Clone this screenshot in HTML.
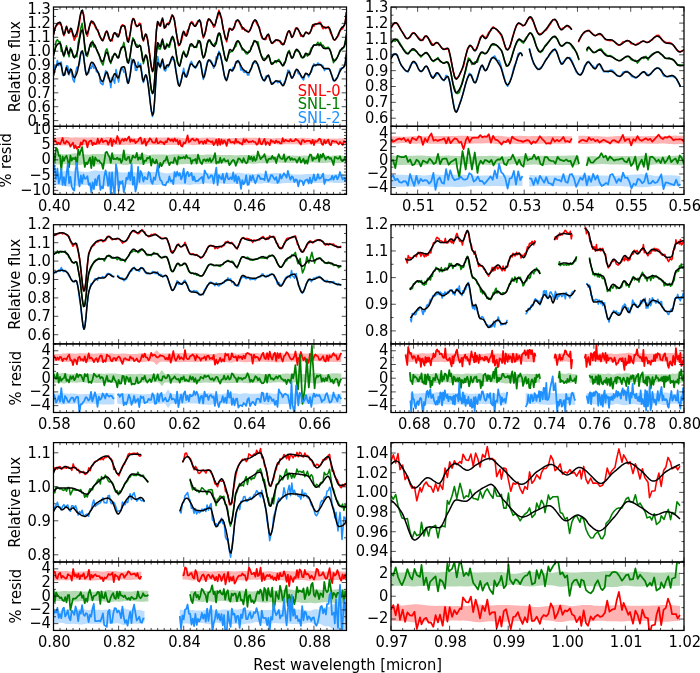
<!DOCTYPE html><html><head><meta charset="utf-8"><style>html,body{margin:0;padding:0;background:#fff;}svg{display:block;}</style></head><body><svg width="700" height="673" viewBox="0 0 700 673" font-family="DejaVu Sans, Liberation Sans, sans-serif" font-size="14.7"><rect width="700" height="673" fill="#fff"/><clipPath id="cm0"><rect x="53.5" y="7.0" width="293.0" height="119.3"/></clipPath><clipPath id="cr0"><rect x="53.5" y="126.3" width="293.0" height="68.10000000000001"/></clipPath><g clip-path="url(#cm0)"><path d="M53.5 34.7L54.8 28.6L56.1 25.8L57.4 24.8L58.7 23.3L60.0 24.0L61.3 25.2L62.6 29.7L63.9 35.8L65.2 32.0L66.5 26.3L67.8 31.5L69.1 33.2L70.4 31.2L71.7 31.1L73.0 35.3L74.3 40.2L75.6 37.2L76.9 36.1L78.2 29.3L79.5 22.5L80.8 13.4L82.1 11.9L83.5 14.0L84.8 24.3L86.1 33.0L87.4 36.3L88.7 29.8L90.0 24.4L91.3 21.0L92.6 23.6L93.9 23.7L95.2 26.9L96.5 29.5L97.8 29.7L99.1 34.9L100.4 37.3L101.7 38.8L103.0 40.7L104.3 36.8L105.6 32.6L106.9 31.0L108.2 36.0L109.5 39.5L110.8 39.7L112.1 40.9L113.4 34.1L114.7 32.7L116.0 34.7L117.3 33.9L118.6 35.4L119.9 32.8L121.2 26.3L122.5 24.8L123.8 25.5L125.1 26.6L126.4 35.4L127.7 40.8L129.0 38.1L130.3 33.0L131.6 23.0L132.9 18.6L134.2 19.1L135.5 24.8L136.8 26.6L138.1 25.7L139.4 23.1L140.7 24.0L142.1 36.6L143.4 41.1L144.7 35.4L146.0 35.9L147.3 38.2L148.6 46.5L149.9 55.4L151.2 65.4L152.5 71.7L153.8 68.0L155.1 51.3L156.4 30.0L157.7 22.3L159.0 24.8L160.3 26.3L161.6 21.0L162.9 19.6L164.2 28.2L165.5 27.4L166.8 24.4L168.1 23.0L169.4 22.4L170.7 19.3L172.0 14.8L173.3 16.6L174.6 20.3L175.9 30.0L177.2 37.7L178.5 45.7L179.8 44.5L181.1 42.2L182.4 36.7L183.7 31.7L185.0 35.2L186.3 35.8L187.6 30.2L188.9 28.7L190.2 23.9L191.5 21.6L192.8 22.7L194.1 25.4L195.4 25.9L196.7 23.1L198.0 20.8L199.3 21.1L200.7 22.6L202.0 30.7L203.3 37.9L204.6 34.8L205.9 30.5L207.2 21.9L208.5 19.0L209.8 19.4L211.1 22.0L212.4 23.5L213.7 27.3L215.0 25.9L216.3 19.6L217.6 17.1L218.9 10.3L220.2 15.7L221.5 18.0L222.8 27.1L224.1 32.4L225.4 38.4L226.7 41.8L228.0 34.2L229.3 28.2L230.6 29.2L231.9 30.3L233.2 29.2L234.5 27.0L235.8 20.9L237.1 20.7L238.4 20.5L239.7 23.4L241.0 25.9L242.3 29.1L243.6 27.7L244.9 30.4L246.2 30.0L247.5 31.5L248.8 32.2L250.1 30.0L251.4 27.1L252.7 23.1L254.0 21.0L255.3 20.3L256.6 23.2L257.9 25.7L259.3 27.0L260.6 33.8L261.9 37.9L263.2 39.0L264.5 38.5L265.8 39.6L267.1 35.7L268.4 34.9L269.7 39.3L271.0 41.7L272.3 43.4L273.6 42.1L274.9 41.5L276.2 39.7L277.5 40.7L278.8 40.5L280.1 42.0L281.4 44.1L282.7 43.3L284.0 44.1L285.3 39.7L286.6 35.4L287.9 32.0L289.2 30.7L290.5 33.0L291.8 37.4L293.1 35.9L294.4 32.3L295.7 27.9L297.0 27.8L298.3 29.5L299.6 32.8L300.9 36.1L302.2 35.6L303.5 35.9L304.8 33.9L306.1 32.1L307.4 32.9L308.7 33.8L310.0 32.4L311.3 30.4L312.6 24.9L313.9 26.5L315.2 24.0L316.5 24.1L317.9 23.5L319.2 22.2L320.5 22.6L321.8 26.5L323.1 28.8L324.4 26.7L325.7 28.5L327.0 27.5L328.3 26.5L329.6 29.8L330.9 33.7L332.2 35.7L333.5 39.3L334.8 40.2L336.1 38.6L337.4 37.1L338.7 34.9L340.0 30.8L341.3 29.4L342.6 28.8L343.9 25.9L345.2 22.7L346.5 12.2" stroke="#ff0000" stroke-width="1.55" fill="none" stroke-linejoin="round"/><path d="M53.5 53.9L54.8 51.0L56.1 41.2L57.4 39.7L58.7 41.9L60.0 41.5L61.3 51.4L62.6 51.1L63.9 56.6L65.2 51.0L66.5 45.8L67.8 52.7L69.1 56.7L70.4 47.7L71.7 51.0L73.0 54.9L74.3 57.6L75.6 55.2L76.9 56.8L78.2 42.6L79.5 37.3L80.8 28.4L82.1 23.2L83.5 33.7L84.8 49.0L86.1 55.4L87.4 56.4L88.7 51.0L90.0 44.8L91.3 46.7L92.6 41.1L93.9 47.2L95.2 45.4L96.5 49.4L97.8 52.8L99.1 55.2L100.4 59.9L101.7 62.9L103.0 65.2L104.3 58.7L105.6 50.9L106.9 48.8L108.2 53.3L109.5 59.4L110.8 63.5L112.1 56.9L113.4 55.7L114.7 53.3L116.0 54.8L117.3 56.8L118.6 57.8L119.9 52.2L121.2 49.4L122.5 47.4L123.8 42.4L125.1 49.1L126.4 57.2L127.7 62.3L129.0 60.4L130.3 55.5L131.6 45.1L132.9 37.9L134.2 40.1L135.5 44.0L136.8 44.4L138.1 47.1L139.4 44.9L140.7 46.9L142.1 53.7L143.4 63.6L144.7 58.1L146.0 55.4L147.3 58.3L148.6 67.5L149.9 77.5L151.2 90.3L152.5 93.4L153.8 90.6L155.1 74.0L156.4 52.9L157.7 44.6L159.0 48.9L160.3 48.9L161.6 44.8L162.9 42.2L164.2 48.2L165.5 48.9L166.8 43.5L168.1 46.7L169.4 47.3L170.7 41.9L172.0 38.5L173.3 39.2L174.6 42.1L175.9 51.8L177.2 61.7L178.5 64.0L179.8 65.6L181.1 60.3L182.4 54.6L183.7 51.0L185.0 54.8L186.3 55.4L187.6 53.6L188.9 48.7L190.2 44.4L191.5 45.9L192.8 45.5L194.1 47.5L195.4 47.1L196.7 47.4L198.0 40.4L199.3 40.7L200.7 45.1L202.0 53.8L203.3 57.9L204.6 56.0L205.9 51.3L207.2 43.9L208.5 41.2L209.8 39.9L211.1 43.6L212.4 45.0L213.7 45.4L215.0 43.1L216.3 43.6L217.6 37.2L218.9 34.6L220.2 33.8L221.5 41.6L222.8 47.4L224.1 53.6L225.4 59.8L226.7 61.3L228.0 56.3L229.3 52.9L230.6 51.7L231.9 51.6L233.2 50.2L234.5 47.7L235.8 46.4L237.1 42.3L238.4 40.9L239.7 43.1L241.0 46.5L242.3 49.9L243.6 49.3L244.9 51.9L246.2 53.7L247.5 53.9L248.8 51.1L250.1 50.9L251.4 46.5L252.7 45.2L254.0 40.5L255.3 41.6L256.6 42.3L257.9 41.7L259.3 47.9L260.6 53.5L261.9 56.7L263.2 58.7L264.5 58.4L265.8 58.7L267.1 57.8L268.4 54.9L269.7 58.1L271.0 63.1L272.3 62.8L273.6 62.9L274.9 60.9L276.2 62.6L277.5 60.5L278.8 59.3L280.1 61.3L281.4 63.9L282.7 65.7L284.0 62.8L285.3 62.3L286.6 56.8L287.9 52.3L289.2 50.5L290.5 55.4L291.8 57.9L293.1 57.2L294.4 53.3L295.7 50.4L297.0 51.0L298.3 50.9L299.6 52.2L300.9 57.0L302.2 58.0L303.5 57.4L304.8 56.3L306.1 53.7L307.4 56.1L308.7 54.3L310.0 51.5L311.3 48.2L312.6 47.3L313.9 44.7L315.2 44.9L316.5 44.5L317.9 42.2L319.2 45.6L320.5 42.5L321.8 45.2L323.1 45.2L324.4 47.3L325.7 48.6L327.0 47.6L328.3 47.2L329.6 49.1L330.9 52.1L332.2 57.6L333.5 62.7L334.8 59.9L336.1 58.7L337.4 56.9L338.7 54.1L340.0 50.1L341.3 49.6L342.6 48.8L343.9 47.4L345.2 41.8L346.5 35.3" stroke="#008000" stroke-width="1.55" fill="none" stroke-linejoin="round"/><path d="M53.5 70.5L54.8 66.4L56.1 66.8L57.4 60.4L58.7 65.6L60.0 63.6L61.3 62.0L62.6 74.9L63.9 75.4L65.2 74.5L66.5 65.8L67.8 66.3L69.1 74.9L70.4 68.7L71.7 73.6L73.0 79.6L74.3 82.2L75.6 72.8L76.9 67.2L78.2 67.0L79.5 63.4L80.8 52.2L82.1 52.8L83.5 53.7L84.8 65.8L86.1 74.1L87.4 73.4L88.7 72.9L90.0 67.5L91.3 68.3L92.6 64.1L93.9 68.4L95.2 66.6L96.5 71.8L97.8 71.6L99.1 73.6L100.4 82.6L101.7 84.0L103.0 84.7L104.3 77.2L105.6 70.8L106.9 71.6L108.2 78.1L109.5 78.2L110.8 87.6L112.1 77.3L113.4 79.5L114.7 83.2L116.0 69.5L117.3 75.1L118.6 82.0L119.9 73.6L121.2 69.9L122.5 68.0L123.8 72.1L125.1 72.0L126.4 76.5L127.7 83.4L129.0 79.2L130.3 74.4L131.6 58.9L132.9 62.5L134.2 60.4L135.5 70.2L136.8 70.4L138.1 62.1L139.4 67.2L140.7 63.9L142.1 75.0L143.4 82.6L144.7 76.9L146.0 74.7L147.3 79.3L148.6 86.2L149.9 98.0L151.2 110.3L152.5 116.5L153.8 110.8L155.1 93.8L156.4 71.2L157.7 56.5L159.0 63.5L160.3 67.9L161.6 62.4L162.9 62.7L164.2 70.2L165.5 71.0L166.8 66.3L168.1 67.1L169.4 63.6L170.7 61.7L172.0 57.7L173.3 59.8L174.6 60.2L175.9 70.4L177.2 76.9L178.5 84.2L179.8 83.9L181.1 81.4L182.4 74.0L183.7 68.3L185.0 76.7L186.3 75.4L187.6 71.7L188.9 68.4L190.2 63.4L191.5 61.4L192.8 65.8L194.1 66.1L195.4 68.4L196.7 66.4L198.0 63.7L199.3 61.2L200.7 63.3L202.0 71.0L203.3 79.4L204.6 73.0L205.9 68.2L207.2 62.3L208.5 60.1L209.8 60.0L211.1 60.9L212.4 63.5L213.7 68.3L215.0 64.6L216.3 56.9L217.6 58.8L218.9 51.2L220.2 54.1L221.5 60.2L222.8 65.0L224.1 75.5L225.4 78.8L226.7 78.6L228.0 76.1L229.3 70.6L230.6 69.2L231.9 71.1L233.2 67.4L234.5 67.9L235.8 61.9L237.1 62.9L238.4 60.5L239.7 63.8L241.0 70.1L242.3 69.0L243.6 72.0L244.9 72.4L246.2 70.7L247.5 75.0L248.8 75.0L250.1 69.8L251.4 68.5L252.7 63.0L254.0 62.0L255.3 62.9L256.6 63.0L257.9 64.2L259.3 68.5L260.6 73.8L261.9 77.4L263.2 80.0L264.5 81.1L265.8 76.2L267.1 75.9L268.4 76.2L269.7 78.6L271.0 82.1L272.3 83.2L273.6 82.8L274.9 82.0L276.2 80.5L277.5 82.6L278.8 82.4L280.1 80.5L281.4 84.1L282.7 84.9L284.0 83.1L285.3 80.2L286.6 76.6L287.9 70.1L289.2 70.7L290.5 75.5L291.8 77.6L293.1 76.6L294.4 74.8L295.7 70.5L297.0 70.1L298.3 73.8L299.6 73.7L300.9 76.3L302.2 78.3L303.5 80.0L304.8 75.3L306.1 73.7L307.4 74.5L308.7 76.9L310.0 73.3L311.3 72.1L312.6 67.2L313.9 63.8L315.2 66.0L316.5 65.3L317.9 62.9L319.2 64.7L320.5 64.5L321.8 65.2L323.1 65.9L324.4 70.6L325.7 68.8L327.0 69.0L328.3 69.1L329.6 69.6L330.9 73.0L332.2 76.0L333.5 80.7L334.8 80.2L336.1 78.6L337.4 77.6L338.7 73.7L340.0 68.9L341.3 68.2L342.6 68.2L343.9 66.7L345.2 63.9L346.5 52.4" stroke="#1e90ff" stroke-width="1.55" fill="none" stroke-linejoin="round"/><path d="M53.5 34.9L54.5 30.3L55.5 27.0L56.5 24.7L57.5 23.4L58.5 22.6L59.5 22.3L60.5 22.5L61.5 25.9L62.5 30.9L63.5 34.5L64.5 33.8L65.5 29.5L66.5 26.4L67.5 29.4L68.5 33.0L69.5 31.1L70.5 28.3L71.5 28.7L72.5 32.3L73.5 36.0L74.5 36.7L75.5 35.3L76.5 33.2L77.5 30.1L78.5 25.1L79.5 19.4L80.5 14.2L81.5 10.6L82.5 10.1L83.5 14.9L84.5 22.7L85.5 30.2L86.5 34.0L87.5 32.9L88.5 30.0L89.5 26.2L90.5 22.9L91.5 21.2L92.5 21.4L93.5 22.4L94.5 24.0L95.5 26.0L96.5 28.2L97.5 30.4L98.5 32.4L99.5 34.9L100.5 37.7L101.5 39.8L102.5 40.6L103.5 39.1L104.5 36.2L105.5 33.1L106.5 31.2L107.5 32.0L108.5 35.5L109.5 39.3L110.5 41.1L111.5 40.0L112.5 37.4L113.5 34.6L114.5 32.7L115.5 32.9L116.5 34.9L117.5 36.8L118.5 36.8L119.5 33.4L120.5 28.9L121.5 26.4L122.5 25.9L123.5 25.7L124.5 25.9L125.5 30.0L126.5 36.3L127.5 41.4L128.5 42.1L129.5 38.1L130.5 31.6L131.5 24.7L132.5 19.7L133.5 18.6L134.5 20.6L135.5 23.7L136.5 26.0L137.5 26.3L138.5 25.5L139.5 24.7L140.5 25.0L141.5 30.9L142.5 38.4L143.5 40.3L144.5 37.1L145.5 33.9L146.5 34.6L147.5 39.1L148.5 45.9L149.5 53.9L150.5 61.6L151.5 67.8L152.5 71.4L153.5 69.6L154.5 59.0L155.5 44.1L156.5 29.9L157.5 21.6L158.5 22.3L159.5 25.5L160.5 25.7L161.5 20.8L162.5 18.0L163.5 22.5L164.5 27.9L165.5 27.3L166.5 24.4L167.5 23.9L168.5 24.8L169.5 23.2L170.5 20.1L171.5 17.0L172.5 15.4L173.5 16.9L174.5 21.2L175.5 27.4L176.5 34.0L177.5 40.0L178.5 44.1L179.5 45.2L180.5 42.7L181.5 38.2L182.5 33.7L183.5 31.2L184.5 32.4L185.5 35.4L186.5 36.0L187.5 33.7L188.5 30.0L189.5 26.1L190.5 23.3L191.5 22.7L192.5 23.6L193.5 25.1L194.5 26.2L195.5 26.2L196.5 24.8L197.5 22.8L198.5 20.9L199.5 19.8L200.5 21.7L201.5 27.6L202.5 33.9L203.5 36.8L204.5 35.1L205.5 31.1L206.5 26.1L207.5 21.6L208.5 19.1L209.5 19.2L210.5 20.4L211.5 22.0L212.5 23.7L213.5 25.0L214.5 25.5L215.5 23.5L216.5 19.5L217.5 15.1L218.5 12.2L219.5 12.1L220.5 14.6L221.5 18.9L222.5 24.3L223.5 29.8L224.5 34.7L225.5 38.2L226.5 39.6L227.5 37.2L228.5 32.5L229.5 28.7L230.5 28.6L231.5 29.5L232.5 29.7L233.5 28.3L234.5 25.8L235.5 23.0L236.5 20.7L237.5 19.8L238.5 20.4L239.5 21.9L240.5 23.8L241.5 25.9L242.5 27.6L243.5 28.7L244.5 29.5L245.5 30.4L246.5 31.1L247.5 31.5L248.5 31.7L249.5 31.0L250.5 29.1L251.5 26.6L252.5 23.9L253.5 21.6L254.5 20.1L255.5 19.9L256.5 21.1L257.5 23.2L258.5 26.0L259.5 29.2L260.5 32.4L261.5 35.4L262.5 37.8L263.5 39.3L264.5 39.5L265.5 38.3L266.5 36.3L267.5 34.6L268.5 34.1L269.5 36.7L270.5 40.7L271.5 43.3L272.5 43.1L273.5 42.1L274.5 41.0L275.5 40.1L276.5 40.0L277.5 40.1L278.5 40.3L279.5 40.6L280.5 41.5L281.5 43.2L282.5 44.7L283.5 44.6L284.5 42.7L285.5 39.7L286.5 36.2L287.5 33.0L288.5 31.0L289.5 31.0L290.5 34.0L291.5 37.0L292.5 37.0L293.5 35.0L294.5 32.1L295.5 29.6L296.5 28.3L297.5 28.7L298.5 30.0L299.5 31.8L300.5 33.7L301.5 35.4L302.5 36.5L303.5 36.6L304.5 34.3L305.5 32.2L306.5 32.4L307.5 33.2L308.5 33.9L309.5 33.6L310.5 31.5L311.5 28.7L312.5 26.0L313.5 24.5L314.5 24.3L315.5 24.1L316.5 23.9L317.5 23.8L318.5 23.7L319.5 23.6L320.5 23.7L321.5 24.6L322.5 26.1L323.5 27.2L324.5 27.4L325.5 27.4L326.5 27.4L327.5 27.4L328.5 27.4L329.5 28.1L330.5 30.5L331.5 33.7L332.5 36.9L333.5 39.3L334.5 40.0L335.5 39.3L336.5 37.9L337.5 36.0L338.5 33.8L339.5 31.5L340.5 29.5L341.5 27.9L342.5 26.9L343.5 26.3L344.5 25.1L345.5 20.1L346.5 12.0" stroke="#000" stroke-width="1.5" fill="none" stroke-linejoin="round"/><path d="M53.5 55.9L54.5 51.3L55.5 48.0L56.5 45.7L57.5 44.4L58.5 43.6L59.5 43.3L60.5 43.5L61.5 46.9L62.5 51.9L63.5 55.5L64.5 54.8L65.5 50.5L66.5 47.4L67.5 50.4L68.5 54.0L69.5 52.1L70.5 49.3L71.5 49.7L72.5 53.3L73.5 57.0L74.5 57.7L75.5 56.3L76.5 54.2L77.5 51.0L78.5 45.7L79.5 39.7L80.5 34.2L81.5 30.5L82.5 29.9L83.5 34.9L84.5 43.2L85.5 51.0L86.5 55.0L87.5 53.9L88.5 51.0L89.5 47.2L90.5 43.9L91.5 42.2L92.5 42.4L93.5 43.4L94.5 45.0L95.5 47.0L96.5 49.2L97.5 51.4L98.5 53.4L99.5 55.9L100.5 58.7L101.5 60.8L102.5 61.6L103.5 60.1L104.5 57.2L105.5 54.1L106.5 52.2L107.5 53.0L108.5 56.5L109.5 60.3L110.5 62.1L111.5 61.0L112.5 58.4L113.5 55.6L114.5 53.7L115.5 53.9L116.5 55.9L117.5 57.8L118.5 57.8L119.5 54.4L120.5 49.9L121.5 47.4L122.5 46.9L123.5 46.7L124.5 46.9L125.5 51.0L126.5 57.3L127.5 62.4L128.5 63.1L129.5 59.1L130.5 52.6L131.5 45.7L132.5 40.7L133.5 39.6L134.5 41.6L135.5 44.7L136.5 47.0L137.5 47.3L138.5 46.5L139.5 45.7L140.5 46.0L141.5 51.9L142.5 59.4L143.5 61.3L144.5 58.1L145.5 54.9L146.5 55.7L147.5 60.3L148.5 67.4L149.5 75.5L150.5 83.5L151.5 90.0L152.5 93.6L153.5 91.9L154.5 81.0L155.5 65.7L156.5 51.1L157.5 42.7L158.5 43.3L159.5 46.5L160.5 46.7L161.5 41.8L162.5 39.0L163.5 43.5L164.5 48.9L165.5 48.3L166.5 45.4L167.5 44.9L168.5 45.8L169.5 44.2L170.5 41.1L171.5 38.0L172.5 36.4L173.5 37.9L174.5 42.2L175.5 48.4L176.5 55.0L177.5 61.0L178.5 65.1L179.5 66.2L180.5 63.7L181.5 59.2L182.5 54.7L183.5 52.2L184.5 53.4L185.5 56.4L186.5 57.0L187.5 54.7L188.5 51.0L189.5 47.1L190.5 44.3L191.5 43.7L192.5 44.6L193.5 46.1L194.5 47.2L195.5 47.2L196.5 45.8L197.5 43.8L198.5 41.9L199.5 40.8L200.5 42.7L201.5 48.6L202.5 54.9L203.5 57.8L204.5 56.1L205.5 52.1L206.5 47.1L207.5 42.6L208.5 40.1L209.5 40.2L210.5 41.4L211.5 43.0L212.5 44.7L213.5 46.0L214.5 46.5L215.5 44.5L216.5 40.5L217.5 36.1L218.5 33.2L219.5 33.1L220.5 35.6L221.5 39.9L222.5 45.3L223.5 50.8L224.5 55.7L225.5 59.2L226.5 60.6L227.5 58.2L228.5 53.5L229.5 49.7L230.5 49.6L231.5 50.5L232.5 50.7L233.5 49.3L234.5 46.8L235.5 44.0L236.5 41.7L237.5 40.8L238.5 41.4L239.5 42.9L240.5 44.8L241.5 46.9L242.5 48.6L243.5 49.7L244.5 50.5L245.5 51.4L246.5 52.1L247.5 52.5L248.5 52.7L249.5 52.0L250.5 50.1L251.5 47.6L252.5 44.9L253.5 42.6L254.5 41.1L255.5 40.9L256.5 42.1L257.5 44.2L258.5 47.0L259.5 50.2L260.5 53.4L261.5 56.4L262.5 58.8L263.5 60.3L264.5 60.5L265.5 59.3L266.5 57.3L267.5 55.6L268.5 55.1L269.5 57.7L270.5 61.7L271.5 64.3L272.5 64.1L273.5 63.1L274.5 62.0L275.5 61.1L276.5 61.0L277.5 61.1L278.5 61.3L279.5 61.6L280.5 62.5L281.5 64.2L282.5 65.7L283.5 65.6L284.5 63.7L285.5 60.7L286.5 57.2L287.5 54.0L288.5 52.0L289.5 52.0L290.5 55.0L291.5 58.0L292.5 58.0L293.5 56.0L294.5 53.1L295.5 50.6L296.5 49.3L297.5 49.7L298.5 51.0L299.5 52.8L300.5 54.7L301.5 56.4L302.5 57.5L303.5 57.6L304.5 55.3L305.5 53.2L306.5 53.4L307.5 54.2L308.5 54.9L309.5 54.6L310.5 52.5L311.5 49.7L312.5 47.0L313.5 45.5L314.5 45.3L315.5 45.1L316.5 44.9L317.5 44.8L318.5 44.7L319.5 44.6L320.5 44.7L321.5 45.6L322.5 47.1L323.5 48.2L324.5 48.4L325.5 48.4L326.5 48.4L327.5 48.4L328.5 48.4L329.5 49.1L330.5 51.5L331.5 54.7L332.5 57.9L333.5 60.3L334.5 61.0L335.5 60.3L336.5 58.9L337.5 57.0L338.5 54.8L339.5 52.5L340.5 50.5L341.5 48.9L342.5 47.9L343.5 47.3L344.5 46.1L345.5 41.1L346.5 33.0" stroke="#000" stroke-width="1.5" fill="none" stroke-linejoin="round"/><path d="M53.5 75.9L54.5 71.3L55.5 68.0L56.5 65.7L57.5 64.4L58.5 63.6L59.5 63.3L60.5 63.5L61.5 66.9L62.5 71.9L63.5 75.5L64.5 74.8L65.5 70.5L66.5 67.4L67.5 70.4L68.5 74.0L69.5 72.1L70.5 69.3L71.5 69.7L72.5 73.4L73.5 77.0L74.5 77.7L75.5 76.3L76.5 74.2L77.5 71.0L78.5 66.0L79.5 60.3L80.5 55.0L81.5 51.4L82.5 50.9L83.5 55.7L84.5 63.6L85.5 71.2L86.5 75.0L87.5 73.9L88.5 71.0L89.5 67.2L90.5 63.9L91.5 62.2L92.5 62.4L93.5 63.4L94.5 65.0L95.5 67.0L96.5 69.2L97.5 71.4L98.5 73.4L99.5 75.9L100.5 78.7L101.5 80.8L102.5 81.6L103.5 80.1L104.5 77.2L105.5 74.1L106.5 72.2L107.5 73.0L108.5 76.5L109.5 80.3L110.5 82.1L111.5 81.0L112.5 78.4L113.5 75.6L114.5 73.7L115.5 73.9L116.5 75.9L117.5 77.8L118.5 77.8L119.5 74.4L120.5 69.9L121.5 67.4L122.5 66.9L123.5 66.7L124.5 66.9L125.5 71.0L126.5 77.3L127.5 82.4L128.5 83.1L129.5 79.1L130.5 72.6L131.5 65.7L132.5 60.7L133.5 59.6L134.5 61.6L135.5 64.7L136.5 67.0L137.5 67.3L138.5 66.5L139.5 65.7L140.5 66.0L141.5 71.9L142.5 79.4L143.5 81.3L144.5 78.1L145.5 74.9L146.5 75.7L147.5 80.5L148.5 87.9L149.5 96.4L150.5 104.7L151.5 111.4L152.5 115.2L153.5 113.4L154.5 102.2L155.5 86.4L156.5 71.4L157.5 62.7L158.5 63.3L159.5 66.5L160.5 66.7L161.5 61.8L162.5 59.0L163.5 63.5L164.5 68.9L165.5 68.3L166.5 65.4L167.5 64.9L168.5 65.8L169.5 64.2L170.5 61.1L171.5 58.0L172.5 56.4L173.5 57.9L174.5 62.2L175.5 68.4L176.5 75.0L177.5 81.0L178.5 85.1L179.5 86.2L180.5 83.7L181.5 79.2L182.5 74.7L183.5 72.2L184.5 73.4L185.5 76.4L186.5 77.0L187.5 74.7L188.5 71.0L189.5 67.1L190.5 64.3L191.5 63.7L192.5 64.6L193.5 66.1L194.5 67.2L195.5 67.2L196.5 65.8L197.5 63.8L198.5 61.9L199.5 60.8L200.5 62.7L201.5 68.6L202.5 74.9L203.5 77.8L204.5 76.1L205.5 72.1L206.5 67.1L207.5 62.6L208.5 60.1L209.5 60.2L210.5 61.4L211.5 63.0L212.5 64.7L213.5 66.0L214.5 66.5L215.5 64.5L216.5 60.5L217.5 56.1L218.5 53.2L219.5 53.1L220.5 55.6L221.5 59.9L222.5 65.3L223.5 70.8L224.5 75.7L225.5 79.2L226.5 80.6L227.5 78.2L228.5 73.5L229.5 69.7L230.5 69.6L231.5 70.5L232.5 70.7L233.5 69.3L234.5 66.8L235.5 64.0L236.5 61.7L237.5 60.8L238.5 61.4L239.5 62.9L240.5 64.8L241.5 66.9L242.5 68.6L243.5 69.7L244.5 70.5L245.5 71.4L246.5 72.1L247.5 72.5L248.5 72.7L249.5 72.0L250.5 70.1L251.5 67.6L252.5 64.9L253.5 62.6L254.5 61.1L255.5 60.9L256.5 62.1L257.5 64.2L258.5 67.0L259.5 70.2L260.5 73.4L261.5 76.4L262.5 78.8L263.5 80.3L264.5 80.5L265.5 79.3L266.5 77.3L267.5 75.6L268.5 75.1L269.5 77.7L270.5 81.7L271.5 84.3L272.5 84.1L273.5 83.1L274.5 82.0L275.5 81.1L276.5 81.0L277.5 81.1L278.5 81.3L279.5 81.6L280.5 82.5L281.5 84.2L282.5 85.7L283.5 85.6L284.5 83.7L285.5 80.7L286.5 77.2L287.5 74.0L288.5 72.0L289.5 72.0L290.5 75.0L291.5 78.0L292.5 78.0L293.5 76.0L294.5 73.1L295.5 70.6L296.5 69.3L297.5 69.7L298.5 71.0L299.5 72.8L300.5 74.7L301.5 76.4L302.5 77.5L303.5 77.6L304.5 75.3L305.5 73.2L306.5 73.4L307.5 74.2L308.5 74.9L309.5 74.6L310.5 72.5L311.5 69.7L312.5 67.0L313.5 65.5L314.5 65.3L315.5 65.1L316.5 64.9L317.5 64.8L318.5 64.7L319.5 64.6L320.5 64.7L321.5 65.6L322.5 67.1L323.5 68.2L324.5 68.4L325.5 68.4L326.5 68.4L327.5 68.4L328.5 68.4L329.5 69.1L330.5 71.5L331.5 74.7L332.5 77.9L333.5 80.3L334.5 81.0L335.5 80.3L336.5 78.9L337.5 77.0L338.5 74.8L339.5 72.5L340.5 70.5L341.5 68.9L342.5 67.9L343.5 67.3L344.5 66.1L345.5 61.1L346.5 53.0" stroke="#000" stroke-width="1.5" fill="none" stroke-linejoin="round"/></g><g clip-path="url(#cr0)"><path d="M53.5 137.2L54.8 137.3L56.1 137.4L57.4 137.4L58.7 137.3L60.0 137.2L61.3 137.0L62.6 136.9L63.9 136.9L65.2 136.9L66.5 136.9L67.8 137.1L69.1 137.3L70.4 137.5L71.7 137.5L73.0 137.5L74.3 137.4L75.6 137.3L76.9 137.3L78.2 137.4L79.5 137.5L80.8 137.5L82.1 137.5L83.5 137.4L84.8 137.4L86.1 137.5L87.4 137.5L88.7 137.5L90.0 137.5L91.3 137.4L92.6 137.3L93.9 137.3L95.2 137.4L96.5 137.5L97.8 137.6L99.1 137.6L100.4 137.6L101.7 137.5L103.0 137.4L104.3 137.4L105.6 137.2L106.9 137.1L108.2 137.0L109.5 137.0L110.8 137.1L112.1 137.3L113.4 137.5L114.7 137.6L116.0 137.6L117.3 137.6L118.6 137.5L119.9 137.4L121.2 137.4L122.5 137.4L123.8 137.5L125.1 137.6L126.4 137.7L127.7 137.7L129.0 137.6L130.3 137.6L131.6 137.7L132.9 137.7L134.2 137.8L135.5 137.9L136.8 137.9L138.1 137.9L139.4 137.9L140.7 137.8L142.1 137.7L143.4 137.7L144.7 137.7L146.0 137.7L147.3 137.8L148.6 137.8L149.9 137.8L151.2 137.7L152.5 137.7L153.8 137.6L155.1 137.6L156.4 137.6L157.7 137.6L159.0 137.7L160.3 137.6L161.6 137.6L162.9 137.6L164.2 137.5L165.5 137.5L166.8 137.5L168.1 137.5L169.4 137.6L170.7 137.6L172.0 137.5L173.3 137.5L174.6 137.5L175.9 137.4L177.2 137.4L178.5 137.5L179.8 137.7L181.1 137.9L182.4 138.0L183.7 138.1L185.0 138.2L186.3 138.2L187.6 138.1L188.9 137.9L190.2 137.7L191.5 137.5L192.8 137.3L194.1 137.3L195.4 137.4L196.7 137.6L198.0 137.7L199.3 137.9L200.7 137.9L202.0 137.8L203.3 137.7L204.6 137.7L205.9 137.6L207.2 137.6L208.5 137.6L209.8 137.6L211.1 137.5L212.4 137.5L213.7 137.6L215.0 137.8L216.3 137.9L217.6 138.0L218.9 138.1L220.2 138.1L221.5 138.1L222.8 138.1L224.1 138.2L225.4 138.3L226.7 138.4L228.0 138.4L229.3 138.3L230.6 138.2L231.9 138.1L233.2 138.0L234.5 138.0L235.8 138.1L237.1 138.1L238.4 138.1L239.7 138.0L241.0 137.8L242.3 137.7L243.6 137.5L244.9 137.5L246.2 137.6L247.5 137.7L248.8 137.8L250.1 137.8L251.4 137.8L252.7 137.7L254.0 137.7L255.3 137.7L256.6 137.7L257.9 137.8L259.3 137.8L260.6 137.8L261.9 137.9L263.2 138.0L264.5 138.0L265.8 138.0L267.1 138.1L268.4 138.1L269.7 138.2L271.0 138.3L272.3 138.4L273.6 138.3L274.9 138.2L276.2 138.1L277.5 138.1L278.8 138.0L280.1 138.0L281.4 138.0L282.7 138.1L284.0 138.2L285.3 138.2L286.6 138.3L287.9 138.3L289.2 138.3L290.5 138.3L291.8 138.3L293.1 138.3L294.4 138.3L295.7 138.3L297.0 138.2L298.3 138.1L299.6 138.0L300.9 137.8L302.2 137.7L303.5 137.7L304.8 137.8L306.1 137.9L307.4 138.1L308.7 138.2L310.0 138.3L311.3 138.4L312.6 138.6L313.9 138.6L315.2 138.7L316.5 138.7L317.9 138.6L319.2 138.5L320.5 138.4L321.8 138.4L323.1 138.4L324.4 138.4L325.7 138.5L327.0 138.5L328.3 138.5L329.6 138.5L330.9 138.5L332.2 138.5L333.5 138.5L334.8 138.6L336.1 138.6L337.4 138.7L338.7 138.6L340.0 138.5L341.3 138.4L342.6 138.3L343.9 138.1L345.2 138.1L346.5 138.1L346.5 144.4L345.2 144.4L343.9 144.3L342.6 144.2L341.3 144.1L340.0 144.0L338.7 143.9L337.4 143.8L336.1 143.9L334.8 143.9L333.5 144.0L332.2 144.0L330.9 144.0L329.6 144.0L328.3 144.0L327.0 144.0L325.7 144.0L324.4 144.1L323.1 144.1L321.8 144.1L320.5 144.1L319.2 144.0L317.9 143.9L316.5 143.8L315.2 143.8L313.9 143.8L312.6 143.9L311.3 144.1L310.0 144.2L308.7 144.3L307.4 144.4L306.1 144.6L304.8 144.7L303.5 144.8L302.2 144.7L300.9 144.7L299.6 144.5L298.3 144.4L297.0 144.3L295.7 144.2L294.4 144.2L293.1 144.2L291.8 144.2L290.5 144.2L289.2 144.2L287.9 144.2L286.6 144.2L285.3 144.2L284.0 144.3L282.7 144.4L281.4 144.5L280.1 144.5L278.8 144.5L277.5 144.4L276.2 144.3L274.9 144.3L273.6 144.2L272.3 144.1L271.0 144.2L269.7 144.3L268.4 144.3L267.1 144.4L265.8 144.4L264.5 144.5L263.2 144.5L261.9 144.6L260.6 144.7L259.3 144.7L257.9 144.7L256.6 144.8L255.3 144.8L254.0 144.8L252.7 144.8L251.4 144.7L250.1 144.7L248.8 144.7L247.5 144.8L246.2 144.9L244.9 145.0L243.6 145.0L242.3 144.8L241.0 144.7L239.7 144.5L238.4 144.4L237.1 144.3L235.8 144.4L234.5 144.5L233.2 144.5L231.9 144.4L230.6 144.3L229.3 144.2L228.0 144.1L226.7 144.1L225.4 144.2L224.1 144.3L222.8 144.4L221.5 144.4L220.2 144.4L218.9 144.4L217.6 144.4L216.3 144.5L215.0 144.7L213.7 144.9L212.4 145.0L211.1 145.0L209.8 144.9L208.5 144.9L207.2 144.8L205.9 144.8L204.6 144.8L203.3 144.8L202.0 144.7L200.7 144.6L199.3 144.6L198.0 144.8L196.7 144.9L195.4 145.1L194.1 145.2L192.8 145.2L191.5 145.0L190.2 144.8L188.9 144.6L187.6 144.4L186.3 144.3L185.0 144.3L183.7 144.4L182.4 144.5L181.1 144.6L179.8 144.8L178.5 145.0L177.2 145.1L175.9 145.1L174.6 145.0L173.3 145.0L172.0 144.9L170.7 144.9L169.4 144.9L168.1 145.0L166.8 145.0L165.5 145.0L164.2 145.0L162.9 144.9L161.6 144.9L160.3 144.9L159.0 144.8L157.7 144.8L156.4 144.9L155.1 144.9L153.8 144.8L152.5 144.8L151.2 144.8L149.9 144.7L148.6 144.7L147.3 144.7L146.0 144.8L144.7 144.8L143.4 144.8L142.1 144.8L140.7 144.7L139.4 144.6L138.1 144.6L136.8 144.6L135.5 144.6L134.2 144.7L132.9 144.8L131.6 144.8L130.3 144.9L129.0 144.9L127.7 144.8L126.4 144.8L125.1 144.9L123.8 145.0L122.5 145.0L121.2 145.1L119.9 145.1L118.6 145.0L117.3 144.9L116.0 144.9L114.7 144.9L113.4 145.0L112.1 145.2L110.8 145.4L109.5 145.5L108.2 145.5L106.9 145.4L105.6 145.3L104.3 145.1L103.0 145.0L101.7 145.0L100.4 144.9L99.1 144.8L97.8 144.9L96.5 145.0L95.2 145.1L93.9 145.2L92.6 145.2L91.3 145.1L90.0 145.0L88.7 145.0L87.4 145.0L86.1 145.0L84.8 145.1L83.5 145.1L82.1 145.0L80.8 145.0L79.5 145.0L78.2 145.1L76.9 145.2L75.6 145.2L74.3 145.1L73.0 145.0L71.7 145.0L70.4 145.0L69.1 145.2L67.8 145.4L66.5 145.5L65.2 145.6L63.9 145.6L62.6 145.6L61.3 145.5L60.0 145.3L58.7 145.2L57.4 145.1L56.1 145.1L54.8 145.2L53.5 145.2Z" fill="#ff0000" fill-opacity="0.3"/><path d="M53.5 154.2L54.8 154.1L56.1 154.1L57.4 154.1L58.7 154.1L60.0 154.1L61.3 154.2L62.6 154.3L63.9 154.3L65.2 154.3L66.5 154.2L67.8 154.1L69.1 153.9L70.4 153.7L71.7 153.5L73.0 153.4L74.3 153.3L75.6 153.2L76.9 153.3L78.2 153.4L79.5 153.6L80.8 153.8L82.1 154.0L83.5 154.2L84.8 154.3L86.1 154.5L87.4 154.5L88.7 154.5L90.0 154.4L91.3 154.2L92.6 154.0L93.9 153.9L95.2 153.9L96.5 154.0L97.8 154.1L99.1 154.0L100.4 153.9L101.7 153.9L103.0 154.0L104.3 154.2L105.6 154.5L106.9 154.7L108.2 154.7L109.5 154.6L110.8 154.4L112.1 154.3L113.4 154.2L114.7 154.1L116.0 154.2L117.3 154.2L118.6 154.2L119.9 154.2L121.2 154.0L122.5 153.8L123.8 153.6L125.1 153.5L126.4 153.6L127.7 153.8L129.0 154.0L130.3 154.2L131.6 154.4L132.9 154.4L134.2 154.4L135.5 154.3L136.8 154.3L138.1 154.2L139.4 154.1L140.7 154.0L142.1 154.0L143.4 154.1L144.7 154.3L146.0 154.6L147.3 154.8L148.6 154.9L149.9 154.9L151.2 154.8L152.5 154.6L153.8 154.5L155.1 154.4L156.4 154.5L157.7 154.5L159.0 154.6L160.3 154.6L161.6 154.6L162.9 154.6L164.2 154.6L165.5 154.6L166.8 154.7L168.1 154.7L169.4 154.7L170.7 154.6L172.0 154.5L173.3 154.3L174.6 154.2L175.9 154.2L177.2 154.2L178.5 154.3L179.8 154.3L181.1 154.3L182.4 154.3L183.7 154.3L185.0 154.4L186.3 154.5L187.6 154.6L188.9 154.6L190.2 154.5L191.5 154.4L192.8 154.2L194.1 154.2L195.4 154.3L196.7 154.5L198.0 154.8L199.3 155.0L200.7 155.1L202.0 155.1L203.3 154.9L204.6 154.7L205.9 154.5L207.2 154.4L208.5 154.4L209.8 154.5L211.1 154.6L212.4 154.8L213.7 154.9L215.0 154.9L216.3 154.9L217.6 155.0L218.9 155.0L220.2 155.1L221.5 155.1L222.8 155.1L224.1 155.0L225.4 155.0L226.7 154.9L228.0 155.0L229.3 155.0L230.6 155.1L231.9 155.1L233.2 155.3L234.5 155.3L235.8 155.4L237.1 155.3L238.4 155.2L239.7 155.0L241.0 154.9L242.3 154.9L243.6 154.9L244.9 154.9L246.2 154.9L247.5 155.0L248.8 155.0L250.1 154.9L251.4 154.8L252.7 154.7L254.0 154.6L255.3 154.7L256.6 154.9L257.9 155.1L259.3 155.2L260.6 155.3L261.9 155.2L263.2 155.2L264.5 155.2L265.8 155.2L267.1 155.3L268.4 155.5L269.7 155.6L271.0 155.8L272.3 155.9L273.6 155.9L274.9 156.0L276.2 156.1L277.5 156.1L278.8 156.0L280.1 155.8L281.4 155.6L282.7 155.5L284.0 155.4L285.3 155.4L286.6 155.4L287.9 155.4L289.2 155.4L290.5 155.4L291.8 155.5L293.1 155.6L294.4 155.7L295.7 155.8L297.0 155.8L298.3 155.8L299.6 155.8L300.9 155.7L302.2 155.7L303.5 155.6L304.8 155.6L306.1 155.6L307.4 155.7L308.7 155.8L310.0 155.9L311.3 155.9L312.6 156.0L313.9 155.9L315.2 155.8L316.5 155.7L317.9 155.6L319.2 155.5L320.5 155.5L321.8 155.4L323.1 155.4L324.4 155.4L325.7 155.5L327.0 155.6L328.3 155.8L329.6 155.9L330.9 155.9L332.2 155.7L333.5 155.6L334.8 155.5L336.1 155.3L337.4 155.3L338.7 155.3L340.0 155.4L341.3 155.6L342.6 155.8L343.9 156.1L345.2 156.3L346.5 156.4L346.5 162.1L345.2 162.2L343.9 162.4L342.6 162.7L341.3 162.9L340.0 163.1L338.7 163.2L337.4 163.2L336.1 163.1L334.8 163.0L333.5 162.9L332.2 162.7L330.9 162.6L329.6 162.6L328.3 162.7L327.0 162.8L325.7 163.0L324.4 163.1L323.1 163.1L321.8 163.1L320.5 163.0L319.2 163.0L317.9 162.9L316.5 162.8L315.2 162.7L313.9 162.6L312.6 162.5L311.3 162.5L310.0 162.6L308.7 162.7L307.4 162.8L306.1 162.9L304.8 162.9L303.5 162.9L302.2 162.8L300.9 162.8L299.6 162.7L298.3 162.7L297.0 162.7L295.7 162.7L294.4 162.8L293.1 162.9L291.8 163.0L290.5 163.1L289.2 163.1L287.9 163.0L286.6 163.0L285.3 163.1L284.0 163.1L282.7 163.0L281.4 162.8L280.1 162.7L278.8 162.5L277.5 162.4L276.2 162.4L274.9 162.5L273.6 162.5L272.3 162.6L271.0 162.7L269.7 162.8L268.4 163.0L267.1 163.1L265.8 163.3L264.5 163.3L263.2 163.3L261.9 163.2L260.6 163.2L259.3 163.3L257.9 163.4L256.6 163.6L255.3 163.8L254.0 163.8L252.7 163.8L251.4 163.7L250.1 163.5L248.8 163.5L247.5 163.5L246.2 163.5L244.9 163.6L243.6 163.6L242.3 163.6L241.0 163.5L239.7 163.4L238.4 163.3L237.1 163.2L235.8 163.1L234.5 163.1L233.2 163.2L231.9 163.3L230.6 163.4L229.3 163.5L228.0 163.5L226.7 163.5L225.4 163.5L224.1 163.5L222.8 163.4L221.5 163.4L220.2 163.4L218.9 163.5L217.6 163.5L216.3 163.5L215.0 163.6L213.7 163.6L212.4 163.7L211.1 163.9L209.8 164.0L208.5 164.1L207.2 164.1L205.9 164.0L204.6 163.8L203.3 163.6L202.0 163.4L200.7 163.3L199.3 163.5L198.0 163.7L196.7 164.0L195.4 164.2L194.1 164.3L192.8 164.2L191.5 164.1L190.2 164.0L188.9 163.9L187.6 163.9L186.3 164.0L185.0 164.1L183.7 164.2L182.4 164.2L181.1 164.2L179.8 164.2L178.5 164.2L177.2 164.3L175.9 164.3L174.6 164.2L173.3 164.1L172.0 164.0L170.7 163.9L169.4 163.8L168.1 163.8L166.8 163.8L165.5 163.8L164.2 163.8L162.9 163.9L161.6 163.9L160.3 163.9L159.0 163.9L157.7 164.0L156.4 164.0L155.1 164.0L153.8 164.0L152.5 163.9L151.2 163.7L149.9 163.6L148.6 163.6L147.3 163.7L146.0 163.9L144.7 164.2L143.4 164.4L142.1 164.5L140.7 164.5L139.4 164.4L138.1 164.3L136.8 164.2L135.5 164.2L134.2 164.1L132.9 164.1L131.6 164.1L130.3 164.2L129.0 164.5L127.7 164.7L126.4 164.9L125.1 165.0L123.8 164.9L122.5 164.7L121.2 164.5L119.9 164.3L118.6 164.3L117.3 164.3L116.0 164.3L114.7 164.3L113.4 164.3L112.1 164.2L110.8 164.0L109.5 163.9L108.2 163.8L106.9 163.8L105.6 164.0L104.3 164.3L103.0 164.5L101.7 164.6L100.4 164.6L99.1 164.5L97.8 164.4L96.5 164.4L95.2 164.5L93.9 164.6L92.6 164.5L91.3 164.3L90.0 164.1L88.7 164.0L87.4 163.9L86.1 164.0L84.8 164.2L83.5 164.3L82.1 164.5L80.8 164.7L79.5 164.9L78.2 165.1L76.9 165.2L75.6 165.2L74.3 165.2L73.0 165.1L71.7 164.9L70.4 164.8L69.1 164.6L67.8 164.4L66.5 164.2L65.2 164.1L63.9 164.1L62.6 164.2L61.3 164.3L60.0 164.4L58.7 164.4L57.4 164.4L56.1 164.4L54.8 164.3L53.5 164.3Z" fill="#008000" fill-opacity="0.3"/><path d="M53.5 171.2L54.8 171.5L56.1 171.7L57.4 171.8L58.7 171.8L60.0 171.7L61.3 171.6L62.6 171.4L63.9 171.1L65.2 170.9L66.5 170.7L67.8 170.5L69.1 170.6L70.4 170.7L71.7 171.0L73.0 171.2L74.3 171.2L75.6 171.2L76.9 171.2L78.2 171.2L79.5 171.2L80.8 171.4L82.1 171.6L83.5 171.8L84.8 171.9L86.1 172.0L87.4 171.9L88.7 171.8L90.0 171.5L91.3 171.1L92.6 170.9L93.9 170.6L95.2 170.5L96.5 170.6L97.8 170.8L99.1 170.9L100.4 171.0L101.7 171.0L103.0 171.0L104.3 171.0L105.6 171.0L106.9 171.1L108.2 171.2L109.5 171.4L110.8 171.5L112.1 171.5L113.4 171.4L114.7 171.4L116.0 171.5L117.3 171.8L118.6 172.0L119.9 172.3L121.2 172.4L122.5 172.5L123.8 172.5L125.1 172.4L126.4 172.4L127.7 172.3L129.0 172.2L130.3 172.2L131.6 172.2L132.9 172.2L134.2 172.3L135.5 172.4L136.8 172.5L138.1 172.5L139.4 172.4L140.7 172.4L142.1 172.3L143.4 172.2L144.7 172.3L146.0 172.3L147.3 172.4L148.6 172.4L149.9 172.3L151.2 172.1L152.5 172.0L153.8 172.0L155.1 172.0L156.4 172.0L157.7 172.0L159.0 172.1L160.3 172.3L161.6 172.5L162.9 172.8L164.2 173.1L165.5 173.3L166.8 173.4L168.1 173.3L169.4 173.2L170.7 173.0L172.0 172.8L173.3 172.6L174.6 172.4L175.9 172.4L177.2 172.4L178.5 172.4L179.8 172.4L181.1 172.4L182.4 172.4L183.7 172.4L185.0 172.4L186.3 172.3L187.6 172.1L188.9 172.0L190.2 172.0L191.5 172.2L192.8 172.5L194.1 172.7L195.4 172.7L196.7 172.6L198.0 172.5L199.3 172.6L200.7 172.8L202.0 173.1L203.3 173.4L204.6 173.6L205.9 173.6L207.2 173.4L208.5 173.3L209.8 173.2L211.1 173.2L212.4 173.2L213.7 173.3L215.0 173.4L216.3 173.5L217.6 173.6L218.9 173.6L220.2 173.6L221.5 173.4L222.8 173.3L224.1 173.2L225.4 173.2L226.7 173.0L228.0 173.0L229.3 173.0L230.6 173.1L231.9 173.2L233.2 173.2L234.5 173.2L235.8 173.0L237.1 172.8L238.4 172.7L239.7 172.8L241.0 173.0L242.3 173.3L243.6 173.4L244.9 173.4L246.2 173.4L247.5 173.4L248.8 173.5L250.1 173.6L251.4 173.8L252.7 174.0L254.0 174.0L255.3 173.9L256.6 173.7L257.9 173.5L259.3 173.3L260.6 173.3L261.9 173.4L263.2 173.6L264.5 173.8L265.8 173.9L267.1 173.9L268.4 173.8L269.7 173.6L271.0 173.4L272.3 173.2L273.6 173.1L274.9 173.0L276.2 173.0L277.5 173.0L278.8 173.1L280.1 173.3L281.4 173.5L282.7 173.8L284.0 173.9L285.3 174.0L286.6 173.9L287.9 173.8L289.2 173.8L290.5 173.8L291.8 174.0L293.1 174.2L294.4 174.4L295.7 174.5L297.0 174.5L298.3 174.4L299.6 174.4L300.9 174.4L302.2 174.4L303.5 174.3L304.8 174.2L306.1 174.1L307.4 173.9L308.7 173.9L310.0 173.9L311.3 173.9L312.6 173.9L313.9 173.9L315.2 173.9L316.5 173.9L317.9 173.8L319.2 173.8L320.5 173.8L321.8 173.8L323.1 173.9L324.4 174.0L325.7 174.2L327.0 174.4L328.3 174.5L329.6 174.5L330.9 174.5L332.2 174.4L333.5 174.2L334.8 174.1L336.1 174.0L337.4 174.0L338.7 174.0L340.0 174.0L341.3 174.1L342.6 174.2L343.9 174.3L345.2 174.4L346.5 174.5L346.5 182.4L345.2 182.5L343.9 182.6L342.6 182.7L341.3 182.9L340.0 182.9L338.7 183.0L337.4 182.9L336.1 182.9L334.8 182.9L333.5 182.7L332.2 182.5L330.9 182.4L329.6 182.4L328.3 182.4L327.0 182.5L325.7 182.7L324.4 182.9L323.1 183.0L321.8 183.1L320.5 183.1L319.2 183.1L317.9 183.1L316.5 183.0L315.2 183.0L313.9 183.0L312.6 183.0L311.3 183.0L310.0 183.0L308.7 183.0L307.4 183.0L306.1 182.8L304.8 182.7L303.5 182.6L302.2 182.5L300.9 182.5L299.6 182.5L298.3 182.5L297.0 182.4L295.7 182.5L294.4 182.5L293.1 182.7L291.8 182.9L290.5 183.1L289.2 183.1L287.9 183.1L286.6 183.0L285.3 182.9L284.0 183.0L282.7 183.2L281.4 183.4L280.1 183.7L278.8 183.8L277.5 183.9L276.2 183.9L274.9 183.9L273.6 183.8L272.3 183.7L271.0 183.5L269.7 183.3L268.4 183.1L267.1 183.0L265.8 183.0L264.5 183.1L263.2 183.3L261.9 183.5L260.6 183.7L259.3 183.6L257.9 183.4L256.6 183.2L255.3 183.0L254.0 182.9L252.7 182.9L251.4 183.1L250.1 183.3L248.8 183.4L247.5 183.5L246.2 183.5L244.9 183.5L243.6 183.5L242.3 183.6L241.0 183.9L239.7 184.1L238.4 184.2L237.1 184.1L235.8 183.9L234.5 183.7L233.2 183.7L231.9 183.7L230.6 183.8L229.3 183.9L228.0 184.0L226.7 183.9L225.4 183.8L224.1 183.7L222.8 183.6L221.5 183.5L220.2 183.4L218.9 183.3L217.6 183.3L216.3 183.4L215.0 183.5L213.7 183.6L212.4 183.8L211.1 183.8L209.8 183.7L208.5 183.6L207.2 183.5L205.9 183.3L204.6 183.3L203.3 183.5L202.0 183.8L200.7 184.1L199.3 184.3L198.0 184.4L196.7 184.3L195.4 184.2L194.1 184.2L192.8 184.5L191.5 184.8L190.2 184.9L188.9 184.9L187.6 184.8L186.3 184.6L185.0 184.5L183.7 184.5L182.4 184.5L181.1 184.5L179.8 184.5L178.5 184.5L177.2 184.5L175.9 184.5L174.6 184.5L173.3 184.3L172.0 184.1L170.7 183.9L169.4 183.7L168.1 183.6L166.8 183.6L165.5 183.6L164.2 183.8L162.9 184.1L161.6 184.4L160.3 184.6L159.0 184.8L157.7 184.9L156.4 184.9L155.1 184.9L153.8 184.9L152.5 184.9L151.2 184.8L149.9 184.6L148.6 184.5L147.3 184.5L146.0 184.6L144.7 184.7L143.4 184.7L142.1 184.6L140.7 184.5L139.4 184.5L138.1 184.4L136.8 184.4L135.5 184.5L134.2 184.6L132.9 184.7L131.6 184.7L130.3 184.7L129.0 184.7L127.7 184.6L126.4 184.5L125.1 184.5L123.8 184.5L122.5 184.4L121.2 184.5L119.9 184.7L118.6 184.9L117.3 185.1L116.0 185.4L114.7 185.5L113.4 185.5L112.1 185.4L110.8 185.4L109.5 185.5L108.2 185.7L106.9 185.8L105.6 185.9L104.3 185.9L103.0 185.9L101.7 185.9L100.4 185.9L99.1 186.0L97.8 186.1L96.5 186.3L95.2 186.4L93.9 186.3L92.6 186.1L91.3 185.8L90.0 185.4L88.7 185.1L87.4 185.0L86.1 184.9L84.8 185.0L83.5 185.1L82.1 185.3L80.8 185.5L79.5 185.7L78.2 185.7L76.9 185.7L75.6 185.7L74.3 185.7L73.0 185.7L71.7 185.9L70.4 186.2L69.1 186.4L67.8 186.4L66.5 186.3L65.2 186.1L63.9 185.8L62.6 185.5L61.3 185.3L60.0 185.2L58.7 185.1L57.4 185.1L56.1 185.2L54.8 185.4L53.5 185.7Z" fill="#1e90ff" fill-opacity="0.3"/><path d="M53.5 140.9L54.8 140.1L56.1 141.8L57.4 143.7L58.7 142.7L60.0 144.3L61.3 141.5L62.6 138.0L63.9 143.0L65.2 143.6L66.5 141.0L67.8 142.0L69.1 143.2L70.4 146.6L71.7 144.5L73.0 142.8L74.3 148.2L75.6 145.5L76.9 148.8L78.2 146.6L79.5 147.4L80.8 142.5L82.1 144.7L83.5 140.3L84.8 140.4L86.1 141.2L87.4 147.3L88.7 142.1L90.0 140.9L91.3 140.7L92.6 145.2L93.9 142.6L95.2 144.1L96.5 143.7L97.8 138.7L99.1 143.4L100.4 141.2L101.7 138.6L103.0 142.3L104.3 141.1L105.6 140.7L106.9 141.0L108.2 144.6L109.5 141.6L110.8 138.6L112.1 146.1L113.4 139.9L114.7 141.5L116.0 143.1L117.3 136.0L118.6 139.0L119.9 143.8L121.2 140.5L122.5 139.1L123.8 141.0L125.1 138.7L126.4 140.5L127.7 138.6L129.0 136.6L130.3 141.8L131.6 139.5L132.9 141.2L134.2 139.7L135.5 143.1L136.8 141.7L138.1 140.9L139.4 138.2L140.7 137.6L142.1 143.7L143.4 142.5L144.7 139.0L146.0 145.7L147.3 142.1L148.6 141.4L149.9 138.2L151.2 139.7L152.5 142.4L153.8 142.7L155.1 142.6L156.4 138.4L157.7 143.3L159.0 143.0L160.3 141.3L161.6 142.3L162.9 142.3L164.2 144.3L165.5 141.4L166.8 142.2L168.1 138.3L169.4 139.4L170.7 140.9L172.0 139.3L173.3 141.7L174.6 138.5L175.9 141.1L177.2 139.8L178.5 144.4L179.8 140.7L181.1 145.7L182.4 146.5L183.7 142.4L185.0 143.5L186.3 140.7L187.6 135.3L188.9 142.1L190.2 141.3L191.5 139.3L192.8 138.7L194.1 140.4L195.4 140.7L196.7 138.9L198.0 139.6L199.3 143.5L200.7 141.5L202.0 141.3L203.3 143.9L204.6 140.9L205.9 143.4L207.2 139.3L208.5 141.1L209.8 141.2L211.1 142.5L212.4 141.2L213.7 145.1L215.0 143.0L216.3 139.6L217.6 145.3L218.9 138.9L220.2 144.9L221.5 139.7L222.8 143.6L224.1 140.4L225.4 142.1L226.7 145.9L228.0 139.8L229.3 139.3L230.6 142.3L231.9 142.4L233.2 141.9L234.5 143.5L235.8 138.9L237.1 142.5L238.4 141.6L239.7 143.3L241.0 143.1L242.3 144.6L243.6 139.2L244.9 142.1L246.2 139.5L247.5 141.2L248.8 142.4L250.1 141.5L251.4 141.9L252.7 140.9L254.0 142.0L255.3 142.1L256.6 144.7L257.9 143.7L259.3 138.7L260.6 143.6L261.9 144.4L263.2 141.4L264.5 139.0L265.8 144.9L267.1 142.1L268.4 142.9L269.7 145.2L271.0 140.0L272.3 141.6L273.6 141.4L274.9 143.1L276.2 140.5L277.5 142.5L278.8 141.6L280.1 143.4L281.4 143.5L282.7 138.2L284.0 141.7L285.3 139.9L286.6 140.4L287.9 141.2L289.2 141.4L290.5 139.2L291.8 141.2L293.1 141.2L294.4 141.0L295.7 138.9L297.0 140.0L298.3 140.8L299.6 142.8L300.9 144.5L302.2 140.0L303.5 140.0L304.8 142.2L306.1 141.1L307.4 140.8L308.7 140.9L310.0 140.8L311.3 143.6L312.6 139.8L313.9 145.1L315.2 141.0L316.5 141.7L317.9 140.8L319.2 138.7L320.5 139.3L321.8 144.1L323.1 144.9L324.4 140.0L325.7 143.4L327.0 141.3L328.3 139.6L329.6 144.3L330.9 145.2L332.2 140.8L333.5 141.2L334.8 141.8L336.1 141.3L337.4 143.0L338.7 144.3L340.0 141.9L341.3 143.5L342.6 144.9L343.9 141.2L345.2 142.4L346.5 141.7" stroke="#ff0000" stroke-width="1.75" fill="none" stroke-linejoin="round"/><path d="M53.5 154.7L54.8 161.1L56.1 147.9L57.4 149.3L58.7 155.8L60.0 155.5L61.3 170.5L62.6 156.4L63.9 160.9L65.2 157.4L66.5 155.8L67.8 160.6L69.1 167.1L70.4 155.5L71.7 160.7L73.0 158.0L74.3 159.0L75.6 157.3L76.9 167.5L78.2 149.5L79.5 154.9L80.8 151.0L82.1 147.1L83.5 157.5L84.8 167.0L86.1 162.5L87.4 164.1L88.7 160.5L90.0 157.6L91.3 168.1L92.6 156.5L93.9 165.9L95.2 157.3L96.5 159.7L97.8 161.1L99.1 160.3L100.4 162.8L101.7 163.5L103.0 168.8L104.3 161.1L105.6 152.5L106.9 151.9L108.2 154.8L109.5 157.2L110.8 162.9L112.1 153.2L113.4 159.1L114.7 158.7L116.0 159.3L117.3 157.6L118.6 159.8L119.9 158.6L121.2 162.8L122.5 160.2L123.8 150.3L125.1 159.4L126.4 160.1L127.7 157.4L129.0 156.8L130.3 163.1L131.6 159.7L132.9 155.6L134.2 157.4L135.5 157.6L136.8 152.8L138.1 159.8L139.4 157.3L140.7 159.2L142.1 153.3L143.4 164.1L144.7 160.7L146.0 160.8L147.3 157.7L148.6 158.4L149.9 156.4L151.2 165.7L152.5 158.8L153.8 162.1L155.1 163.3L156.4 159.7L157.7 164.2L159.0 167.8L160.3 162.8L161.6 166.2L162.9 163.7L164.2 160.6L165.5 160.6L166.8 156.5L168.1 161.5L169.4 165.1L170.7 162.3L172.0 162.4L173.3 162.9L174.6 157.7L175.9 160.7L177.2 164.5L178.5 156.5L179.8 158.8L181.1 157.4L182.4 158.2L183.7 156.8L185.0 158.6L186.3 155.2L187.6 157.8L188.9 158.0L190.2 158.1L191.5 163.8L192.8 160.1L194.1 160.4L195.4 159.0L196.7 163.5L198.0 154.6L199.3 158.9L200.7 162.7L202.0 164.1L203.3 159.9L204.6 159.4L205.9 161.3L207.2 159.1L208.5 161.4L209.8 158.1L211.1 162.0L212.4 160.3L213.7 157.6L215.0 153.2L216.3 163.6L217.6 162.0L218.9 162.8L220.2 157.7L221.5 162.8L222.8 160.4L224.1 158.7L225.4 161.3L226.7 161.2L228.0 160.1L229.3 165.1L230.6 163.6L231.9 161.2L233.2 159.9L234.5 161.2L235.8 165.8L237.1 162.1L238.4 158.4L239.7 158.9L241.0 160.5L242.3 162.6L243.6 158.2L244.9 161.5L246.2 163.2L247.5 162.2L248.8 155.9L250.1 159.4L251.4 156.7L252.7 161.1L254.0 156.9L255.3 160.8L256.6 159.2L257.9 151.5L259.3 155.9L260.6 159.1L261.9 157.7L263.2 156.5L264.5 154.1L265.8 159.0L267.1 162.8L268.4 159.1L269.7 158.6L271.0 158.8L272.3 155.8L273.6 158.8L274.9 157.7L276.2 163.1L277.5 157.7L278.8 154.2L280.1 157.7L281.4 158.9L282.7 158.9L284.0 154.3L285.3 161.5L286.6 159.1L287.9 157.5L289.2 156.7L290.5 160.0L291.8 158.1L293.1 159.9L294.4 159.0L295.7 159.8L297.0 162.6L298.3 159.7L299.6 157.4L300.9 162.6L302.2 160.9L303.5 158.7L304.8 163.6L306.1 160.3L307.4 163.7L308.7 157.8L310.0 154.5L311.3 155.0L312.6 160.7L313.9 157.7L315.2 158.8L316.5 158.3L317.9 154.0L319.2 161.3L320.5 154.7L321.8 157.5L323.1 153.6L324.4 157.0L325.7 159.6L327.0 157.5L328.3 156.7L329.6 158.9L330.9 158.0L332.2 160.8L333.5 165.0L334.8 157.0L336.1 157.3L337.4 158.6L338.7 158.7L340.0 156.2L341.3 160.3L342.6 161.2L343.9 160.1L345.2 156.8L346.5 163.7" stroke="#008000" stroke-width="1.75" fill="none" stroke-linejoin="round"/><path d="M53.5 164.0L54.8 168.8L56.1 179.0L57.4 168.5L58.7 183.4L60.0 179.1L61.3 168.6L62.6 185.0L63.9 177.2L65.2 185.3L66.5 174.5L67.8 163.6L69.1 183.2L70.4 176.8L71.7 186.5L73.0 189.3L74.3 190.5L75.6 169.9L76.9 163.0L78.2 177.4L79.5 186.5L80.8 175.5L82.1 183.4L83.5 174.7L84.8 178.6L86.1 178.7L87.4 176.2L88.7 184.9L90.0 183.3L91.3 192.7L92.6 182.4L93.9 189.1L95.2 179.1L96.5 185.1L97.8 177.4L99.1 175.3L100.4 190.0L101.7 186.5L103.0 188.4L104.3 176.7L105.6 170.3L106.9 177.0L108.2 186.0L109.5 172.7L110.8 194.4L112.1 172.4L113.4 188.2L114.7 195.9L116.0 164.3L117.3 172.0L118.6 190.6L119.9 181.4L121.2 183.7L122.5 181.0L123.8 192.1L125.1 186.1L126.4 177.7L127.7 179.4L129.0 172.3L130.3 180.2L131.6 163.8L132.9 184.9L134.2 177.2L135.5 191.6L136.8 185.9L138.1 166.8L139.4 182.0L140.7 171.0L142.1 174.8L143.4 181.5L144.7 177.0L146.0 178.6L147.3 179.1L148.6 172.0L149.9 173.3L151.2 181.5L152.5 183.9L153.8 177.3L155.1 179.8L156.4 173.6L157.7 164.9L159.0 175.2L160.3 180.1L161.6 181.0L162.9 184.7L164.2 184.9L165.5 185.3L166.8 182.1L168.1 182.0L169.4 176.4L170.7 181.4L172.0 180.2L173.3 184.2L174.6 172.0L175.9 176.6L177.2 171.7L178.5 175.6L179.8 173.1L181.1 179.4L182.4 175.9L183.7 168.6L185.0 182.8L186.3 173.9L187.6 171.8L188.9 176.2L190.2 174.8L191.5 172.9L192.8 180.1L194.1 176.4L195.4 181.4L196.7 180.9L198.0 180.9L199.3 179.2L200.7 178.1L202.0 176.8L203.3 183.3L204.6 170.5L205.9 173.2L207.2 174.5L208.5 178.4L209.8 177.4L211.1 175.2L212.4 175.9L213.7 183.7L215.0 175.2L216.3 167.6L217.6 185.1L218.9 175.1L220.2 177.4L221.5 179.2L222.8 173.8L224.1 182.9L225.4 178.0L226.7 173.1L228.0 178.8L229.3 179.4L230.6 177.3L231.9 179.3L233.2 172.3L234.5 181.3L235.8 175.2L237.1 183.1L238.4 176.6L239.7 179.7L241.0 188.8L242.3 180.1L243.6 184.2L244.9 182.2L246.2 175.3L247.5 184.8L248.8 184.6L250.1 175.8L251.4 180.4L252.7 175.3L254.0 179.4L255.3 183.3L256.6 180.2L257.9 175.4L259.3 176.1L260.6 179.1L261.9 178.6L263.2 178.8L264.5 180.1L265.8 171.3L267.1 177.7L268.4 181.6L269.7 179.3L271.0 175.1L272.3 175.4L273.6 177.9L274.9 179.6L276.2 177.1L277.5 182.8L278.8 181.4L280.1 174.3L281.4 178.6L282.7 175.8L284.0 173.2L285.3 175.3L286.6 177.7L287.9 170.9L289.2 176.0L290.5 179.7L291.8 176.3L293.1 177.7L294.4 182.1L295.7 179.3L297.0 180.3L298.3 186.3L299.6 180.4L300.9 180.7L302.2 181.2L303.5 185.1L304.8 180.9L306.1 179.9L307.4 179.5L308.7 183.5L310.0 177.6L311.3 183.4L312.6 179.8L313.9 174.5L315.2 180.6L316.5 179.6L317.9 174.1L319.2 178.6L320.5 178.2L321.8 176.4L323.1 173.6L324.4 184.0L325.7 179.5L327.0 180.0L328.3 180.2L329.6 179.4L330.9 179.4L332.2 175.8L333.5 179.7L334.8 176.6L336.1 175.8L337.4 179.4L338.7 176.7L340.0 172.0L341.3 176.2L342.6 179.3L343.9 177.7L345.2 180.6L346.5 177.1" stroke="#1e90ff" stroke-width="1.75" fill="none" stroke-linejoin="round"/></g><path d="M53.50 126.30L53.50 121.50M53.50 7.00L53.50 11.80M118.61 126.30L118.61 121.50M118.61 7.00L118.61 11.80M183.72 126.30L183.72 121.50M183.72 7.00L183.72 11.80M248.83 126.30L248.83 121.50M248.83 7.00L248.83 11.80M313.94 126.30L313.94 121.50M313.94 7.00L313.94 11.80M53.50 120.60L58.30 120.60M346.50 120.60L341.70 120.60M53.50 106.71L58.30 106.71M346.50 106.71L341.70 106.71M53.50 92.82L58.30 92.82M346.50 92.82L341.70 92.82M53.50 78.94L58.30 78.94M346.50 78.94L341.70 78.94M53.50 65.05L58.30 65.05M346.50 65.05L341.70 65.05M53.50 51.16L58.30 51.16M346.50 51.16L341.70 51.16M53.50 37.27L58.30 37.27M346.50 37.27L341.70 37.27M53.50 23.39L58.30 23.39M346.50 23.39L341.70 23.39M53.50 9.50L58.30 9.50M346.50 9.50L341.70 9.50M60.01 126.30L60.01 123.80M60.01 7.00L60.01 9.50M66.52 126.30L66.52 123.80M66.52 7.00L66.52 9.50M73.03 126.30L73.03 123.80M73.03 7.00L73.03 9.50M79.54 126.30L79.54 123.80M79.54 7.00L79.54 9.50M86.06 126.30L86.06 123.80M86.06 7.00L86.06 9.50M92.57 126.30L92.57 123.80M92.57 7.00L92.57 9.50M99.08 126.30L99.08 123.80M99.08 7.00L99.08 9.50M105.59 126.30L105.59 123.80M105.59 7.00L105.59 9.50M112.10 126.30L112.10 123.80M112.10 7.00L112.10 9.50M125.12 126.30L125.12 123.80M125.12 7.00L125.12 9.50M131.63 126.30L131.63 123.80M131.63 7.00L131.63 9.50M138.14 126.30L138.14 123.80M138.14 7.00L138.14 9.50M144.66 126.30L144.66 123.80M144.66 7.00L144.66 9.50M151.17 126.30L151.17 123.80M151.17 7.00L151.17 9.50M157.68 126.30L157.68 123.80M157.68 7.00L157.68 9.50M164.19 126.30L164.19 123.80M164.19 7.00L164.19 9.50M170.70 126.30L170.70 123.80M170.70 7.00L170.70 9.50M177.21 126.30L177.21 123.80M177.21 7.00L177.21 9.50M190.23 126.30L190.23 123.80M190.23 7.00L190.23 9.50M196.74 126.30L196.74 123.80M196.74 7.00L196.74 9.50M203.26 126.30L203.26 123.80M203.26 7.00L203.26 9.50M209.77 126.30L209.77 123.80M209.77 7.00L209.77 9.50M216.28 126.30L216.28 123.80M216.28 7.00L216.28 9.50M222.79 126.30L222.79 123.80M222.79 7.00L222.79 9.50M229.30 126.30L229.30 123.80M229.30 7.00L229.30 9.50M235.81 126.30L235.81 123.80M235.81 7.00L235.81 9.50M242.32 126.30L242.32 123.80M242.32 7.00L242.32 9.50M255.34 126.30L255.34 123.80M255.34 7.00L255.34 9.50M261.86 126.30L261.86 123.80M261.86 7.00L261.86 9.50M268.37 126.30L268.37 123.80M268.37 7.00L268.37 9.50M274.88 126.30L274.88 123.80M274.88 7.00L274.88 9.50M281.39 126.30L281.39 123.80M281.39 7.00L281.39 9.50M287.90 126.30L287.90 123.80M287.90 7.00L287.90 9.50M294.41 126.30L294.41 123.80M294.41 7.00L294.41 9.50M300.92 126.30L300.92 123.80M300.92 7.00L300.92 9.50M307.43 126.30L307.43 123.80M307.43 7.00L307.43 9.50M320.46 126.30L320.46 123.80M320.46 7.00L320.46 9.50M326.97 126.30L326.97 123.80M326.97 7.00L326.97 9.50M333.48 126.30L333.48 123.80M333.48 7.00L333.48 9.50M339.99 126.30L339.99 123.80M339.99 7.00L339.99 9.50M346.50 126.30L346.50 123.80M346.50 7.00L346.50 9.50M53.50 113.66L56.00 113.66M346.50 113.66L344.00 113.66M53.50 99.77L56.00 99.77M346.50 99.77L344.00 99.77M53.50 85.88L56.00 85.88M346.50 85.88L344.00 85.88M53.50 71.99L56.00 71.99M346.50 71.99L344.00 71.99M53.50 58.11L56.00 58.11M346.50 58.11L344.00 58.11M53.50 44.22L56.00 44.22M346.50 44.22L344.00 44.22M53.50 30.33L56.00 30.33M346.50 30.33L344.00 30.33M53.50 16.44L56.00 16.44M346.50 16.44L344.00 16.44" stroke="#000" stroke-width="0.7" fill="none"/><rect x="53.5" y="7.0" width="293.00" height="119.30" fill="none" stroke="#000" stroke-width="1.25"/><text transform="translate(50.90,125.50) scale(1,1.06)" text-anchor="end">0.5</text><text transform="translate(50.90,111.61) scale(1,1.06)" text-anchor="end">0.6</text><text transform="translate(50.90,97.72) scale(1,1.06)" text-anchor="end">0.7</text><text transform="translate(50.90,83.84) scale(1,1.06)" text-anchor="end">0.8</text><text transform="translate(50.90,69.95) scale(1,1.06)" text-anchor="end">0.9</text><text transform="translate(50.90,56.06) scale(1,1.06)" text-anchor="end">1.0</text><text transform="translate(50.90,42.17) scale(1,1.06)" text-anchor="end">1.1</text><text transform="translate(50.90,28.29) scale(1,1.06)" text-anchor="end">1.2</text><text transform="translate(50.90,14.40) scale(1,1.06)" text-anchor="end">1.3</text><path d="M53.50 194.40L53.50 189.60M53.50 126.30L53.50 131.10M118.61 194.40L118.61 189.60M118.61 126.30L118.61 131.10M183.72 194.40L183.72 189.60M183.72 126.30L183.72 131.10M248.83 194.40L248.83 189.60M248.83 126.30L248.83 131.10M313.94 194.40L313.94 189.60M313.94 126.30L313.94 131.10M53.50 190.35L58.30 190.35M346.50 190.35L341.70 190.35M53.50 175.10L58.30 175.10M346.50 175.10L341.70 175.10M53.50 159.85L58.30 159.85M346.50 159.85L341.70 159.85M53.50 144.60L58.30 144.60M346.50 144.60L341.70 144.60M53.50 129.35L58.30 129.35M346.50 129.35L341.70 129.35M60.01 194.40L60.01 191.90M60.01 126.30L60.01 128.80M66.52 194.40L66.52 191.90M66.52 126.30L66.52 128.80M73.03 194.40L73.03 191.90M73.03 126.30L73.03 128.80M79.54 194.40L79.54 191.90M79.54 126.30L79.54 128.80M86.06 194.40L86.06 191.90M86.06 126.30L86.06 128.80M92.57 194.40L92.57 191.90M92.57 126.30L92.57 128.80M99.08 194.40L99.08 191.90M99.08 126.30L99.08 128.80M105.59 194.40L105.59 191.90M105.59 126.30L105.59 128.80M112.10 194.40L112.10 191.90M112.10 126.30L112.10 128.80M125.12 194.40L125.12 191.90M125.12 126.30L125.12 128.80M131.63 194.40L131.63 191.90M131.63 126.30L131.63 128.80M138.14 194.40L138.14 191.90M138.14 126.30L138.14 128.80M144.66 194.40L144.66 191.90M144.66 126.30L144.66 128.80M151.17 194.40L151.17 191.90M151.17 126.30L151.17 128.80M157.68 194.40L157.68 191.90M157.68 126.30L157.68 128.80M164.19 194.40L164.19 191.90M164.19 126.30L164.19 128.80M170.70 194.40L170.70 191.90M170.70 126.30L170.70 128.80M177.21 194.40L177.21 191.90M177.21 126.30L177.21 128.80M190.23 194.40L190.23 191.90M190.23 126.30L190.23 128.80M196.74 194.40L196.74 191.90M196.74 126.30L196.74 128.80M203.26 194.40L203.26 191.90M203.26 126.30L203.26 128.80M209.77 194.40L209.77 191.90M209.77 126.30L209.77 128.80M216.28 194.40L216.28 191.90M216.28 126.30L216.28 128.80M222.79 194.40L222.79 191.90M222.79 126.30L222.79 128.80M229.30 194.40L229.30 191.90M229.30 126.30L229.30 128.80M235.81 194.40L235.81 191.90M235.81 126.30L235.81 128.80M242.32 194.40L242.32 191.90M242.32 126.30L242.32 128.80M255.34 194.40L255.34 191.90M255.34 126.30L255.34 128.80M261.86 194.40L261.86 191.90M261.86 126.30L261.86 128.80M268.37 194.40L268.37 191.90M268.37 126.30L268.37 128.80M274.88 194.40L274.88 191.90M274.88 126.30L274.88 128.80M281.39 194.40L281.39 191.90M281.39 126.30L281.39 128.80M287.90 194.40L287.90 191.90M287.90 126.30L287.90 128.80M294.41 194.40L294.41 191.90M294.41 126.30L294.41 128.80M300.92 194.40L300.92 191.90M300.92 126.30L300.92 128.80M307.43 194.40L307.43 191.90M307.43 126.30L307.43 128.80M320.46 194.40L320.46 191.90M320.46 126.30L320.46 128.80M326.97 194.40L326.97 191.90M326.97 126.30L326.97 128.80M333.48 194.40L333.48 191.90M333.48 126.30L333.48 128.80M339.99 194.40L339.99 191.90M339.99 126.30L339.99 128.80M346.50 194.40L346.50 191.90M346.50 126.30L346.50 128.80M53.50 193.40L56.00 193.40M346.50 193.40L344.00 193.40M53.50 187.30L56.00 187.30M346.50 187.30L344.00 187.30M53.50 184.25L56.00 184.25M346.50 184.25L344.00 184.25M53.50 181.20L56.00 181.20M346.50 181.20L344.00 181.20M53.50 178.15L56.00 178.15M346.50 178.15L344.00 178.15M53.50 172.05L56.00 172.05M346.50 172.05L344.00 172.05M53.50 169.00L56.00 169.00M346.50 169.00L344.00 169.00M53.50 165.95L56.00 165.95M346.50 165.95L344.00 165.95M53.50 162.90L56.00 162.90M346.50 162.90L344.00 162.90M53.50 156.80L56.00 156.80M346.50 156.80L344.00 156.80M53.50 153.75L56.00 153.75M346.50 153.75L344.00 153.75M53.50 150.70L56.00 150.70M346.50 150.70L344.00 150.70M53.50 147.65L56.00 147.65M346.50 147.65L344.00 147.65M53.50 141.55L56.00 141.55M346.50 141.55L344.00 141.55M53.50 138.50L56.00 138.50M346.50 138.50L344.00 138.50M53.50 135.45L56.00 135.45M346.50 135.45L344.00 135.45M53.50 132.40L56.00 132.40M346.50 132.40L344.00 132.40M53.50 126.30L56.00 126.30M346.50 126.30L344.00 126.30" stroke="#000" stroke-width="0.7" fill="none"/><rect x="53.5" y="126.3" width="293.00" height="68.10" fill="none" stroke="#000" stroke-width="1.25"/><text transform="translate(50.90,133.75) scale(1,1.06)" text-anchor="end">10</text><text transform="translate(50.90,149.00) scale(1,1.06)" text-anchor="end">5</text><text transform="translate(50.90,164.25) scale(1,1.06)" text-anchor="end">0</text><text transform="translate(50.90,179.50) scale(1,1.06)" text-anchor="end">−5</text><text transform="translate(50.90,194.75) scale(1,1.06)" text-anchor="end">−10</text><text transform="translate(54.30,211.10) scale(1,1.06)" text-anchor="middle">0.40</text><text transform="translate(119.41,211.10) scale(1,1.06)" text-anchor="middle">0.42</text><text transform="translate(184.52,211.10) scale(1,1.06)" text-anchor="middle">0.44</text><text transform="translate(249.63,211.10) scale(1,1.06)" text-anchor="middle">0.46</text><text transform="translate(314.74,211.10) scale(1,1.06)" text-anchor="middle">0.48</text><clipPath id="cm1"><rect x="391.0" y="7.0" width="293.0" height="119.3"/></clipPath><clipPath id="cr1"><rect x="391.0" y="126.3" width="293.0" height="68.10000000000001"/></clipPath><g clip-path="url(#cm1)"><path d="M391.0 28.0L393.1 24.7L395.3 22.8L397.4 23.7L399.5 27.2L401.6 30.9L403.8 34.2L405.9 38.2L408.0 38.4L410.1 37.2L412.3 33.1L414.4 33.0L416.5 35.6L418.7 37.8L420.8 39.8L422.9 40.5L425.0 36.1L427.2 36.9L429.3 39.5L431.4 43.0L433.5 45.1L435.7 42.9L437.8 43.1L439.9 45.4L442.0 48.2L444.2 49.0L446.3 49.3L448.4 48.6L450.6 58.0L452.7 68.8L454.8 77.2L456.9 78.6L459.1 76.0L461.0 71.8L463.6 66.1L466.0 54.9L467.6 48.8L469.7 46.0L471.8 46.4L474.0 49.8L476.1 49.4L478.2 44.2L480.3 37.5L482.5 35.1L484.6 37.3L486.7 36.9L488.8 32.3L491.0 30.4L493.1 26.8L495.2 28.5L497.4 30.2L499.5 32.9L501.6 36.2L503.7 41.9L505.9 48.7L508.0 49.6L510.1 46.7L512.2 38.2L514.4 31.2L516.5 25.4L518.6 23.2L520.8 24.2L522.9 25.9L525.0 24.9L527.1 20.8L529.3 17.5L531.4 18.4L533.5 22.0L535.6 28.4L537.8 33.0L539.9 33.9L542.0 33.3L544.1 31.4L546.3 29.8L548.4 26.8L550.5 23.8L552.7 19.8L554.8 19.7L556.9 21.7L559.0 27.1L561.2 29.7L563.3 27.9L565.4 26.9L567.5 25.9L569.7 27.5L571.8 29.4" stroke="#ff0000" stroke-width="1.55" fill="none" stroke-linejoin="round"/><path d="M578.4 42.2L580.5 37.6L582.6 34.1L584.7 32.1L586.8 31.2L589.0 30.2L591.1 32.6L593.2 34.4L595.3 35.8L597.4 34.6L599.5 34.3L601.6 35.0L603.7 37.3L605.9 39.7L608.0 40.2L610.1 40.7L612.2 40.3L614.3 41.6L616.4 43.8L618.5 45.3L620.6 44.6L622.8 42.0L624.9 41.8L627.0 40.5L629.1 40.9L631.2 43.8L633.3 43.7L635.4 45.1L637.5 43.6L639.6 43.0L641.8 41.7L643.9 41.1L646.0 41.9L648.1 42.3L650.2 40.8L652.3 39.7L654.4 37.3L656.5 35.6L658.7 35.2L660.8 37.9L662.9 40.6L665.0 42.0L667.1 42.7L669.2 42.6L671.3 43.2L673.4 45.3L675.6 48.0L677.7 50.7L679.8 51.7L681.9 51.1L684.0 50.0" stroke="#ff0000" stroke-width="1.55" fill="none" stroke-linejoin="round"/><path d="M391.0 43.1L393.1 40.2L395.3 41.2L397.4 39.2L399.5 42.8L401.7 46.1L403.8 49.6L406.0 52.0L408.1 54.0L410.2 51.0L412.4 50.1L414.5 50.3L416.6 51.5L418.8 54.6L420.9 57.1L423.0 54.7L425.2 53.1L427.3 53.7L429.5 56.0L431.6 60.0L433.7 61.5L435.9 59.8L438.0 57.6L440.1 61.5L442.3 62.4L444.4 62.7L446.5 61.8L448.7 64.5L450.8 72.7L453.0 83.8L456.0 92.5L457.2 93.6L459.3 92.5L462.5 80.8L463.6 77.5L465.7 71.1L468.4 58.0L470.0 59.4L471.9 64.5L474.8 62.1L477.5 62.1L478.6 58.0L480.7 53.0L482.9 53.0L485.0 53.7L487.1 52.4L489.3 48.9L491.4 44.7L493.5 45.1L495.7 44.9L497.8 46.2L500.0 48.6L502.1 51.4L504.2 60.0L506.4 66.2L508.5 65.1L510.6 60.5L512.8 52.6L514.9 46.6L517.0 42.3L519.2 39.0L521.3 41.5L523.5 43.1L525.6 38.2L527.7 35.9L529.9 32.7L532.0 34.2L534.1 38.4L536.3 46.0L538.4 50.1L540.5 52.5L542.7 50.8L544.8 46.0L547.0 43.5L549.1 41.3L551.2 38.7L553.4 36.8L555.5 37.4L557.6 39.2L559.8 44.5L561.9 46.1L564.0 44.7L566.2 42.5L568.3 42.9L570.5 44.0L572.6 47.7L574.7 49.7L576.9 52.9L579.0 60.2" stroke="#008000" stroke-width="1.55" fill="none" stroke-linejoin="round"/><path d="M586.6 51.4L588.7 46.9L590.8 50.1L593.0 52.5L595.1 52.3L597.2 50.7L599.3 49.3L601.4 49.1L603.5 52.4L605.7 54.2L607.8 56.0L609.9 55.5L612.0 56.5L614.1 58.2L616.2 59.4L618.4 60.4L620.5 60.3L622.6 58.8L624.7 57.6L626.8 56.7L628.9 56.2L631.1 59.5L633.2 60.5L635.3 60.3L637.4 63.1L639.5 60.4L641.7 57.8L643.8 58.5L645.9 56.2L648.0 60.0L650.1 56.0L652.2 54.1L654.4 52.8L656.5 52.4L658.6 52.0L660.7 54.3L662.8 55.1L664.9 58.3L667.1 58.5L669.2 57.7L671.3 59.3L673.4 59.9L675.5 62.0L677.6 65.3L679.8 64.7L681.9 65.1L684.0 65.8" stroke="#008000" stroke-width="1.55" fill="none" stroke-linejoin="round"/><path d="M391.0 58.2L393.1 53.9L395.2 53.7L397.4 55.2L399.5 61.5L401.6 65.9L403.7 68.5L405.8 70.8L408.0 72.1L410.1 65.9L412.2 62.6L414.3 62.7L416.4 63.5L418.6 69.5L420.7 71.2L422.8 70.3L424.9 66.8L427.0 66.5L429.1 71.5L431.3 76.4L433.4 76.6L435.5 76.0L437.6 72.7L439.7 74.8L441.9 79.2L444.0 80.7L446.1 75.3L448.2 76.9L450.3 83.8L452.5 98.2L454.6 109.5L456.7 111.6L458.8 106.5L460.9 100.1L463.1 93.3L465.2 85.4L467.3 78.4L469.4 73.3L471.5 74.9L473.7 81.7L475.8 82.1L477.9 75.4L480.0 68.8L482.1 65.1L484.3 70.0L486.4 70.3L488.5 65.3L490.6 59.4L492.7 57.3L494.8 56.0L497.0 60.3L499.1 60.5L501.2 66.6L503.3 74.2L505.4 81.9L507.6 86.3L509.7 81.8L511.8 76.0L513.9 67.2L516.0 62.8L518.2 53.8L520.3 52.8L522.4 55.1" stroke="#1e90ff" stroke-width="1.55" fill="none" stroke-linejoin="round"/><path d="M529.3 48.1L531.4 56.3L533.6 63.6L535.7 66.2L537.8 69.6L539.9 68.2L542.1 66.3L544.2 63.1L546.3 58.7L548.5 56.7L550.6 53.5L552.7 51.5L554.9 48.8L557.0 52.4L559.1 58.8L561.2 63.9L563.4 61.7L565.5 59.8L567.6 58.0L569.8 57.5L571.9 60.7L574.0 65.9L576.2 72.0L578.3 74.2L580.4 74.4L582.5 72.1L584.7 65.5L586.8 63.6L588.9 61.4L591.1 65.0L593.2 66.2L595.3 68.6L597.4 64.6L599.6 64.3L601.7 68.4L603.8 71.8L606.0 71.7L608.1 72.1L610.2 70.1L612.4 70.2L614.5 72.5L616.6 75.4L618.7 75.9L620.9 76.0L623.0 72.3L625.1 71.4L627.3 71.2L629.4 73.2L631.5 76.4L633.6 77.0L635.8 78.2L637.9 76.3L640.0 74.3L642.2 72.9L644.3 72.0L646.4 73.2L648.6 75.8L650.7 74.2L652.8 71.3L654.9 69.5L657.1 68.2L659.2 68.3L661.3 69.8L663.5 75.7L665.6 76.4L667.7 76.7L669.9 76.4L672.0 76.2L674.1 77.1L676.2 78.3L678.4 83.0L680.5 87.0" stroke="#1e90ff" stroke-width="1.55" fill="none" stroke-linejoin="round"/><path d="M391.0 28.0L392.0 25.9L393.0 24.3L394.0 23.3L395.0 22.7L396.0 22.7L397.0 23.4L398.0 24.8L399.0 26.6L400.0 28.5L401.0 30.1L402.0 31.6L403.1 33.4L404.1 35.2L405.1 36.8L406.1 38.0L407.1 38.7L408.1 38.5L409.1 37.7L410.1 36.4L411.1 35.0L412.1 33.8L413.1 33.1L414.1 33.1L415.1 33.8L416.1 35.0L417.1 36.4L418.1 38.0L419.1 39.3L420.1 40.3L421.1 40.6L422.1 40.1L423.1 38.9L424.1 37.5L425.2 36.3L426.2 35.8L427.2 36.4L428.2 38.0L429.2 40.1L430.2 42.4L431.2 44.2L432.2 45.2L433.2 45.1L434.2 44.3L435.2 43.4L436.2 42.6L437.2 42.6L438.2 43.2L439.2 44.4L440.2 45.8L441.2 47.3L442.2 48.5L443.2 49.3L444.2 49.4L445.2 49.0L446.2 48.4L447.2 48.1L448.3 48.8L449.3 51.5L450.3 55.8L451.3 61.0L452.3 66.5L453.3 71.7L454.3 75.9L455.3 78.6L456.3 79.2L457.3 78.4L458.3 77.0L459.3 75.0L460.3 72.9L461.3 70.8L462.3 68.3L463.3 65.1L464.3 61.3L465.3 57.4L466.3 53.7L467.3 50.3L468.3 47.6L469.3 45.8L470.4 45.3L471.4 46.1L472.4 47.8L473.4 49.5L474.4 50.7L475.4 50.7L476.4 49.4L477.4 47.1L478.4 44.3L479.4 41.3L480.4 38.6L481.4 36.7L482.4 35.8L483.4 36.5L484.4 38.0L485.4 38.7L486.4 38.1L487.4 36.6L488.4 34.7L489.4 32.6L490.4 30.6L491.4 28.9L492.4 28.0L493.5 27.9L494.5 28.2L495.5 28.7L496.5 29.4L497.5 30.2L498.5 31.2L499.5 32.2L500.5 33.4L501.5 34.8L502.5 37.3L503.5 40.6L504.5 44.2L505.5 47.3L506.5 49.4L507.5 50.0L508.5 49.1L509.5 47.3L510.5 44.6L511.5 41.5L512.5 38.0L513.5 34.4L514.5 30.9L515.6 27.8L516.6 25.3L517.6 23.6L518.6 23.0L519.6 23.2L520.6 23.8L521.6 24.6L522.6 25.2L523.6 25.5L524.6 25.1L525.6 23.7L526.6 21.9L527.6 19.8L528.6 18.1L529.6 16.9L530.6 16.7L531.6 17.6L532.6 19.4L533.6 21.9L534.6 24.7L535.6 27.6L536.6 30.4L537.6 32.7L538.7 34.3L539.7 34.9L540.7 34.6L541.7 33.9L542.7 32.9L543.7 31.7L544.7 30.6L545.7 29.5L546.7 28.3L547.7 26.9L548.7 25.4L549.7 23.9L550.7 22.5L551.7 21.2L552.7 20.2L553.7 19.5L554.7 19.2L555.7 19.8L556.7 21.4L557.7 23.6L558.7 26.0L559.7 28.1L560.8 29.5L561.8 29.8L562.8 29.2L563.8 28.2L564.8 27.1L565.8 26.1L566.8 25.5L567.8 25.6L568.8 26.1L569.8 27.0L570.8 28.3L571.8 29.8" stroke="#000" stroke-width="1.5" fill="none" stroke-linejoin="round"/><path d="M578.4 41.5L579.4 39.4L580.4 37.5L581.4 35.8L582.4 34.4L583.4 33.1L584.4 32.1L585.4 31.4L586.4 30.9L587.5 30.6L588.5 30.7L589.5 31.2L590.5 32.0L591.5 33.0L592.5 34.0L593.5 34.9L594.5 35.4L595.5 35.5L596.5 35.1L597.5 34.5L598.5 33.9L599.5 33.6L600.5 33.8L601.5 34.6L602.5 35.8L603.5 37.1L604.5 38.4L605.6 39.3L606.6 39.6L607.6 39.7L608.6 39.7L609.6 39.7L610.6 39.8L611.6 39.9L612.6 40.3L613.6 41.0L614.6 41.8L615.6 42.7L616.6 43.5L617.6 44.2L618.6 44.7L619.6 44.9L620.6 44.7L621.6 44.1L622.7 43.4L623.7 42.5L624.7 41.7L625.7 41.1L626.7 40.7L627.7 40.6L628.7 40.9L629.7 41.4L630.7 42.0L631.7 42.8L632.7 43.5L633.7 44.1L634.7 44.6L635.7 44.9L636.7 44.8L637.7 44.4L638.7 43.8L639.7 43.0L640.8 42.2L641.8 41.5L642.8 41.1L643.8 41.2L644.8 41.6L645.8 42.2L646.8 42.5L647.8 42.4L648.8 42.0L649.8 41.4L650.8 40.6L651.8 39.7L652.8 38.8L653.8 37.9L654.8 37.2L655.8 36.6L656.8 36.3L657.9 36.3L658.9 36.7L659.9 37.5L660.9 38.5L661.9 39.7L662.9 40.8L663.9 41.8L664.9 42.6L665.9 43.0L666.9 43.2L667.9 43.3L668.9 43.4L669.9 43.5L670.9 43.7L671.9 44.0L672.9 44.7L673.9 45.8L674.9 47.2L676.0 48.7L677.0 50.0L678.0 51.1L679.0 51.8L680.0 51.9L681.0 51.7L682.0 51.2L683.0 50.5L684.0 49.5" stroke="#000" stroke-width="1.5" fill="none" stroke-linejoin="round"/><path d="M391.0 43.0L392.0 41.4L393.0 40.3L394.0 39.6L395.0 39.3L396.0 39.2L397.0 39.9L398.0 41.2L399.0 42.9L400.0 44.5L401.0 46.0L402.0 47.4L403.0 49.0L404.0 50.6L405.0 52.0L406.0 53.1L407.0 53.7L408.0 53.6L409.0 52.8L410.0 51.5L411.0 50.2L412.0 49.1L413.0 48.7L414.0 49.0L415.0 49.8L416.0 50.9L417.0 52.1L418.0 53.4L419.0 54.5L420.0 55.3L421.0 55.7L422.0 55.4L423.0 54.7L424.0 53.8L425.0 52.9L426.0 52.5L427.0 52.8L428.0 53.9L429.0 55.6L430.0 57.4L431.0 59.1L432.0 60.3L433.0 60.8L434.0 60.5L435.0 59.9L436.0 59.3L437.0 58.9L438.0 59.1L439.0 59.7L440.0 60.6L441.0 61.5L442.0 62.4L443.0 63.0L444.0 63.2L445.0 62.9L446.0 62.4L447.0 62.0L448.0 62.2L449.0 64.4L450.0 68.3L451.0 73.3L452.0 78.7L453.0 84.0L454.0 88.5L455.0 91.6L456.0 92.8L457.0 92.4L458.0 91.4L459.0 90.0L460.0 88.2L461.0 86.4L462.0 84.2L463.0 80.8L464.0 76.7L465.0 72.2L466.0 67.9L467.0 64.1L468.0 61.3L469.0 60.0L470.0 60.3L471.0 61.3L472.0 62.6L473.0 63.7L474.0 64.2L475.0 63.7L476.0 62.3L477.0 60.4L478.0 58.2L479.0 55.9L480.0 54.0L481.0 52.5L482.0 51.9L483.0 52.3L484.0 53.1L485.0 53.8L486.0 53.6L487.0 52.5L488.0 50.9L489.0 49.0L490.0 47.1L491.0 45.4L492.0 44.2L493.0 43.8L494.0 44.0L495.0 44.3L496.0 44.9L497.0 45.7L498.0 46.6L499.0 47.7L500.0 48.8L501.0 50.0L502.0 51.9L503.0 54.9L504.0 58.4L505.0 61.8L506.0 64.5L507.0 65.9L508.0 65.7L509.0 64.5L510.0 62.4L511.0 59.7L512.0 56.5L513.0 53.1L514.0 49.7L515.0 46.5L516.0 43.6L517.0 41.3L518.0 39.8L519.0 39.2L520.0 39.5L521.0 40.1L522.0 40.8L523.0 41.4L524.0 41.4L525.0 40.6L526.0 39.1L527.0 37.2L528.0 35.4L529.0 33.9L530.0 33.1L531.0 33.3L532.0 34.6L533.0 36.8L534.0 39.5L535.0 42.4L536.0 45.4L537.0 48.1L538.0 50.3L539.0 51.6L540.0 51.9L541.0 51.4L542.0 50.4L543.0 49.2L544.0 47.9L545.0 46.6L546.0 45.5L547.0 44.3L548.0 42.9L549.0 41.5L550.0 40.1L551.0 38.8L552.0 37.7L553.0 36.9L554.0 36.3L555.0 36.2L556.0 37.1L557.0 38.8L558.0 41.0L559.0 43.2L560.0 45.0L561.0 46.1L562.0 46.1L563.0 45.5L564.0 44.6L565.0 43.6L566.0 42.9L567.0 42.5L568.0 42.6L569.0 42.9L570.0 43.5L571.0 44.3L572.0 45.4L573.0 46.7L574.0 48.2L575.0 50.0L576.0 52.0L577.0 54.2L578.0 56.7L579.0 59.4" stroke="#000" stroke-width="1.5" fill="none" stroke-linejoin="round"/><path d="M586.6 50.0L587.6 47.4L588.6 47.4L589.6 48.2L590.6 49.3L591.6 50.6L592.6 51.7L593.6 52.4L594.6 52.5L595.6 52.1L596.6 51.5L597.6 50.8L598.6 50.3L599.7 50.0L600.7 50.2L601.7 51.0L602.7 52.1L603.7 53.3L604.7 54.4L605.7 55.3L606.7 55.8L607.7 56.0L608.7 56.2L609.7 56.3L610.7 56.5L611.7 56.8L612.7 57.3L613.7 57.9L614.7 58.6L615.7 59.3L616.7 59.9L617.7 60.4L618.7 60.7L619.7 60.8L620.7 60.5L621.7 59.9L622.7 59.1L623.8 58.2L624.8 57.3L625.8 56.6L626.8 56.2L627.8 56.3L628.8 56.6L629.8 57.2L630.8 58.0L631.8 58.8L632.8 59.7L633.8 60.4L634.8 61.0L635.8 61.3L636.8 61.2L637.8 60.8L638.8 60.2L639.8 59.4L640.8 58.6L641.8 57.8L642.8 57.3L643.8 57.0L644.8 57.2L645.8 57.7L646.8 58.1L647.9 58.0L648.9 57.6L649.9 57.0L650.9 56.2L651.9 55.3L652.9 54.4L653.9 53.6L654.9 52.8L655.9 52.3L656.9 51.9L657.9 51.9L658.9 52.3L659.9 53.0L660.9 53.9L661.9 54.8L662.9 55.9L663.9 56.8L664.9 57.6L665.9 58.2L666.9 58.5L667.9 58.6L668.9 58.7L669.9 58.7L670.9 58.8L672.0 59.0L673.0 59.6L674.0 60.6L675.0 61.7L676.0 63.0L677.0 64.1L678.0 65.0L679.0 65.6L680.0 65.7L681.0 65.7L682.0 65.6L683.0 65.4L684.0 65.0" stroke="#000" stroke-width="1.5" fill="none" stroke-linejoin="round"/><path d="M391.0 59.0L392.0 56.8L393.0 55.3L394.0 54.3L395.0 53.9L396.0 53.9L397.0 55.1L398.0 57.3L399.0 59.9L400.0 62.6L401.0 64.7L402.0 66.1L403.0 67.5L404.0 68.9L405.0 70.0L406.0 70.8L407.0 71.3L408.1 71.0L409.1 69.5L410.1 67.4L411.1 65.0L412.1 62.8L413.1 61.5L414.1 61.4L415.1 62.3L416.1 64.0L417.1 65.9L418.1 68.0L419.1 69.9L420.1 71.2L421.1 71.7L422.1 71.1L423.1 69.8L424.1 68.1L425.1 66.7L426.1 66.0L427.1 66.6L428.1 68.4L429.1 70.8L430.1 73.5L431.1 76.0L432.1 77.7L433.1 78.3L434.1 77.1L435.1 74.9L436.1 73.1L437.1 72.7L438.1 73.3L439.1 74.6L440.1 76.2L441.2 77.8L442.2 79.1L443.2 80.0L444.2 80.1L445.2 79.0L446.2 77.5L447.2 76.5L448.2 77.0L449.2 80.0L450.2 84.9L451.2 90.8L452.2 97.1L453.2 103.1L454.2 108.1L455.2 111.4L456.2 112.3L457.2 111.0L458.2 108.6L459.2 105.6L460.2 102.8L461.2 100.0L462.2 96.6L463.2 93.0L464.2 89.2L465.2 85.5L466.2 82.0L467.2 79.0L468.2 76.6L469.2 75.0L470.2 74.5L471.2 75.6L472.2 77.9L473.3 80.6L474.3 82.6L475.3 82.9L476.3 81.3L477.3 78.5L478.3 74.9L479.3 71.2L480.3 68.0L481.3 65.8L482.3 65.2L483.3 66.9L484.3 69.4L485.3 70.8L486.3 70.2L487.3 68.5L488.3 66.2L489.3 63.6L490.3 61.1L491.3 59.0L492.3 57.7L493.3 57.5L494.3 58.0L495.3 58.8L496.3 60.0L497.3 61.4L498.3 63.0L499.3 64.6L500.3 66.3L501.3 68.8L502.3 72.1L503.3 75.7L504.3 79.1L505.3 82.1L506.4 84.2L507.4 84.9L508.4 84.3L509.4 82.9L510.4 80.7L511.4 77.9L512.4 74.7L513.4 71.3L514.4 67.7L515.4 64.2L516.4 60.9L517.4 57.9L518.4 55.5L519.4 53.8L520.4 52.9L521.4 53.5L522.4 56.2" stroke="#000" stroke-width="1.5" fill="none" stroke-linejoin="round"/><path d="M529.3 48.7L530.3 52.7L531.3 56.3L532.3 59.4L533.3 62.1L534.3 64.4L535.3 66.2L536.3 67.6L537.3 68.6L538.3 69.2L539.3 69.4L540.3 68.9L541.3 67.8L542.3 66.2L543.3 64.3L544.3 62.5L545.3 60.9L546.3 59.5L547.3 58.0L548.3 56.4L549.3 54.7L550.3 53.2L551.3 51.9L552.3 50.7L553.3 49.9L554.3 49.5L555.3 49.6L556.3 51.1L557.3 53.6L558.3 56.6L559.3 59.6L560.3 62.2L561.3 63.9L562.3 64.1L563.3 63.2L564.3 61.7L565.3 59.9L566.3 58.4L567.4 57.5L568.4 57.7L569.4 58.4L570.4 59.6L571.4 61.2L572.4 63.1L573.4 65.1L574.4 67.2L575.4 69.2L576.4 71.1L577.4 72.7L578.4 74.0L579.4 74.8L580.4 75.1L581.4 74.4L582.4 72.7L583.4 70.4L584.4 67.8L585.4 65.3L586.4 63.3L587.4 62.1L588.4 62.0L589.4 62.7L590.4 63.8L591.4 65.2L592.4 66.7L593.4 67.9L594.4 68.7L595.4 68.8L596.4 67.7L597.4 65.9L598.4 64.3L599.4 63.8L600.4 64.8L601.4 66.6L602.4 68.7L603.4 70.5L604.4 71.3L605.4 71.3L606.4 71.3L607.4 71.3L608.4 71.3L609.4 71.3L610.4 71.3L611.4 71.3L612.4 71.7L613.4 72.3L614.4 73.1L615.4 74.0L616.4 74.8L617.4 75.6L618.4 76.1L619.4 76.4L620.4 76.2L621.4 75.5L622.4 74.6L623.4 73.5L624.4 72.5L625.4 71.9L626.4 71.7L627.4 71.9L628.4 72.4L629.4 73.1L630.4 73.9L631.4 74.8L632.4 75.6L633.4 76.3L634.4 76.9L635.4 77.3L636.4 77.4L637.4 77.0L638.4 76.2L639.4 75.2L640.4 74.0L641.4 73.0L642.4 72.2L643.5 71.7L644.5 72.0L645.5 73.3L646.5 74.8L647.5 75.5L648.5 75.3L649.5 74.7L650.5 73.9L651.5 72.8L652.5 71.7L653.5 70.5L654.5 69.5L655.5 68.7L656.5 68.1L657.5 67.9L658.5 68.2L659.5 69.0L660.5 70.0L661.5 71.3L662.5 72.7L663.5 74.0L664.5 75.1L665.5 75.9L666.5 76.4L667.5 76.4L668.5 76.2L669.5 75.9L670.5 75.7L671.5 75.5L672.5 75.5L673.5 75.9L674.5 76.6L675.5 77.6L676.5 78.9L677.5 80.5L678.5 82.3L679.5 84.3L680.5 86.4" stroke="#000" stroke-width="1.5" fill="none" stroke-linejoin="round"/></g><g clip-path="url(#cr1)"><path d="M391.0 136.4L393.1 136.3L395.3 136.4L397.4 136.4L399.5 136.6L401.6 136.7L403.8 136.8L405.9 136.8L408.0 136.6L410.1 136.4L412.3 136.2L414.4 136.1L416.5 136.2L418.7 136.3L420.8 136.4L422.9 136.4L425.0 136.3L427.2 136.2L429.3 136.1L431.4 136.1L433.5 136.0L435.7 136.0L437.8 136.0L439.9 136.0L442.0 136.1L444.2 136.1L446.3 136.1L448.4 136.1L450.6 136.1L452.7 136.1L454.8 136.0L456.9 135.9L459.1 135.8L461.0 135.7L463.6 135.7L466.0 135.7L467.6 135.7L469.7 135.9L471.8 136.1L474.0 136.3L476.1 136.4L478.2 136.4L480.3 136.4L482.5 136.5L484.6 136.5L486.7 136.6L488.8 136.6L491.0 136.5L493.1 136.2L495.2 135.9L497.4 135.7L499.5 135.7L501.6 135.9L503.7 136.3L505.9 136.6L508.0 136.7L510.1 136.7L512.2 136.4L514.4 136.1L516.5 135.9L518.6 135.8L520.8 135.8L522.9 135.9L525.0 136.1L527.1 136.2L529.3 136.2L531.4 136.1L533.5 136.0L535.6 136.0L537.8 136.0L539.9 136.1L542.0 136.2L544.1 136.2L546.3 136.2L548.4 136.1L550.5 136.1L552.7 136.1L554.8 136.1L556.9 136.1L559.0 136.1L561.2 136.2L563.3 136.2L565.4 136.2L567.5 136.2L569.7 136.3L571.8 136.3L571.8 143.5L569.7 143.6L567.5 143.6L565.4 143.7L563.3 143.7L561.2 143.7L559.0 143.7L556.9 143.7L554.8 143.8L552.7 143.8L550.5 143.7L548.4 143.7L546.3 143.6L544.1 143.6L542.0 143.7L539.9 143.8L537.8 143.8L535.6 143.9L533.5 143.8L531.4 143.7L529.3 143.7L527.1 143.7L525.0 143.8L522.9 143.9L520.8 144.0L518.6 144.0L516.5 143.9L514.4 143.7L512.2 143.4L510.1 143.2L508.0 143.1L505.9 143.2L503.7 143.6L501.6 143.9L499.5 144.1L497.4 144.1L495.2 143.9L493.1 143.6L491.0 143.3L488.8 143.2L486.7 143.3L484.6 143.3L482.5 143.4L480.3 143.4L478.2 143.4L476.1 143.4L474.0 143.6L471.8 143.8L469.7 144.0L467.6 144.1L466.0 144.2L463.6 144.1L461.0 144.1L459.1 144.0L456.9 144.0L454.8 143.9L452.7 143.8L450.6 143.7L448.4 143.7L446.3 143.8L444.2 143.8L442.0 143.8L439.9 143.8L437.8 143.8L435.7 143.8L433.5 143.8L431.4 143.8L429.3 143.7L427.2 143.6L425.0 143.5L422.9 143.5L420.8 143.5L418.7 143.6L416.5 143.7L414.4 143.7L412.3 143.6L410.1 143.4L408.0 143.2L405.9 143.1L403.8 143.0L401.6 143.1L399.5 143.3L397.4 143.4L395.3 143.5L393.1 143.5L391.0 143.5Z" fill="#ff0000" fill-opacity="0.3"/><path d="M578.4 135.8L580.5 135.7L582.6 135.7L584.7 135.8L586.8 136.0L589.0 136.1L591.1 136.2L593.2 136.2L595.3 136.3L597.4 136.2L599.5 136.3L601.6 136.4L603.7 136.5L605.9 136.7L608.0 136.7L610.1 136.6L612.2 136.4L614.3 136.2L616.4 136.1L618.5 136.0L620.6 136.1L622.8 136.2L624.9 136.2L627.0 136.2L629.1 136.2L631.2 136.2L633.3 136.2L635.4 136.3L637.5 136.3L639.6 136.3L641.8 136.3L643.9 136.3L646.0 136.2L648.1 136.1L650.2 136.0L652.3 136.0L654.4 136.0L656.5 136.0L658.7 136.1L660.8 136.2L662.9 136.3L665.0 136.3L667.1 136.1L669.2 136.0L671.3 135.8L673.4 135.7L675.6 135.6L677.7 135.7L679.8 135.7L681.9 135.7L684.0 135.6L684.0 144.2L681.9 144.2L679.8 144.1L677.7 144.2L675.6 144.2L673.4 144.2L671.3 144.1L669.2 143.9L667.1 143.7L665.0 143.6L662.9 143.5L660.8 143.6L658.7 143.7L656.5 143.8L654.4 143.8L652.3 143.8L650.2 143.8L648.1 143.7L646.0 143.7L643.9 143.6L641.8 143.5L639.6 143.5L637.5 143.5L635.4 143.6L633.3 143.6L631.2 143.7L629.1 143.7L627.0 143.6L624.9 143.6L622.8 143.7L620.6 143.8L618.5 143.8L616.4 143.7L614.3 143.6L612.2 143.4L610.1 143.3L608.0 143.2L605.9 143.2L603.7 143.3L601.6 143.4L599.5 143.5L597.4 143.6L595.3 143.6L593.2 143.6L591.1 143.7L589.0 143.7L586.8 143.9L584.7 144.0L582.6 144.1L580.5 144.1L578.4 144.1Z" fill="#ff0000" fill-opacity="0.3"/><path d="M391.0 155.5L393.1 155.6L395.3 155.7L397.4 155.8L399.5 155.8L401.7 155.8L403.8 155.8L406.0 155.9L408.1 155.9L410.2 155.8L412.4 155.8L414.5 155.7L416.6 155.6L418.8 155.5L420.9 155.5L423.0 155.6L425.2 155.7L427.3 155.9L429.5 156.1L431.6 156.2L433.7 156.3L435.9 156.2L438.0 156.1L440.1 155.9L442.3 155.8L444.4 155.7L446.5 155.6L448.7 155.6L450.8 155.7L453.0 155.8L456.0 155.9L457.2 155.9L459.3 155.9L462.5 156.0L463.6 156.2L465.7 156.5L468.4 156.7L470.0 156.7L471.9 156.6L474.8 156.4L477.5 156.2L478.6 156.1L480.7 156.1L482.9 156.1L485.0 156.0L487.1 155.9L489.3 155.7L491.4 155.7L493.5 155.8L495.7 156.0L497.8 156.3L500.0 156.5L502.1 156.6L504.2 156.5L506.4 156.4L508.5 156.3L510.6 156.3L512.8 156.4L514.9 156.5L517.0 156.4L519.2 156.2L521.3 156.0L523.5 155.8L525.6 155.7L527.7 155.8L529.9 156.0L532.0 156.2L534.1 156.2L536.3 156.1L538.4 155.9L540.5 155.7L542.7 155.7L544.8 155.7L547.0 155.8L549.1 155.9L551.2 155.9L553.4 155.9L555.5 155.9L557.6 155.8L559.8 155.8L561.9 155.8L564.0 155.8L566.2 155.7L568.3 155.6L570.5 155.5L572.6 155.4L574.7 155.4L576.9 155.5L579.0 155.7L579.0 165.0L576.9 165.2L574.7 165.3L572.6 165.3L570.5 165.2L568.3 165.1L566.2 165.0L564.0 164.9L561.9 164.9L559.8 164.9L557.6 164.9L555.5 164.8L553.4 164.8L551.2 164.8L549.1 164.8L547.0 164.9L544.8 165.0L542.7 165.0L540.5 165.0L538.4 164.8L536.3 164.6L534.1 164.5L532.0 164.5L529.9 164.7L527.7 164.9L525.6 165.0L523.5 164.9L521.3 164.7L519.2 164.5L517.0 164.3L514.9 164.2L512.8 164.3L510.6 164.4L508.5 164.4L506.4 164.3L504.2 164.2L502.1 164.1L500.0 164.2L497.8 164.4L495.7 164.7L493.5 164.9L491.4 165.0L489.3 165.0L487.1 164.8L485.0 164.7L482.9 164.6L480.7 164.6L478.6 164.6L477.5 164.5L474.8 164.3L471.9 164.1L470.0 164.0L468.4 164.0L465.7 164.2L463.6 164.5L462.5 164.7L459.3 164.8L457.2 164.8L456.0 164.8L453.0 164.9L450.8 165.0L448.7 165.1L446.5 165.1L444.4 165.0L442.3 164.9L440.1 164.8L438.0 164.6L435.9 164.5L433.7 164.4L431.6 164.5L429.5 164.6L427.3 164.8L425.2 165.0L423.0 165.1L420.9 165.2L418.8 165.2L416.6 165.1L414.5 165.0L412.4 164.9L410.2 164.9L408.1 164.8L406.0 164.8L403.8 164.9L401.7 164.9L399.5 164.9L397.4 164.9L395.3 165.0L393.1 165.1L391.0 165.2Z" fill="#008000" fill-opacity="0.3"/><path d="M586.6 156.5L588.7 156.2L590.8 156.1L593.0 156.1L595.1 156.2L597.2 156.4L599.3 156.5L601.4 156.6L603.5 156.6L605.7 156.5L607.8 156.4L609.9 156.3L612.0 156.2L614.1 156.2L616.2 156.2L618.4 156.1L620.5 156.1L622.6 156.1L624.7 156.0L626.8 156.0L628.9 156.0L631.1 156.1L633.2 156.2L635.3 156.2L637.4 156.2L639.5 156.0L641.7 155.8L643.8 155.6L645.9 155.6L648.0 155.6L650.1 155.8L652.2 156.0L654.4 156.2L656.5 156.4L658.6 156.4L660.7 156.4L662.8 156.3L664.9 156.2L667.1 156.2L669.2 156.1L671.3 156.0L673.4 155.8L675.5 155.7L677.6 155.5L679.8 155.4L681.9 155.4L684.0 155.5L684.0 165.2L681.9 165.3L679.8 165.3L677.6 165.2L675.5 165.0L673.4 164.9L671.3 164.7L669.2 164.6L667.1 164.5L664.9 164.5L662.8 164.4L660.7 164.3L658.6 164.3L656.5 164.3L654.4 164.5L652.2 164.7L650.1 164.9L648.0 165.1L645.9 165.1L643.8 165.1L641.7 164.9L639.5 164.7L637.4 164.5L635.3 164.5L633.2 164.5L631.1 164.6L628.9 164.7L626.8 164.7L624.7 164.7L622.6 164.6L620.5 164.6L618.4 164.6L616.2 164.5L614.1 164.5L612.0 164.5L609.9 164.4L607.8 164.3L605.7 164.2L603.5 164.1L601.4 164.1L599.3 164.2L597.2 164.3L595.1 164.5L593.0 164.6L590.8 164.6L588.7 164.5L586.6 164.2Z" fill="#008000" fill-opacity="0.3"/><path d="M391.0 175.4L393.1 175.2L395.2 174.9L397.4 174.8L399.5 174.7L401.6 174.8L403.7 174.8L405.8 174.9L408.0 175.0L410.1 174.9L412.2 174.9L414.3 174.9L416.4 174.9L418.6 175.1L420.7 175.3L422.8 175.4L424.9 175.4L427.0 175.3L429.1 175.0L431.3 174.7L433.4 174.6L435.5 174.6L437.6 174.6L439.7 174.7L441.9 174.9L444.0 174.9L446.1 174.9L448.2 174.8L450.3 174.8L452.5 174.7L454.6 174.7L456.7 174.7L458.8 174.7L460.9 174.7L463.1 174.7L465.2 174.9L467.3 175.0L469.4 175.3L471.5 175.5L473.7 175.6L475.8 175.7L477.9 175.7L480.0 175.7L482.1 175.6L484.3 175.5L486.4 175.4L488.5 175.4L490.6 175.4L492.7 175.5L494.8 175.6L497.0 175.6L499.1 175.5L501.2 175.4L503.3 175.2L505.4 175.2L507.6 175.3L509.7 175.5L511.8 175.8L513.9 175.9L516.0 175.9L518.2 175.7L520.3 175.6L522.4 175.5L522.4 186.1L520.3 186.0L518.2 185.8L516.0 185.7L513.9 185.7L511.8 185.8L509.7 186.0L507.6 186.2L505.4 186.3L503.3 186.3L501.2 186.2L499.1 186.0L497.0 185.9L494.8 185.9L492.7 186.1L490.6 186.2L488.5 186.2L486.4 186.1L484.3 186.0L482.1 185.9L480.0 185.9L477.9 185.8L475.8 185.8L473.7 185.9L471.5 186.1L469.4 186.3L467.3 186.5L465.2 186.7L463.1 186.8L460.9 186.9L458.8 186.9L456.7 186.9L454.6 186.9L452.5 186.8L450.3 186.8L448.2 186.7L446.1 186.7L444.0 186.7L441.9 186.7L439.7 186.8L437.6 186.9L435.5 187.0L433.4 187.0L431.3 186.8L429.1 186.6L427.0 186.3L424.9 186.1L422.8 186.1L420.7 186.3L418.6 186.5L416.4 186.6L414.3 186.7L412.2 186.7L410.1 186.6L408.0 186.6L405.8 186.6L403.7 186.7L401.6 186.8L399.5 186.8L397.4 186.8L395.2 186.6L393.1 186.4L391.0 186.2Z" fill="#1e90ff" fill-opacity="0.3"/><path d="M529.3 174.9L531.4 175.0L533.6 175.3L535.7 175.5L537.8 175.6L539.9 175.6L542.1 175.6L544.2 175.6L546.3 175.6L548.5 175.5L550.6 175.5L552.7 175.6L554.9 175.6L557.0 175.5L559.1 175.4L561.2 175.4L563.4 175.4L565.5 175.3L567.6 175.3L569.8 175.3L571.9 175.3L574.0 175.3L576.2 175.3L578.3 175.2L580.4 175.2L582.5 175.1L584.7 175.1L586.8 175.0L588.9 175.1L591.1 175.2L593.2 175.2L595.3 175.3L597.4 175.5L599.6 175.6L601.7 175.6L603.8 175.6L606.0 175.6L608.1 175.7L610.2 175.7L612.4 175.6L614.5 175.7L616.6 175.7L618.7 175.6L620.9 175.5L623.0 175.4L625.1 175.2L627.3 175.0L629.4 174.9L631.5 174.8L633.6 174.7L635.8 174.6L637.9 174.4L640.0 174.3L642.2 174.3L644.3 174.4L646.4 174.6L648.6 174.8L650.7 175.1L652.8 175.4L654.9 175.7L657.1 175.8L659.2 175.8L661.3 175.7L663.5 175.4L665.6 175.3L667.7 175.2L669.9 175.2L672.0 175.3L674.1 175.4L676.2 175.6L678.4 176.0L680.5 176.3L680.5 185.3L678.4 185.6L676.2 185.9L674.1 186.1L672.0 186.3L669.9 186.4L667.7 186.4L665.6 186.3L663.5 186.1L661.3 185.9L659.2 185.8L657.1 185.7L654.9 185.9L652.8 186.1L650.7 186.4L648.6 186.7L646.4 186.9L644.3 187.1L642.2 187.2L640.0 187.3L637.9 187.2L635.8 187.0L633.6 186.8L631.5 186.7L629.4 186.7L627.3 186.5L625.1 186.4L623.0 186.2L620.9 186.0L618.7 185.9L616.6 185.9L614.5 185.9L612.4 185.9L610.2 185.9L608.1 185.9L606.0 185.9L603.8 185.9L601.7 185.9L599.6 186.0L597.4 186.1L595.3 186.2L593.2 186.3L591.1 186.4L588.9 186.5L586.8 186.5L584.7 186.5L582.5 186.4L580.4 186.3L578.3 186.3L576.2 186.3L574.0 186.2L571.9 186.2L569.8 186.2L567.6 186.3L565.5 186.3L563.4 186.2L561.2 186.2L559.1 186.2L557.0 186.1L554.9 186.0L552.7 186.0L550.6 186.1L548.5 186.1L546.3 186.0L544.2 186.0L542.1 185.9L539.9 185.9L537.8 185.9L535.7 186.1L533.6 186.3L531.4 186.5L529.3 186.7Z" fill="#1e90ff" fill-opacity="0.3"/><path d="M391.0 140.1L393.1 141.7L395.3 140.6L397.4 139.2L399.5 138.6L401.6 139.6L403.8 137.9L405.9 141.2L408.0 139.3L410.1 143.2L412.3 137.8L414.4 139.0L416.5 140.1L418.7 136.3L420.8 137.1L422.9 144.9L425.0 138.4L427.2 141.9L429.3 136.5L431.4 133.5L433.5 140.6L435.7 139.7L437.8 140.9L439.9 139.9L442.0 139.6L444.2 138.3L446.3 143.4L448.4 137.6L450.6 143.2L452.7 140.4L454.8 138.4L456.9 139.1L459.1 142.6L461.0 141.7L463.6 149.1L466.0 139.8L467.6 136.9L469.7 142.2L471.8 138.1L474.0 137.6L476.1 137.6L478.2 137.6L480.3 135.1L482.5 137.3L484.6 136.4L486.7 136.9L488.8 134.2L491.0 142.7L493.1 135.8L495.2 139.6L497.4 140.2L499.5 142.2L501.6 144.6L503.7 141.5L505.9 142.2L508.0 139.4L510.1 143.5L512.2 136.6L514.4 138.8L516.5 139.7L518.6 140.6L520.8 140.9L522.9 141.9L525.0 140.9L527.1 140.1L529.3 140.9L531.4 144.0L533.5 141.4L535.6 142.7L537.8 140.2L539.9 136.2L542.0 138.8L544.1 140.8L546.3 143.7L548.4 143.1L550.5 143.7L552.7 138.2L554.8 141.6L556.9 139.8L559.0 141.4L561.2 139.8L563.3 136.9L565.4 141.7L567.5 141.0L569.7 142.2L571.8 138.4" stroke="#ff0000" stroke-width="1.75" fill="none" stroke-linejoin="round"/><path d="M578.4 142.7L580.5 140.9L582.6 139.8L584.7 140.6L586.8 141.5L589.0 137.5L591.1 140.0L593.2 139.0L595.3 141.2L597.4 139.9L599.5 142.5L601.6 141.0L603.7 139.8L605.9 141.0L608.0 142.1L610.1 143.5L612.2 140.7L614.3 140.2L616.4 141.5L618.5 142.5L620.6 139.4L622.8 134.9L624.9 141.0L627.0 139.3L629.1 139.0L631.2 145.4L633.3 139.2L635.4 140.9L637.5 136.1L639.6 139.7L641.8 140.8L643.9 139.4L646.0 138.4L648.1 140.0L650.2 138.8L652.3 141.7L654.4 139.3L656.5 137.2L658.7 134.7L660.8 137.8L662.9 139.0L665.0 137.2L667.1 137.7L669.2 136.3L671.3 137.7L673.4 140.3L675.6 139.4L677.7 139.5L679.8 139.2L681.9 139.5L684.0 141.8" stroke="#ff0000" stroke-width="1.75" fill="none" stroke-linejoin="round"/><path d="M391.0 160.8L393.1 160.1L395.3 168.1L397.4 155.8L399.5 156.6L401.7 157.1L403.8 157.2L406.0 155.8L408.1 161.9L410.2 159.6L412.4 165.2L414.5 164.2L416.6 159.7L418.8 161.5L420.9 166.3L423.0 160.6L425.2 161.7L427.3 163.1L429.5 158.7L431.6 160.7L433.7 164.0L435.9 162.5L438.0 153.8L440.1 164.2L442.3 159.2L444.4 158.5L446.5 158.7L448.7 164.7L450.8 162.1L453.0 160.8L456.0 158.8L457.2 167.9L459.3 177.2L462.5 151.1L463.6 156.6L465.7 169.5L468.4 148.6L470.0 156.3L471.9 169.5L474.8 152.5L477.5 172.8L478.6 165.6L480.7 160.7L482.9 163.8L485.0 160.0L487.1 160.7L489.3 162.3L491.4 159.9L493.5 165.4L495.7 161.1L497.8 159.4L500.0 159.6L502.1 157.0L504.2 163.9L506.4 165.0L508.5 159.8L510.6 159.5L512.8 154.7L514.9 159.7L517.0 164.6L519.2 159.7L521.3 164.8L523.5 166.7L525.6 153.9L527.7 160.4L529.9 158.8L532.0 158.8L534.1 154.7L536.3 159.4L538.4 156.7L540.5 163.9L542.7 165.3L544.8 157.0L547.0 157.0L549.1 160.0L551.2 160.9L553.4 161.0L555.5 163.6L557.6 156.8L559.8 159.6L561.9 160.3L564.0 161.1L566.2 159.4L568.3 161.4L570.5 160.9L572.6 166.8L574.7 161.4L576.9 156.0L579.0 164.0" stroke="#008000" stroke-width="1.75" fill="none" stroke-linejoin="round"/><path d="M586.6 166.0L588.7 158.0L590.8 162.5L593.0 162.7L595.1 160.1L597.2 158.4L599.3 157.0L601.4 153.2L603.5 157.4L605.7 155.7L607.8 160.3L609.9 156.5L612.0 158.5L614.1 160.6L616.2 159.6L618.4 159.6L620.5 158.9L622.6 158.4L624.7 161.4L626.8 162.3L628.9 158.1L631.1 165.9L633.2 162.9L635.3 156.6L637.4 169.9L639.5 163.8L641.7 159.6L643.8 166.8L645.9 153.7L648.0 169.6L650.1 157.2L652.2 156.7L654.4 158.6L656.5 161.8L658.6 159.7L660.7 163.1L662.8 157.5L664.9 163.0L667.1 160.0L669.2 155.9L671.3 162.2L673.4 159.9L675.5 158.4L677.6 163.1L679.8 155.5L681.9 158.2L684.0 164.0" stroke="#008000" stroke-width="1.75" fill="none" stroke-linejoin="round"/><path d="M391.0 177.2L393.1 175.4L395.2 180.2L397.4 178.7L399.5 182.2L401.6 182.7L403.7 181.1L405.8 181.3L408.0 185.5L410.1 174.0L412.2 180.7L414.3 185.8L416.4 175.8L418.6 183.7L420.7 178.8L422.8 181.1L424.9 180.1L427.0 180.5L429.1 183.7L431.3 181.3L433.4 172.9L435.5 189.9L437.6 179.8L439.7 177.4L441.9 182.8L444.0 183.7L446.1 169.2L448.2 179.8L450.3 170.3L452.5 177.3L454.6 180.1L456.7 179.2L458.8 178.9L460.9 176.7L463.1 179.3L465.2 179.7L467.3 178.8L469.4 173.1L471.5 174.6L473.7 181.6L475.8 180.0L477.9 176.5L480.0 181.1L482.1 180.9L484.3 184.0L486.4 181.6L488.5 179.0L490.6 176.4L492.7 179.8L494.8 170.5L497.0 178.2L499.1 163.9L501.2 172.2L503.3 174.1L505.4 178.4L507.6 188.6L509.7 178.5L511.8 177.8L513.9 171.0L516.0 184.7L518.2 171.3L520.3 180.2L522.4 176.1" stroke="#1e90ff" stroke-width="1.75" fill="none" stroke-linejoin="round"/><path d="M529.3 178.1L531.4 178.9L533.6 185.0L535.7 178.0L537.8 183.8L539.9 175.8L542.1 179.4L544.2 182.7L546.3 177.1L548.5 183.1L550.6 183.5L552.7 185.4L554.9 178.4L557.0 179.8L559.1 180.1L561.2 181.5L563.4 174.1L565.5 181.7L567.6 182.8L569.8 174.7L571.9 174.0L574.0 178.4L576.2 186.9L578.3 182.4L580.4 177.5L582.5 179.9L584.7 173.5L586.8 185.2L588.9 176.7L591.1 181.9L593.2 173.8L595.3 179.6L597.4 175.3L599.6 182.5L601.7 186.0L603.8 184.9L606.0 182.9L608.1 184.4L610.2 175.0L612.4 174.0L614.5 177.8L616.6 182.8L618.7 178.9L620.9 181.3L623.0 172.7L625.1 177.8L627.3 177.5L629.4 181.6L631.5 188.5L633.6 183.6L635.8 185.1L637.9 178.9L640.0 179.9L642.2 183.3L644.3 181.4L646.4 173.3L648.6 183.5L650.7 183.4L652.8 180.7L654.9 183.0L657.1 182.2L659.2 178.7L661.3 174.3L663.5 189.2L665.6 182.5L667.7 182.7L669.9 183.6L672.0 184.3L674.1 185.1L676.2 179.7L678.4 185.7L680.5 184.2" stroke="#1e90ff" stroke-width="1.75" fill="none" stroke-linejoin="round"/></g><path d="M417.64 126.30L417.64 121.50M417.64 7.00L417.64 11.80M470.91 126.30L470.91 121.50M470.91 7.00L470.91 11.80M524.18 126.30L524.18 121.50M524.18 7.00L524.18 11.80M577.45 126.30L577.45 121.50M577.45 7.00L577.45 11.80M630.73 126.30L630.73 121.50M630.73 7.00L630.73 11.80M684.00 126.30L684.00 121.50M684.00 7.00L684.00 11.80M391.00 118.20L395.80 118.20M684.00 118.20L679.20 118.20M391.00 102.35L395.80 102.35M684.00 102.35L679.20 102.35M391.00 86.50L395.80 86.50M684.00 86.50L679.20 86.50M391.00 70.65L395.80 70.65M684.00 70.65L679.20 70.65M391.00 54.80L395.80 54.80M684.00 54.80L679.20 54.80M391.00 38.95L395.80 38.95M684.00 38.95L679.20 38.95M391.00 23.10L395.80 23.10M684.00 23.10L679.20 23.10M391.00 7.25L395.80 7.25M684.00 7.25L679.20 7.25M396.33 126.30L396.33 123.80M396.33 7.00L396.33 9.50M406.98 126.30L406.98 123.80M406.98 7.00L406.98 9.50M428.29 126.30L428.29 123.80M428.29 7.00L428.29 9.50M438.95 126.30L438.95 123.80M438.95 7.00L438.95 9.50M449.60 126.30L449.60 123.80M449.60 7.00L449.60 9.50M460.25 126.30L460.25 123.80M460.25 7.00L460.25 9.50M481.56 126.30L481.56 123.80M481.56 7.00L481.56 9.50M492.22 126.30L492.22 123.80M492.22 7.00L492.22 9.50M502.87 126.30L502.87 123.80M502.87 7.00L502.87 9.50M513.53 126.30L513.53 123.80M513.53 7.00L513.53 9.50M534.84 126.30L534.84 123.80M534.84 7.00L534.84 9.50M545.49 126.30L545.49 123.80M545.49 7.00L545.49 9.50M556.15 126.30L556.15 123.80M556.15 7.00L556.15 9.50M566.80 126.30L566.80 123.80M566.80 7.00L566.80 9.50M588.11 126.30L588.11 123.80M588.11 7.00L588.11 9.50M598.76 126.30L598.76 123.80M598.76 7.00L598.76 9.50M609.42 126.30L609.42 123.80M609.42 7.00L609.42 9.50M620.07 126.30L620.07 123.80M620.07 7.00L620.07 9.50M641.38 126.30L641.38 123.80M641.38 7.00L641.38 9.50M652.04 126.30L652.04 123.80M652.04 7.00L652.04 9.50M662.69 126.30L662.69 123.80M662.69 7.00L662.69 9.50M673.35 126.30L673.35 123.80M673.35 7.00L673.35 9.50M391.00 126.12L393.50 126.12M684.00 126.12L681.50 126.12M391.00 110.28L393.50 110.28M684.00 110.28L681.50 110.28M391.00 94.43L393.50 94.43M684.00 94.43L681.50 94.43M391.00 78.57L393.50 78.57M684.00 78.57L681.50 78.57M391.00 62.72L393.50 62.72M684.00 62.72L681.50 62.72M391.00 46.88L393.50 46.88M684.00 46.88L681.50 46.88M391.00 31.02L393.50 31.02M684.00 31.02L681.50 31.02M391.00 15.18L393.50 15.18M684.00 15.18L681.50 15.18" stroke="#000" stroke-width="0.7" fill="none"/><rect x="391.0" y="7.0" width="293.00" height="119.30" fill="none" stroke="#000" stroke-width="1.25"/><text transform="translate(388.40,123.10) scale(1,1.06)" text-anchor="end">0.6</text><text transform="translate(388.40,107.25) scale(1,1.06)" text-anchor="end">0.7</text><text transform="translate(388.40,91.40) scale(1,1.06)" text-anchor="end">0.8</text><text transform="translate(388.40,75.55) scale(1,1.06)" text-anchor="end">0.9</text><text transform="translate(388.40,59.70) scale(1,1.06)" text-anchor="end">1.0</text><text transform="translate(388.40,43.85) scale(1,1.06)" text-anchor="end">1.1</text><text transform="translate(388.40,28.00) scale(1,1.06)" text-anchor="end">1.2</text><text transform="translate(388.40,12.15) scale(1,1.06)" text-anchor="end">1.3</text><path d="M417.64 194.40L417.64 189.60M417.64 126.30L417.64 131.10M470.91 194.40L470.91 189.60M470.91 126.30L470.91 131.10M524.18 194.40L524.18 189.60M524.18 126.30L524.18 131.10M577.45 194.40L577.45 189.60M577.45 126.30L577.45 131.10M630.73 194.40L630.73 189.60M630.73 126.30L630.73 131.10M684.00 194.40L684.00 189.60M684.00 126.30L684.00 131.10M391.00 187.59L395.80 187.59M684.00 187.59L679.20 187.59M391.00 173.97L395.80 173.97M684.00 173.97L679.20 173.97M391.00 160.35L395.80 160.35M684.00 160.35L679.20 160.35M391.00 146.73L395.80 146.73M684.00 146.73L679.20 146.73M391.00 133.11L395.80 133.11M684.00 133.11L679.20 133.11M396.33 194.40L396.33 191.90M396.33 126.30L396.33 128.80M406.98 194.40L406.98 191.90M406.98 126.30L406.98 128.80M428.29 194.40L428.29 191.90M428.29 126.30L428.29 128.80M438.95 194.40L438.95 191.90M438.95 126.30L438.95 128.80M449.60 194.40L449.60 191.90M449.60 126.30L449.60 128.80M460.25 194.40L460.25 191.90M460.25 126.30L460.25 128.80M481.56 194.40L481.56 191.90M481.56 126.30L481.56 128.80M492.22 194.40L492.22 191.90M492.22 126.30L492.22 128.80M502.87 194.40L502.87 191.90M502.87 126.30L502.87 128.80M513.53 194.40L513.53 191.90M513.53 126.30L513.53 128.80M534.84 194.40L534.84 191.90M534.84 126.30L534.84 128.80M545.49 194.40L545.49 191.90M545.49 126.30L545.49 128.80M556.15 194.40L556.15 191.90M556.15 126.30L556.15 128.80M566.80 194.40L566.80 191.90M566.80 126.30L566.80 128.80M588.11 194.40L588.11 191.90M588.11 126.30L588.11 128.80M598.76 194.40L598.76 191.90M598.76 126.30L598.76 128.80M609.42 194.40L609.42 191.90M609.42 126.30L609.42 128.80M620.07 194.40L620.07 191.90M620.07 126.30L620.07 128.80M641.38 194.40L641.38 191.90M641.38 126.30L641.38 128.80M652.04 194.40L652.04 191.90M652.04 126.30L652.04 128.80M662.69 194.40L662.69 191.90M662.69 126.30L662.69 128.80M673.35 194.40L673.35 191.90M673.35 126.30L673.35 128.80M391.00 194.40L393.50 194.40M684.00 194.40L681.50 194.40M391.00 180.78L393.50 180.78M684.00 180.78L681.50 180.78M391.00 167.16L393.50 167.16M684.00 167.16L681.50 167.16M391.00 153.54L393.50 153.54M684.00 153.54L681.50 153.54M391.00 139.92L393.50 139.92M684.00 139.92L681.50 139.92M391.00 126.30L393.50 126.30M684.00 126.30L681.50 126.30" stroke="#000" stroke-width="0.7" fill="none"/><rect x="391.0" y="126.3" width="293.00" height="68.10" fill="none" stroke="#000" stroke-width="1.25"/><text transform="translate(388.40,137.51) scale(1,1.06)" text-anchor="end">4</text><text transform="translate(388.40,151.13) scale(1,1.06)" text-anchor="end">2</text><text transform="translate(388.40,164.75) scale(1,1.06)" text-anchor="end">0</text><text transform="translate(388.40,178.37) scale(1,1.06)" text-anchor="end">−2</text><text transform="translate(388.40,191.99) scale(1,1.06)" text-anchor="end">−4</text><text transform="translate(418.44,211.10) scale(1,1.06)" text-anchor="middle">0.51</text><text transform="translate(471.71,211.10) scale(1,1.06)" text-anchor="middle">0.52</text><text transform="translate(524.98,211.10) scale(1,1.06)" text-anchor="middle">0.53</text><text transform="translate(578.25,211.10) scale(1,1.06)" text-anchor="middle">0.54</text><text transform="translate(631.53,211.10) scale(1,1.06)" text-anchor="middle">0.55</text><text transform="translate(684.80,211.10) scale(1,1.06)" text-anchor="middle">0.56</text><clipPath id="cm2"><rect x="53.5" y="224.7" width="293.0" height="119.19999999999999"/></clipPath><clipPath id="cr2"><rect x="53.5" y="343.9" width="293.0" height="68.60000000000002"/></clipPath><g clip-path="url(#cm2)"><path d="M53.5 235.4L54.8 234.9L56.1 234.9L57.4 233.6L58.7 233.8L60.0 232.7L61.3 232.8L62.6 233.9L63.9 233.4L65.2 234.0L66.5 235.0L67.8 235.2L69.1 236.8L70.4 241.2L71.7 243.5L73.0 246.3L74.3 244.4L75.6 243.8L76.9 246.7L78.2 251.1L79.5 258.3L80.8 269.7L82.1 281.9L83.5 291.0L84.8 289.7L86.1 280.3L87.4 265.3L88.7 253.4L90.0 250.7L91.3 247.5L92.6 246.0L93.9 245.3L95.2 243.1L96.5 241.7L97.8 242.0L99.1 240.6L100.4 239.8L101.7 239.8L103.0 241.8L104.3 241.1L105.6 240.6L106.9 236.9L108.2 236.2L109.5 236.3L110.8 238.5L112.1 239.8L113.4 239.3L114.7 239.1L116.0 239.5L117.3 238.6L118.6 238.5L119.9 239.5L121.2 241.4L122.5 243.1L123.8 242.1L125.1 241.6L126.4 240.7L127.7 239.0L129.0 236.9L130.3 233.5L131.6 232.2L132.9 230.8L134.2 231.6L135.5 232.3L136.8 232.8L138.1 233.8L139.4 233.1L140.8 231.2L142.1 229.6L143.4 231.4L144.7 232.0L146.0 234.8L147.3 235.6L148.6 236.7L149.9 236.2L151.2 234.4L152.5 234.9L153.8 234.1L155.1 233.9L156.4 234.8L157.7 235.8L159.0 236.7L160.3 237.3L161.6 238.3L162.9 238.3L164.2 238.2L165.5 238.4L166.8 238.6L168.1 242.1L169.4 244.9L170.7 251.4L172.0 252.7L173.3 250.8L174.6 250.5L175.9 248.1L177.2 245.0L178.5 244.0L179.8 246.5L181.1 246.7L182.4 246.4L183.7 245.6L185.0 242.3L186.3 246.1L187.6 249.4L188.9 252.4L190.2 253.7L191.5 253.9L192.8 253.7L194.1 254.2L195.4 255.5L196.7 254.5L198.1 255.8L199.4 256.7L200.7 258.1L202.0 257.4L203.3 256.2L204.6 253.6L205.9 252.1L207.2 248.4L208.5 246.3L209.8 246.0L211.1 245.6L212.4 246.3L213.7 245.6L215.0 248.7L216.3 247.4L217.6 248.5L218.9 247.5L220.2 246.4L221.5 247.2L222.8 246.0L224.1 245.5L225.4 242.0L226.7 241.8L228.0 241.3L229.3 243.3L230.6 243.5L231.9 242.4L233.2 244.1L234.5 245.9L235.8 247.3L237.1 249.1L238.4 245.7L239.7 243.0L241.0 239.3L242.3 238.4L243.6 237.6L244.9 239.1L246.2 238.4L247.5 238.5L248.8 239.0L250.1 239.5L251.4 239.7L252.7 242.5L254.0 239.9L255.4 240.7L256.7 240.1L258.0 239.8L259.3 239.9L260.6 238.6L261.9 237.2L263.2 236.5L264.5 238.7L265.8 239.6L267.1 237.6L268.4 238.9L269.7 235.8L271.0 236.8L272.3 237.2L273.6 236.3L274.9 237.7L276.2 242.8L277.5 243.4L278.8 247.3L280.1 247.4L281.4 248.6L282.7 247.8L284.0 243.9L285.3 241.3L286.6 238.8L287.9 238.1L289.2 238.1L290.5 238.1L291.8 237.7L293.0 237.2L294.4 236.2L295.5 235.9L297.5 244.6L298.3 245.0L299.6 248.8L300.9 249.6L302.2 251.9L303.5 251.7L304.8 248.7L306.1 247.2L307.4 244.1L308.7 243.4L310.0 240.7L311.3 241.6L312.7 243.0L314.0 241.7L315.3 240.4L316.6 240.1L317.9 239.7L319.2 240.5L320.5 240.6L321.8 241.0L323.1 241.7L324.4 244.3L325.7 245.2L327.0 243.6L328.3 245.1L329.6 243.6L330.9 244.3L332.2 244.2L333.5 244.1L334.8 245.5L336.1 245.8L337.4 247.4L338.7 247.5L340.0 246.6L341.3 246.1" stroke="#ff0000" stroke-width="1.55" fill="none" stroke-linejoin="round"/><path d="M53.5 253.5L54.8 253.4L56.1 253.1L57.4 250.8L58.7 253.2L60.0 251.3L61.3 252.3L62.6 251.7L63.9 251.8L65.2 251.1L66.5 253.8L67.8 254.6L69.1 257.6L70.4 258.6L71.7 261.7L73.0 262.3L74.3 263.1L75.6 261.7L76.9 262.3L78.2 269.6L79.5 276.3L80.8 286.2L82.1 298.0L83.5 306.6L84.8 304.8L86.1 295.5L87.4 281.8L88.7 274.4L90.0 270.1L91.3 267.5L92.6 264.5L93.9 261.5L95.2 260.5L96.5 259.8L97.8 259.0L99.1 258.2L100.4 259.2L101.7 258.8L103.0 259.1L104.3 261.0L105.6 258.7L106.9 255.9L108.2 256.2L109.5 256.2L110.8 257.4L112.1 258.3L113.4 257.4L114.7 258.1L116.0 258.3L117.3 259.7L118.6 258.0L119.9 259.8L121.2 260.5L122.5 259.3L123.8 259.9L125.1 261.8L126.4 258.5L127.7 257.0L129.0 255.8L130.3 252.3L131.6 252.4L132.9 250.9L134.2 250.9L135.5 251.6L136.8 251.1L138.1 252.8L139.4 251.6L140.8 250.4L142.1 249.1L143.4 250.5L144.7 251.3L146.0 254.2L147.3 255.5L148.6 255.2L149.9 255.0L151.2 255.6L152.5 254.3L153.8 252.5L155.1 254.1L156.4 253.8L157.7 253.5L159.0 256.1L160.3 257.3L161.6 258.2L162.9 257.1L164.2 256.5L165.5 256.7L166.8 257.1L168.1 259.3L169.4 264.0L170.7 269.9L172.0 271.5L173.3 271.3L174.6 268.5L175.9 266.0L177.2 263.9L178.5 263.6L179.8 265.9L181.1 265.3L182.4 265.1L183.7 263.2L185.0 263.9L186.3 265.0L187.6 268.4L188.9 271.6L190.2 272.3L191.5 273.5L192.8 273.0L194.1 274.2L195.4 273.5L196.7 275.2L198.1 275.1L199.4 275.9L200.7 275.7L202.0 275.8L203.3 274.8L204.6 271.9L205.9 269.8L207.2 267.1L208.5 264.9L209.8 264.4L211.1 264.6L212.4 264.6L213.7 265.7L215.0 265.5L216.3 265.1L217.6 265.3L218.9 266.0L220.2 266.4L221.5 265.1L222.8 264.5L224.1 262.4L225.4 262.3L226.7 261.3L228.0 260.4L229.3 261.6L230.6 261.9L231.9 261.1L233.2 262.0L234.5 264.3L235.8 266.5L237.1 267.9L238.4 264.8L239.7 261.7L241.0 258.3L242.3 257.1L243.6 256.8L244.9 257.6L246.2 257.8L247.5 257.2L248.8 258.3L250.1 260.1L251.4 259.7L252.7 260.4L254.0 259.9L255.4 258.9L256.7 258.7L258.0 259.0L259.3 257.8L260.6 258.0L261.9 258.1L263.2 258.0L264.5 258.2L265.8 257.0L267.1 258.9L268.4 256.2L269.7 255.4L271.0 255.8L272.3 255.3L273.6 256.4L274.9 257.8L276.2 260.1L277.5 263.5L278.8 265.3L280.1 266.7L281.4 267.2L282.7 265.7L284.0 263.7L285.3 261.1L286.6 260.7L287.9 258.5L289.2 257.8L290.5 257.8L292.0 254.6L293.1 255.5L294.4 253.8L295.4 252.4L297.0 260.2L298.1 263.7L300.1 258.4L300.9 263.8L302.5 272.9L303.5 270.7L304.7 267.5L306.1 260.8L306.9 256.8L308.8 263.0L310.0 259.5L311.9 252.3L312.7 256.3L314.6 263.1L315.3 260.4L317.0 258.4L317.9 258.5L319.2 257.8L320.5 257.9L321.8 260.6L323.1 260.9L324.4 262.9L325.7 262.8L327.0 263.5L328.3 262.0L329.6 262.7L330.9 263.9L332.2 263.9L333.5 265.5L334.8 265.3L336.1 265.3L337.4 265.9L338.7 267.7L340.0 266.7L341.3 266.2" stroke="#008000" stroke-width="1.55" fill="none" stroke-linejoin="round"/><path d="M53.5 272.3L54.8 272.0L56.1 272.7L57.4 271.5L58.7 270.1L60.0 271.2L61.3 267.6L62.6 270.9L63.8 271.6L65.1 270.4L66.4 271.6L67.7 273.5L69.0 275.9L70.3 277.9L71.6 279.8L72.9 281.3L74.2 282.1L75.5 280.6L76.8 281.3L78.1 287.2L79.4 298.2L80.7 306.0L82.0 318.4L83.3 327.7L84.5 328.9L85.8 318.7L87.1 304.6L88.4 293.6L89.7 288.8L91.0 283.9L92.3 284.0L93.6 281.5L94.9 278.8L96.2 278.8L97.5 280.3L98.8 277.4L100.1 278.1L101.4 277.8L102.7 276.6L104.0 277.1L105.2 277.2L106.5 274.5L107.8 273.6L109.1 273.6L110.4 274.1L111.7 275.2L113.0 276.5L114.3 276.6" stroke="#1e90ff" stroke-width="1.55" fill="none" stroke-linejoin="round"/><path d="M117.2 275.0L118.5 276.2L119.8 277.7L121.1 277.7L122.4 277.9L123.7 280.8L125.0 279.9L126.3 279.3L127.6 276.4L128.9 272.8L130.2 271.3L131.5 271.1L132.8 269.0L134.1 267.2L135.4 269.8L136.7 270.4L138.0 270.1L139.3 271.4L140.7 267.6L142.0 267.7L143.3 268.4L144.6 271.7L145.9 273.1L147.2 273.9L148.5 273.3L149.8 273.8L151.1 273.6L152.4 271.6L153.7 271.7L155.0 273.5L156.3 273.6L157.6 271.9L158.9 275.1L160.2 274.4L161.5 274.8L162.8 277.0L164.1 276.1L165.4 275.2L166.7 276.5L168.0 279.4L169.3 283.1L170.6 286.1L171.9 290.2L173.2 290.1L174.5 288.2L175.8 286.0L177.1 280.8L178.4 284.2L179.7 283.7L181.0 283.3L182.3 284.5L183.6 281.4L185.0 280.2L186.3 283.6L187.6 285.5L188.9 290.0L190.2 290.6L191.5 291.4L192.8 291.4L194.1 290.5L195.4 291.5L196.7 291.0L198.0 292.5L199.3 295.1L200.6 294.4L201.9 294.1L203.2 294.6L204.5 289.9L205.8 288.5L207.1 285.7L208.4 284.7L209.7 282.5L211.0 282.1L212.3 283.1L213.6 283.2L214.9 285.8L216.2 282.7L217.5 285.1L218.8 286.0L220.1 284.6L221.4 284.2L222.7 282.4L224.0 282.8L225.3 280.5L226.6 281.0L227.9 277.8L229.2 279.8L230.6 278.9L231.9 282.6L233.2 281.7L234.5 284.9L235.8 285.2L237.1 285.7L238.4 285.9L239.7 282.1L241.0 278.8L242.3 277.3L243.6 276.7L244.9 277.6L246.2 278.8L247.5 277.6L248.8 277.5L250.1 279.7L251.4 279.3L252.7 278.9L254.0 279.3L255.3 279.8L256.6 277.9L257.9 277.2L259.2 276.7L260.5 276.9L261.8 274.1L263.1 274.0L264.4 276.6L265.7 276.8L267.0 275.2L268.3 276.5L269.6 274.5L270.9 274.2L272.2 274.6L273.5 274.7L274.9 278.1L276.2 279.8L277.5 284.1L278.8 282.4L280.1 284.6L281.4 284.7L282.7 284.0L284.0 280.9L285.3 278.3L286.6 276.9L287.9 276.1L289.5 276.9L290.4 277.7L291.5 270.5L292.5 275.8L294.5 278.1L296.1 273.5L297.5 280.3L298.3 285.5L299.6 286.9L300.9 290.4L302.2 293.2L303.5 291.9L304.8 288.5L306.1 283.9L307.4 281.8L308.7 280.5L310.0 278.9L311.3 281.7L312.6 279.5L313.9 278.1L315.2 278.4L316.5 277.2L317.8 276.9L319.2 276.4L320.5 277.2L321.8 279.2L323.1 279.9L324.4 281.1L325.7 280.6L327.0 280.4L328.3 281.5L329.6 282.6L330.9 282.6L332.2 282.4L333.5 281.5L334.8 283.1L336.1 283.9L337.4 284.9L338.7 283.6L340.0 284.5L341.3 285.0" stroke="#1e90ff" stroke-width="1.55" fill="none" stroke-linejoin="round"/><path d="M53.5 236.0L54.5 235.2L55.5 234.5L56.5 234.0L57.5 233.6L58.5 233.3L59.5 233.0L60.5 232.9L61.5 232.8L62.5 232.8L63.5 233.0L64.5 233.3L65.5 233.8L66.5 234.4L67.5 235.2L68.5 236.6L69.5 238.6L70.5 240.7L71.6 242.5L72.6 243.8L73.6 244.2L74.6 243.7L75.6 243.1L76.6 243.7L77.6 247.4L78.6 253.0L79.6 258.7L80.6 266.5L81.6 276.2L82.6 285.1L83.6 290.8L84.6 290.7L85.6 283.8L86.6 273.3L87.6 262.5L88.6 254.8L89.6 251.5L90.6 248.9L91.6 246.9L92.6 245.5L93.6 244.3L94.6 243.2L95.6 242.2L96.6 241.4L97.6 240.8L98.6 240.5L99.6 240.4L100.6 240.4L101.6 240.4L102.6 240.4L103.6 240.4L104.6 240.2L105.6 239.3L106.6 238.1L107.7 237.1L108.7 236.6L109.7 236.9L110.7 237.6L111.7 238.4L112.7 239.0L113.7 239.2L114.7 239.0L115.7 238.7L116.7 238.5L117.7 238.5L118.7 238.9L119.7 239.4L120.7 240.1L121.7 240.7L122.7 241.3L123.7 241.6L124.7 241.6L125.7 241.0L126.7 239.9L127.7 238.4L128.7 236.7L129.7 234.9L130.7 233.2L131.7 231.8L132.7 230.8L133.7 230.4L134.7 230.8L135.7 231.7L136.7 232.5L137.7 232.8L138.7 232.3L139.7 231.5L140.7 230.7L141.7 230.4L142.7 230.9L143.8 232.0L144.8 233.3L145.8 234.6L146.8 235.4L147.8 235.7L148.8 235.9L149.8 236.0L150.8 235.9L151.8 235.7L152.8 235.3L153.8 235.0L154.8 234.7L155.8 234.8L156.8 235.2L157.8 235.9L158.8 236.8L159.8 237.7L160.8 238.4L161.8 238.8L162.8 238.8L163.8 238.5L164.8 238.1L165.8 237.9L166.8 238.5L167.8 240.7L168.8 243.8L169.8 247.2L170.8 250.3L171.8 252.4L172.8 253.0L173.8 251.8L174.8 249.7L175.8 247.4L176.8 245.4L177.8 244.5L178.8 245.0L179.9 246.1L180.9 246.8L181.9 246.5L182.9 245.7L183.9 244.9L184.9 244.5L185.9 245.2L186.9 247.1L187.9 249.6L188.9 252.0L189.9 253.8L190.9 254.4L191.9 254.5L192.9 254.6L193.9 254.7L194.9 254.7L195.9 254.9L196.9 255.2L197.9 255.8L198.9 256.4L199.9 257.0L200.9 257.4L201.9 257.2L202.9 256.4L203.9 255.0L204.9 253.2L205.9 251.3L206.9 249.4L207.9 247.7L208.9 246.3L209.9 245.6L210.9 245.5L211.9 245.7L212.9 246.1L213.9 246.4L214.9 246.7L216.0 246.8L217.0 246.8L218.0 246.7L219.0 246.5L220.0 246.4L221.0 246.2L222.0 245.9L223.0 245.4L224.0 244.5L225.0 243.6L226.0 242.8L227.0 242.4L228.0 242.3L229.0 242.5L230.0 242.8L231.0 243.2L232.0 243.7L233.0 244.2L234.0 245.2L235.0 246.7L236.0 247.9L237.0 248.3L238.0 247.1L239.0 244.8L240.0 242.1L241.0 239.6L242.0 238.1L243.0 238.0L244.0 238.3L245.0 238.9L246.0 239.4L247.0 239.8L248.0 240.0L249.0 240.2L250.0 240.4L251.0 240.5L252.1 240.7L253.1 240.8L254.1 240.8L255.1 240.8L256.1 240.5L257.1 240.2L258.1 239.7L259.1 239.2L260.1 238.7L261.1 238.3L262.1 238.0L263.1 237.9L264.1 238.3L265.1 239.0L266.1 239.2L267.1 239.0L268.1 238.5L269.1 238.0L270.1 237.4L271.1 236.9L272.1 236.6L273.1 236.8L274.1 237.8L275.1 239.6L276.1 241.7L277.1 243.9L278.1 246.0L279.1 247.6L280.1 248.6L281.1 248.5L282.1 247.6L283.1 246.0L284.1 244.1L285.1 242.3L286.1 240.8L287.1 240.0L288.2 239.3L289.2 238.6L290.2 237.9L291.2 237.4L292.2 237.0L293.2 236.7L294.2 236.6L295.2 237.2L296.2 239.0L297.2 241.5L298.2 244.4L299.2 247.3L300.2 249.8L301.2 251.5L302.2 252.1L303.2 251.5L304.2 250.0L305.2 248.0L306.2 245.8L307.2 243.8L308.2 242.3L309.2 241.7L310.2 241.9L311.2 242.2L312.2 242.3L313.2 242.1L314.2 241.8L315.2 241.3L316.2 240.8L317.2 240.4L318.2 240.0L319.2 239.8L320.2 239.9L321.2 240.5L322.2 241.4L323.2 242.3L324.3 243.3L325.3 244.0L326.3 244.2L327.3 244.2L328.3 244.2L329.3 244.2L330.3 244.2L331.3 244.4L332.3 244.8L333.3 245.4L334.3 245.9L335.3 246.3L336.3 246.5L337.3 246.8L338.3 247.0L339.3 247.2L340.3 247.3L341.3 247.4" stroke="#000" stroke-width="1.5" fill="none" stroke-linejoin="round"/><path d="M53.5 254.7L54.5 253.9L55.5 253.2L56.5 252.7L57.5 252.3L58.5 252.0L59.5 251.7L60.5 251.6L61.5 251.5L62.5 251.5L63.5 251.7L64.5 252.0L65.5 252.5L66.5 253.1L67.5 253.9L68.5 255.3L69.5 257.3L70.5 259.4L71.6 261.2L72.6 262.5L73.6 262.9L74.6 262.4L75.6 261.8L76.6 262.4L77.6 266.2L78.6 271.8L79.6 277.3L80.6 284.6L81.6 293.3L82.6 301.3L83.6 306.4L84.6 306.3L85.6 300.1L86.6 290.5L87.6 280.6L88.6 273.5L89.6 270.2L90.6 267.6L91.6 265.6L92.6 264.2L93.6 263.0L94.6 261.9L95.6 260.9L96.6 260.1L97.6 259.5L98.6 259.2L99.6 259.1L100.6 259.1L101.6 259.1L102.6 259.1L103.6 259.1L104.6 258.9L105.6 258.0L106.6 256.8L107.7 255.8L108.7 255.3L109.7 255.6L110.7 256.3L111.7 257.1L112.7 257.7L113.7 257.9L114.7 257.7L115.7 257.4L116.7 257.2L117.7 257.2L118.7 257.6L119.7 258.1L120.7 258.8L121.7 259.4L122.7 260.0L123.7 260.3L124.7 260.3L125.7 259.7L126.7 258.6L127.7 257.1L128.7 255.4L129.7 253.6L130.7 251.9L131.7 250.5L132.7 249.5L133.7 249.1L134.7 249.5L135.7 250.4L136.7 251.2L137.7 251.5L138.7 251.0L139.7 250.2L140.7 249.4L141.7 249.1L142.7 249.6L143.8 250.7L144.8 252.0L145.8 253.3L146.8 254.1L147.8 254.4L148.8 254.6L149.8 254.7L150.8 254.6L151.8 254.4L152.8 254.0L153.8 253.7L154.8 253.4L155.8 253.5L156.8 253.9L157.8 254.6L158.8 255.5L159.8 256.4L160.8 257.1L161.8 257.5L162.8 257.5L163.8 257.2L164.8 256.8L165.8 256.6L166.8 257.2L167.8 259.4L168.8 262.5L169.8 265.9L170.8 269.0L171.8 271.1L172.8 271.7L173.8 270.5L174.8 268.4L175.8 266.1L176.8 264.1L177.8 263.2L178.8 263.7L179.9 264.8L180.9 265.5L181.9 265.2L182.9 264.4L183.9 263.6L184.9 263.2L185.9 263.9L186.9 265.8L187.9 268.3L188.9 270.7L189.9 272.5L190.9 273.1L191.9 273.2L192.9 273.3L193.9 273.4L194.9 273.4L195.9 273.6L196.9 273.9L197.9 274.5L198.9 275.1L199.9 275.7L200.9 276.1L201.9 275.9L202.9 275.1L203.9 273.7L204.9 271.9L205.9 270.0L206.9 268.1L207.9 266.4L208.9 265.0L209.9 264.3L210.9 264.2L211.9 264.4L212.9 264.8L213.9 265.1L214.9 265.4L216.0 265.5L217.0 265.5L218.0 265.4L219.0 265.2L220.0 265.1L221.0 264.9L222.0 264.6L223.0 264.1L224.0 263.2L225.0 262.3L226.0 261.5L227.0 261.1L228.0 261.0L229.0 261.2L230.0 261.5L231.0 261.9L232.0 262.4L233.0 262.9L234.0 263.9L235.0 265.4L236.0 266.6L237.0 267.0L238.0 265.8L239.0 263.5L240.0 260.8L241.0 258.3L242.0 256.8L243.0 256.7L244.0 257.0L245.0 257.6L246.0 258.1L247.0 258.5L248.0 258.7L249.0 258.9L250.0 259.1L251.0 259.2L252.1 259.4L253.1 259.5L254.1 259.5L255.1 259.5L256.1 259.2L257.1 258.9L258.1 258.4L259.1 257.9L260.1 257.4L261.1 257.0L262.1 256.7L263.1 256.6L264.1 257.0L265.1 257.7L266.1 257.9L267.1 257.7L268.1 257.2L269.1 256.7L270.1 256.1L271.1 255.6L272.1 255.3L273.1 255.5L274.1 256.5L275.1 258.3L276.1 260.4L277.1 262.6L278.1 264.7L279.1 266.3L280.1 267.3L281.1 267.2L282.1 266.3L283.1 264.7L284.1 262.8L285.1 261.0L286.1 259.5L287.1 258.7L288.2 258.0L289.2 257.3L290.2 256.6L291.2 256.1L292.2 255.7L293.2 255.4L294.2 255.3L295.2 255.8L296.2 257.0L297.2 258.8L298.2 260.8L299.2 262.8L300.2 264.6L301.2 265.8L302.2 266.2L303.2 265.8L304.2 265.0L305.2 263.9L306.2 262.7L307.2 261.6L308.2 260.8L309.2 260.4L310.2 260.6L311.2 260.9L312.2 261.0L313.2 260.8L314.2 260.5L315.2 260.0L316.2 259.5L317.2 259.1L318.2 258.7L319.2 258.5L320.2 258.6L321.2 259.2L322.2 260.1L323.2 261.0L324.3 262.0L325.3 262.7L326.3 262.9L327.3 262.9L328.3 262.9L329.3 262.9L330.3 262.9L331.3 263.1L332.3 263.5L333.3 264.1L334.3 264.6L335.3 265.0L336.3 265.2L337.3 265.5L338.3 265.7L339.3 265.9L340.3 266.0L341.3 266.1" stroke="#000" stroke-width="1.5" fill="none" stroke-linejoin="round"/><path d="M53.5 273.5L54.5 272.7L55.5 272.0L56.5 271.5L57.6 271.1L58.6 270.8L59.6 270.5L60.6 270.4L61.6 270.3L62.6 270.3L63.6 270.5L64.6 270.9L65.7 271.4L66.7 272.0L67.7 272.8L68.7 274.4L69.7 276.4L70.7 278.5L71.7 280.3L72.8 281.5L73.8 281.6L74.8 281.0L75.8 280.5L76.8 281.8L77.8 286.2L78.8 292.0L79.8 298.0L80.9 306.8L81.9 316.6L82.9 325.0L83.9 329.3L84.9 326.8L85.9 318.2L86.9 306.9L88.0 296.7L89.0 290.9L90.0 287.9L91.0 285.6L92.0 283.8L93.0 282.5L94.0 281.3L95.0 280.3L96.1 279.3L97.1 278.6L98.1 278.1L99.1 277.9L100.1 277.9L101.1 277.9L102.1 277.9L103.2 277.9L104.2 277.9L105.2 277.3L106.2 276.2L107.2 275.0L108.2 274.2L109.2 274.2L110.2 274.8L111.3 275.6L112.3 276.3L113.3 276.7L114.3 276.6" stroke="#000" stroke-width="1.5" fill="none" stroke-linejoin="round"/><path d="M117.2 276.0L118.2 277.0L119.2 277.8L120.2 278.4L121.2 278.8L122.2 279.0L123.2 279.2L124.2 279.2L125.2 278.9L126.2 278.0L127.2 276.7L128.2 275.0L129.2 273.3L130.2 271.5L131.2 270.0L132.2 268.7L133.2 268.0L134.2 268.0L135.2 268.7L136.2 269.6L137.2 270.3L138.2 270.1L139.2 269.4L140.2 268.6L141.2 268.0L142.2 268.0L143.2 268.8L144.2 270.1L145.2 271.4L146.2 272.5L147.2 273.1L148.2 273.3L149.2 273.5L150.2 273.5L151.2 273.3L152.2 273.0L153.2 272.6L154.2 272.3L155.2 272.2L156.2 272.4L157.2 273.0L158.2 273.8L159.2 274.7L160.2 275.5L161.2 276.1L162.2 276.4L163.2 276.2L164.2 275.9L165.2 275.5L166.2 275.5L167.2 276.8L168.2 279.4L169.2 282.7L170.2 286.0L171.2 288.8L172.2 290.4L173.2 290.2L174.2 288.6L175.2 286.3L176.2 284.0L177.2 282.4L178.2 282.1L179.2 282.9L180.2 283.9L181.2 284.3L182.2 283.8L183.2 282.9L184.2 282.2L185.2 282.1L186.2 283.3L187.2 285.5L188.2 288.0L189.2 290.2L190.2 291.6L191.2 291.9L192.2 292.0L193.2 292.1L194.2 292.2L195.2 292.3L196.2 292.5L197.2 292.9L198.2 293.5L199.2 294.1L200.2 294.7L201.2 294.9L202.2 294.5L203.2 293.5L204.2 292.0L205.2 290.1L206.2 288.2L207.2 286.3L208.2 284.7L209.2 283.5L210.2 283.0L211.2 283.1L212.2 283.3L213.2 283.7L214.2 284.0L215.2 284.2L216.2 284.3L217.2 284.3L218.2 284.1L219.2 284.0L220.2 283.8L221.2 283.6L222.2 283.3L223.2 282.6L224.2 281.8L225.2 280.9L226.2 280.1L227.2 279.8L228.2 279.9L229.2 280.1L230.3 280.4L231.3 280.8L232.3 281.3L233.3 281.9L234.3 283.0L235.3 284.5L236.3 285.6L237.3 285.6L238.3 284.1L239.3 281.7L240.3 279.0L241.3 276.7L242.3 275.5L243.3 275.5L244.3 276.0L245.3 276.5L246.3 277.1L247.3 277.4L248.3 277.6L249.3 277.8L250.3 277.9L251.3 278.1L252.3 278.2L253.3 278.3L254.3 278.3L255.3 278.2L256.3 278.0L257.3 277.6L258.3 277.1L259.3 276.6L260.3 276.1L261.3 275.7L262.3 275.5L263.3 275.4L264.3 275.9L265.3 276.5L266.3 276.7L267.3 276.4L268.3 275.9L269.3 275.4L270.3 274.8L271.3 274.3L272.3 274.1L273.3 274.4L274.3 275.6L275.3 277.4L276.3 279.5L277.3 281.7L278.3 283.8L279.3 285.3L280.3 286.1L281.3 286.0L282.3 284.9L283.3 283.2L284.3 281.3L285.3 279.5L286.3 278.2L287.3 277.4L288.3 276.7L289.3 276.0L290.3 275.4L291.3 274.8L292.3 274.4L293.3 274.2L294.3 274.1L295.3 275.0L296.3 277.3L297.3 280.3L298.3 283.8L299.3 287.2L300.3 290.1L301.3 292.0L302.3 292.6L303.3 291.6L304.3 289.7L305.3 287.1L306.3 284.3L307.3 281.8L308.3 279.9L309.3 279.2L310.3 279.4L311.3 279.7L312.3 279.8L313.3 279.6L314.3 279.3L315.3 278.8L316.3 278.3L317.3 277.9L318.3 277.5L319.3 277.3L320.3 277.4L321.3 278.0L322.3 278.9L323.3 279.9L324.3 280.8L325.3 281.5L326.3 281.7L327.3 281.7L328.3 281.7L329.3 281.7L330.3 281.7L331.3 281.9L332.3 282.3L333.3 282.9L334.3 283.4L335.3 283.8L336.3 284.0L337.3 284.3L338.3 284.5L339.3 284.7L340.3 284.8L341.3 284.9" stroke="#000" stroke-width="1.5" fill="none" stroke-linejoin="round"/></g><g clip-path="url(#cr2)"><path d="M53.5 353.8L54.8 353.9L56.1 354.0L57.4 354.0L58.7 354.0L60.0 353.9L61.3 353.8L62.6 353.6L63.9 353.5L65.2 353.4L66.5 353.3L67.8 353.2L69.1 353.2L70.4 353.3L71.7 353.4L73.0 353.5L74.3 353.6L75.6 353.7L76.9 353.6L78.2 353.5L79.5 353.3L80.8 353.2L82.1 353.3L83.5 353.3L84.8 353.3L86.1 353.4L87.4 353.4L88.7 353.4L90.0 353.4L91.3 353.5L92.6 353.6L93.9 353.7L95.2 353.6L96.5 353.5L97.8 353.4L99.1 353.2L100.4 353.1L101.7 353.1L103.0 353.3L104.3 353.4L105.6 353.5L106.9 353.5L108.2 353.4L109.5 353.3L110.8 353.3L112.1 353.4L113.4 353.5L114.7 353.7L116.0 353.8L117.3 353.9L118.6 353.8L119.9 353.7L121.2 353.6L122.5 353.6L123.8 353.6L125.1 353.6L126.4 353.8L127.7 353.8L129.0 353.9L130.3 353.9L131.6 353.9L132.9 353.9L134.2 354.0L135.5 354.0L136.8 353.9L138.1 353.8L139.4 353.5L140.8 353.2L142.1 353.1L143.4 353.1L144.7 353.3L146.0 353.5L147.3 353.7L148.6 353.8L149.9 353.8L151.2 353.6L152.5 353.5L153.8 353.1L155.1 351.8L156.4 350.2L157.7 351.1L159.0 352.8L160.3 353.5L161.6 353.6L162.9 353.6L164.2 353.6L165.5 353.5L166.8 353.4L168.1 353.3L169.4 353.3L170.7 353.4L172.0 353.5L173.3 353.5L174.6 353.4L175.9 353.2L177.2 353.1L178.5 353.0L179.8 352.9L181.1 353.0L182.4 353.2L183.7 353.3L185.0 353.3L186.3 353.3L187.6 353.3L188.9 353.4L190.2 353.3L191.5 353.3L192.8 353.2L194.1 353.1L195.4 353.0L196.7 353.1L198.1 353.2L199.4 353.4L200.7 353.6L202.0 353.6L203.3 353.5L204.6 353.4L205.9 353.4L207.2 353.5L208.5 353.7L209.8 353.8L211.1 354.0L212.4 354.0L213.7 353.9L215.0 353.7L216.3 353.5L217.6 353.3L218.9 353.1L220.2 353.0L221.5 353.1L222.8 353.2L224.1 353.3L225.4 353.4L226.7 353.3L228.0 353.1L229.3 352.9L230.6 352.7L231.9 352.8L233.2 353.0L234.5 353.3L235.8 353.6L237.1 353.8L238.4 353.8L239.7 353.6L241.0 353.4L242.3 353.1L243.6 353.0L244.9 352.9L246.2 353.0L247.5 353.1L248.8 353.2L250.1 353.3L251.4 353.3L252.7 353.3L254.0 353.2L255.4 353.1L256.7 353.1L258.0 353.2L259.3 353.3L260.6 353.5L261.9 353.6L263.2 353.5L264.5 353.4L265.8 353.3L267.1 353.3L268.4 353.3L269.7 353.3L271.0 353.3L272.3 353.2L273.6 353.1L274.9 353.0L276.2 352.9L277.5 352.8L278.8 352.9L280.1 353.0L281.4 353.1L282.7 353.3L284.0 353.4L285.3 353.5L286.6 353.4L287.9 353.4L289.2 353.4L290.5 353.5L291.8 353.5L293.0 353.6L294.4 353.6L295.5 353.5L297.5 353.4L298.3 353.3L299.6 353.3L300.9 353.3L302.2 353.4L303.5 353.5L304.8 353.6L306.1 353.6L307.4 353.6L308.7 353.6L310.0 353.7L311.3 353.9L312.7 354.1L314.0 354.2L315.3 354.2L316.6 354.1L317.9 353.8L319.2 353.6L320.5 353.6L321.8 353.6L323.1 353.7L324.4 353.8L325.7 353.8L327.0 353.8L328.3 353.6L329.6 353.5L330.9 353.4L332.2 353.4L333.5 353.3L334.8 353.3L336.1 353.3L337.4 353.2L338.7 353.2L340.0 353.1L341.3 353.1L341.3 362.1L340.0 362.1L338.7 362.1L337.4 362.0L336.1 362.0L334.8 362.0L333.5 361.9L332.2 361.9L330.9 361.8L329.6 361.7L328.3 361.6L327.0 361.5L325.7 361.4L324.4 361.4L323.1 361.5L321.8 361.6L320.5 361.6L319.2 361.6L317.9 361.4L316.6 361.2L315.3 361.0L314.0 361.0L312.7 361.1L311.3 361.3L310.0 361.5L308.7 361.7L307.4 361.7L306.1 361.7L304.8 361.7L303.5 361.8L302.2 361.8L300.9 361.9L299.6 361.9L298.3 361.9L297.5 361.8L295.5 361.7L294.4 361.7L293.0 361.7L291.8 361.7L290.5 361.8L289.2 361.8L287.9 361.8L286.6 361.8L285.3 361.8L284.0 361.8L282.7 361.9L281.4 362.1L280.1 362.3L278.8 362.4L277.5 362.4L276.2 362.4L274.9 362.3L273.6 362.1L272.3 362.0L271.0 361.9L269.7 361.9L268.4 361.9L267.1 361.9L265.8 361.9L264.5 361.8L263.2 361.7L261.9 361.7L260.6 361.8L259.3 361.9L258.0 362.1L256.7 362.2L255.4 362.2L254.0 362.1L252.7 362.0L251.4 361.9L250.1 361.9L248.8 362.0L247.5 362.2L246.2 362.3L244.9 362.3L243.6 362.3L242.3 362.1L241.0 361.9L239.7 361.6L238.4 361.5L237.1 361.5L235.8 361.6L234.5 361.9L233.2 362.2L231.9 362.5L230.6 362.5L229.3 362.4L228.0 362.2L226.7 362.0L225.4 361.9L224.1 361.9L222.8 362.1L221.5 362.2L220.2 362.2L218.9 362.2L217.6 362.0L216.3 361.7L215.0 361.5L213.7 361.4L212.4 361.3L211.1 361.3L209.8 361.4L208.5 361.6L207.2 361.7L205.9 361.8L204.6 361.8L203.3 361.8L202.0 361.7L200.7 361.7L199.4 361.8L198.1 362.0L196.7 362.2L195.4 362.2L194.1 362.2L192.8 362.1L191.5 362.0L190.2 361.9L188.9 361.9L187.6 361.9L186.3 361.9L185.0 361.9L183.7 362.0L182.4 362.1L181.1 362.2L179.8 362.3L178.5 362.3L177.2 362.2L175.9 362.0L174.6 361.8L173.3 361.7L172.0 361.8L170.7 361.8L169.4 361.9L168.1 361.9L166.8 361.9L165.5 361.8L164.2 361.7L162.9 361.6L161.6 361.7L160.3 361.8L159.0 362.4L157.7 364.1L156.4 365.1L155.1 363.5L153.8 362.1L152.5 361.7L151.2 361.6L149.9 361.5L148.6 361.5L147.3 361.5L146.0 361.7L144.7 362.0L143.4 362.1L142.1 362.2L140.8 362.0L139.4 361.7L138.1 361.5L136.8 361.3L135.5 361.2L134.2 361.3L132.9 361.3L131.6 361.4L130.3 361.4L129.0 361.4L127.7 361.4L126.4 361.5L125.1 361.6L123.8 361.7L122.5 361.7L121.2 361.6L119.9 361.5L118.6 361.4L117.3 361.4L116.0 361.4L114.7 361.6L113.4 361.7L112.1 361.9L110.8 361.9L109.5 361.9L108.2 361.8L106.9 361.8L105.6 361.7L104.3 361.8L103.0 362.0L101.7 362.1L100.4 362.1L99.1 362.0L97.8 361.9L96.5 361.7L95.2 361.6L93.9 361.6L92.6 361.7L91.3 361.8L90.0 361.8L88.7 361.8L87.4 361.9L86.1 361.9L84.8 361.9L83.5 362.0L82.1 362.0L80.8 362.0L79.5 361.9L78.2 361.7L76.9 361.6L75.6 361.5L74.3 361.6L73.0 361.7L71.7 361.9L70.4 362.0L69.1 362.0L67.8 362.0L66.5 361.9L65.2 361.9L63.9 361.8L62.6 361.7L61.3 361.5L60.0 361.3L58.7 361.2L57.4 361.2L56.1 361.3L54.8 361.3L53.5 361.4Z" fill="#ff0000" fill-opacity="0.3"/><path d="M53.5 373.6L54.8 373.6L56.1 373.6L57.4 373.7L58.7 373.7L60.0 373.6L61.3 373.3L62.6 373.1L63.9 373.0L65.2 373.1L66.5 373.3L67.8 373.7L69.1 373.9L70.4 374.1L71.7 374.0L73.0 373.9L74.3 373.8L75.6 373.7L76.9 373.7L78.2 373.9L79.5 374.0L80.8 374.1L82.1 374.1L83.5 373.9L84.8 373.8L86.1 373.7L87.4 373.7L88.7 373.8L90.0 373.8L91.3 373.8L92.6 373.7L93.9 373.6L95.2 373.5L96.5 373.4L97.8 373.4L99.1 373.5L100.4 373.6L101.7 373.6L103.0 373.7L104.3 373.7L105.6 373.7L106.9 373.6L108.2 373.5L109.5 373.4L110.8 373.4L112.1 373.4L113.4 373.4L114.7 373.5L116.0 373.6L117.3 373.8L118.6 373.9L119.9 374.1L121.2 374.3L122.5 374.4L123.8 374.5L125.1 374.4L126.4 374.3L127.7 374.1L129.0 373.9L130.3 373.9L131.6 373.9L132.9 374.1L134.2 374.2L135.5 374.2L136.8 374.1L138.1 373.9L139.4 373.8L140.8 373.8L142.1 373.8L143.4 373.9L144.7 374.0L146.0 374.1L147.3 374.2L148.6 374.2L149.9 374.2L151.2 374.1L152.5 374.1L153.8 374.1L155.1 374.1L156.4 374.1L157.7 374.1L159.0 373.9L160.3 372.3L161.6 370.3L162.9 371.2L164.2 373.3L165.5 374.0L166.8 374.0L168.1 373.9L169.4 373.9L170.7 373.9L172.0 373.8L173.3 373.7L174.6 373.6L175.9 373.5L177.2 373.5L178.5 373.6L179.8 373.7L181.1 373.9L182.4 374.0L183.7 374.1L185.0 374.1L186.3 374.0L187.6 373.9L188.9 373.8L190.2 373.6L191.5 373.6L192.8 373.5L194.1 373.5L195.4 373.5L196.7 373.5L198.1 373.5L199.4 373.5L200.7 373.5L202.0 373.6L203.3 373.7L204.6 373.8L205.9 373.8L207.2 373.8L208.5 373.6L209.8 373.6L211.1 373.6L212.4 373.7L213.7 373.8L215.0 373.8L216.3 373.8L217.6 373.8L218.9 373.8L220.2 373.8L221.5 373.7L222.8 373.6L224.1 373.4L225.4 373.3L226.7 373.2L228.0 373.2L229.3 373.3L230.6 373.4L231.9 373.5L233.2 373.5L234.5 373.5L235.8 373.5L237.1 373.6L238.4 373.7L239.7 373.8L241.0 373.8L242.3 373.7L243.6 373.5L244.9 373.4L246.2 373.3L247.5 373.2L248.8 373.2L250.1 373.2L251.4 373.4L252.7 373.5L254.0 373.6L255.4 373.7L256.7 373.7L258.0 373.6L259.3 373.6L260.6 373.7L261.9 373.9L263.2 374.0L264.5 374.0L265.8 374.0L267.1 373.8L268.4 373.7L269.7 373.7L271.0 373.7L272.3 373.7L273.6 373.8L274.9 373.9L276.2 374.0L277.5 374.1L278.8 374.1L280.1 374.1L281.4 374.0L282.7 373.8L284.0 373.7L285.3 373.6L286.6 373.5L287.9 373.6L289.2 373.7L290.5 373.8L292.0 373.9L293.1 373.9L294.4 373.8L295.4 373.8L297.0 373.8L298.1 373.9L300.1 374.0L300.9 374.1L302.5 374.1L303.5 374.1L304.7 374.1L306.1 374.0L306.9 373.8L308.8 373.6L310.0 373.4L311.9 373.3L312.7 373.2L314.6 373.1L315.3 373.1L317.0 373.0L317.9 373.0L319.2 373.2L320.5 373.5L321.8 373.9L323.1 374.2L324.4 374.4L325.7 374.4L327.0 374.2L328.3 373.9L329.6 373.6L330.9 373.4L332.2 373.3L333.5 373.2L334.8 373.2L336.1 373.2L337.4 373.3L338.7 373.4L340.0 373.6L341.3 373.7L341.3 382.7L340.0 382.8L338.7 383.0L337.4 383.1L336.1 383.2L334.8 383.2L333.5 383.2L332.2 383.1L330.9 383.0L329.6 382.8L328.3 382.5L327.0 382.2L325.7 382.0L324.4 382.0L323.1 382.2L321.8 382.5L320.5 382.9L319.2 383.2L317.9 383.4L317.0 383.4L315.3 383.3L314.6 383.3L312.7 383.2L311.9 383.1L310.0 383.0L308.8 382.8L306.9 382.6L306.1 382.4L304.7 382.3L303.5 382.3L302.5 382.3L300.9 382.3L300.1 382.4L298.1 382.5L297.0 382.6L295.4 382.6L294.4 382.6L293.1 382.5L292.0 382.5L290.5 382.6L289.2 382.7L287.9 382.8L286.6 382.9L285.3 382.8L284.0 382.7L282.7 382.6L281.4 382.4L280.1 382.3L278.8 382.3L277.5 382.3L276.2 382.4L274.9 382.5L273.6 382.6L272.3 382.7L271.0 382.7L269.7 382.7L268.4 382.7L267.1 382.6L265.8 382.4L264.5 382.4L263.2 382.4L261.9 382.5L260.6 382.7L259.3 382.8L258.0 382.8L256.7 382.7L255.4 382.7L254.0 382.8L252.7 382.9L251.4 383.0L250.1 383.2L248.8 383.2L247.5 383.2L246.2 383.1L244.9 383.0L243.6 382.9L242.3 382.7L241.0 382.6L239.7 382.6L238.4 382.7L237.1 382.8L235.8 382.9L234.5 382.9L233.2 382.9L231.9 382.9L230.6 383.0L229.3 383.1L228.0 383.2L226.7 383.2L225.4 383.1L224.1 383.0L222.8 382.8L221.5 382.7L220.2 382.6L218.9 382.6L217.6 382.6L216.3 382.6L215.0 382.6L213.7 382.6L212.4 382.7L211.1 382.8L209.8 382.8L208.5 382.8L207.2 382.6L205.9 382.6L204.6 382.6L203.3 382.7L202.0 382.8L200.7 382.9L199.4 382.9L198.1 382.9L196.7 382.9L195.4 382.9L194.1 382.9L192.8 382.9L191.5 382.8L190.2 382.8L188.9 382.6L187.6 382.5L186.3 382.4L185.0 382.3L183.7 382.3L182.4 382.4L181.1 382.5L179.8 382.7L178.5 382.8L177.2 382.9L175.9 382.9L174.6 382.8L173.3 382.7L172.0 382.6L170.7 382.5L169.4 382.5L168.1 382.5L166.8 382.4L165.5 382.4L164.2 383.1L162.9 385.2L161.6 386.1L160.3 384.1L159.0 382.5L157.7 382.3L156.4 382.3L155.1 382.3L153.8 382.3L152.5 382.3L151.2 382.3L149.9 382.2L148.6 382.2L147.3 382.2L146.0 382.3L144.7 382.4L143.4 382.5L142.1 382.6L140.8 382.6L139.4 382.6L138.1 382.5L136.8 382.3L135.5 382.2L134.2 382.2L132.9 382.3L131.6 382.5L130.3 382.5L129.0 382.5L127.7 382.3L126.4 382.1L125.1 382.0L123.8 381.9L122.5 382.0L121.2 382.1L119.9 382.3L118.6 382.5L117.3 382.6L116.0 382.8L114.7 382.9L113.4 383.0L112.1 383.0L110.8 383.0L109.5 383.0L108.2 382.9L106.9 382.8L105.6 382.7L104.3 382.7L103.0 382.7L101.7 382.8L100.4 382.8L99.1 382.9L97.8 383.0L96.5 383.0L95.2 382.9L93.9 382.8L92.6 382.7L91.3 382.6L90.0 382.6L88.7 382.6L87.4 382.7L86.1 382.7L84.8 382.6L83.5 382.5L82.1 382.3L80.8 382.3L79.5 382.4L78.2 382.5L76.9 382.7L75.6 382.7L74.3 382.6L73.0 382.5L71.7 382.4L70.4 382.3L69.1 382.5L67.8 382.7L66.5 383.1L65.2 383.3L63.9 383.4L62.6 383.3L61.3 383.1L60.0 382.8L58.7 382.7L57.4 382.7L56.1 382.8L54.8 382.8L53.5 382.8Z" fill="#008000" fill-opacity="0.3"/><path d="M53.5 393.4L54.8 393.4L56.1 393.5L57.4 393.5L58.7 393.5L60.0 393.4L61.3 393.3L62.6 393.2L63.8 393.2L65.1 393.4L66.4 393.6L67.7 393.7L69.0 393.7L70.3 393.6L71.6 393.5L72.9 393.5L74.2 393.6L75.5 393.8L76.8 394.0L78.1 394.2L79.4 394.2L80.7 394.2L82.0 394.2L83.3 394.0L84.5 393.9L85.8 393.9L87.1 393.9L88.4 393.9L89.7 393.9L91.0 393.9L92.3 393.8L93.6 393.7L94.9 393.7L96.2 393.6L97.5 393.6L98.8 393.5L100.1 393.3L101.4 393.1L102.7 393.0L104.0 393.0L105.2 393.0L106.5 393.0L107.8 393.0L109.1 393.1L110.4 393.1L111.7 393.2L113.0 393.2L114.3 393.2L114.3 404.4L113.0 404.3L111.7 404.4L110.4 404.4L109.1 404.5L107.8 404.6L106.5 404.6L105.2 404.6L104.0 404.6L102.7 404.5L101.4 404.4L100.1 404.3L98.8 404.1L97.5 404.0L96.2 403.9L94.9 403.9L93.6 403.8L92.3 403.7L91.0 403.7L89.7 403.6L88.4 403.6L87.1 403.7L85.8 403.7L84.5 403.6L83.3 403.5L82.0 403.4L80.7 403.3L79.4 403.3L78.1 403.4L76.8 403.6L75.5 403.8L74.2 404.0L72.9 404.0L71.6 404.0L70.3 404.0L69.0 403.9L67.7 403.9L66.4 404.0L65.1 404.2L63.8 404.3L62.6 404.4L61.3 404.3L60.0 404.2L58.7 404.1L57.4 404.1L56.1 404.1L54.8 404.2L53.5 404.2Z" fill="#1e90ff" fill-opacity="0.3"/><path d="M117.2 394.0L118.5 393.7L119.8 393.5L121.1 393.3L122.4 393.2L123.7 393.3L125.0 393.5L126.3 393.6L127.6 393.6L128.9 393.6L130.2 393.6L131.5 393.5L132.8 393.5L134.1 393.5L135.4 393.7L136.7 393.8L138.0 394.0L139.3 394.2L140.7 394.3L142.0 394.3L143.3 394.3L144.6 394.3L145.9 394.2L147.2 394.1L148.5 394.0L149.8 393.9L151.1 393.9L152.4 394.1L153.7 394.2L155.0 394.2L156.3 394.1L157.6 393.9L158.9 393.7L160.2 393.7L161.5 393.8L162.8 394.0L164.1 394.1L165.4 393.6L166.7 391.4L168.0 389.5L169.3 391.1L170.6 393.3L171.9 393.8L173.2 393.8L174.5 393.9L175.8 393.9L177.1 393.9L178.4 393.8L179.7 393.6L181.0 393.5L182.3 393.5L183.6 393.7L185.0 393.9L186.3 394.1L187.6 394.2L188.9 394.2L190.2 394.2L191.5 394.1L192.8 394.1L194.1 394.1L195.4 394.0L196.7 393.9L198.0 393.7L199.3 393.5L200.6 393.4L201.9 393.3L203.2 393.2L204.5 393.1L205.8 393.0L207.1 392.9L208.4 392.8L209.7 392.8L211.0 392.8L212.3 393.0L213.6 393.4L214.9 393.7L216.2 393.9L217.5 394.1L218.8 394.2L220.1 394.2L221.4 394.0L222.7 393.7L224.0 393.6L225.3 393.5L226.6 393.5L227.9 393.6L229.2 393.7L230.6 393.7L231.9 393.5L233.2 393.3L234.5 393.2L235.8 393.3L237.1 393.5L238.4 393.8L239.7 393.9L241.0 393.7L242.3 393.4L243.6 393.2L244.9 393.2L246.2 393.3L247.5 393.5L248.8 393.7L250.1 393.8L251.4 393.7L252.7 393.7L254.0 393.7L255.3 393.7L256.6 393.7L257.9 393.7L259.2 393.6L260.5 393.5L261.8 393.4L263.1 393.2L264.4 393.1L265.7 392.9L267.0 392.8L268.3 392.9L269.6 393.1L270.9 393.4L272.2 393.6L273.5 393.7L274.9 393.7L276.2 393.6L277.5 393.5L278.8 393.4L280.1 393.4L281.4 393.4L282.7 393.4L284.0 393.5L285.3 393.6L286.6 393.6L287.9 393.6L289.5 393.5L290.4 393.3L291.5 393.2L292.5 393.3L294.5 393.4L296.1 393.7L297.5 393.8L298.3 393.7L299.6 393.7L300.9 393.6L302.2 393.6L303.5 393.7L304.8 393.7L306.1 393.7L307.4 393.7L308.7 393.6L310.0 393.5L311.3 393.3L312.6 393.2L313.9 393.1L315.2 393.1L316.5 393.1L317.8 393.3L319.2 393.5L320.5 393.6L321.8 393.7L323.1 393.8L324.4 393.8L325.7 393.9L327.0 394.0L328.3 394.2L329.6 394.3L330.9 394.3L332.2 394.2L333.5 394.2L334.8 394.1L336.1 394.0L337.4 393.9L338.7 393.8L340.0 393.6L341.3 393.5L341.3 404.1L340.0 403.9L338.7 403.8L337.4 403.6L336.1 403.5L334.8 403.5L333.5 403.4L332.2 403.3L330.9 403.3L329.6 403.3L328.3 403.4L327.0 403.5L325.7 403.6L324.4 403.7L323.1 403.8L321.8 403.8L320.5 403.9L319.2 404.1L317.8 404.2L316.5 404.4L315.2 404.5L313.9 404.4L312.6 404.4L311.3 404.2L310.0 404.1L308.7 403.9L307.4 403.8L306.1 403.8L304.8 403.9L303.5 403.9L302.2 403.9L300.9 404.0L299.6 403.9L298.3 403.8L297.5 403.8L296.1 403.9L294.5 404.1L292.5 404.3L291.5 404.3L290.4 404.2L289.5 404.1L287.9 404.0L286.6 403.9L285.3 404.0L284.0 404.1L282.7 404.2L281.4 404.1L280.1 404.1L278.8 404.1L277.5 404.1L276.2 404.0L274.9 403.9L273.5 403.8L272.2 403.9L270.9 404.2L269.6 404.5L268.3 404.7L267.0 404.7L265.7 404.6L264.4 404.5L263.1 404.3L261.8 404.2L260.5 404.1L259.2 404.0L257.9 403.9L256.6 403.8L255.3 403.9L254.0 403.9L252.7 403.9L251.4 403.8L250.1 403.8L248.8 403.9L247.5 404.1L246.2 404.3L244.9 404.4L243.6 404.4L242.3 404.1L241.0 403.8L239.7 403.7L238.4 403.8L237.1 404.0L235.8 404.2L234.5 404.3L233.2 404.3L231.9 404.1L230.6 403.9L229.2 403.9L227.9 404.0L226.6 404.1L225.3 404.0L224.0 404.0L222.7 403.8L221.4 403.6L220.1 403.4L218.8 403.3L217.5 403.4L216.2 403.6L214.9 403.9L213.6 404.2L212.3 404.5L211.0 404.7L209.7 404.8L208.4 404.7L207.1 404.7L205.8 404.6L204.5 404.4L203.2 404.3L201.9 404.3L200.6 404.2L199.3 404.0L198.0 403.8L196.7 403.6L195.4 403.5L194.1 403.5L192.8 403.5L191.5 403.4L190.2 403.4L188.9 403.3L187.6 403.3L186.3 403.5L185.0 403.7L183.6 403.9L182.3 404.0L181.0 404.1L179.7 403.9L178.4 403.8L177.1 403.7L175.8 403.7L174.5 403.7L173.2 403.7L171.9 403.8L170.6 404.3L169.3 406.5L168.0 408.1L166.7 406.1L165.4 403.9L164.1 403.5L162.8 403.6L161.5 403.8L160.2 403.9L158.9 403.8L157.6 403.7L156.3 403.5L155.0 403.4L153.7 403.4L152.4 403.5L151.1 403.6L149.8 403.7L148.5 403.6L147.2 403.5L145.9 403.4L144.6 403.3L143.3 403.2L142.0 403.2L140.7 403.3L139.3 403.4L138.0 403.6L136.7 403.7L135.4 403.9L134.1 404.0L132.8 404.0L131.5 404.0L130.2 404.0L128.9 403.9L127.6 403.9L126.3 403.9L125.0 404.0L123.7 404.2L122.4 404.3L121.1 404.3L119.8 404.1L118.5 403.8L117.2 403.6Z" fill="#1e90ff" fill-opacity="0.3"/><path d="M53.5 355.5L54.8 357.2L56.1 360.0L57.4 357.5L58.7 359.5L60.0 356.8L61.3 357.6L62.6 361.1L63.9 358.7L65.2 358.6L66.5 359.7L67.8 356.7L69.1 354.6L70.4 360.1L71.7 360.1L73.0 365.0L74.3 359.4L75.6 360.0L76.9 364.3L78.2 357.6L79.5 356.6L80.8 360.0L82.1 359.1L83.5 360.7L84.8 356.3L86.1 362.3L87.4 359.2L88.7 353.4L90.0 358.5L91.3 357.6L92.6 359.3L93.9 362.1L95.2 359.3L96.5 358.2L97.8 362.0L99.1 358.3L100.4 355.7L101.7 355.7L103.0 362.2L104.3 360.2L105.6 361.6L106.9 354.6L108.2 356.0L109.5 356.0L110.8 360.3L112.1 361.3L113.4 358.1L114.7 358.0L116.0 360.5L117.3 357.8L118.6 356.5L119.9 357.6L121.2 360.9L122.5 363.9L123.8 359.2L125.1 358.1L126.4 359.3L127.7 359.7L129.0 360.3L130.3 356.5L131.6 358.5L132.9 358.1L134.2 361.1L135.5 360.3L136.8 358.4L138.1 361.4L139.4 361.9L140.8 359.3L142.1 354.9L143.4 357.2L144.7 353.6L146.0 357.5L147.3 357.7L148.6 360.3L149.9 358.1L151.2 352.9L152.5 355.9L153.8 354.9L155.1 355.1L156.4 357.0L157.7 357.5L159.0 356.6L160.3 355.2L161.6 355.9L162.9 355.9L164.2 356.9L165.5 359.3L166.8 357.9L168.1 359.6L169.4 354.5L170.7 362.7L172.0 357.8L173.3 351.1L174.6 358.4L175.9 360.7L177.2 358.1L178.5 355.1L179.8 359.1L181.1 357.2L182.4 358.6L183.7 359.7L185.0 350.2L186.3 357.9L187.6 359.2L188.9 358.8L190.2 356.1L191.5 355.7L192.8 354.5L194.1 356.1L195.4 360.2L196.7 355.2L198.1 357.5L199.4 357.5L200.7 360.6L202.0 358.1L203.3 358.3L204.6 356.4L205.9 359.9L207.2 355.8L208.5 355.6L209.8 358.9L211.1 357.9L212.4 359.0L213.7 355.0L215.0 364.7L216.3 359.7L217.6 363.7L218.9 360.9L220.2 357.8L221.5 361.6L222.8 359.3L224.1 361.4L225.4 353.5L226.7 355.4L228.0 354.1L229.3 359.9L230.6 359.0L231.9 353.4L233.2 356.9L234.5 357.4L235.8 356.3L237.1 360.8L238.4 355.8L239.7 357.8L241.0 356.5L242.3 359.1L243.6 355.6L244.9 358.4L246.2 353.7L247.5 353.0L248.8 353.6L250.1 354.7L251.4 354.6L252.7 363.6L254.0 354.7L255.4 357.7L256.7 356.8L258.0 357.7L259.3 360.4L260.6 358.0L261.9 354.8L263.2 352.8L264.5 358.2L265.8 359.1L267.1 353.1L268.4 359.3L269.7 351.7L271.0 357.1L272.3 359.5L273.6 354.6L274.9 352.7L276.2 360.9L277.5 353.1L278.8 358.0L280.1 353.4L281.4 358.3L282.7 361.5L284.0 356.1L285.3 355.1L286.6 352.2L287.9 353.3L289.2 356.2L290.5 358.7L291.8 359.5L293.0 359.0L294.4 356.2L295.5 351.5L297.5 365.0L298.3 357.9L299.6 358.6L300.9 352.0L302.2 356.8L303.5 360.2L304.8 357.4L306.1 361.9L307.4 359.9L308.7 362.8L310.0 353.8L311.3 355.6L312.7 360.0L314.0 357.0L315.3 354.4L316.6 355.7L317.9 356.2L319.2 359.8L320.5 359.6L321.8 358.0L323.1 356.1L324.4 360.7L325.7 361.5L327.0 355.5L328.3 360.8L329.6 355.4L330.9 357.4L332.2 355.5L333.5 353.1L334.8 355.6L336.1 355.3L337.4 359.7L338.7 359.0L340.0 355.4L341.3 353.0" stroke="#ff0000" stroke-width="1.75" fill="none" stroke-linejoin="round"/><path d="M53.5 373.9L54.8 377.3L56.1 378.9L57.4 372.8L58.7 382.7L60.0 376.9L61.3 380.9L62.6 378.8L63.9 378.3L65.2 373.9L66.5 380.8L67.8 379.5L69.1 382.4L70.4 376.2L71.7 378.8L73.0 376.1L74.3 380.2L75.6 378.0L76.9 373.8L78.2 377.1L79.5 374.7L80.8 375.0L82.1 377.6L83.5 381.2L84.8 374.0L86.1 376.4L87.4 374.1L88.7 382.7L90.0 381.6L91.3 383.0L92.6 379.3L93.9 373.7L95.2 375.0L96.5 376.8L97.8 376.5L99.1 375.0L100.4 378.5L101.7 377.0L103.0 378.2L104.3 385.3L105.6 380.5L106.9 375.9L108.2 381.2L109.5 380.6L110.8 381.9L112.1 381.3L113.4 376.2L114.7 379.8L116.0 381.6L117.3 387.3L118.6 379.8L119.9 383.7L121.2 383.3L122.5 375.9L123.8 376.4L125.1 384.2L126.4 376.6L127.7 378.0L129.0 381.8L130.3 377.6L131.6 384.6L132.9 383.5L134.2 384.3L135.5 383.3L136.8 377.3L138.1 383.4L139.4 382.5L140.8 381.5L142.1 377.9L143.4 379.3L144.7 375.9L146.0 380.6L147.3 382.6L148.6 380.6L149.9 379.2L151.2 382.2L152.5 378.7L153.8 374.2L155.1 380.8L156.4 378.6L157.7 374.4L159.0 379.8L160.3 380.1L161.6 380.7L162.9 376.4L164.2 376.2L165.5 378.3L166.8 378.0L168.1 374.7L169.4 376.2L170.7 382.9L172.0 378.9L173.3 378.4L174.6 376.3L175.9 378.6L177.2 379.5L178.5 378.8L179.8 382.6L181.1 377.6L182.4 379.4L183.7 376.4L185.0 380.9L186.3 379.4L187.6 381.0L188.9 381.3L190.2 376.2L191.5 379.5L192.8 377.0L194.1 381.6L195.4 378.2L196.7 383.6L198.1 380.2L199.4 380.3L200.7 376.9L202.0 377.8L203.3 378.5L204.6 375.3L205.9 377.1L207.2 376.1L208.5 375.7L209.8 378.5L211.1 379.6L212.4 378.2L213.7 380.7L215.0 378.7L216.3 376.8L217.6 377.6L218.9 381.1L220.2 383.5L221.5 379.7L222.8 379.5L224.1 375.6L225.4 379.6L226.7 378.9L228.0 376.0L229.3 379.5L230.6 378.6L231.9 373.4L233.2 374.4L234.5 377.1L235.8 378.4L237.1 381.9L238.4 377.4L239.7 378.7L241.0 377.9L242.3 379.7L243.6 378.0L244.9 378.3L246.2 376.6L247.5 373.2L248.8 376.0L250.1 381.7L251.4 379.8L252.7 381.8L254.0 379.8L255.4 376.2L256.7 377.1L258.0 380.3L259.3 378.2L260.6 381.3L261.9 383.3L263.2 383.2L264.5 381.6L265.8 374.9L267.1 382.7L268.4 375.1L269.7 374.7L271.0 378.9L272.3 378.3L273.6 379.9L274.9 378.2L276.2 376.4L277.5 378.5L278.8 376.1L280.1 375.9L281.4 378.8L282.7 379.4L284.0 380.8L285.3 379.8L286.6 384.1L287.9 379.7L289.2 380.1L290.5 383.0L292.0 374.2L293.1 378.4L294.4 372.7L295.4 365.1L297.0 384.4L298.1 389.5L300.1 355.0L300.9 371.6L302.5 403.9L303.5 397.5L304.7 389.6L306.1 370.6L306.9 359.0L308.8 387.5L310.0 374.4L311.9 345.7L312.7 360.8L314.6 388.4L315.3 379.8L317.0 375.4L317.9 377.0L319.2 375.5L320.5 375.2L321.8 381.7L323.1 378.2L324.4 381.5L325.7 377.9L327.0 380.5L328.3 374.9L329.6 377.5L330.9 381.6L332.2 379.7L333.5 383.4L334.8 380.0L336.1 378.7L337.4 379.6L338.7 385.8L340.0 381.1L341.3 378.6" stroke="#008000" stroke-width="1.75" fill="none" stroke-linejoin="round"/><path d="M53.5 394.0L54.8 396.8L56.1 402.7L57.4 400.3L58.7 396.2L60.0 401.6L61.3 388.1L62.6 401.2L63.8 402.9L65.1 396.0L66.4 397.9L67.7 401.3L69.0 402.2L70.3 399.5L71.6 397.6L72.9 397.6L74.2 401.8L75.5 398.6L76.8 396.8L78.1 397.1L79.4 413.0L80.7 404.2L82.0 404.1L83.3 402.1L84.5 400.4L85.8 397.1L87.1 397.9L88.4 400.5L89.7 399.4L91.0 391.8L92.3 401.4L93.6 397.6L94.9 392.3L96.2 397.1L97.5 406.8L98.8 396.7L100.1 399.8L101.4 398.5L102.7 393.5L104.0 395.6L105.2 398.5L106.5 393.6L107.8 395.4L109.1 396.6L110.4 395.7L111.7 395.8L113.0 398.1L114.3 398.6" stroke="#1e90ff" stroke-width="1.75" fill="none" stroke-linejoin="round"/><path d="M117.2 394.7L118.5 394.2L119.8 396.8L121.1 394.6L122.4 393.9L123.7 405.3L125.0 402.4L126.3 404.5L127.6 400.3L128.9 394.8L130.2 398.0L131.5 404.9L132.8 401.7L134.1 396.0L135.4 402.3L136.7 400.4L138.0 398.6L139.3 407.1L140.7 396.2L142.0 397.9L143.3 396.9L144.6 403.2L145.9 402.5L147.2 402.0L148.5 398.8L149.8 399.8L151.1 399.9L152.4 393.3L153.7 395.5L155.0 403.9L156.3 403.5L157.6 393.5L158.9 401.6L160.2 394.3L161.5 392.9L162.8 401.2L164.1 399.6L165.4 397.7L166.7 401.2L168.0 401.4L169.3 399.0L170.6 394.0L171.9 399.5L173.2 398.6L174.5 399.7L175.8 403.4L177.1 391.6L178.4 407.1L179.7 399.9L181.0 394.6L182.3 402.4L183.6 394.0L185.0 391.3L186.3 400.0L187.6 395.7L188.9 401.2L190.2 394.5L191.5 396.3L192.8 395.8L194.1 391.1L195.4 395.0L196.7 391.7L198.0 395.0L199.3 402.8L200.6 396.8L201.9 395.8L203.2 403.5L204.5 391.7L205.8 396.5L207.1 394.9L208.4 399.9L209.7 395.8L211.0 394.9L212.3 397.7L213.6 396.4L214.9 405.8L216.2 391.9L217.5 402.4L218.8 407.0L220.1 402.1L221.4 401.7L222.7 396.1L224.0 402.3L225.3 397.6L226.6 403.0L227.9 390.3L229.2 397.6L230.6 392.2L231.9 404.9L233.2 398.3L234.5 405.3L235.8 399.1L237.1 398.6L238.4 407.6L239.7 405.4L241.0 405.2L242.3 406.3L243.6 403.0L244.9 403.9L246.2 405.9L247.5 399.6L248.8 398.1L250.1 406.2L251.4 403.6L252.7 401.7L254.0 403.1L255.3 405.2L256.6 399.0L257.9 398.7L259.2 399.1L260.5 402.3L261.8 392.7L263.1 393.1L264.4 401.2L265.7 399.3L267.0 393.4L268.3 401.3L269.6 396.2L270.9 397.7L272.2 400.9L273.5 399.2L274.9 404.9L276.2 400.8L277.5 406.9L278.8 389.4L280.1 392.5L281.4 393.6L282.7 397.4L284.0 394.6L285.3 393.6L286.6 394.8L287.9 395.3L289.5 403.1L290.4 408.7L291.5 381.8L292.5 404.4L294.5 414.5L296.1 385.4L297.5 395.3L298.3 405.5L299.6 392.9L300.9 394.1L302.2 401.6L303.5 401.7L304.8 399.7L306.1 395.0L307.4 400.4L308.7 403.2L310.0 397.1L311.3 406.9L312.6 397.7L313.9 393.5L315.2 396.9L316.5 394.8L317.8 395.9L319.2 395.0L320.5 397.6L321.8 402.0L323.1 400.0L324.4 399.8L325.7 394.6L327.0 393.1L328.3 398.0L329.6 402.6L330.9 402.1L332.2 399.4L333.5 392.5L334.8 396.7L336.1 398.3L337.4 401.3L338.7 394.8L340.0 397.5L341.3 399.0" stroke="#1e90ff" stroke-width="1.75" fill="none" stroke-linejoin="round"/></g><path d="M53.50 343.90L53.50 339.10M53.50 224.70L53.50 229.50M118.61 343.90L118.61 339.10M118.61 224.70L118.61 229.50M183.72 343.90L183.72 339.10M183.72 224.70L183.72 229.50M248.83 343.90L248.83 339.10M248.83 224.70L248.83 229.50M313.94 343.90L313.94 339.10M313.94 224.70L313.94 229.50M53.50 334.70L58.30 334.70M346.50 334.70L341.70 334.70M53.50 316.30L58.30 316.30M346.50 316.30L341.70 316.30M53.50 297.90L58.30 297.90M346.50 297.90L341.70 297.90M53.50 279.50L58.30 279.50M346.50 279.50L341.70 279.50M53.50 261.10L58.30 261.10M346.50 261.10L341.70 261.10M53.50 242.70L58.30 242.70M346.50 242.70L341.70 242.70M60.01 343.90L60.01 341.40M60.01 224.70L60.01 227.20M66.52 343.90L66.52 341.40M66.52 224.70L66.52 227.20M73.03 343.90L73.03 341.40M73.03 224.70L73.03 227.20M79.54 343.90L79.54 341.40M79.54 224.70L79.54 227.20M86.06 343.90L86.06 341.40M86.06 224.70L86.06 227.20M92.57 343.90L92.57 341.40M92.57 224.70L92.57 227.20M99.08 343.90L99.08 341.40M99.08 224.70L99.08 227.20M105.59 343.90L105.59 341.40M105.59 224.70L105.59 227.20M112.10 343.90L112.10 341.40M112.10 224.70L112.10 227.20M125.12 343.90L125.12 341.40M125.12 224.70L125.12 227.20M131.63 343.90L131.63 341.40M131.63 224.70L131.63 227.20M138.14 343.90L138.14 341.40M138.14 224.70L138.14 227.20M144.66 343.90L144.66 341.40M144.66 224.70L144.66 227.20M151.17 343.90L151.17 341.40M151.17 224.70L151.17 227.20M157.68 343.90L157.68 341.40M157.68 224.70L157.68 227.20M164.19 343.90L164.19 341.40M164.19 224.70L164.19 227.20M170.70 343.90L170.70 341.40M170.70 224.70L170.70 227.20M177.21 343.90L177.21 341.40M177.21 224.70L177.21 227.20M190.23 343.90L190.23 341.40M190.23 224.70L190.23 227.20M196.74 343.90L196.74 341.40M196.74 224.70L196.74 227.20M203.26 343.90L203.26 341.40M203.26 224.70L203.26 227.20M209.77 343.90L209.77 341.40M209.77 224.70L209.77 227.20M216.28 343.90L216.28 341.40M216.28 224.70L216.28 227.20M222.79 343.90L222.79 341.40M222.79 224.70L222.79 227.20M229.30 343.90L229.30 341.40M229.30 224.70L229.30 227.20M235.81 343.90L235.81 341.40M235.81 224.70L235.81 227.20M242.32 343.90L242.32 341.40M242.32 224.70L242.32 227.20M255.34 343.90L255.34 341.40M255.34 224.70L255.34 227.20M261.86 343.90L261.86 341.40M261.86 224.70L261.86 227.20M268.37 343.90L268.37 341.40M268.37 224.70L268.37 227.20M274.88 343.90L274.88 341.40M274.88 224.70L274.88 227.20M281.39 343.90L281.39 341.40M281.39 224.70L281.39 227.20M287.90 343.90L287.90 341.40M287.90 224.70L287.90 227.20M294.41 343.90L294.41 341.40M294.41 224.70L294.41 227.20M300.92 343.90L300.92 341.40M300.92 224.70L300.92 227.20M307.43 343.90L307.43 341.40M307.43 224.70L307.43 227.20M320.46 343.90L320.46 341.40M320.46 224.70L320.46 227.20M326.97 343.90L326.97 341.40M326.97 224.70L326.97 227.20M333.48 343.90L333.48 341.40M333.48 224.70L333.48 227.20M339.99 343.90L339.99 341.40M339.99 224.70L339.99 227.20M346.50 343.90L346.50 341.40M346.50 224.70L346.50 227.20M53.50 343.90L56.00 343.90M346.50 343.90L344.00 343.90M53.50 325.50L56.00 325.50M346.50 325.50L344.00 325.50M53.50 307.10L56.00 307.10M346.50 307.10L344.00 307.10M53.50 288.70L56.00 288.70M346.50 288.70L344.00 288.70M53.50 270.30L56.00 270.30M346.50 270.30L344.00 270.30M53.50 251.90L56.00 251.90M346.50 251.90L344.00 251.90M53.50 233.50L56.00 233.50M346.50 233.50L344.00 233.50" stroke="#000" stroke-width="0.7" fill="none"/><rect x="53.5" y="224.7" width="293.00" height="119.20" fill="none" stroke="#000" stroke-width="1.25"/><text transform="translate(50.90,339.60) scale(1,1.06)" text-anchor="end">0.6</text><text transform="translate(50.90,321.20) scale(1,1.06)" text-anchor="end">0.7</text><text transform="translate(50.90,302.80) scale(1,1.06)" text-anchor="end">0.8</text><text transform="translate(50.90,284.40) scale(1,1.06)" text-anchor="end">0.9</text><text transform="translate(50.90,266.00) scale(1,1.06)" text-anchor="end">1.0</text><text transform="translate(50.90,247.60) scale(1,1.06)" text-anchor="end">1.1</text><text transform="translate(50.90,229.20) scale(1,1.06)" text-anchor="end">1.2</text><path d="M53.50 412.50L53.50 407.70M53.50 343.90L53.50 348.70M118.61 412.50L118.61 407.70M118.61 343.90L118.61 348.70M183.72 412.50L183.72 407.70M183.72 343.90L183.72 348.70M248.83 412.50L248.83 407.70M248.83 343.90L248.83 348.70M313.94 412.50L313.94 407.70M313.94 343.90L313.94 348.70M53.50 405.64L58.30 405.64M346.50 405.64L341.70 405.64M53.50 391.92L58.30 391.92M346.50 391.92L341.70 391.92M53.50 378.20L58.30 378.20M346.50 378.20L341.70 378.20M53.50 364.48L58.30 364.48M346.50 364.48L341.70 364.48M53.50 350.76L58.30 350.76M346.50 350.76L341.70 350.76M60.01 412.50L60.01 410.00M60.01 343.90L60.01 346.40M66.52 412.50L66.52 410.00M66.52 343.90L66.52 346.40M73.03 412.50L73.03 410.00M73.03 343.90L73.03 346.40M79.54 412.50L79.54 410.00M79.54 343.90L79.54 346.40M86.06 412.50L86.06 410.00M86.06 343.90L86.06 346.40M92.57 412.50L92.57 410.00M92.57 343.90L92.57 346.40M99.08 412.50L99.08 410.00M99.08 343.90L99.08 346.40M105.59 412.50L105.59 410.00M105.59 343.90L105.59 346.40M112.10 412.50L112.10 410.00M112.10 343.90L112.10 346.40M125.12 412.50L125.12 410.00M125.12 343.90L125.12 346.40M131.63 412.50L131.63 410.00M131.63 343.90L131.63 346.40M138.14 412.50L138.14 410.00M138.14 343.90L138.14 346.40M144.66 412.50L144.66 410.00M144.66 343.90L144.66 346.40M151.17 412.50L151.17 410.00M151.17 343.90L151.17 346.40M157.68 412.50L157.68 410.00M157.68 343.90L157.68 346.40M164.19 412.50L164.19 410.00M164.19 343.90L164.19 346.40M170.70 412.50L170.70 410.00M170.70 343.90L170.70 346.40M177.21 412.50L177.21 410.00M177.21 343.90L177.21 346.40M190.23 412.50L190.23 410.00M190.23 343.90L190.23 346.40M196.74 412.50L196.74 410.00M196.74 343.90L196.74 346.40M203.26 412.50L203.26 410.00M203.26 343.90L203.26 346.40M209.77 412.50L209.77 410.00M209.77 343.90L209.77 346.40M216.28 412.50L216.28 410.00M216.28 343.90L216.28 346.40M222.79 412.50L222.79 410.00M222.79 343.90L222.79 346.40M229.30 412.50L229.30 410.00M229.30 343.90L229.30 346.40M235.81 412.50L235.81 410.00M235.81 343.90L235.81 346.40M242.32 412.50L242.32 410.00M242.32 343.90L242.32 346.40M255.34 412.50L255.34 410.00M255.34 343.90L255.34 346.40M261.86 412.50L261.86 410.00M261.86 343.90L261.86 346.40M268.37 412.50L268.37 410.00M268.37 343.90L268.37 346.40M274.88 412.50L274.88 410.00M274.88 343.90L274.88 346.40M281.39 412.50L281.39 410.00M281.39 343.90L281.39 346.40M287.90 412.50L287.90 410.00M287.90 343.90L287.90 346.40M294.41 412.50L294.41 410.00M294.41 343.90L294.41 346.40M300.92 412.50L300.92 410.00M300.92 343.90L300.92 346.40M307.43 412.50L307.43 410.00M307.43 343.90L307.43 346.40M320.46 412.50L320.46 410.00M320.46 343.90L320.46 346.40M326.97 412.50L326.97 410.00M326.97 343.90L326.97 346.40M333.48 412.50L333.48 410.00M333.48 343.90L333.48 346.40M339.99 412.50L339.99 410.00M339.99 343.90L339.99 346.40M346.50 412.50L346.50 410.00M346.50 343.90L346.50 346.40M53.50 412.50L56.00 412.50M346.50 412.50L344.00 412.50M53.50 398.78L56.00 398.78M346.50 398.78L344.00 398.78M53.50 385.06L56.00 385.06M346.50 385.06L344.00 385.06M53.50 371.34L56.00 371.34M346.50 371.34L344.00 371.34M53.50 357.62L56.00 357.62M346.50 357.62L344.00 357.62M53.50 343.90L56.00 343.90M346.50 343.90L344.00 343.90" stroke="#000" stroke-width="0.7" fill="none"/><rect x="53.5" y="343.9" width="293.00" height="68.60" fill="none" stroke="#000" stroke-width="1.25"/><text transform="translate(50.90,355.16) scale(1,1.06)" text-anchor="end">4</text><text transform="translate(50.90,368.88) scale(1,1.06)" text-anchor="end">2</text><text transform="translate(50.90,382.60) scale(1,1.06)" text-anchor="end">0</text><text transform="translate(50.90,396.32) scale(1,1.06)" text-anchor="end">−2</text><text transform="translate(50.90,410.04) scale(1,1.06)" text-anchor="end">−4</text><text transform="translate(54.30,429.20) scale(1,1.06)" text-anchor="middle">0.58</text><text transform="translate(119.41,429.20) scale(1,1.06)" text-anchor="middle">0.60</text><text transform="translate(184.52,429.20) scale(1,1.06)" text-anchor="middle">0.62</text><text transform="translate(249.63,429.20) scale(1,1.06)" text-anchor="middle">0.64</text><text transform="translate(314.74,429.20) scale(1,1.06)" text-anchor="middle">0.66</text><clipPath id="cm3"><rect x="391.0" y="224.7" width="293.0" height="119.19999999999999"/></clipPath><clipPath id="cr3"><rect x="391.0" y="343.9" width="293.0" height="68.60000000000002"/></clipPath><g clip-path="url(#cm3)"><path d="M405.5 257.9L406.4 260.2L407.3 262.9L408.2 255.6L409.1 257.4L410.0 258.3L410.9 257.6L411.8 258.3L412.7 258.2L413.6 256.2L414.5 255.5L415.4 255.8L416.3 256.8L417.2 254.3L418.1 252.3L419.1 253.9L420.0 252.8L420.9 256.4L421.8 253.3L422.7 253.4L423.6 255.6L424.5 256.9L425.4 253.6L426.3 256.1L427.2 254.0L428.1 255.2L429.0 252.4L429.9 252.6L430.8 252.9L431.7 248.3L432.6 246.6L433.5 242.8L434.4 243.0L435.3 241.6L436.2 238.4L437.1 237.3L438.0 238.3L438.9 238.6L439.8 240.6L440.7 240.8L441.6 240.9L442.5 241.9L443.4 242.6L444.3 242.5L445.3 238.4L446.2 242.7L447.1 243.1L448.0 242.7L448.9 241.3L449.8 239.9L450.7 241.6L451.6 242.8L452.5 239.3L453.4 243.5L454.3 239.8L455.2 238.6L456.1 235.1L457.0 233.4L457.9 236.3L458.8 238.9L459.7 241.1L460.6 241.5L461.5 240.8L462.4 245.0L463.3 240.5L464.2 238.5L465.1 234.5L466.0 233.5L466.9 230.7L467.8 231.7L468.7 233.7L469.6 241.0L470.6 243.3L471.5 245.6L472.4 250.4L473.3 251.0L474.2 254.2L475.1 251.2L476.0 257.6L476.9 258.4L477.8 262.8L478.7 266.5L479.6 263.8L480.5 266.0L481.4 266.1L482.3 266.1L483.2 267.6L484.1 269.4L485.0 269.5L485.9 272.4L486.8 272.9L487.7 274.8L488.6 276.1L489.5 274.1L490.4 272.7L491.3 270.6L492.2 267.4L493.1 271.1L494.0 267.3L494.9 270.4L495.8 267.7L496.8 266.3L497.7 268.9L498.6 268.5L499.5 266.1L500.4 267.7L501.3 269.3L502.2 270.9L503.1 266.0L504.0 269.8L504.9 270.8L505.8 266.4L506.7 267.3L507.6 266.8L508.5 261.3L509.4 260.0L510.3 256.5L511.2 255.6L512.1 257.1L513.0 253.2L513.9 254.2L514.8 256.0L515.7 255.4L516.6 252.3L517.5 254.6L518.4 253.8L519.3 252.8L520.2 254.3L521.1 258.1L522.0 255.3L523.0 255.6L523.9 255.9L524.8 253.6L525.7 253.8L526.6 250.6L527.5 246.8L528.4 248.5L529.3 243.9L530.2 243.0L531.1 243.8L532.0 241.2L532.9 242.3L533.8 244.9L534.7 240.9L535.6 242.1" stroke="#ff0000" stroke-width="1.55" fill="none" stroke-linejoin="round"/><path d="M554.4 240.2L555.3 236.8L556.2 236.7L557.1 239.2L558.0 236.1L558.9 235.4L559.7 233.1L560.6 235.3L561.5 234.1L562.4 234.7L563.3 232.6L564.2 232.1L565.1 230.3L566.0 230.9L566.9 232.4L567.8 232.8L568.6 233.5L569.5 233.8L570.4 231.3L571.3 238.8L572.2 234.3" stroke="#ff0000" stroke-width="1.55" fill="none" stroke-linejoin="round"/><path d="M584.7 228.9L585.6 227.4L586.5 233.8L587.4 231.6L588.3 231.8L589.2 236.4L590.1 241.9L591.0 241.3L591.9 245.3L592.8 249.1L593.7 246.7L594.6 247.0L595.5 251.3L596.4 244.5L597.3 250.7L598.2 249.2L599.1 250.5L600.0 248.3L600.9 250.9L601.9 249.1L602.8 248.4L603.7 251.5L604.6 254.0L605.5 254.1L606.4 262.8L607.3 263.7L608.2 267.9L609.1 266.5L610.0 265.4L610.9 263.3L611.8 261.7L612.7 261.6L613.6 260.8L614.5 259.5L615.4 261.3L616.3 264.1L617.2 264.4L618.1 265.1L619.0 264.3L619.9 263.5L620.8 262.2L621.7 261.6L622.6 258.5L623.5 259.2L624.4 260.8L625.3 255.9L626.2 259.5L627.1 259.4L628.0 260.8L628.9 257.8L629.8 259.9L630.7 255.5L631.6 254.8L632.5 254.2L633.4 253.7L634.4 250.2L635.3 251.1L636.2 251.5L637.1 250.4L638.0 253.1L638.9 252.3L639.8 251.9L640.7 250.1L641.6 249.6L642.5 249.8L643.4 244.6L644.3 252.7L645.2 251.0L646.1 252.6L647.0 254.1L647.9 255.8L648.8 253.9L649.7 253.5L650.6 253.5L651.5 250.8L652.4 250.8L653.3 250.7L654.2 248.3L655.1 251.2L656.0 248.6L656.9 250.6L657.8 249.1L658.7 250.1L659.6 250.4L660.5 253.4L661.4 254.1L662.3 255.3L663.2 254.5L664.1 254.4L665.0 254.6L665.9 257.9L666.8 257.4L667.8 260.5L668.7 261.6L669.6 259.2L670.5 258.7L671.4 259.9L672.3 258.8L673.2 251.2L674.1 249.5L675.0 248.0L675.9 239.8L676.8 243.0L677.7 243.5L678.6 241.5L679.5 243.9L680.4 239.5L681.3 244.9L682.2 244.3L683.1 241.9L684.0 242.8" stroke="#ff0000" stroke-width="1.55" fill="none" stroke-linejoin="round"/><path d="M409.8 287.6L410.7 289.5L411.6 288.3L412.5 288.4L413.4 283.8L414.3 283.8L415.2 282.3L416.1 281.6L417.0 281.2L417.9 281.9L418.8 282.2L419.7 280.9L420.6 282.0L421.5 280.5L422.4 284.4L423.3 284.4L424.2 285.3L425.1 281.4L426.0 284.3L426.9 280.3L427.8 278.4L428.7 279.6L429.6 277.1L430.5 279.9L431.4 275.9L432.3 276.2L433.2 272.0L434.1 270.9L435.0 270.8L435.9 267.4L436.8 267.8L437.7 269.2L438.6 269.7L439.5 271.8L440.4 270.6L441.3 267.6L442.2 271.8L443.0 269.9L443.9 270.8L444.8 268.2L445.7 268.1L446.6 268.4L447.5 269.9L448.4 266.9L449.3 263.4L450.2 264.9L451.1 263.4L452.0 265.6L452.9 268.4L453.8 265.5L454.7 265.7L455.6 266.2L456.5 265.0L457.4 263.8L458.3 265.4L459.2 264.5L460.1 265.8L461.0 269.6L461.9 266.7L462.8 267.6L463.7 267.0L464.6 263.1L465.5 262.1L466.4 258.4L467.3 256.3L468.2 258.2L469.1 264.2L470.0 267.9L470.9 270.5L471.8 276.0L472.7 278.3L473.6 278.2L474.5 278.1L475.4 279.4L476.3 280.0L477.2 283.5L478.1 284.3L479.0 285.9L479.9 287.3L480.8 291.9L481.7 290.8L482.6 293.7L483.5 291.2L484.4 292.3L485.3 293.4L486.2 295.7L487.1 298.5L488.0 297.3L488.9 299.3L489.8 298.4L490.7 299.7L491.6 298.1L492.5 295.2L493.4 292.2L494.3 293.8L495.2 289.7L496.1 288.2L497.0 293.1L497.9 291.1L498.8 292.7L499.7 292.5L500.6 294.0L501.5 294.1L502.4 292.9L503.3 292.7L504.2 293.2L505.1 292.9L506.0 292.1L506.9 290.8L507.7 288.2L508.6 286.7L509.5 283.7L510.4 284.3L511.3 280.1L512.2 278.1L513.1 279.7L514.0 281.4L514.9 276.9L515.8 278.9L516.7 282.5L517.6 278.3L518.5 277.1L519.4 277.6L520.3 277.3L521.2 279.6L522.1 281.8L523.0 285.9L523.9 285.0L524.8 282.4L525.7 280.3L526.6 281.0L527.5 278.7L528.4 275.9L529.3 278.5L530.2 277.5L531.1 273.9L532.0 272.1L532.9 272.1L533.8 273.8L534.7 269.6L535.6 271.1L536.5 268.1L537.4 269.7L538.3 270.1L539.2 270.8L540.1 274.1" stroke="#008000" stroke-width="1.55" fill="none" stroke-linejoin="round"/><path d="M558.6 265.0L559.5 261.7L560.4 265.6L561.3 264.4L562.2 264.5L563.1 264.3L564.0 265.1L564.9 264.8L565.8 264.4L566.7 265.2L567.5 263.7L568.4 265.0L569.3 265.0L570.2 262.8L571.1 264.5L572.0 264.3L572.9 263.8L573.8 262.6L574.7 260.4L575.6 261.0L576.5 256.2" stroke="#008000" stroke-width="1.55" fill="none" stroke-linejoin="round"/><path d="M589.4 257.4L590.3 262.4L591.2 266.4L592.1 269.1L593.0 274.5L593.9 274.1L594.8 275.7L595.7 273.5L596.6 273.9L597.5 276.7L598.4 273.4L599.3 277.3L600.2 274.2L601.1 275.9L602.0 277.8L602.9 278.6L603.8 278.1L604.7 279.8L605.6 284.2L606.5 286.0L607.4 291.5L608.3 290.6L609.2 289.9L610.1 291.1L611.0 286.3L611.9 287.1L612.8 288.2L613.7 285.8L614.6 286.0L615.5 285.5L616.4 288.6L617.3 286.9L618.2 287.7L619.1 288.5L620.0 287.6L620.9 287.4L621.8 286.6L622.7 282.9L623.6 281.0L624.5 281.6L625.4 282.8L626.3 285.7L627.2 283.7L628.1 285.0L629.0 287.3L629.9 284.1L630.8 281.4L631.7 280.5L632.6 277.4L633.5 276.5L634.4 279.9L635.3 279.0L636.2 278.9L637.2 278.9L638.1 278.2L639.0 282.1L639.9 278.2L640.8 275.7L641.7 273.7L642.6 272.2L643.5 276.0L644.4 276.1L645.3 278.6L646.2 277.2L647.1 281.0L648.0 277.3L648.9 277.2L649.8 277.3L650.7 280.5L651.6 277.7L652.5 275.3L653.4 278.3L654.3 276.7L655.2 276.7L656.1 275.6L657.0 276.8L657.9 277.3L658.8 278.9L659.7 278.8L660.6 279.8L661.5 279.5L662.4 281.8L663.3 281.1L664.2 285.9L665.1 282.6L666.0 285.2L666.9 283.8L667.8 285.4L668.7 284.3L669.6 283.4L670.5 286.2L671.4 285.3L672.3 284.7L673.2 281.4L674.1 280.4L675.0 274.7L675.9 272.2L676.8 271.8L677.7 269.9L678.6 271.1L679.5 265.9L680.4 266.7L681.3 264.1L682.2 267.9L683.1 268.1L684.0 265.7" stroke="#008000" stroke-width="1.55" fill="none" stroke-linejoin="round"/><path d="M410.4 318.6L411.3 321.8L412.2 313.5L413.1 314.5L414.0 313.5L414.9 314.8L415.8 314.5L416.7 311.6L417.6 309.8L418.6 310.1L419.5 307.8L420.4 307.0L421.3 307.9L422.2 311.8L423.1 314.5L424.0 310.7L424.9 311.4L425.8 308.7L426.7 305.6L427.6 304.5L428.5 305.7L429.4 302.4L430.3 299.4L431.2 300.4L432.1 298.1L433.0 295.5L433.9 296.0L434.9 295.7L435.8 295.2L436.7 293.1L437.6 294.2L438.5 291.9L439.4 294.7L440.3 292.0L441.2 293.0L442.1 298.0L443.0 293.5L443.9 296.0L444.8 292.1L445.7 293.2L446.6 293.7L447.5 291.7L448.4 293.2L449.3 290.6L450.2 289.8L451.2 290.5L452.1 290.0L453.0 293.9L453.9 291.9L454.8 295.0L455.7 289.9L456.6 288.9L457.5 288.4L458.4 291.6L459.3 285.9L460.2 293.4L461.1 293.6L462.0 295.6L462.9 290.7L463.8 292.8L464.7 288.0L465.6 289.7L466.5 285.5L467.5 285.5L468.4 282.5L469.3 287.3L470.2 293.8L471.1 297.7L472.0 306.3L472.9 308.5L473.8 305.2L474.7 309.5L475.6 304.3L476.5 307.3L477.4 311.6L478.3 313.7L479.2 316.1L480.1 318.8L481.0 318.2L481.9 316.6L482.8 316.9L483.8 318.8L484.7 321.4L485.6 323.5L486.5 325.0L487.4 324.7L488.3 326.2L489.2 327.1L490.1 325.1L491.0 327.2L491.9 326.6L492.8 325.8L493.7 321.2L494.6 327.0L495.5 322.2L496.4 321.0L497.3 321.0L498.2 317.0L499.1 319.6L500.1 321.3L501.0 325.1L501.9 323.3L502.8 324.7L503.7 324.0L504.6 323.6L505.5 324.5L506.4 322.2L507.3 319.7" stroke="#1e90ff" stroke-width="1.55" fill="none" stroke-linejoin="round"/><path d="M525.6 314.4L526.5 313.2L527.4 311.9L528.3 308.4L529.2 309.7L530.1 309.5L531.0 305.8L531.9 304.8L532.8 305.8L533.7 303.7L534.6 299.4L535.5 298.8L536.4 301.1L537.3 300.2L538.2 302.1L539.1 301.1L540.0 304.8L540.9 299.8L541.8 297.8L542.7 297.5L543.6 291.2L544.5 290.6L545.4 295.5L546.3 290.7L547.2 298.1L548.1 298.6L549.0 296.5L549.9 292.4L550.9 291.8L551.8 293.9L552.7 294.9L553.6 299.4L554.5 296.7L555.4 291.4L556.3 294.3L557.2 299.3L558.1 295.3L559.0 296.5L559.9 294.3L560.8 294.2L561.7 296.6L562.6 296.2L563.5 294.3L564.4 294.1L565.3 298.8L566.2 292.4L567.1 294.8L568.0 295.4L568.9 295.2L569.8 297.9L570.7 295.9L571.6 293.1L572.5 291.9L573.4 291.5L574.3 291.3L575.2 290.5" stroke="#1e90ff" stroke-width="1.55" fill="none" stroke-linejoin="round"/><path d="M586.6 283.0L587.5 285.0L588.4 287.1L589.3 285.0L590.2 286.8L591.1 295.4L592.0 295.7L592.9 300.2L593.8 299.9L594.7 301.0L595.6 299.3L596.5 299.5L597.4 299.8L598.3 304.1L599.2 299.9L600.1 301.4L601.0 303.7L601.9 300.7L602.8 305.7L603.7 302.7L604.6 303.0L605.5 310.9L606.4 312.8L607.3 317.5L608.2 319.0L609.1 322.1L610.0 317.2L611.0 316.2L611.9 313.2L612.8 313.1L613.7 310.5L614.6 312.1L615.5 311.7L616.4 311.0L617.3 313.7L618.2 312.7L619.1 314.2L620.0 313.1L620.9 313.5L621.8 309.1L622.7 306.1L623.6 306.8L624.5 304.0L625.4 304.7L626.3 309.0L627.2 308.2L628.1 308.0L629.0 311.6L629.9 312.9L630.8 307.3L631.7 306.7L632.6 300.0L633.5 302.6L634.4 302.7L635.3 304.9L636.2 304.5L637.1 307.0L638.0 307.7L638.9 305.6L639.8 305.9L640.7 300.5L641.6 303.8L642.5 300.5L643.4 300.8L644.3 302.0L645.2 298.2L646.1 308.3L647.0 303.1L647.9 308.0L648.8 304.2L649.7 298.8L650.6 305.8L651.5 303.3L652.4 297.7L653.3 300.0L654.2 301.6L655.1 301.0L656.0 303.2L656.9 301.5L657.8 299.2L658.7 303.1L659.6 302.8L660.6 301.8L661.5 301.5L662.4 307.6L663.3 307.2L664.2 310.0L665.1 311.1L666.0 311.3L666.9 312.0L667.8 314.0L668.7 314.5L669.6 312.3L670.5 310.8L671.4 308.9L672.3 311.1L673.2 307.5L674.1 302.2L675.0 298.5L675.9 298.2L676.8 298.0L677.7 294.4L678.6 298.6L679.5 298.9L680.4 300.9L681.3 296.8L682.2 297.9L683.1 293.5L684.0 297.7" stroke="#1e90ff" stroke-width="1.55" fill="none" stroke-linejoin="round"/><path d="M405.5 259.2L406.5 259.6L407.5 259.9L408.5 260.0L409.5 260.0L410.5 259.8L411.5 259.1L412.5 258.0L413.5 256.9L414.5 256.0L415.5 255.2L416.5 254.4L417.5 253.6L418.5 253.0L419.5 252.6L420.5 252.5L421.5 252.7L422.5 252.9L423.5 253.3L424.5 253.6L425.5 253.9L426.5 254.0L427.5 253.8L428.5 253.0L429.5 251.7L430.5 250.0L431.5 248.2L432.5 246.3L433.5 244.6L434.5 243.1L435.5 242.1L436.5 241.2L437.5 240.8L438.5 241.2L439.5 241.9L440.5 242.5L441.5 242.6L442.5 242.6L443.5 242.5L444.5 242.5L445.5 242.4L446.5 242.3L447.5 241.9L448.5 241.0L449.5 239.9L450.5 239.1L451.5 239.0L452.5 240.0L453.5 241.0L454.5 240.5L455.5 238.8L456.5 237.2L457.5 237.1L458.5 237.8L459.5 238.8L460.5 239.8L461.5 240.7L462.5 241.1L463.5 240.1L464.5 237.6L465.5 234.5L466.5 231.8L467.5 230.4L468.5 232.1L469.5 237.2L470.6 243.5L471.6 248.7L472.6 250.8L473.6 251.7L474.6 252.6L475.6 254.5L476.6 258.0L477.6 261.7L478.6 264.1L479.6 264.9L480.6 265.3L481.6 265.7L482.6 266.2L483.6 267.4L484.6 269.1L485.6 271.0L486.6 272.7L487.6 273.9L488.6 274.3L489.6 273.7L490.6 272.6L491.6 271.2L492.6 269.8L493.6 268.6L494.6 267.6L495.6 266.5L496.6 265.6L497.6 265.0L498.6 265.0L499.6 266.0L500.6 267.5L501.6 268.6L502.6 268.7L503.6 268.6L504.6 268.4L505.6 268.2L506.6 267.3L507.6 265.0L508.6 262.0L509.6 258.9L510.6 256.5L511.6 255.4L512.6 255.0L513.6 254.6L514.6 254.3L515.6 254.0L516.6 253.8L517.6 253.7L518.6 253.6L519.6 253.8L520.6 254.7L521.6 256.0L522.6 257.1L523.6 257.7L524.6 257.0L525.6 254.9L526.6 252.2L527.6 249.7L528.6 248.1L529.6 246.9L530.6 245.8L531.6 244.8L532.6 244.0L533.6 243.3L534.6 242.8L535.6 242.6" stroke="#000" stroke-width="1.5" fill="none" stroke-linejoin="round"/><path d="M554.4 239.8L555.4 238.0L556.5 236.5L557.5 235.5L558.6 235.0L559.6 234.6L560.7 234.2L561.7 233.9L562.8 233.7L563.8 233.6L564.9 233.6L565.9 233.8L567.0 234.0L568.0 234.1L569.1 234.2L570.1 234.1L571.2 233.9L572.2 233.6" stroke="#000" stroke-width="1.5" fill="none" stroke-linejoin="round"/><path d="M584.7 228.5L585.7 228.8L586.7 229.8L587.7 231.1L588.7 232.7L589.7 236.6L590.7 241.8L591.7 246.1L592.7 247.8L593.7 248.8L594.7 249.5L595.7 250.0L596.7 250.2L597.7 250.1L598.7 249.8L599.7 249.5L600.7 249.2L601.8 249.4L602.8 250.3L603.8 251.8L604.8 253.6L605.8 257.5L606.8 262.5L607.8 266.2L608.8 266.6L609.8 265.4L610.8 263.4L611.8 261.3L612.8 259.7L613.8 259.2L614.8 259.7L615.8 260.6L616.8 261.7L617.8 262.7L618.8 263.3L619.8 263.2L620.8 261.9L621.8 259.9L622.8 257.9L623.8 256.2L624.8 255.5L625.8 256.0L626.8 257.1L627.8 258.3L628.8 258.7L629.8 257.7L630.8 255.8L631.8 253.6L632.8 251.8L633.8 251.1L634.9 251.7L635.9 252.8L636.9 253.8L637.9 253.9L638.9 253.1L639.9 251.7L640.9 250.1L641.9 248.7L642.9 248.0L643.9 248.4L644.9 250.3L645.9 252.4L646.9 253.6L647.9 253.3L648.9 252.4L649.9 251.3L650.9 250.2L651.9 249.4L652.9 249.2L653.9 249.4L654.9 249.7L655.9 250.1L656.9 250.5L657.9 251.1L658.9 251.6L659.9 252.1L660.9 252.8L661.9 253.7L662.9 254.6L663.9 255.5L664.9 256.3L665.9 256.9L666.9 257.3L668.0 257.4L669.0 257.3L670.0 257.2L671.0 257.0L672.0 256.2L673.0 252.9L674.0 248.4L675.0 245.0L676.0 243.9L677.0 243.2L678.0 242.6L679.0 242.1L680.0 241.7L681.0 241.4L682.0 241.0L683.0 240.7L684.0 240.5" stroke="#000" stroke-width="1.5" fill="none" stroke-linejoin="round"/><path d="M409.8 289.8L410.8 288.4L411.8 287.0L412.8 285.8L413.8 284.6L414.8 283.4L415.8 282.2L416.8 281.2L417.8 280.8L418.8 280.9L419.8 281.4L420.8 281.9L421.8 282.5L422.8 283.0L423.8 283.2L424.8 282.9L425.8 282.1L426.8 280.9L427.8 279.9L428.8 278.7L429.8 277.3L430.8 275.7L431.9 274.1L432.9 272.6L433.9 271.2L434.9 270.0L435.9 269.2L436.9 268.7L437.9 268.8L438.9 269.2L439.9 269.8L440.9 270.4L441.9 270.6L442.9 270.5L443.9 270.3L444.9 270.0L445.9 269.7L446.9 269.3L447.9 268.4L448.9 267.2L449.9 266.1L450.9 265.4L451.9 265.4L452.9 265.8L453.9 266.2L454.9 265.8L455.9 264.6L456.9 263.8L457.9 264.0L458.9 264.4L459.9 265.1L460.9 265.7L461.9 266.1L462.9 266.1L463.9 264.6L464.9 262.1L465.9 259.4L466.9 257.4L467.9 256.9L468.9 260.0L469.9 265.5L470.9 271.3L471.9 275.4L472.9 277.0L473.9 278.1L475.0 279.0L476.0 280.2L477.0 281.7L478.0 283.3L479.0 285.0L480.0 286.8L481.0 288.5L482.0 290.0L483.0 291.5L484.0 293.0L485.0 294.5L486.0 296.0L487.0 297.4L488.0 298.4L489.0 299.1L490.0 299.1L491.0 298.2L492.0 296.7L493.0 295.1L494.0 294.0L495.0 293.0L496.0 292.1L497.0 291.5L498.0 291.3L499.0 291.9L500.0 293.0L501.0 294.1L502.0 294.5L503.0 294.3L504.0 293.9L505.0 293.2L506.0 292.4L507.0 290.8L508.0 288.4L509.0 285.8L510.0 283.4L511.0 281.7L512.0 280.9L513.0 280.2L514.0 279.6L515.0 279.1L516.0 278.7L517.0 278.4L518.0 278.2L519.1 278.1L520.1 278.8L521.1 280.2L522.1 281.8L523.1 282.9L524.1 283.1L525.1 282.0L526.1 280.1L527.1 277.9L528.1 276.1L529.1 274.9L530.1 273.8L531.1 272.6L532.1 271.6L533.1 270.7L534.1 270.0L535.1 269.5L536.1 269.4L537.1 269.8L538.1 270.8L539.1 272.2L540.1 273.8" stroke="#000" stroke-width="1.5" fill="none" stroke-linejoin="round"/><path d="M558.6 264.9L559.7 264.3L560.7 263.8L561.8 263.4L562.8 263.1L563.9 263.0L564.9 263.0L566.0 263.1L567.0 263.3L568.1 263.5L569.1 263.7L570.2 263.8L571.2 263.7L572.3 263.2L573.3 262.2L574.4 260.8L575.4 259.2L576.5 257.4" stroke="#000" stroke-width="1.5" fill="none" stroke-linejoin="round"/><path d="M589.4 258.7L590.4 263.3L591.4 267.4L592.4 270.8L593.4 273.0L594.4 273.9L595.4 274.1L596.4 274.3L597.5 274.4L598.5 274.6L599.5 274.8L600.5 275.1L601.5 275.5L602.5 275.9L603.5 276.5L604.5 278.3L605.5 282.0L606.5 286.1L607.5 289.3L608.5 290.2L609.5 289.2L610.5 287.4L611.5 285.6L612.5 284.4L613.6 284.3L614.6 284.8L615.6 285.7L616.6 286.7L617.6 287.6L618.6 288.2L619.6 288.2L620.6 286.9L621.6 284.9L622.6 282.7L623.6 281.2L624.6 280.9L625.6 281.7L626.6 283.1L627.6 284.5L628.6 285.1L629.7 284.4L630.7 282.6L631.7 280.4L632.7 278.4L633.7 277.5L634.7 277.9L635.7 278.8L636.7 279.7L637.7 280.0L638.7 279.3L639.7 278.1L640.7 276.6L641.7 275.2L642.7 274.4L643.7 274.5L644.8 275.7L645.8 277.1L646.8 278.1L647.8 278.0L648.8 277.5L649.8 276.9L650.8 276.3L651.8 275.8L652.8 275.7L653.8 275.8L654.8 276.1L655.8 276.5L656.8 276.9L657.8 277.4L658.8 277.9L659.8 278.5L660.9 279.3L661.9 280.2L662.9 281.2L663.9 282.2L664.9 283.2L665.9 283.9L666.9 284.4L667.9 284.5L668.9 284.5L669.9 284.4L670.9 284.3L671.9 283.9L672.9 281.4L673.9 277.5L674.9 273.6L675.9 270.9L677.0 270.0L678.0 269.2L679.0 268.6L680.0 268.1L681.0 267.7L682.0 267.4L683.0 267.2L684.0 267.0" stroke="#000" stroke-width="1.5" fill="none" stroke-linejoin="round"/><path d="M410.4 318.1L411.4 316.7L412.4 315.4L413.4 314.1L414.4 312.9L415.4 311.7L416.5 310.5L417.5 309.3L418.5 308.0L419.5 307.3L420.5 307.4L421.5 308.2L422.5 309.1L423.5 309.6L424.5 309.4L425.5 308.9L426.5 308.2L427.6 307.3L428.6 306.1L429.6 304.3L430.6 302.1L431.6 299.8L432.6 297.7L433.6 296.1L434.6 294.6L435.6 293.2L436.6 292.3L437.7 292.2L438.7 292.7L439.7 293.6L440.7 294.6L441.7 295.4L442.7 295.8L443.7 295.6L444.7 295.2L445.7 294.5L446.7 293.9L447.7 293.0L448.8 292.0L449.8 291.0L450.8 290.3L451.8 290.4L452.8 291.8L453.8 293.0L454.8 292.8L455.8 291.1L456.8 289.8L457.8 290.2L458.9 291.2L459.9 292.6L460.9 293.7L461.9 294.0L462.9 293.1L463.9 291.2L464.9 288.8L465.9 286.4L466.9 284.4L467.9 283.3L468.9 284.4L470.0 289.6L471.0 296.7L472.0 303.0L473.0 305.8L474.0 305.5L475.0 305.1L476.0 305.0L477.0 307.9L478.0 312.8L479.0 317.0L480.0 318.4L481.1 318.8L482.1 319.1L483.1 319.4L484.1 320.3L485.1 321.9L486.1 324.0L487.1 325.9L488.1 327.2L489.1 327.5L490.1 326.8L491.1 325.7L492.2 324.4L493.2 323.3L494.2 322.4L495.2 321.5L496.2 320.6L497.2 320.1L498.2 320.1L499.2 321.0L500.2 322.3L501.2 323.5L502.3 323.8L503.3 323.8L504.3 323.6L505.3 323.3L506.3 322.8L507.3 321.9" stroke="#000" stroke-width="1.5" fill="none" stroke-linejoin="round"/><path d="M525.6 311.5L526.6 311.0L527.6 310.3L528.6 309.4L529.6 308.5L530.7 307.5L531.7 306.4L532.7 305.1L533.7 303.2L534.7 301.3L535.7 300.2L536.7 300.7L537.7 302.0L538.8 303.4L539.8 304.0L540.8 302.7L541.8 300.0L542.8 297.0L543.8 294.9L544.8 294.6L545.8 295.7L546.9 297.2L547.9 298.2L548.9 297.5L549.9 295.6L550.9 297.0L551.9 300.9L552.9 303.0L553.9 301.5L555.0 298.4L556.0 295.4L557.0 294.4L558.0 294.2L559.0 294.0L560.0 293.9L561.0 293.8L562.0 293.7L563.1 293.6L564.1 293.6L565.1 293.7L566.1 294.2L567.1 294.7L568.1 295.3L569.1 295.7L570.1 295.8L571.2 295.4L572.2 294.5L573.2 293.2L574.2 291.6L575.2 289.8" stroke="#000" stroke-width="1.5" fill="none" stroke-linejoin="round"/><path d="M586.6 284.2L587.6 284.7L588.6 285.8L589.6 287.4L590.6 291.0L591.6 295.9L592.6 300.3L593.6 302.1L594.6 302.1L595.6 302.0L596.6 301.9L597.6 301.7L598.6 301.6L599.7 301.5L600.7 301.5L601.7 301.8L602.7 302.7L603.7 304.1L604.7 306.0L605.7 310.2L606.7 315.1L607.7 318.8L608.7 319.5L609.7 318.3L610.7 316.4L611.7 314.3L612.7 312.7L613.7 312.1L614.7 312.4L615.7 313.1L616.7 314.0L617.7 314.8L618.7 315.2L619.7 315.1L620.7 313.8L621.7 311.7L622.7 309.5L623.8 307.7L624.8 306.8L625.8 307.5L626.8 309.6L627.8 311.6L628.8 312.5L629.8 311.5L630.8 309.4L631.8 306.9L632.8 304.9L633.8 304.0L634.8 304.6L635.8 305.8L636.8 306.9L637.8 307.2L638.8 306.4L639.8 305.0L640.8 303.2L641.8 301.5L642.8 300.1L643.8 299.3L644.8 300.1L645.8 303.4L646.8 305.7L647.9 305.5L648.9 304.4L649.9 302.9L650.9 301.5L651.9 300.5L652.9 300.2L653.9 300.3L654.9 300.6L655.9 301.0L656.9 301.4L657.9 301.9L658.9 302.5L659.9 303.5L660.9 304.8L661.9 306.3L662.9 307.9L663.9 309.3L664.9 310.5L665.9 311.3L666.9 311.5L667.9 311.5L668.9 311.5L669.9 311.5L670.9 311.5L672.0 311.1L673.0 308.3L674.0 304.0L675.0 299.8L676.0 297.5L677.0 297.4L678.0 297.4L679.0 297.4L680.0 297.4L681.0 297.4L682.0 297.4L683.0 297.4L684.0 297.4" stroke="#000" stroke-width="1.5" fill="none" stroke-linejoin="round"/></g><g clip-path="url(#cr3)"><rect x="393.1" y="354.3" width="0.7" height="7.1" fill="#ff0000" fill-opacity="0.3"/><path d="M405.5 353.4L406.4 353.5L407.3 353.5L408.2 353.5L409.1 353.4L410.0 353.3L410.9 353.2L411.8 353.1L412.7 353.2L413.6 353.3L414.5 353.5L415.4 353.7L416.3 353.8L417.2 353.8L418.1 353.7L419.1 353.5L420.0 353.4L420.9 353.2L421.8 353.2L422.7 353.1L423.6 353.2L424.5 353.3L425.4 353.4L426.3 353.5L427.2 353.6L428.1 353.5L429.0 353.5L429.9 353.4L430.8 353.3L431.7 353.3L432.6 353.3L433.5 353.3L434.4 353.3L435.3 353.3L436.2 353.2L437.1 353.1L438.0 353.2L438.9 353.3L439.8 353.4L440.7 353.5L441.6 353.4L442.5 353.3L443.4 353.2L444.3 353.1L445.3 353.1L446.2 353.2L447.1 353.3L448.0 353.4L448.9 353.5L449.8 353.5L450.7 353.5L451.6 353.5L452.5 353.5L453.4 353.5L454.3 353.5L455.2 353.5L456.1 353.6L457.0 353.8L457.9 354.1L458.8 354.2L459.7 354.3L460.6 354.2L461.5 354.1L462.4 353.9L463.3 353.7L464.2 353.7L465.1 353.6L466.0 353.5L466.9 353.4L467.8 353.3L468.7 353.3L469.6 353.4L470.6 353.7L471.5 353.9L472.4 354.1L473.3 354.0L474.2 353.8L475.1 353.6L476.0 353.5L476.9 353.5L477.8 353.5L478.7 353.5L479.6 353.6L480.5 353.7L481.4 353.8L482.3 353.9L483.2 353.9L484.1 353.9L485.0 353.8L485.9 353.6L486.8 353.4L487.7 353.3L488.6 353.2L489.5 353.2L490.4 353.2L491.3 353.3L492.2 353.4L493.1 353.4L494.0 353.4L494.9 353.4L495.8 353.4L496.8 353.4L497.7 353.4L498.6 353.5L499.5 353.5L500.4 353.4L501.3 353.4L502.2 353.3L503.1 353.3L504.0 353.3L504.9 353.3L505.8 353.3L506.7 353.2L507.6 353.1L508.5 353.0L509.4 353.0L510.3 352.9L511.2 352.9L512.1 352.9L513.0 352.9L513.9 352.9L514.8 352.9L515.7 353.0L516.6 353.2L517.5 353.4L518.4 353.6L519.3 353.7L520.2 353.9L521.1 353.9L522.0 353.8L523.0 353.6L523.9 353.5L524.8 353.4L525.7 353.3L526.6 353.4L527.5 353.4L528.4 353.4L529.3 353.3L530.2 353.2L531.1 353.0L532.0 352.9L532.9 353.0L533.8 353.2L534.7 353.3L535.6 353.4L535.6 361.8L534.7 361.9L533.8 362.1L532.9 362.2L532.0 362.3L531.1 362.2L530.2 362.1L529.3 361.9L528.4 361.8L527.5 361.8L526.6 361.9L525.7 361.9L524.8 361.9L523.9 361.8L523.0 361.6L522.0 361.5L521.1 361.4L520.2 361.4L519.3 361.5L518.4 361.7L517.5 361.9L516.6 362.1L515.7 362.2L514.8 362.3L513.9 362.4L513.0 362.4L512.1 362.4L511.2 362.4L510.3 362.3L509.4 362.3L508.5 362.2L507.6 362.1L506.7 362.0L505.8 361.9L504.9 361.9L504.0 361.9L503.1 361.9L502.2 361.9L501.3 361.9L500.4 361.8L499.5 361.8L498.6 361.8L497.7 361.8L496.8 361.9L495.8 361.8L494.9 361.8L494.0 361.8L493.1 361.8L492.2 361.9L491.3 361.9L490.4 362.0L489.5 362.1L488.6 362.0L487.7 362.0L486.8 361.8L485.9 361.6L485.0 361.4L484.1 361.4L483.2 361.3L482.3 361.4L481.4 361.5L480.5 361.5L479.6 361.6L478.7 361.7L477.8 361.7L476.9 361.8L476.0 361.7L475.1 361.6L474.2 361.4L473.3 361.2L472.4 361.2L471.5 361.3L470.6 361.5L469.6 361.8L468.7 362.0L467.8 362.0L466.9 361.9L466.0 361.7L465.1 361.6L464.2 361.6L463.3 361.5L462.4 361.4L461.5 361.2L460.6 361.0L459.7 361.0L458.8 361.0L457.9 361.2L457.0 361.4L456.1 361.6L455.2 361.7L454.3 361.7L453.4 361.8L452.5 361.7L451.6 361.7L450.7 361.7L449.8 361.7L448.9 361.8L448.0 361.8L447.1 361.9L446.2 362.1L445.3 362.2L444.3 362.2L443.4 362.1L442.5 361.9L441.6 361.8L440.7 361.8L439.8 361.8L438.9 361.9L438.0 362.0L437.1 362.1L436.2 362.1L435.3 362.0L434.4 361.9L433.5 361.9L432.6 362.0L431.7 362.0L430.8 361.9L429.9 361.9L429.0 361.8L428.1 361.7L427.2 361.7L426.3 361.7L425.4 361.8L424.5 361.9L423.6 362.0L422.7 362.1L421.8 362.1L420.9 362.0L420.0 361.9L419.1 361.7L418.1 361.5L417.2 361.4L416.3 361.4L415.4 361.5L414.5 361.8L413.6 362.0L412.7 362.1L411.8 362.1L410.9 362.1L410.0 362.0L409.1 361.9L408.2 361.8L407.3 361.7L406.4 361.7L405.5 361.8Z" fill="#ff0000" fill-opacity="0.3"/><path d="M554.4 353.8L555.3 353.9L556.2 354.0L557.1 354.0L558.0 353.9L558.9 353.7L559.7 353.5L560.6 353.3L561.5 353.3L562.4 353.4L563.3 353.6L564.2 353.8L565.1 353.9L566.0 353.8L566.9 353.7L567.8 353.4L568.6 353.2L569.5 353.2L570.4 353.2L571.3 353.2L572.2 353.2L572.2 362.1L571.3 362.1L570.4 362.1L569.5 362.1L568.6 362.0L567.8 361.8L566.9 361.6L566.0 361.4L565.1 361.4L564.2 361.5L563.3 361.7L562.4 361.9L561.5 362.0L560.6 361.9L559.7 361.7L558.9 361.5L558.0 361.3L557.1 361.3L556.2 361.3L555.3 361.3L554.4 361.5Z" fill="#ff0000" fill-opacity="0.3"/><path d="M584.7 353.7L585.6 353.9L586.5 354.0L587.4 353.9L588.3 353.8L589.2 353.6L590.1 353.4L591.0 353.4L591.9 353.5L592.8 353.6L593.7 353.8L594.6 353.8L595.5 353.8L596.4 353.7L597.3 353.6L598.2 353.4L599.1 353.3L600.0 353.2L600.9 353.2L601.9 353.2L602.8 353.3L603.7 353.3L604.6 353.3L605.5 353.5L606.4 353.6L607.3 353.6L608.2 353.6L609.1 353.5L610.0 353.5L610.9 353.5L611.8 353.6L612.7 353.8L613.6 354.0L614.5 354.1L615.4 354.1L616.3 354.0L617.2 353.9L618.1 353.8L619.0 353.7L619.9 353.6L620.8 353.5L621.7 353.4L622.6 353.3L623.5 353.3L624.4 353.3L625.3 353.2L626.2 353.1L627.1 352.9L628.0 352.7L628.9 352.7L629.8 352.8L630.7 353.0L631.6 353.2L632.5 353.4L633.4 353.4L634.4 353.5L635.3 353.5L636.2 353.6L637.1 353.6L638.0 353.5L638.9 353.4L639.8 353.3L640.7 353.2L641.6 353.2L642.5 353.4L643.4 353.5L644.3 353.6L645.2 353.6L646.1 353.7L647.0 353.7L647.9 353.8L648.8 353.8L649.7 353.8L650.6 353.7L651.5 353.6L652.4 353.6L653.3 353.6L654.2 353.7L655.1 353.7L656.0 353.8L656.9 353.8L657.8 353.8L658.7 353.7L659.6 353.7L660.5 353.6L661.4 353.7L662.3 353.7L663.2 353.6L664.1 353.5L665.0 353.3L665.9 353.2L666.8 353.1L667.8 353.0L668.7 353.1L669.6 353.1L670.5 353.0L671.4 353.0L672.3 353.0L673.2 353.1L674.1 353.2L675.0 353.3L675.9 353.3L676.8 353.3L677.7 353.4L678.6 353.4L679.5 353.6L680.4 353.7L681.3 353.7L682.2 353.7L683.1 353.6L684.0 353.4L684.0 361.9L683.1 361.7L682.2 361.6L681.3 361.5L680.4 361.6L679.5 361.7L678.6 361.8L677.7 361.9L676.8 361.9L675.9 361.9L675.0 362.0L674.1 362.0L673.2 362.1L672.3 362.2L671.4 362.2L670.5 362.2L669.6 362.2L668.7 362.2L667.8 362.2L666.8 362.2L665.9 362.1L665.0 361.9L664.1 361.7L663.2 361.6L662.3 361.6L661.4 361.6L660.5 361.6L659.6 361.6L658.7 361.5L657.8 361.5L656.9 361.5L656.0 361.5L655.1 361.5L654.2 361.5L653.3 361.6L652.4 361.6L651.5 361.6L650.6 361.5L649.7 361.5L648.8 361.5L647.9 361.5L647.0 361.5L646.1 361.5L645.2 361.6L644.3 361.6L643.4 361.7L642.5 361.9L641.6 362.0L640.7 362.0L639.8 362.0L638.9 361.8L638.0 361.7L637.1 361.7L636.2 361.7L635.3 361.7L634.4 361.8L633.4 361.8L632.5 361.9L631.6 362.0L630.7 362.2L629.8 362.5L628.9 362.6L628.0 362.5L627.1 362.4L626.2 362.2L625.3 362.0L624.4 362.0L623.5 361.9L622.6 361.9L621.7 361.9L620.8 361.8L619.9 361.7L619.0 361.6L618.1 361.4L617.2 361.3L616.3 361.2L615.4 361.1L614.5 361.1L613.6 361.2L612.7 361.5L611.8 361.7L610.9 361.8L610.0 361.8L609.1 361.7L608.2 361.6L607.3 361.6L606.4 361.6L605.5 361.8L604.6 361.9L603.7 362.0L602.8 362.0L601.9 362.0L600.9 362.1L600.0 362.1L599.1 362.0L598.2 361.8L597.3 361.7L596.4 361.5L595.5 361.4L594.6 361.4L593.7 361.5L592.8 361.6L591.9 361.8L591.0 361.8L590.1 361.8L589.2 361.6L588.3 361.5L587.4 361.3L586.5 361.3L585.6 361.4L584.7 361.6Z" fill="#ff0000" fill-opacity="0.3"/><path d="M409.8 374.0L410.7 374.1L411.6 374.0L412.5 374.0L413.4 373.9L414.3 373.8L415.2 373.7L416.1 373.7L417.0 373.7L417.9 373.9L418.8 374.0L419.7 374.1L420.6 374.0L421.5 373.9L422.4 373.8L423.3 373.7L424.2 373.6L425.1 373.7L426.0 373.7L426.9 373.7L427.8 373.7L428.7 373.8L429.6 373.9L430.5 373.9L431.4 373.9L432.3 373.8L433.2 373.6L434.1 373.4L435.0 373.4L435.9 373.4L436.8 373.5L437.7 373.5L438.6 373.6L439.5 373.6L440.4 373.6L441.3 373.7L442.2 373.8L443.0 374.0L443.9 374.1L444.8 374.1L445.7 374.1L446.6 374.0L447.5 374.0L448.4 373.8L449.3 373.6L450.2 373.4L451.1 373.4L452.0 373.4L452.9 373.6L453.8 373.8L454.7 373.9L455.6 373.9L456.5 373.7L457.4 373.7L458.3 373.7L459.2 373.9L460.1 374.1L461.0 374.2L461.9 374.2L462.8 374.1L463.7 373.9L464.6 373.7L465.5 373.6L466.4 373.5L467.3 373.5L468.2 373.6L469.1 373.6L470.0 373.7L470.9 373.7L471.8 373.7L472.7 373.7L473.6 373.8L474.5 373.8L475.4 373.8L476.3 373.7L477.2 373.5L478.1 373.3L479.0 373.2L479.9 373.1L480.8 373.3L481.7 373.5L482.6 373.7L483.5 374.0L484.4 374.2L485.3 374.4L486.2 374.6L487.1 374.6L488.0 374.5L488.9 374.4L489.8 374.3L490.7 374.2L491.6 374.1L492.5 374.0L493.4 373.9L494.3 373.9L495.2 373.9L496.1 374.0L497.0 374.2L497.9 374.3L498.8 374.2L499.7 374.0L500.6 373.8L501.5 373.7L502.4 373.5L503.3 373.4L504.2 373.2L505.1 373.0L506.0 372.9L506.9 372.8L507.7 373.0L508.6 373.2L509.5 373.5L510.4 373.8L511.3 373.9L512.2 374.0L513.1 374.0L514.0 374.1L514.9 374.1L515.8 374.1L516.7 374.0L517.6 374.0L518.5 373.9L519.4 373.9L520.3 374.0L521.2 374.1L522.1 374.2L523.0 374.2L523.9 374.0L524.8 373.9L525.7 373.8L526.6 373.7L527.5 373.7L528.4 373.7L529.3 373.8L530.2 373.9L531.1 374.0L532.0 374.1L532.9 374.0L533.8 373.9L534.7 373.9L535.6 373.9L536.5 373.9L537.4 373.9L538.3 373.9L539.2 373.8L540.1 373.8L540.1 382.6L539.2 382.6L538.3 382.5L537.4 382.5L536.5 382.5L535.6 382.5L534.7 382.5L533.8 382.5L532.9 382.4L532.0 382.3L531.1 382.4L530.2 382.5L529.3 382.6L528.4 382.7L527.5 382.7L526.6 382.7L525.7 382.6L524.8 382.5L523.9 382.4L523.0 382.2L522.1 382.2L521.2 382.3L520.3 382.4L519.4 382.5L518.5 382.5L517.6 382.4L516.7 382.4L515.8 382.3L514.9 382.3L514.0 382.3L513.1 382.4L512.2 382.4L511.3 382.5L510.4 382.6L509.5 382.9L508.6 383.2L507.7 383.4L506.9 383.6L506.0 383.5L505.1 383.4L504.2 383.2L503.3 383.0L502.4 382.9L501.5 382.7L500.6 382.6L499.7 382.4L498.8 382.2L497.9 382.1L497.0 382.2L496.1 382.4L495.2 382.5L494.3 382.5L493.4 382.5L492.5 382.4L491.6 382.3L490.7 382.2L489.8 382.1L488.9 382.0L488.0 381.9L487.1 381.8L486.2 381.8L485.3 382.0L484.4 382.2L483.5 382.4L482.6 382.7L481.7 382.9L480.8 383.1L479.9 383.3L479.0 383.2L478.1 383.1L477.2 382.9L476.3 382.7L475.4 382.6L474.5 382.6L473.6 382.6L472.7 382.7L471.8 382.7L470.9 382.7L470.0 382.7L469.1 382.8L468.2 382.8L467.3 382.9L466.4 382.9L465.5 382.8L464.6 382.7L463.7 382.5L462.8 382.3L461.9 382.2L461.0 382.2L460.1 382.3L459.2 382.5L458.3 382.7L457.4 382.7L456.5 382.7L455.6 382.5L454.7 382.5L453.8 382.6L452.9 382.8L452.0 383.0L451.1 383.0L450.2 383.0L449.3 382.8L448.4 382.6L447.5 382.4L446.6 382.4L445.7 382.3L444.8 382.3L443.9 382.3L443.0 382.4L442.2 382.6L441.3 382.7L440.4 382.8L439.5 382.8L438.6 382.8L437.7 382.9L436.8 382.9L435.9 383.0L435.0 383.0L434.1 383.0L433.2 382.8L432.3 382.6L431.4 382.5L430.5 382.5L429.6 382.5L428.7 382.6L427.8 382.7L426.9 382.7L426.0 382.7L425.1 382.7L424.2 382.8L423.3 382.7L422.4 382.6L421.5 382.5L420.6 382.4L419.7 382.3L418.8 382.4L417.9 382.5L417.0 382.7L416.1 382.7L415.2 382.7L414.3 382.6L413.4 382.5L412.5 382.4L411.6 382.4L410.7 382.3L409.8 382.4Z" fill="#008000" fill-opacity="0.3"/><path d="M558.6 373.6L559.5 373.4L560.4 373.4L561.3 373.4L562.2 373.6L563.1 373.7L564.0 373.8L564.9 373.9L565.8 373.8L566.7 373.7L567.5 373.5L568.4 373.3L569.3 373.2L570.2 373.2L571.1 373.4L572.0 373.7L572.9 373.9L573.8 374.1L574.7 374.2L575.6 374.2L576.5 374.1L576.5 382.3L575.6 382.2L574.7 382.2L573.8 382.3L572.9 382.5L572.0 382.7L571.1 383.0L570.2 383.2L569.3 383.2L568.4 383.1L567.5 382.9L566.7 382.7L565.8 382.6L564.9 382.5L564.0 382.6L563.1 382.7L562.2 382.8L561.3 383.0L560.4 383.0L559.5 383.0L558.6 382.8Z" fill="#008000" fill-opacity="0.3"/><path d="M589.4 373.8L590.3 373.7L591.2 373.6L592.1 373.4L593.0 373.4L593.9 373.5L594.8 373.6L595.7 373.7L596.6 373.7L597.5 373.7L598.4 373.7L599.3 373.6L600.2 373.6L601.1 373.7L602.0 373.8L602.9 374.0L603.8 374.1L604.7 374.0L605.6 373.9L606.5 373.7L607.4 373.5L608.3 373.5L609.2 373.6L610.1 373.8L611.0 374.1L611.9 374.3L612.8 374.4L613.7 374.4L614.6 374.3L615.5 374.0L616.4 373.8L617.3 373.5L618.2 373.4L619.1 373.5L620.0 373.6L620.9 373.7L621.8 373.7L622.7 373.7L623.6 373.5L624.5 373.3L625.4 373.2L626.3 373.1L627.2 373.2L628.1 373.3L629.0 373.5L629.9 373.7L630.8 373.9L631.7 374.1L632.6 374.3L633.5 374.4L634.4 374.4L635.3 374.3L636.2 374.3L637.2 374.3L638.1 374.3L639.0 374.3L639.9 374.2L640.8 374.0L641.7 373.8L642.6 373.8L643.5 373.8L644.4 373.9L645.3 374.1L646.2 374.2L647.1 374.2L648.0 374.1L648.9 374.0L649.8 374.0L650.7 374.0L651.6 374.0L652.5 373.9L653.4 373.9L654.3 373.9L655.2 373.9L656.1 373.9L657.0 374.1L657.9 374.2L658.8 374.2L659.7 374.2L660.6 374.2L661.5 374.1L662.4 374.1L663.3 374.2L664.2 374.2L665.1 374.2L666.0 374.2L666.9 374.2L667.8 374.3L668.7 374.2L669.6 374.1L670.5 373.9L671.4 373.7L672.3 373.6L673.2 373.6L674.1 373.7L675.0 373.8L675.9 373.8L676.8 373.6L677.7 373.5L678.6 373.4L679.5 373.4L680.4 373.5L681.3 373.6L682.2 373.7L683.1 373.8L684.0 373.9L684.0 382.5L683.1 382.6L682.2 382.7L681.3 382.8L680.4 382.9L679.5 383.0L678.6 383.0L677.7 382.9L676.8 382.8L675.9 382.6L675.0 382.6L674.1 382.7L673.2 382.8L672.3 382.8L671.4 382.7L670.5 382.5L669.6 382.3L668.7 382.2L667.8 382.1L666.9 382.2L666.0 382.2L665.1 382.2L664.2 382.2L663.3 382.2L662.4 382.3L661.5 382.3L660.6 382.2L659.7 382.2L658.8 382.2L657.9 382.2L657.0 382.3L656.1 382.5L655.2 382.5L654.3 382.5L653.4 382.5L652.5 382.5L651.6 382.4L650.7 382.4L649.8 382.4L648.9 382.4L648.0 382.3L647.1 382.2L646.2 382.2L645.3 382.3L644.4 382.5L643.5 382.6L642.6 382.6L641.7 382.6L640.8 382.4L639.9 382.2L639.0 382.1L638.1 382.1L637.2 382.1L636.2 382.1L635.3 382.1L634.4 382.0L633.5 382.0L632.6 382.1L631.7 382.3L630.8 382.5L629.9 382.7L629.0 382.9L628.1 383.1L627.2 383.2L626.3 383.3L625.4 383.2L624.5 383.1L623.6 382.9L622.7 382.7L621.8 382.7L620.9 382.7L620.0 382.8L619.1 382.9L618.2 383.0L617.3 382.9L616.4 382.6L615.5 382.4L614.6 382.1L613.7 382.0L612.8 382.0L611.9 382.1L611.0 382.3L610.1 382.6L609.2 382.8L608.3 382.9L607.4 382.9L606.5 382.7L605.6 382.5L604.7 382.4L603.8 382.3L602.9 382.4L602.0 382.6L601.1 382.7L600.2 382.8L599.3 382.8L598.4 382.7L597.5 382.7L596.6 382.7L595.7 382.7L594.8 382.8L593.9 382.9L593.0 383.0L592.1 383.0L591.2 382.8L590.3 382.7L589.4 382.6Z" fill="#008000" fill-opacity="0.3"/><path d="M410.4 393.0L411.3 393.0L412.2 393.1L413.1 393.2L414.0 393.4L414.9 393.5L415.8 393.5L416.7 393.5L417.6 393.5L418.6 393.4L419.5 393.3L420.4 393.2L421.3 393.1L422.2 392.9L423.1 392.8L424.0 392.9L424.9 392.9L425.8 393.0L426.7 393.1L427.6 393.2L428.5 393.3L429.4 393.3L430.3 393.3L431.2 393.2L432.1 393.1L433.0 392.9L433.9 392.7L434.9 392.5L435.8 392.4L436.7 392.3L437.6 392.2L438.5 392.3L439.4 392.5L440.3 392.7L441.2 393.0L442.1 393.4L443.0 393.6L443.9 393.7L444.8 393.5L445.7 393.3L446.6 393.2L447.5 393.0L448.4 393.0L449.3 393.1L450.2 393.2L451.2 393.3L452.1 393.2L453.0 393.1L453.9 393.1L454.8 393.0L455.7 393.1L456.6 393.3L457.5 393.5L458.4 393.6L459.3 393.5L460.2 393.2L461.1 392.9L462.0 392.5L462.9 392.3L463.8 392.3L464.7 392.5L465.6 392.9L466.5 393.3L467.5 393.6L468.4 393.8L469.3 393.9L470.2 393.8L471.1 393.8L472.0 393.7L472.9 393.7L473.8 393.7L474.7 393.6L475.6 393.5L476.5 393.4L477.4 393.4L478.3 393.4L479.2 393.5L480.1 393.7L481.0 393.7L481.9 393.7L482.8 393.7L483.8 393.5L484.7 393.4L485.6 393.3L486.5 393.4L487.4 393.5L488.3 393.6L489.2 393.6L490.1 393.5L491.0 393.3L491.9 393.1L492.8 392.9L493.7 393.0L494.6 393.2L495.5 393.4L496.4 393.5L497.3 393.5L498.2 393.5L499.1 393.4L500.1 393.2L501.0 393.1L501.9 392.9L502.8 392.7L503.7 392.6L504.6 392.7L505.5 393.0L506.4 393.2L507.3 393.5L507.3 404.1L506.4 404.3L505.5 404.6L504.6 404.8L503.7 404.9L502.8 404.8L501.9 404.7L501.0 404.5L500.1 404.3L499.1 404.2L498.2 404.1L497.3 404.1L496.4 404.1L495.5 404.2L494.6 404.4L493.7 404.6L492.8 404.6L491.9 404.5L491.0 404.3L490.1 404.0L489.2 403.9L488.3 404.0L487.4 404.1L486.5 404.2L485.6 404.2L484.7 404.2L483.8 404.0L482.8 403.9L481.9 403.8L481.0 403.8L480.1 403.9L479.2 404.0L478.3 404.2L477.4 404.2L476.5 404.1L475.6 404.0L474.7 403.9L473.8 403.9L472.9 403.9L472.0 403.8L471.1 403.8L470.2 403.7L469.3 403.7L468.4 403.7L467.5 404.0L466.5 404.3L465.6 404.7L464.7 405.0L463.8 405.3L462.9 405.3L462.0 405.1L461.1 404.7L460.2 404.3L459.3 404.1L458.4 404.0L457.5 404.0L456.6 404.2L455.7 404.4L454.8 404.5L453.9 404.5L453.0 404.4L452.1 404.3L451.2 404.3L450.2 404.4L449.3 404.5L448.4 404.5L447.5 404.5L446.6 404.4L445.7 404.2L444.8 404.0L443.9 403.9L443.0 404.0L442.1 404.2L441.2 404.5L440.3 404.8L439.4 405.1L438.5 405.3L437.6 405.3L436.7 405.3L435.8 405.2L434.9 405.0L433.9 404.9L433.0 404.7L432.1 404.5L431.2 404.3L430.3 404.3L429.4 404.3L428.5 404.3L427.6 404.4L426.7 404.4L425.8 404.5L424.9 404.6L424.0 404.7L423.1 404.7L422.2 404.6L421.3 404.5L420.4 404.3L419.5 404.2L418.6 404.2L417.6 404.1L416.7 404.0L415.8 404.0L414.9 404.1L414.0 404.2L413.1 404.3L412.2 404.5L411.3 404.5L410.4 404.5Z" fill="#1e90ff" fill-opacity="0.3"/><path d="M525.6 393.2L526.5 393.1L527.4 393.2L528.3 393.4L529.2 393.5L530.1 393.6L531.0 393.5L531.9 393.4L532.8 393.3L533.7 393.4L534.6 393.7L535.5 393.9L536.4 394.1L537.3 394.1L538.2 393.9L539.1 393.6L540.0 393.3L540.9 393.1L541.8 393.1L542.7 393.1L543.6 393.1L544.5 393.1L545.4 392.9L546.3 392.8L547.2 392.7L548.1 392.7L549.0 392.7L549.9 392.8L550.9 392.8L551.8 392.8L552.7 392.9L553.6 393.0L554.5 393.1L555.4 393.3L556.3 393.3L557.2 393.4L558.1 393.5L559.0 393.5L559.9 393.6L560.8 393.6L561.7 393.5L562.6 393.5L563.5 393.5L564.4 393.6L565.3 393.6L566.2 393.7L567.1 393.7L568.0 393.6L568.9 393.5L569.8 393.4L570.7 393.3L571.6 393.1L572.5 392.8L573.4 392.6L574.3 392.5L575.2 392.5L575.2 405.0L574.3 405.0L573.4 405.0L572.5 404.8L571.6 404.5L570.7 404.3L569.8 404.1L568.9 404.0L568.0 404.0L567.1 403.9L566.2 403.9L565.3 403.9L564.4 404.0L563.5 404.0L562.6 404.0L561.7 404.0L560.8 404.0L559.9 404.0L559.0 404.1L558.1 404.1L557.2 404.2L556.3 404.2L555.4 404.3L554.5 404.4L553.6 404.6L552.7 404.7L551.8 404.8L550.9 404.8L549.9 404.8L549.0 404.8L548.1 404.9L547.2 404.9L546.3 404.8L545.4 404.6L544.5 404.5L543.6 404.5L542.7 404.5L541.8 404.4L540.9 404.4L540.0 404.3L539.1 404.0L538.2 403.7L537.3 403.5L536.4 403.5L535.5 403.6L534.6 403.9L533.7 404.1L532.8 404.2L531.9 404.2L531.0 404.0L530.1 404.0L529.2 404.0L528.3 404.2L527.4 404.4L526.5 404.5L525.6 404.4Z" fill="#1e90ff" fill-opacity="0.3"/><path d="M586.6 393.0L587.5 393.2L588.4 393.4L589.3 393.5L590.2 393.5L591.1 393.4L592.0 393.4L592.9 393.4L593.8 393.4L594.7 393.3L595.6 393.1L596.5 392.9L597.4 392.8L598.3 392.9L599.2 393.1L600.1 393.4L601.0 393.5L601.9 393.5L602.8 393.3L603.7 393.1L604.6 392.9L605.5 392.9L606.4 392.9L607.3 393.0L608.2 392.9L609.1 392.9L610.0 392.8L611.0 392.7L611.9 392.7L612.8 392.8L613.7 393.1L614.6 393.4L615.5 393.7L616.4 393.8L617.3 393.8L618.2 393.6L619.1 393.3L620.0 393.1L620.9 392.9L621.8 392.7L622.7 392.5L623.6 392.3L624.5 392.3L625.4 392.3L626.3 392.4L627.2 392.6L628.1 392.8L629.0 393.0L629.9 393.1L630.8 393.3L631.7 393.4L632.6 393.5L633.5 393.5L634.4 393.5L635.3 393.4L636.2 393.2L637.1 393.0L638.0 392.8L638.9 392.8L639.8 392.8L640.7 392.9L641.6 393.0L642.5 393.2L643.4 393.3L644.3 393.5L645.2 393.6L646.1 393.5L647.0 393.3L647.9 393.1L648.8 392.9L649.7 392.9L650.6 392.9L651.5 392.9L652.4 393.0L653.3 393.1L654.2 393.1L655.1 393.2L656.0 393.3L656.9 393.5L657.8 393.6L658.7 393.6L659.6 393.6L660.6 393.4L661.5 393.1L662.4 392.8L663.3 392.6L664.2 392.5L665.1 392.4L666.0 392.5L666.9 392.5L667.8 392.7L668.7 392.9L669.6 393.2L670.5 393.4L671.4 393.6L672.3 393.7L673.2 393.8L674.1 393.9L675.0 393.9L675.9 393.8L676.8 393.6L677.7 393.3L678.6 393.1L679.5 393.1L680.4 393.2L681.3 393.5L682.2 393.6L683.1 393.6L684.0 393.4L684.0 404.2L683.1 404.0L682.2 403.9L681.3 404.1L680.4 404.3L679.5 404.5L678.6 404.4L677.7 404.2L676.8 403.9L675.9 403.7L675.0 403.6L674.1 403.7L673.2 403.8L672.3 403.8L671.4 403.9L670.5 404.1L669.6 404.4L668.7 404.7L667.8 404.9L666.9 405.0L666.0 405.1L665.1 405.1L664.2 405.1L663.3 405.0L662.4 404.8L661.5 404.4L660.6 404.1L659.6 404.0L658.7 403.9L657.8 404.0L656.9 404.1L656.0 404.2L655.1 404.3L654.2 404.4L653.3 404.5L652.4 404.6L651.5 404.6L650.6 404.7L649.7 404.7L648.8 404.6L647.9 404.5L647.0 404.2L646.1 404.1L645.2 404.0L644.3 404.1L643.4 404.2L642.5 404.4L641.6 404.6L640.7 404.7L639.8 404.8L638.9 404.8L638.0 404.7L637.1 404.6L636.2 404.4L635.3 404.2L634.4 404.0L633.5 404.0L632.6 404.1L631.7 404.2L630.8 404.3L629.9 404.4L629.0 404.6L628.1 404.8L627.2 405.0L626.3 405.1L625.4 405.3L624.5 405.3L623.6 405.2L622.7 405.0L621.8 404.9L620.9 404.7L620.0 404.5L619.1 404.3L618.2 404.0L617.3 403.8L616.4 403.7L615.5 403.8L614.6 404.1L613.7 404.5L612.8 404.8L611.9 404.9L611.0 404.9L610.0 404.8L609.1 404.7L608.2 404.6L607.3 404.6L606.4 404.7L605.5 404.7L604.6 404.6L603.7 404.5L602.8 404.2L601.9 404.1L601.0 404.1L600.1 404.2L599.2 404.4L598.3 404.7L597.4 404.7L596.5 404.7L595.6 404.5L594.7 404.3L593.8 404.2L592.9 404.2L592.0 404.2L591.1 404.2L590.2 404.1L589.3 404.0L588.4 404.1L587.5 404.3L586.6 404.6Z" fill="#1e90ff" fill-opacity="0.3"/><path d="M405.5 354.5L406.4 359.2L407.3 365.0L408.2 347.1L409.1 351.4L410.0 353.7L410.9 353.0L411.8 356.4L412.7 358.6L413.6 356.2L414.5 356.4L415.4 358.8L416.3 362.9L417.2 358.8L418.1 355.6L419.1 360.3L420.0 358.2L420.9 366.8L421.8 359.0L422.7 358.6L423.6 363.2L424.5 365.5L425.4 357.1L426.3 362.6L427.2 357.7L428.1 361.7L429.0 357.5L429.9 361.2L430.8 365.4L431.7 358.7L432.6 358.6L433.5 353.4L434.4 357.0L435.3 356.1L436.2 350.7L437.1 349.5L438.0 351.6L438.9 351.1L439.8 354.2L440.7 353.6L441.6 353.7L442.5 356.1L443.4 357.8L444.3 357.6L445.3 348.4L446.2 358.4L447.1 359.6L448.0 360.4L448.9 359.1L449.8 357.9L450.7 363.3L451.6 366.3L452.5 356.3L453.4 363.5L454.3 355.3L455.2 355.6L456.1 351.5L457.0 349.6L457.9 355.4L458.8 359.6L459.7 362.5L460.6 361.2L461.5 357.9L462.4 366.5L463.3 357.5L464.2 357.6L465.1 354.7L466.0 358.6L466.9 356.8L467.8 360.3L468.7 359.3L469.6 364.7L470.6 357.0L471.5 351.3L472.4 357.2L473.3 356.6L474.2 362.4L475.1 352.7L476.0 361.9L476.9 355.6L477.8 358.5L478.7 363.0L479.6 355.0L480.5 359.3L481.4 358.8L482.3 357.6L483.2 359.4L484.1 360.5L485.0 356.6L485.9 359.6L486.8 357.0L487.7 359.5L488.6 362.3L489.5 358.5L490.4 357.5L491.3 355.3L492.2 350.6L493.1 362.7L494.0 355.5L494.9 365.6L495.8 361.3L496.8 359.6L497.7 367.3L498.6 366.1L499.5 358.3L500.4 358.9L501.3 359.9L502.2 363.0L503.1 351.0L504.0 360.8L504.9 363.8L505.8 353.5L506.7 358.0L507.6 361.9L508.5 355.2L509.4 359.0L510.3 356.4L511.2 357.5L512.1 362.3L513.0 353.7L513.9 356.9L514.8 361.8L515.7 361.0L516.6 354.1L517.5 359.7L518.4 358.1L519.3 355.6L520.2 357.5L521.1 364.0L522.0 354.7L523.0 353.3L523.9 353.5L524.8 350.3L525.7 355.4L526.6 353.7L527.5 350.3L528.4 358.1L529.3 349.8L530.2 350.0L531.1 354.2L532.0 350.1L532.9 354.4L533.8 361.6L534.7 353.3L535.6 356.5" stroke="#ff0000" stroke-width="1.75" fill="none" stroke-linejoin="round"/><path d="M554.4 358.5L555.3 354.3L556.2 357.0L557.1 365.0L558.0 359.4L558.9 358.7L559.7 354.5L560.6 360.0L561.5 357.9L562.4 359.6L563.3 355.3L564.2 354.3L565.1 350.3L566.0 351.1L566.9 354.3L567.8 354.7L568.6 356.1L569.5 356.8L570.4 351.5L571.3 368.5L572.2 359.1" stroke="#ff0000" stroke-width="1.75" fill="none" stroke-linejoin="round"/><path d="M584.7 358.5L585.6 354.6L586.5 367.0L587.4 359.8L588.3 357.1L589.2 362.2L590.1 365.0L591.0 353.2L591.9 354.4L592.8 360.4L593.7 353.0L594.6 352.0L595.5 361.0L596.4 344.5L597.3 358.9L598.2 355.9L599.1 359.5L600.0 355.1L600.9 361.5L601.9 356.9L602.8 353.1L603.7 357.3L604.6 359.8L605.5 352.8L606.4 363.0L607.3 355.4L608.2 360.4L609.1 358.1L610.0 358.6L610.9 358.0L611.8 358.8L612.7 361.9L613.6 361.4L614.5 357.6L615.4 360.3L616.3 364.8L617.2 363.0L618.1 362.9L619.0 360.0L619.9 358.6L620.8 358.5L621.7 361.2L622.6 358.1L623.5 363.7L624.4 369.9L625.3 358.3L626.2 365.0L627.1 362.2L628.0 363.2L628.9 355.5L629.8 362.8L630.7 356.5L631.6 359.4L632.5 362.3L633.4 363.5L634.4 355.0L635.3 355.3L636.2 353.7L637.1 349.3L638.0 355.7L638.9 355.8L639.8 357.6L640.7 356.8L641.6 358.9L642.5 361.4L643.4 349.8L644.3 366.1L645.2 357.7L646.1 357.2L647.0 358.7L647.9 363.6L648.8 360.8L649.7 362.1L650.6 364.7L651.5 360.3L652.4 361.3L653.3 361.1L654.2 355.0L655.1 361.1L656.0 354.1L656.9 357.7L657.8 353.1L658.7 354.5L659.6 354.1L660.5 359.7L661.4 359.6L662.3 360.5L663.2 356.7L664.1 354.6L665.0 353.3L665.9 360.0L666.8 357.8L667.8 365.1L668.7 367.8L669.6 362.3L670.5 361.4L671.4 364.8L672.3 365.5L673.2 355.8L674.1 361.1L675.0 364.6L675.9 348.1L676.8 357.0L677.7 359.4L678.6 355.8L679.5 362.2L680.4 352.9L681.3 366.0L682.2 365.0L683.1 360.3L684.0 362.9" stroke="#ff0000" stroke-width="1.75" fill="none" stroke-linejoin="round"/><path d="M409.8 372.2L410.7 380.8L411.6 380.9L412.5 384.1L413.4 374.7L414.3 377.5L415.2 376.5L416.1 377.5L417.0 378.6L417.9 381.1L418.8 381.4L419.7 377.2L420.6 378.7L421.5 373.4L422.4 382.5L423.3 381.7L424.2 383.8L425.1 374.7L426.0 384.3L426.9 376.7L427.8 374.2L428.7 380.0L429.6 376.8L430.5 387.4L431.4 380.8L432.3 385.2L433.2 378.0L434.1 378.1L435.0 380.5L435.9 373.8L436.8 375.9L437.7 379.3L438.6 379.7L439.5 383.8L440.4 379.4L441.3 370.9L442.2 381.3L443.0 376.6L443.9 379.5L444.8 373.6L445.7 374.1L446.6 375.9L447.5 381.1L448.4 376.2L449.3 370.1L450.2 376.1L451.1 373.6L452.0 378.6L452.9 384.5L453.8 376.5L454.7 377.4L455.6 381.2L456.5 380.6L457.4 378.2L458.3 381.4L459.2 377.8L460.1 379.8L461.0 387.8L461.9 379.8L462.8 381.7L463.7 382.9L464.6 378.6L465.5 382.2L466.4 378.5L467.3 376.6L468.2 380.2L469.1 386.4L470.0 383.0L470.9 376.6L471.8 380.7L472.7 382.4L473.6 379.5L474.5 377.1L475.4 377.9L476.3 376.5L477.2 382.1L478.1 380.2L479.0 380.4L479.9 380.0L480.8 388.1L481.7 381.5L482.6 385.6L483.5 375.4L484.4 374.5L485.3 373.7L486.2 376.6L487.1 380.9L488.0 375.1L488.9 379.1L489.8 375.9L490.7 381.4L491.6 380.2L492.5 376.4L493.4 371.6L494.3 378.3L495.2 369.7L496.1 367.7L497.0 382.5L497.9 377.7L498.8 381.0L499.7 377.8L500.6 379.3L501.5 377.6L502.4 373.8L503.3 373.9L504.2 376.5L505.1 377.5L506.0 377.1L506.9 377.2L507.7 375.6L508.6 377.9L509.5 376.1L510.4 382.9L511.3 375.1L512.2 371.4L513.1 377.2L514.0 383.0L514.9 372.5L515.8 378.7L516.7 388.6L517.6 378.4L518.5 375.5L519.4 376.5L520.3 373.5L521.2 376.0L522.1 378.0L523.0 386.0L523.9 383.0L524.8 378.4L525.7 376.9L526.6 383.7L527.5 382.5L528.4 378.8L529.3 388.0L530.2 388.2L531.1 381.5L532.0 379.3L532.9 381.4L533.8 387.4L534.7 378.0L535.6 382.4L536.5 374.6L537.4 377.1L538.3 375.7L539.2 374.3L540.1 378.9" stroke="#008000" stroke-width="1.75" fill="none" stroke-linejoin="round"/><path d="M558.6 378.4L559.5 371.6L560.4 382.1L561.3 380.1L562.2 381.2L563.1 381.1L564.0 383.2L564.9 382.6L565.8 381.2L566.7 382.9L567.5 378.9L568.4 381.6L569.3 381.3L570.2 375.7L571.1 379.9L572.0 380.5L572.9 381.1L573.8 380.6L574.7 378.5L575.6 383.1L576.5 375.4" stroke="#008000" stroke-width="1.75" fill="none" stroke-linejoin="round"/><path d="M589.4 375.1L590.3 377.2L591.2 377.7L592.1 376.4L593.0 384.0L593.9 379.5L594.8 382.6L595.7 376.3L596.6 377.1L597.5 384.0L598.4 375.2L599.3 384.6L600.2 375.9L601.1 379.5L602.0 383.5L602.9 384.4L603.8 381.4L604.7 380.4L605.6 382.8L606.5 377.8L607.4 384.8L608.3 379.4L609.2 379.1L610.1 385.9L611.0 377.8L611.9 383.7L612.8 388.6L613.7 382.1L614.6 381.2L615.5 377.7L616.4 383.5L617.3 376.8L618.2 377.2L619.1 378.6L620.0 377.7L620.9 381.1L621.8 384.1L622.7 379.3L623.6 377.7L624.5 380.1L625.4 381.6L626.3 386.2L627.2 377.5L628.1 378.4L629.0 384.2L629.9 378.7L630.8 376.1L631.7 378.9L632.6 375.4L633.5 375.5L634.4 383.8L635.3 379.7L636.2 377.0L637.2 375.6L638.1 373.8L639.0 386.1L639.9 379.0L640.8 375.9L641.7 374.0L642.6 372.3L643.5 382.3L644.4 380.6L645.3 383.7L646.2 377.2L647.1 385.6L648.0 376.6L648.9 377.6L649.8 379.1L650.7 388.7L651.6 382.8L652.5 377.1L653.4 384.8L654.3 380.1L655.2 379.4L656.1 375.6L657.0 377.8L657.9 377.9L658.8 380.8L659.7 379.4L660.6 380.2L661.5 377.3L662.4 381.0L663.3 376.7L664.2 387.1L665.1 376.3L666.0 381.5L666.9 376.6L667.8 380.4L668.7 377.7L669.6 375.4L670.5 383.2L671.4 381.0L672.3 382.1L673.2 380.6L674.1 387.3L675.0 381.6L675.9 381.3L676.8 382.6L677.7 379.5L678.6 383.8L679.5 372.1L680.4 375.2L681.3 369.5L682.2 379.6L683.1 380.5L684.0 375.1" stroke="#008000" stroke-width="1.75" fill="none" stroke-linejoin="round"/><path d="M410.4 400.4L411.3 413.8L412.2 392.2L413.1 399.0L414.0 399.3L414.9 406.2L415.8 408.3L416.7 402.9L417.6 401.2L418.6 405.1L419.5 400.2L420.4 397.8L421.3 398.6L422.2 407.5L423.1 413.5L424.0 402.0L424.9 405.1L425.8 398.7L426.7 391.6L427.6 390.8L428.5 397.2L429.4 392.4L430.3 389.4L431.2 398.0L432.1 397.3L433.0 394.7L433.9 399.9L434.9 402.9L435.8 404.7L436.7 401.0L437.6 404.4L438.5 396.9L439.4 402.5L440.3 392.5L441.2 393.2L442.1 405.4L443.0 392.5L443.9 399.9L444.8 390.4L445.7 395.0L446.6 398.0L447.5 394.5L448.4 401.2L449.3 396.8L450.2 396.7L451.2 399.6L452.1 396.8L453.0 404.0L453.9 395.7L454.8 404.7L455.7 394.9L456.6 395.7L457.5 394.5L458.4 401.3L459.3 382.6L460.2 399.8L461.1 398.2L462.0 403.4L462.9 392.4L463.8 402.7L464.7 395.5L465.6 406.0L466.5 399.8L467.5 403.6L468.4 396.9L469.3 403.3L470.2 406.2L471.1 399.3L472.0 407.8L472.9 406.6L473.8 397.5L474.7 411.1L475.6 397.0L476.5 402.4L477.4 404.2L478.3 397.3L479.2 394.5L480.1 400.0L481.0 397.1L481.9 391.5L482.8 391.4L483.8 395.6L484.7 399.5L485.6 400.8L486.5 399.6L487.4 393.8L488.3 395.4L489.2 397.8L490.1 393.1L491.0 403.0L491.9 404.4L492.8 405.3L493.7 393.7L494.6 414.3L495.5 401.8L496.4 400.5L497.3 401.8L498.2 389.3L499.1 394.7L500.1 396.4L501.0 404.8L501.9 397.3L502.8 401.7L503.7 399.5L504.6 398.9L505.5 402.7L506.4 397.1L507.3 391.8" stroke="#1e90ff" stroke-width="1.75" fill="none" stroke-linejoin="round"/><path d="M525.6 407.2L526.5 405.3L527.4 403.2L528.3 394.9L529.2 401.0L530.1 402.9L531.0 394.9L531.9 395.0L532.8 401.3L533.7 400.2L534.6 393.2L535.5 394.5L536.4 400.8L537.3 395.5L538.2 397.1L539.1 391.2L540.0 401.4L540.9 391.6L541.8 392.9L542.7 399.4L543.6 387.8L544.5 388.0L545.4 399.5L546.3 382.8L547.2 400.0L548.1 399.7L549.0 397.1L549.9 390.2L550.9 384.8L551.8 380.9L552.7 376.3L553.6 390.4L554.5 389.7L555.4 383.2L556.3 397.2L557.2 412.2L558.1 401.7L559.0 405.6L559.9 399.9L560.8 399.9L561.7 406.7L562.6 405.9L563.5 400.8L564.4 400.1L565.3 412.6L566.2 393.8L567.1 398.9L568.0 399.2L568.9 397.6L569.8 404.6L570.7 399.4L571.6 393.4L572.5 392.6L573.4 395.1L574.3 398.3L575.2 400.6" stroke="#1e90ff" stroke-width="1.75" fill="none" stroke-linejoin="round"/><path d="M586.6 395.6L587.5 399.8L588.4 403.0L589.3 393.9L590.2 392.3L591.1 404.3L592.0 393.0L592.9 396.2L593.8 392.4L594.7 395.7L595.6 391.3L596.5 392.0L597.4 393.1L598.3 405.8L599.2 394.0L600.1 398.4L601.0 405.0L601.9 395.2L602.8 406.7L603.7 394.6L604.6 390.5L605.5 402.7L606.4 395.2L607.3 397.9L608.2 396.9L609.1 407.9L610.0 397.2L611.0 399.7L611.9 396.3L612.8 400.1L613.7 393.9L614.6 398.0L615.5 395.2L616.4 390.9L617.3 396.8L618.2 391.8L619.1 395.5L620.0 393.4L620.9 398.6L621.8 391.2L622.7 388.4L623.6 395.3L624.5 390.3L625.4 392.0L626.3 400.1L627.2 392.0L628.1 386.6L629.0 396.3L629.9 403.4L630.8 392.7L631.7 397.4L632.6 383.8L633.5 394.5L634.4 394.5L635.3 398.1L636.2 393.7L637.1 398.5L638.0 400.7L638.9 396.7L639.8 401.3L640.7 390.3L641.6 404.2L642.5 398.8L643.4 402.5L644.3 406.5L645.2 390.2L646.1 410.5L647.0 391.1L647.9 406.4L648.8 398.2L649.7 386.4L650.6 410.1L651.5 406.1L652.4 391.8L653.3 398.1L654.2 402.2L655.1 399.7L656.0 404.8L656.9 398.9L657.8 391.2L658.7 400.9L659.6 397.6L660.6 391.5L661.5 387.0L662.4 400.5L663.3 395.5L664.2 399.9L665.1 400.3L666.0 398.9L666.9 400.2L667.8 406.2L668.7 407.7L669.6 401.1L670.5 396.7L671.4 391.0L672.3 400.7L673.2 399.2L674.1 395.3L675.0 395.4L675.9 400.4L676.8 400.5L677.7 390.3L678.6 402.2L679.5 402.8L680.4 408.6L681.3 397.0L682.2 400.2L683.1 388.0L684.0 399.6" stroke="#1e90ff" stroke-width="1.75" fill="none" stroke-linejoin="round"/></g><path d="M413.54 343.90L413.54 339.10M413.54 224.70L413.54 229.50M458.62 343.90L458.62 339.10M458.62 224.70L458.62 229.50M503.69 343.90L503.69 339.10M503.69 224.70L503.69 229.50M548.77 343.90L548.77 339.10M548.77 224.70L548.77 229.50M593.85 343.90L593.85 339.10M593.85 224.70L593.85 229.50M638.92 343.90L638.92 339.10M638.92 224.70L638.92 229.50M684.00 343.90L684.00 339.10M684.00 224.70L684.00 229.50M391.00 330.90L395.80 330.90M684.00 330.90L679.20 330.90M391.00 304.25L395.80 304.25M684.00 304.25L679.20 304.25M391.00 277.60L395.80 277.60M684.00 277.60L679.20 277.60M391.00 250.95L395.80 250.95M684.00 250.95L679.20 250.95M391.00 343.90L391.00 341.40M391.00 224.70L391.00 227.20M395.51 343.90L395.51 341.40M395.51 224.70L395.51 227.20M400.02 343.90L400.02 341.40M400.02 224.70L400.02 227.20M404.52 343.90L404.52 341.40M404.52 224.70L404.52 227.20M409.03 343.90L409.03 341.40M409.03 224.70L409.03 227.20M418.05 343.90L418.05 341.40M418.05 224.70L418.05 227.20M422.55 343.90L422.55 341.40M422.55 224.70L422.55 227.20M427.06 343.90L427.06 341.40M427.06 224.70L427.06 227.20M431.57 343.90L431.57 341.40M431.57 224.70L431.57 227.20M436.08 343.90L436.08 341.40M436.08 224.70L436.08 227.20M440.58 343.90L440.58 341.40M440.58 224.70L440.58 227.20M445.09 343.90L445.09 341.40M445.09 224.70L445.09 227.20M449.60 343.90L449.60 341.40M449.60 224.70L449.60 227.20M454.11 343.90L454.11 341.40M454.11 224.70L454.11 227.20M463.12 343.90L463.12 341.40M463.12 224.70L463.12 227.20M467.63 343.90L467.63 341.40M467.63 224.70L467.63 227.20M472.14 343.90L472.14 341.40M472.14 224.70L472.14 227.20M476.65 343.90L476.65 341.40M476.65 224.70L476.65 227.20M481.15 343.90L481.15 341.40M481.15 224.70L481.15 227.20M485.66 343.90L485.66 341.40M485.66 224.70L485.66 227.20M490.17 343.90L490.17 341.40M490.17 224.70L490.17 227.20M494.68 343.90L494.68 341.40M494.68 224.70L494.68 227.20M499.18 343.90L499.18 341.40M499.18 224.70L499.18 227.20M508.20 343.90L508.20 341.40M508.20 224.70L508.20 227.20M512.71 343.90L512.71 341.40M512.71 224.70L512.71 227.20M517.22 343.90L517.22 341.40M517.22 224.70L517.22 227.20M521.72 343.90L521.72 341.40M521.72 224.70L521.72 227.20M526.23 343.90L526.23 341.40M526.23 224.70L526.23 227.20M530.74 343.90L530.74 341.40M530.74 224.70L530.74 227.20M535.25 343.90L535.25 341.40M535.25 224.70L535.25 227.20M539.75 343.90L539.75 341.40M539.75 224.70L539.75 227.20M544.26 343.90L544.26 341.40M544.26 224.70L544.26 227.20M553.28 343.90L553.28 341.40M553.28 224.70L553.28 227.20M557.78 343.90L557.78 341.40M557.78 224.70L557.78 227.20M562.29 343.90L562.29 341.40M562.29 224.70L562.29 227.20M566.80 343.90L566.80 341.40M566.80 224.70L566.80 227.20M571.31 343.90L571.31 341.40M571.31 224.70L571.31 227.20M575.82 343.90L575.82 341.40M575.82 224.70L575.82 227.20M580.32 343.90L580.32 341.40M580.32 224.70L580.32 227.20M584.83 343.90L584.83 341.40M584.83 224.70L584.83 227.20M589.34 343.90L589.34 341.40M589.34 224.70L589.34 227.20M598.35 343.90L598.35 341.40M598.35 224.70L598.35 227.20M602.86 343.90L602.86 341.40M602.86 224.70L602.86 227.20M607.37 343.90L607.37 341.40M607.37 224.70L607.37 227.20M611.88 343.90L611.88 341.40M611.88 224.70L611.88 227.20M616.38 343.90L616.38 341.40M616.38 224.70L616.38 227.20M620.89 343.90L620.89 341.40M620.89 224.70L620.89 227.20M625.40 343.90L625.40 341.40M625.40 224.70L625.40 227.20M629.91 343.90L629.91 341.40M629.91 224.70L629.91 227.20M634.42 343.90L634.42 341.40M634.42 224.70L634.42 227.20M643.43 343.90L643.43 341.40M643.43 224.70L643.43 227.20M647.94 343.90L647.94 341.40M647.94 224.70L647.94 227.20M652.45 343.90L652.45 341.40M652.45 224.70L652.45 227.20M656.95 343.90L656.95 341.40M656.95 224.70L656.95 227.20M661.46 343.90L661.46 341.40M661.46 224.70L661.46 227.20M665.97 343.90L665.97 341.40M665.97 224.70L665.97 227.20M670.48 343.90L670.48 341.40M670.48 224.70L670.48 227.20M674.98 343.90L674.98 341.40M674.98 224.70L674.98 227.20M679.49 343.90L679.49 341.40M679.49 224.70L679.49 227.20M391.00 317.57L393.50 317.57M684.00 317.57L681.50 317.57M391.00 290.93L393.50 290.93M684.00 290.93L681.50 290.93M391.00 264.28L393.50 264.28M684.00 264.28L681.50 264.28M391.00 237.62L393.50 237.62M684.00 237.62L681.50 237.62" stroke="#000" stroke-width="0.7" fill="none"/><rect x="391.0" y="224.7" width="293.00" height="119.20" fill="none" stroke="#000" stroke-width="1.25"/><text transform="translate(388.40,335.80) scale(1,1.06)" text-anchor="end">0.8</text><text transform="translate(388.40,309.15) scale(1,1.06)" text-anchor="end">0.9</text><text transform="translate(388.40,282.50) scale(1,1.06)" text-anchor="end">1.0</text><text transform="translate(388.40,255.85) scale(1,1.06)" text-anchor="end">1.1</text><text transform="translate(388.40,229.20) scale(1,1.06)" text-anchor="end">1.2</text><path d="M413.54 412.50L413.54 407.70M413.54 343.90L413.54 348.70M458.62 412.50L458.62 407.70M458.62 343.90L458.62 348.70M503.69 412.50L503.69 407.70M503.69 343.90L503.69 348.70M548.77 412.50L548.77 407.70M548.77 343.90L548.77 348.70M593.85 412.50L593.85 407.70M593.85 343.90L593.85 348.70M638.92 412.50L638.92 407.70M638.92 343.90L638.92 348.70M684.00 412.50L684.00 407.70M684.00 343.90L684.00 348.70M391.00 405.64L395.80 405.64M684.00 405.64L679.20 405.64M391.00 391.92L395.80 391.92M684.00 391.92L679.20 391.92M391.00 378.20L395.80 378.20M684.00 378.20L679.20 378.20M391.00 364.48L395.80 364.48M684.00 364.48L679.20 364.48M391.00 350.76L395.80 350.76M684.00 350.76L679.20 350.76M391.00 412.50L391.00 410.00M391.00 343.90L391.00 346.40M395.51 412.50L395.51 410.00M395.51 343.90L395.51 346.40M400.02 412.50L400.02 410.00M400.02 343.90L400.02 346.40M404.52 412.50L404.52 410.00M404.52 343.90L404.52 346.40M409.03 412.50L409.03 410.00M409.03 343.90L409.03 346.40M418.05 412.50L418.05 410.00M418.05 343.90L418.05 346.40M422.55 412.50L422.55 410.00M422.55 343.90L422.55 346.40M427.06 412.50L427.06 410.00M427.06 343.90L427.06 346.40M431.57 412.50L431.57 410.00M431.57 343.90L431.57 346.40M436.08 412.50L436.08 410.00M436.08 343.90L436.08 346.40M440.58 412.50L440.58 410.00M440.58 343.90L440.58 346.40M445.09 412.50L445.09 410.00M445.09 343.90L445.09 346.40M449.60 412.50L449.60 410.00M449.60 343.90L449.60 346.40M454.11 412.50L454.11 410.00M454.11 343.90L454.11 346.40M463.12 412.50L463.12 410.00M463.12 343.90L463.12 346.40M467.63 412.50L467.63 410.00M467.63 343.90L467.63 346.40M472.14 412.50L472.14 410.00M472.14 343.90L472.14 346.40M476.65 412.50L476.65 410.00M476.65 343.90L476.65 346.40M481.15 412.50L481.15 410.00M481.15 343.90L481.15 346.40M485.66 412.50L485.66 410.00M485.66 343.90L485.66 346.40M490.17 412.50L490.17 410.00M490.17 343.90L490.17 346.40M494.68 412.50L494.68 410.00M494.68 343.90L494.68 346.40M499.18 412.50L499.18 410.00M499.18 343.90L499.18 346.40M508.20 412.50L508.20 410.00M508.20 343.90L508.20 346.40M512.71 412.50L512.71 410.00M512.71 343.90L512.71 346.40M517.22 412.50L517.22 410.00M517.22 343.90L517.22 346.40M521.72 412.50L521.72 410.00M521.72 343.90L521.72 346.40M526.23 412.50L526.23 410.00M526.23 343.90L526.23 346.40M530.74 412.50L530.74 410.00M530.74 343.90L530.74 346.40M535.25 412.50L535.25 410.00M535.25 343.90L535.25 346.40M539.75 412.50L539.75 410.00M539.75 343.90L539.75 346.40M544.26 412.50L544.26 410.00M544.26 343.90L544.26 346.40M553.28 412.50L553.28 410.00M553.28 343.90L553.28 346.40M557.78 412.50L557.78 410.00M557.78 343.90L557.78 346.40M562.29 412.50L562.29 410.00M562.29 343.90L562.29 346.40M566.80 412.50L566.80 410.00M566.80 343.90L566.80 346.40M571.31 412.50L571.31 410.00M571.31 343.90L571.31 346.40M575.82 412.50L575.82 410.00M575.82 343.90L575.82 346.40M580.32 412.50L580.32 410.00M580.32 343.90L580.32 346.40M584.83 412.50L584.83 410.00M584.83 343.90L584.83 346.40M589.34 412.50L589.34 410.00M589.34 343.90L589.34 346.40M598.35 412.50L598.35 410.00M598.35 343.90L598.35 346.40M602.86 412.50L602.86 410.00M602.86 343.90L602.86 346.40M607.37 412.50L607.37 410.00M607.37 343.90L607.37 346.40M611.88 412.50L611.88 410.00M611.88 343.90L611.88 346.40M616.38 412.50L616.38 410.00M616.38 343.90L616.38 346.40M620.89 412.50L620.89 410.00M620.89 343.90L620.89 346.40M625.40 412.50L625.40 410.00M625.40 343.90L625.40 346.40M629.91 412.50L629.91 410.00M629.91 343.90L629.91 346.40M634.42 412.50L634.42 410.00M634.42 343.90L634.42 346.40M643.43 412.50L643.43 410.00M643.43 343.90L643.43 346.40M647.94 412.50L647.94 410.00M647.94 343.90L647.94 346.40M652.45 412.50L652.45 410.00M652.45 343.90L652.45 346.40M656.95 412.50L656.95 410.00M656.95 343.90L656.95 346.40M661.46 412.50L661.46 410.00M661.46 343.90L661.46 346.40M665.97 412.50L665.97 410.00M665.97 343.90L665.97 346.40M670.48 412.50L670.48 410.00M670.48 343.90L670.48 346.40M674.98 412.50L674.98 410.00M674.98 343.90L674.98 346.40M679.49 412.50L679.49 410.00M679.49 343.90L679.49 346.40M391.00 412.50L393.50 412.50M684.00 412.50L681.50 412.50M391.00 398.78L393.50 398.78M684.00 398.78L681.50 398.78M391.00 385.06L393.50 385.06M684.00 385.06L681.50 385.06M391.00 371.34L393.50 371.34M684.00 371.34L681.50 371.34M391.00 357.62L393.50 357.62M684.00 357.62L681.50 357.62M391.00 343.90L393.50 343.90M684.00 343.90L681.50 343.90" stroke="#000" stroke-width="0.7" fill="none"/><rect x="391.0" y="343.9" width="293.00" height="68.60" fill="none" stroke="#000" stroke-width="1.25"/><text transform="translate(388.40,355.16) scale(1,1.06)" text-anchor="end">4</text><text transform="translate(388.40,368.88) scale(1,1.06)" text-anchor="end">2</text><text transform="translate(388.40,382.60) scale(1,1.06)" text-anchor="end">0</text><text transform="translate(388.40,396.32) scale(1,1.06)" text-anchor="end">−2</text><text transform="translate(388.40,410.04) scale(1,1.06)" text-anchor="end">−4</text><text transform="translate(414.34,429.20) scale(1,1.06)" text-anchor="middle">0.68</text><text transform="translate(459.42,429.20) scale(1,1.06)" text-anchor="middle">0.70</text><text transform="translate(504.49,429.20) scale(1,1.06)" text-anchor="middle">0.72</text><text transform="translate(549.57,429.20) scale(1,1.06)" text-anchor="middle">0.74</text><text transform="translate(594.65,429.20) scale(1,1.06)" text-anchor="middle">0.76</text><text transform="translate(639.72,429.20) scale(1,1.06)" text-anchor="middle">0.78</text><text transform="translate(684.80,429.20) scale(1,1.06)" text-anchor="middle">0.80</text><clipPath id="cm4"><rect x="53.5" y="442.6" width="293.0" height="119.39999999999998"/></clipPath><clipPath id="cr4"><rect x="53.5" y="562.0" width="293.0" height="68.45000000000005"/></clipPath><g clip-path="url(#cm4)"><path d="M53.5 471.3L54.8 467.7L56.1 468.6L57.4 469.0L58.7 466.9L60.1 466.6L61.4 469.4L62.7 468.0L64.0 467.7L65.3 467.8L66.6 468.2L67.9 466.8L69.2 467.9L70.5 468.2L71.8 470.4L73.2 463.9L74.5 467.8L75.8 467.5L77.1 470.2L78.4 469.4L79.7 473.0L81.0 471.5L82.3 472.5L83.6 471.4L85.0 474.5L86.3 473.8L87.6 472.5L88.9 467.7L90.2 470.7L91.5 466.1L92.8 465.5L94.1 462.6L95.4 461.2L96.7 461.1L98.1 460.1L99.4 459.2L100.7 459.6L102.0 458.3L103.3 459.7L104.6 457.3L105.9 457.5L107.2 456.7L108.5 455.9L109.8 457.7L111.2 459.1L112.5 461.0L113.8 469.5L115.1 468.9L116.4 472.5L117.7 474.3L119.0 475.8L120.3 471.5L121.6 468.1L123.0 465.4L124.3 464.4L125.6 461.1L126.9 458.1L128.2 454.3L129.5 453.3L130.8 454.1L132.1 453.7L133.4 453.3L134.7 453.2L136.1 454.4L137.4 452.8L138.7 455.5L140.0 456.2L141.3 454.9" stroke="#ff0000" stroke-width="1.55" fill="none" stroke-linejoin="round"/><path d="M182.5 462.2L183.8 459.5L185.1 453.5L186.4 453.0L187.7 456.5L189.0 457.4L190.3 458.7L191.6 461.5L192.9 466.6L194.2 469.7L195.5 466.4L196.8 468.3L198.1 472.9L199.4 473.5L200.7 472.2L202.0 470.5L203.3 469.9L204.6 471.2L205.9 473.2L207.2 470.3L208.5 469.7L209.8 470.7L211.1 472.9L212.4 474.6L213.7 478.7L215.0 483.8L216.3 484.5L217.6 486.8L218.9 481.7L220.2 480.3L221.5 481.3L222.8 480.7L224.2 482.5L225.5 491.3L226.8 492.6L228.1 495.3L229.4 504.7L230.7 504.8L232.0 502.8L233.3 490.6L234.6 482.9L235.9 474.8L237.2 469.7L238.5 465.8L239.8 463.2L241.1 461.5L242.4 459.3L243.7 459.5L245.0 459.1L246.3 461.6L247.6 459.9L248.9 453.9L250.2 454.8L251.5 456.3L252.8 455.4L254.1 453.9L255.4 455.2L256.7 450.2L258.0 453.4L259.3 452.5L260.6 448.5L261.9 457.8L263.2 457.3L264.5 465.5L265.8 468.5L267.1 473.7L268.4 481.6L269.7 485.5L271.0 486.4L272.3 482.0L273.6 478.9L274.9 472.3L276.2 469.3L277.5 462.9L278.8 464.1L280.1 458.9L281.4 459.3L282.7 458.1L284.0 454.6L285.3 455.8L286.6 458.8L287.9 454.2L289.2 460.0L290.5 454.4L291.8 455.8L293.1 457.9L294.4 455.5L295.7 456.4L297.0 452.4L298.3 456.7L299.6 452.3L300.9 453.1L302.2 456.6L303.5 456.9L304.8 453.1L306.2 455.8L307.5 455.5L308.8 456.9L310.1 459.9L311.4 459.9L312.7 462.6L314.0 466.1L315.3 466.4L316.6 464.2L317.9 464.5L319.2 466.6L320.5 465.0L321.8 462.7L323.1 459.5L324.4 459.6L325.7 459.6L327.0 458.4L328.3 455.3L329.6 454.4L330.9 463.9L332.2 471.2L333.5 470.8L334.8 475.9L336.1 478.7L337.4 479.9L338.7 483.9L340.0 486.7L341.3 487.8L342.6 484.5L343.9 486.3L345.2 483.6L346.5 485.7" stroke="#ff0000" stroke-width="1.55" fill="none" stroke-linejoin="round"/><path d="M53.5 488.6L54.8 492.9L56.1 486.9L57.4 487.6L58.7 488.1L60.0 489.1L61.3 488.6L62.6 490.1L63.9 490.4L65.2 488.6L66.5 491.2L67.8 487.6L69.1 487.5L70.4 494.8L71.7 492.1L73.0 489.4L74.3 489.7L75.6 490.2L76.9 490.2L78.2 490.1L79.5 490.4L80.8 489.6L82.1 493.1L83.4 492.6L84.7 497.2L86.0 495.3L87.3 497.0L88.6 492.0L89.9 488.8L91.2 489.3L92.5 489.9L93.8 486.0L95.1 484.4L96.4 482.8L97.7 480.1L99.0 479.1L100.3 483.9L101.5 476.5L102.8 478.9L104.1 478.5L105.4 475.0L106.7 477.7L108.0 480.4L109.3 482.0L110.6 481.6L111.9 482.3L113.2 483.9L114.5 489.3L115.8 492.2L117.1 490.6L118.4 494.7L119.7 491.1L121.0 491.2L122.3 488.6L123.6 486.6L124.9 483.2L126.2 482.6L127.5 480.9L128.8 478.0L130.1 477.2L131.4 474.6L132.7 474.8L134.0 475.5L135.3 475.4L136.6 475.5L137.9 472.1L139.2 475.1L140.5 476.1L141.8 476.0L143.1 475.1L144.4 477.7L145.7 479.0L147.0 480.7L148.3 481.7" stroke="#008000" stroke-width="1.55" fill="none" stroke-linejoin="round"/><path d="M190.0 478.6L191.3 485.2L192.6 489.7L193.9 487.8L195.2 487.9L196.5 491.0L197.8 490.2L199.1 492.5L200.4 491.0L201.7 487.8L203.0 488.5L204.3 490.0L205.7 491.1L207.0 494.5L208.3 489.9L209.6 489.9L210.9 489.5L212.2 490.0L213.5 497.0L214.8 498.9L216.1 505.5L217.4 499.4L218.7 498.9L220.0 496.1L221.3 496.5L222.6 496.9L223.9 496.3L225.2 504.5L226.5 505.0L227.8 510.2L229.1 521.2L230.4 526.1L231.7 520.9L233.0 514.1L234.3 503.0L235.6 493.7L236.9 492.2L238.3 487.2L239.6 483.5L240.9 485.9L242.2 484.7L243.5 485.9L244.8 480.1L246.1 476.5L247.4 484.5L248.7 478.3L250.0 477.1L251.3 479.8L252.6 478.0L253.9 478.5L255.2 476.4L256.5 472.6L257.8 470.2L259.1 470.9L260.4 468.7L261.7 472.6L263.0 480.7L264.3 479.6L265.6 486.0L266.9 496.7L268.2 497.6L269.6 505.5L270.9 506.0L272.2 498.1L273.5 503.8L274.8 495.7L276.1 484.7L277.4 483.9L278.7 483.7L280.0 475.4L281.3 476.5L282.6 479.8L283.9 477.2L285.2 472.4L286.5 469.3L287.8 479.1L289.1 472.9L290.4 474.6L291.7 478.3L293.0 474.0L294.3 477.8L295.6 474.9L296.9 469.1L298.2 472.1L299.6 471.3L300.9 471.8L302.2 472.5L303.5 470.9L304.8 476.7L306.1 474.5L307.4 471.3L308.7 476.1L310.0 476.9L311.3 474.7L312.6 476.4L313.9 484.4L315.2 486.9L316.5 484.3L317.8 485.1L319.1 487.1L320.4 483.0L321.7 482.2L323.0 482.0L324.3 472.4L325.6 474.7L326.9 474.6L328.2 473.3L329.5 469.4L330.9 478.0L332.2 487.5L333.5 489.5L334.8 494.1L336.1 499.3L337.4 500.9L338.7 503.7L340.0 505.4L341.3 506.9L342.6 504.0L343.9 510.4L345.2 504.7L346.5 507.0" stroke="#008000" stroke-width="1.55" fill="none" stroke-linejoin="round"/><path d="M53.5 510.4L54.8 506.7L56.1 505.3L57.4 502.3L58.7 507.3L60.0 506.7L61.3 510.0L62.6 506.3L63.9 504.6L65.2 507.4L66.5 505.8L67.8 505.0L69.1 509.9L70.4 511.3L71.7 505.7L73.0 505.8L74.3 507.9L75.6 505.7L76.9 509.8L78.2 515.1L79.5 511.6L80.8 513.4L82.1 510.3L83.4 515.1L84.7 515.9L86.0 514.5L87.3 514.1L88.6 516.3L89.9 511.1L91.2 510.0L92.5 504.1L93.8 500.0L95.1 506.4L96.4 505.2L97.7 504.4L99.0 503.4L100.3 502.9L101.6 500.6L102.9 497.7L104.2 502.7L105.5 502.8L106.8 503.0L108.1 495.7L109.4 495.4L110.7 502.7L112.0 503.8L113.3 502.1L114.6 503.4L115.9 507.0L117.2 511.4L118.5 511.0L119.8 510.8L121.1 510.6L122.4 502.1L123.7 504.0L125.0 504.8L126.3 501.6L127.6 502.5L128.9 497.3L130.2 493.8L131.5 499.6L132.8 494.3L134.1 492.7L135.4 497.4L136.7 501.1L138.0 499.7L139.3 497.9L140.6 500.1L141.9 500.9L143.2 500.2L144.5 502.2" stroke="#1e90ff" stroke-width="1.55" fill="none" stroke-linejoin="round"/><path d="M179.8 511.0L181.1 513.0L182.4 503.2L183.7 502.2L185.0 495.8L186.3 494.4L187.6 492.5L188.9 498.3L190.2 500.6L191.5 508.3L192.8 507.9L194.1 513.3L195.4 508.5L196.7 514.0L198.0 511.4L199.3 512.8L200.6 511.7L201.9 509.0L203.2 511.2L204.5 508.7L205.8 511.5L207.1 505.0L208.5 510.1L209.8 505.7L211.1 503.6L212.4 520.0L213.7 521.2L215.0 525.1L216.3 523.8L217.6 526.5L218.9 522.1L220.2 522.8L221.5 518.3L222.8 523.6L224.1 522.2L225.4 537.0L226.7 539.7L228.0 538.9L229.3 550.6L230.6 557.2L231.9 546.3L233.2 537.7L234.5 523.8L235.8 516.8L237.1 509.4L238.4 506.4L239.7 509.6L241.0 501.3L242.3 501.9L243.6 497.0L244.9 496.4L246.2 501.4L247.5 501.2L248.8 498.8L250.1 497.2L251.4 499.5L252.7 497.8L254.0 494.7L255.3 494.0L256.6 490.6L257.9 492.2L259.2 494.7L260.5 497.0L261.8 490.3L263.1 497.3L264.5 503.2L265.8 509.4L267.1 520.8L268.4 528.3L269.7 540.7L271.0 534.2L272.3 530.8L273.6 516.8L274.9 512.8L276.2 507.6L277.5 501.7L278.8 498.1L280.1 500.8L281.4 497.9L282.7 496.9L284.0 487.7L285.3 493.7L286.6 498.9L287.9 490.6L289.2 485.4L290.5 495.7L291.8 483.1L293.1 493.5L294.4 490.3L295.7 494.8L297.0 493.8L298.3 496.5L299.6 495.9L300.9 499.1L302.2 489.8L303.5 496.9L304.8 493.1L306.1 493.9L307.4 497.7L308.7 497.2L310.0 500.3L311.3 504.8L312.6 506.4L313.9 509.3L315.2 514.4L316.5 515.7L317.8 513.7L319.2 509.2L320.5 503.2L321.8 500.4L323.1 501.4L324.4 497.0L326.0 497.2L327.0 491.1L328.5 490.4L329.6 487.2L330.6 488.7L332.0 504.1L334.0 509.7L334.8 517.8L336.0 512.2L338.0 531.0L338.7 522.7L340.0 512.4L341.3 527.4L342.0 539.5L344.0 516.9L345.2 517.9L346.5 525.6" stroke="#1e90ff" stroke-width="1.55" fill="none" stroke-linejoin="round"/><path d="M53.5 473.0L54.5 470.5L55.5 468.5L56.5 467.5L57.5 467.5L58.5 467.7L59.6 468.0L60.6 468.2L61.6 468.3L62.6 467.9L63.6 467.2L64.6 466.6L65.6 466.4L66.6 466.8L67.6 467.3L68.6 467.9L69.6 468.3L70.7 468.2L71.7 467.9L72.7 467.6L73.7 467.4L74.7 467.6L75.7 468.2L76.7 469.1L77.7 470.0L78.7 470.7L79.7 471.2L80.7 471.7L81.8 472.0L82.8 472.4L83.8 472.7L84.8 472.9L85.8 473.0L86.8 472.8L87.8 472.0L88.8 470.8L89.8 469.3L90.8 467.6L91.8 466.0L92.9 464.4L93.9 463.2L94.9 462.3L95.9 461.5L96.9 460.8L97.9 460.0L98.9 459.3L99.9 458.6L100.9 458.0L101.9 457.4L103.0 456.9L104.0 456.5L105.0 456.2L106.0 456.0L107.0 456.0L108.0 456.4L109.0 457.3L110.0 458.4L111.0 459.6L112.0 461.5L113.0 464.0L114.1 466.8L115.1 469.5L116.1 471.8L117.1 473.4L118.1 474.0L119.1 473.5L120.1 472.1L121.1 470.2L122.1 467.9L123.1 465.6L124.1 463.5L125.2 461.9L126.2 460.1L127.2 458.3L128.2 456.7L129.2 455.4L130.2 454.7L131.2 454.6L132.2 454.4L133.2 454.3L134.2 454.3L135.2 454.2L136.3 454.2L137.3 454.2L138.3 454.3L139.3 454.4L140.3 454.5L141.3 454.7" stroke="#000" stroke-width="1.5" fill="none" stroke-linejoin="round"/><path d="M182.5 462.3L183.5 460.3L184.5 458.7L185.5 457.6L186.5 456.9L187.5 456.6L188.5 457.0L189.5 458.3L190.5 460.2L191.5 462.5L192.5 464.9L193.5 467.0L194.5 468.5L195.5 469.3L196.5 469.7L197.5 470.0L198.5 470.3L199.5 470.5L200.5 470.6L201.5 470.6L202.5 470.6L203.5 470.5L204.5 470.5L205.5 470.4L206.5 470.3L207.5 470.3L208.5 470.2L209.5 470.2L210.5 470.5L211.5 472.4L212.5 475.1L213.5 477.4L214.5 480.0L215.5 482.4L216.5 484.1L217.5 484.1L218.5 483.0L219.5 481.2L220.5 479.6L221.5 478.7L222.5 479.3L223.5 481.4L224.5 484.3L225.5 487.2L226.5 490.5L227.5 494.7L228.5 498.8L229.5 502.3L230.5 504.1L231.5 502.7L232.5 496.7L233.5 488.1L234.5 479.5L235.5 473.2L236.5 470.2L237.5 467.7L238.5 465.6L239.5 463.8L240.5 462.3L241.5 461.2L242.5 460.4L243.5 459.9L244.5 459.5L245.5 459.2L246.5 458.9L247.5 458.7L248.5 458.4L249.5 458.1L250.5 457.7L251.5 457.2L252.5 456.6L253.5 455.9L254.5 455.2L255.5 454.6L256.5 454.0L257.5 453.5L258.5 453.1L259.5 452.9L260.5 452.9L261.5 454.1L262.5 456.5L263.5 459.6L264.5 463.2L265.5 466.9L266.5 470.8L267.5 476.4L268.5 481.9L269.5 485.6L270.5 486.0L271.5 484.2L272.5 481.1L273.5 477.3L274.5 473.1L275.5 469.2L276.5 466.0L277.5 464.0L278.5 462.5L279.5 461.1L280.5 460.0L281.5 459.0L282.5 458.1L283.5 457.4L284.5 456.7L285.5 456.0L286.5 455.4L287.5 454.9L288.5 454.5L289.5 454.3L290.5 454.2L291.5 454.3L292.5 454.4L293.5 454.6L294.5 454.8L295.5 455.0L296.5 455.3L297.5 455.4L298.5 455.6L299.5 455.7L300.5 455.8L301.5 455.9L302.5 455.9L303.5 456.0L304.5 456.1L305.5 456.3L306.5 456.4L307.5 456.6L308.5 457.1L309.5 457.9L310.5 459.0L311.5 460.1L312.5 461.3L313.5 463.1L314.5 465.1L315.5 466.9L316.5 467.8L317.5 467.8L318.5 467.2L319.5 466.3L320.5 465.1L321.5 463.7L322.5 462.2L323.5 460.7L324.5 459.3L325.5 458.1L326.5 457.2L327.5 456.7L328.5 456.7L329.5 458.3L330.5 461.1L331.5 464.7L332.5 468.5L333.5 472.3L334.5 475.3L335.5 477.8L336.5 480.4L337.5 482.9L338.5 484.6L339.5 485.3L340.5 485.3L341.5 485.3L342.5 485.2L343.5 484.9L344.5 484.6L345.5 484.1L346.5 483.4" stroke="#000" stroke-width="1.5" fill="none" stroke-linejoin="round"/><path d="M53.5 491.9L54.5 490.6L55.5 489.4L56.5 488.5L57.5 488.1L58.5 488.1L59.6 488.1L60.6 488.1L61.6 488.1L62.6 488.1L63.6 488.1L64.6 488.1L65.6 488.1L66.6 488.1L67.6 488.1L68.6 488.1L69.6 488.1L70.6 488.1L71.7 488.1L72.7 488.2L73.7 488.4L74.7 488.7L75.7 489.1L76.7 489.6L77.7 490.1L78.7 490.6L79.7 491.0L80.7 491.5L81.7 492.1L82.7 492.7L83.8 493.3L84.8 493.8L85.8 494.1L86.8 494.3L87.8 494.1L88.8 493.3L89.8 492.1L90.8 490.5L91.8 488.9L92.8 487.3L93.8 486.0L94.8 485.0L95.9 484.0L96.9 483.1L97.9 482.1L98.9 481.2L99.9 480.3L100.9 479.5L101.9 478.7L102.9 478.1L103.9 477.5L104.9 477.1L105.9 476.9L107.0 476.8L108.0 477.4L109.0 478.5L110.0 479.9L111.0 481.3L112.0 483.0L113.0 485.0L114.0 487.2L115.0 489.3L116.0 491.2L117.0 492.7L118.0 493.6L119.1 493.7L120.1 493.0L121.1 491.5L122.1 489.5L123.1 487.4L124.1 485.2L125.1 483.3L126.1 481.7L127.1 480.1L128.1 478.3L129.1 476.7L130.1 475.3L131.2 474.4L132.2 474.0L133.2 474.0L134.2 474.1L135.2 474.2L136.2 474.3L137.2 474.4L138.2 474.6L139.2 474.8L140.2 475.0L141.2 475.4L142.2 476.0L143.3 476.8L144.3 477.7L145.3 478.8L146.3 480.0L147.3 481.2L148.3 482.5" stroke="#000" stroke-width="1.5" fill="none" stroke-linejoin="round"/><path d="M190.0 479.6L191.0 482.4L192.0 484.9L193.0 487.1L194.0 488.8L195.0 489.8L196.0 490.3L197.0 490.6L198.0 490.8L199.0 491.0L200.0 491.2L201.0 491.3L202.0 491.4L203.0 491.5L204.0 491.5L205.0 491.5L206.1 491.6L207.1 491.6L208.1 491.7L209.1 491.8L210.1 491.9L211.1 493.0L212.1 495.1L213.1 497.3L214.1 499.4L215.1 501.7L216.1 502.6L217.1 502.2L218.1 501.2L219.1 500.0L220.1 498.8L221.1 497.9L222.1 497.5L223.1 498.2L224.1 500.1L225.1 502.7L226.1 505.3L227.1 509.3L228.1 514.5L229.1 519.6L230.1 523.2L231.1 523.7L232.1 520.2L233.1 513.7L234.1 505.9L235.1 498.2L236.1 492.2L237.2 489.3L238.2 487.5L239.2 486.0L240.2 484.8L241.2 483.7L242.2 482.8L243.2 481.9L244.2 481.2L245.2 480.5L246.2 479.9L247.2 479.3L248.2 478.7L249.2 478.2L250.2 477.6L251.2 476.9L252.2 476.2L253.2 475.5L254.2 474.8L255.2 474.1L256.2 473.4L257.2 472.9L258.2 472.5L259.2 472.2L260.2 472.1L261.2 473.1L262.2 475.6L263.2 479.2L264.2 483.4L265.2 487.5L266.2 491.3L267.2 496.3L268.2 501.5L269.3 505.4L270.3 506.3L271.3 504.9L272.3 501.9L273.3 498.0L274.3 493.7L275.3 489.6L276.3 486.3L277.3 484.2L278.3 482.9L279.3 481.6L280.3 480.4L281.3 479.2L282.3 478.1L283.3 477.2L284.3 476.3L285.3 475.5L286.3 474.9L287.3 474.3L288.3 473.9L289.3 473.7L290.3 473.6L291.3 473.6L292.3 473.6L293.3 473.7L294.3 473.7L295.3 473.8L296.3 473.9L297.3 474.0L298.3 474.1L299.3 474.2L300.4 474.4L301.4 474.5L302.4 474.7L303.4 474.9L304.4 475.1L305.4 475.3L306.4 475.5L307.4 475.8L308.4 476.4L309.4 477.5L310.4 479.1L311.4 480.8L312.4 482.7L313.4 484.4L314.4 485.8L315.4 486.8L316.4 487.2L317.4 487.0L318.4 486.3L319.4 485.4L320.4 484.4L321.4 483.5L322.4 482.4L323.4 481.1L324.4 479.6L325.4 478.2L326.4 477.1L327.4 476.3L328.4 476.3L329.4 477.7L330.4 480.3L331.5 483.7L332.5 487.5L333.5 491.2L334.5 494.4L335.5 497.1L336.5 500.0L337.5 502.8L338.5 505.0L339.5 506.0L340.5 506.3L341.5 506.5L342.5 506.7L343.5 506.8L344.5 506.9L345.5 507.0L346.5 507.0" stroke="#000" stroke-width="1.5" fill="none" stroke-linejoin="round"/><path d="M53.5 511.7L54.5 509.7L55.5 508.0L56.5 506.9L57.5 506.4L58.5 506.7L59.5 507.5L60.5 508.6L61.5 509.5L62.5 509.8L63.5 509.2L64.5 508.2L65.5 507.3L66.5 507.0L67.5 507.8L68.5 508.8L69.5 509.7L70.5 509.6L71.5 508.7L72.5 508.0L73.5 508.1L74.5 509.0L75.5 510.3L76.5 511.6L77.5 512.6L78.5 513.3L79.5 514.0L80.5 514.7L81.5 515.3L82.5 515.8L83.5 516.1L84.5 516.4L85.5 516.4L86.5 515.9L87.5 515.1L88.5 514.0L89.5 512.6L90.5 511.1L91.5 509.5L92.5 507.9L93.5 506.4L94.5 505.1L95.5 503.9L96.5 503.1L97.5 502.5L98.5 501.8L99.5 501.2L100.5 500.6L101.5 500.0L102.5 499.5L103.5 499.1L104.5 498.7L105.5 498.4L106.5 498.2L107.5 498.1L108.5 498.2L109.5 498.8L110.5 499.5L111.5 500.4L112.5 501.9L113.5 504.3L114.5 507.1L115.5 509.9L116.5 512.3L117.5 513.7L118.5 513.9L119.5 513.0L120.5 511.2L121.5 509.0L122.5 506.6L123.5 504.4L124.5 502.6L125.5 501.2L126.5 499.7L127.5 498.4L128.5 497.2L129.5 496.4L130.5 496.2L131.5 496.5L132.5 497.2L133.5 498.1L134.5 498.8L135.5 499.3L136.5 499.3L137.5 498.9L138.5 498.4L139.5 497.8L140.5 497.5L141.5 497.7L142.5 498.5L143.5 499.8L144.5 501.3" stroke="#000" stroke-width="1.5" fill="none" stroke-linejoin="round"/><path d="M179.8 511.3L180.8 508.1L181.8 505.2L182.8 502.8L183.8 500.8L184.8 499.3L185.8 498.4L186.8 498.1L187.8 498.5L188.8 499.7L189.8 501.3L190.8 503.2L191.9 505.2L192.9 507.1L193.9 508.6L194.9 509.6L195.9 510.0L196.9 510.2L197.9 510.5L198.9 510.6L199.9 510.8L200.9 510.8L201.9 510.7L202.9 510.5L203.9 510.1L204.9 509.7L205.9 509.3L206.9 508.8L207.9 508.4L208.9 508.1L209.9 507.9L210.9 508.4L211.9 511.5L212.9 515.5L213.9 519.5L214.9 524.3L216.0 526.8L217.0 526.3L218.0 524.9L219.0 523.2L220.0 521.3L221.0 519.9L222.0 519.2L223.0 520.1L224.0 522.7L225.0 526.3L226.0 530.0L227.0 534.8L228.0 541.1L229.0 547.4L230.0 551.9L231.0 553.0L232.0 548.7L233.0 540.3L234.0 529.9L235.0 520.1L236.0 513.1L237.0 510.0L238.0 507.5L239.0 505.4L240.1 503.7L241.1 502.4L242.1 501.5L243.1 501.1L244.1 500.7L245.1 500.5L246.1 500.3L247.1 500.1L248.1 499.9L249.1 499.7L250.1 499.4L251.1 498.9L252.1 498.3L253.1 497.6L254.1 496.8L255.1 496.0L256.1 495.2L257.1 494.5L258.1 493.8L259.1 493.3L260.1 492.9L261.1 492.8L262.1 493.8L263.1 496.8L264.2 501.1L265.2 506.0L266.2 510.8L267.2 517.9L268.2 526.4L269.2 533.1L270.2 535.3L271.2 533.6L272.2 529.9L273.2 524.9L274.2 519.2L275.2 513.4L276.2 508.3L277.2 504.3L278.2 502.2L279.2 501.0L280.2 499.8L281.2 498.8L282.2 497.8L283.2 496.9L284.2 496.1L285.2 495.5L286.2 494.9L287.3 494.4L288.3 494.1L289.3 493.9L290.3 493.8L291.3 493.8L292.3 493.8L293.3 493.9L294.3 493.9L295.3 494.0L296.3 494.1L297.3 494.2L298.3 494.3L299.3 494.5L300.3 494.6L301.3 494.8L302.3 495.0L303.3 495.2L304.3 495.4L305.3 495.6L306.3 495.9L307.3 496.2L308.3 496.9L309.3 498.4L310.3 500.5L311.4 502.9L312.4 505.4L313.4 507.8L314.4 509.8L315.4 511.2L316.4 511.7L317.4 511.4L318.4 510.6L319.4 509.4L320.4 507.9L321.4 506.1L322.4 504.2L323.4 502.4L324.4 500.6L325.4 499.0L326.4 497.8L327.4 496.9L328.4 496.6L329.4 497.4L330.4 499.7L331.4 502.9L332.4 506.5L333.4 509.8L334.4 513.4L335.5 517.7L336.5 521.9L337.5 525.1L338.5 526.4L339.5 526.4L340.5 526.3L341.5 526.1L342.5 525.6L343.5 524.9L344.5 523.8L345.5 522.3L346.5 520.2" stroke="#000" stroke-width="1.5" fill="none" stroke-linejoin="round"/></g><g clip-path="url(#cr4)"><path d="M53.5 571.1L54.8 570.9L56.1 570.8L57.4 570.8L58.7 571.0L60.1 571.1L61.4 571.2L62.7 571.2L64.0 571.1L65.3 571.0L66.6 570.9L67.9 571.1L69.2 571.3L70.5 571.6L71.8 571.8L73.2 571.9L74.5 571.9L75.8 571.8L77.1 571.7L78.4 571.6L79.7 571.5L81.0 571.4L82.3 571.4L83.6 571.3L85.0 571.2L86.3 571.1L87.6 571.0L88.9 571.0L90.2 570.9L91.5 570.9L92.8 570.9L94.1 571.0L95.4 571.0L96.7 571.1L98.1 571.2L99.4 571.3L100.7 571.4L102.0 571.5L103.3 571.4L104.6 571.4L105.9 571.3L107.2 571.1L108.5 571.0L109.8 570.9L111.2 570.9L112.5 570.9L113.8 571.0L115.1 571.1L116.4 571.3L117.7 571.5L119.0 571.7L120.3 571.8L121.6 571.8L123.0 571.8L124.3 571.6L125.6 571.5L126.9 571.3L128.2 571.3L129.5 571.3L130.8 571.4L132.1 571.5L133.4 571.6L134.7 571.7L136.1 571.8L137.4 571.8L138.7 571.7L140.0 571.6L141.3 571.5L141.3 579.9L140.0 579.7L138.7 579.6L137.4 579.6L136.1 579.6L134.7 579.7L133.4 579.8L132.1 579.9L130.8 580.0L129.5 580.1L128.2 580.1L126.9 580.1L125.6 579.9L124.3 579.8L123.0 579.6L121.6 579.6L120.3 579.6L119.0 579.7L117.7 579.9L116.4 580.1L115.1 580.2L113.8 580.4L112.5 580.5L111.2 580.5L109.8 580.5L108.5 580.4L107.2 580.2L105.9 580.1L104.6 580.0L103.3 579.9L102.0 579.9L100.7 579.9L99.4 580.0L98.1 580.2L96.7 580.3L95.4 580.4L94.1 580.4L92.8 580.4L91.5 580.4L90.2 580.4L88.9 580.4L87.6 580.3L86.3 580.2L85.0 580.2L83.6 580.1L82.3 580.0L81.0 579.9L79.7 579.9L78.4 579.8L77.1 579.7L75.8 579.6L74.5 579.5L73.2 579.5L71.8 579.6L70.5 579.8L69.2 580.1L67.9 580.3L66.6 580.4L65.3 580.4L64.0 580.3L62.7 580.2L61.4 580.2L60.1 580.3L58.7 580.4L57.4 580.6L56.1 580.6L54.8 580.5L53.5 580.3Z" fill="#ff0000" fill-opacity="0.3"/><path d="M182.5 571.9L183.8 572.0L185.1 572.0L186.4 571.9L187.7 571.6L189.0 571.4L190.3 571.1L191.6 571.0L192.9 570.9L194.2 571.0L195.5 571.1L196.8 571.2L198.1 571.3L199.4 571.2L200.7 571.1L202.0 570.9L203.3 570.8L204.6 570.9L205.9 571.1L207.2 571.3L208.5 571.5L209.8 571.6L211.1 571.6L212.4 571.5L213.7 571.3L215.0 571.2L216.3 571.2L217.6 571.1L218.9 571.1L220.2 571.0L221.5 571.0L222.8 570.9L224.2 571.0L225.5 571.1L226.8 571.2L228.1 571.2L229.4 571.3L230.7 571.3L232.0 571.3L233.3 571.4L234.6 571.4L235.9 571.4L237.2 571.3L238.5 571.2L239.8 571.1L241.1 571.0L242.4 571.0L243.7 571.0L245.0 571.0L246.3 571.1L247.6 571.2L248.9 571.3L250.2 571.4L251.5 571.6L252.8 571.7L254.1 571.7L255.4 571.7L256.7 571.7L258.0 571.7L259.3 571.7L260.6 571.7L261.9 571.7L263.2 571.6L264.5 571.5L265.8 571.4L267.1 571.3L268.4 571.3L269.7 571.2L271.0 571.3L272.3 571.4L273.6 571.7L274.9 571.9L276.2 572.1L277.5 572.1L278.8 571.8L280.1 571.5L281.4 571.2L282.7 571.0L284.0 571.0L285.3 571.0L286.6 571.0L287.9 571.1L289.2 571.1L290.5 571.2L291.8 571.2L293.1 571.3L294.4 571.4L295.7 571.4L297.0 571.4L298.3 571.4L299.6 571.3L300.9 571.3L302.2 571.2L303.5 571.2L304.8 571.0L306.2 570.9L307.5 570.7L308.8 570.7L310.1 570.7L311.4 570.8L312.7 570.9L314.0 570.9L315.3 570.9L316.6 570.8L317.9 570.8L319.2 571.0L320.5 571.2L321.8 571.4L323.1 571.6L324.4 571.8L325.7 571.8L327.0 571.6L328.3 571.4L329.6 571.2L330.9 571.2L332.2 571.2L333.5 571.3L334.8 571.4L336.1 571.4L337.4 571.4L338.7 571.4L340.0 571.5L341.3 571.6L342.6 571.6L343.9 571.7L345.2 571.6L346.5 571.5L346.5 579.9L345.2 579.8L343.9 579.7L342.6 579.7L341.3 579.8L340.0 579.9L338.7 580.0L337.4 580.0L336.1 580.0L334.8 580.0L333.5 580.1L332.2 580.2L330.9 580.2L329.6 580.1L328.3 580.0L327.0 579.8L325.7 579.6L324.4 579.6L323.1 579.7L321.8 580.0L320.5 580.2L319.2 580.4L317.9 580.5L316.6 580.6L315.3 580.5L314.0 580.5L312.7 580.5L311.4 580.6L310.1 580.7L308.8 580.7L307.5 580.6L306.2 580.5L304.8 580.3L303.5 580.2L302.2 580.1L300.9 580.1L299.6 580.0L298.3 580.0L297.0 580.0L295.7 580.0L294.4 580.0L293.1 580.1L291.8 580.1L290.5 580.2L289.2 580.3L287.9 580.3L286.6 580.4L285.3 580.4L284.0 580.4L282.7 580.3L281.4 580.2L280.1 579.9L278.8 579.6L277.5 579.3L276.2 579.3L274.9 579.4L273.6 579.7L272.3 580.0L271.0 580.1L269.7 580.1L268.4 580.1L267.1 580.1L265.8 580.0L264.5 579.9L263.2 579.8L261.9 579.7L260.6 579.7L259.3 579.6L258.0 579.7L256.7 579.7L255.4 579.7L254.1 579.6L252.8 579.7L251.5 579.8L250.2 579.9L248.9 580.1L247.6 580.2L246.3 580.3L245.0 580.3L243.7 580.4L242.4 580.4L241.1 580.3L239.8 580.3L238.5 580.2L237.2 580.0L235.9 579.9L234.6 579.9L233.3 580.0L232.0 580.0L230.7 580.1L229.4 580.1L228.1 580.1L226.8 580.2L225.5 580.2L224.2 580.3L222.8 580.4L221.5 580.4L220.2 580.3L218.9 580.3L217.6 580.2L216.3 580.2L215.0 580.2L213.7 580.0L212.4 579.9L211.1 579.8L209.8 579.7L208.5 579.8L207.2 580.1L205.9 580.3L204.6 580.5L203.3 580.5L202.0 580.5L200.7 580.3L199.4 580.2L198.1 580.1L196.8 580.1L195.5 580.3L194.2 580.4L192.9 580.5L191.6 580.4L190.3 580.2L189.0 580.0L187.7 579.8L186.4 579.5L185.1 579.4L183.8 579.4L182.5 579.5Z" fill="#ff0000" fill-opacity="0.3"/><path d="M53.5 591.4L54.8 591.5L56.1 591.5L57.4 591.6L58.7 591.5L60.0 591.5L61.3 591.3L62.6 591.1L63.9 591.0L65.2 591.0L66.5 591.1L67.8 591.2L69.1 591.3L70.4 591.3L71.7 591.1L73.0 591.0L74.3 590.8L75.6 590.8L76.9 590.9L78.2 591.1L79.5 591.3L80.8 591.4L82.1 591.5L83.4 591.5L84.7 591.6L86.0 591.6L87.3 591.5L88.6 591.5L89.9 591.6L91.2 591.7L92.5 591.7L93.8 591.7L95.1 591.6L96.4 591.5L97.7 591.3L99.0 591.2L100.3 591.1L101.5 591.1L102.8 591.1L104.1 590.9L105.4 590.6L106.7 590.3L108.0 590.1L109.3 590.1L110.6 590.2L111.9 590.4L113.2 590.7L114.5 590.8L115.8 590.9L117.1 590.8L118.4 590.8L119.7 590.8L121.0 590.9L122.3 591.0L123.6 591.2L124.9 591.4L126.2 591.4L127.5 591.4L128.8 591.4L130.1 591.4L131.4 591.4L132.7 591.4L134.0 591.3L135.3 591.1L136.6 591.0L137.9 590.8L139.2 590.8L140.5 590.7L141.8 590.6L143.1 590.6L144.4 590.7L145.7 590.8L147.0 591.0L148.3 591.1L148.3 601.4L147.0 601.5L145.7 601.6L144.4 601.7L143.1 601.8L141.8 601.8L140.5 601.7L139.2 601.7L137.9 601.6L136.6 601.5L135.3 601.3L134.0 601.2L132.7 601.1L131.4 601.0L130.1 601.0L128.8 601.0L127.5 601.1L126.2 601.0L124.9 601.1L123.6 601.2L122.3 601.4L121.0 601.6L119.7 601.7L118.4 601.7L117.1 601.6L115.8 601.6L114.5 601.6L113.2 601.8L111.9 602.0L110.6 602.3L109.3 602.4L108.0 602.3L106.7 602.1L105.4 601.8L104.1 601.6L102.8 601.4L101.5 601.3L100.3 601.3L99.0 601.3L97.7 601.1L96.4 600.9L95.1 600.8L93.8 600.7L92.5 600.7L91.2 600.8L89.9 600.8L88.6 600.9L87.3 600.9L86.0 600.9L84.7 600.9L83.4 600.9L82.1 601.0L80.8 601.1L79.5 601.2L78.2 601.4L76.9 601.5L75.6 601.6L74.3 601.6L73.0 601.5L71.7 601.3L70.4 601.2L69.1 601.1L67.8 601.2L66.5 601.4L65.2 601.4L63.9 601.4L62.6 601.3L61.3 601.2L60.0 601.0L58.7 600.9L57.4 600.9L56.1 601.0L54.8 601.0L53.5 601.1Z" fill="#008000" fill-opacity="0.3"/><path d="M190.0 591.2L191.3 591.0L192.6 591.1L193.9 591.2L195.2 591.2L196.5 591.1L197.8 591.0L199.1 590.8L200.4 590.6L201.7 590.5L203.0 590.6L204.3 590.6L205.7 590.7L207.0 590.8L208.3 590.9L209.6 590.9L210.9 590.9L212.2 590.7L213.5 590.5L214.8 590.4L216.1 590.6L217.4 590.9L218.7 591.3L220.0 591.5L221.3 591.6L222.6 591.6L223.9 591.5L225.2 591.3L226.5 591.1L227.8 590.9L229.1 590.6L230.4 590.3L231.7 590.1L233.0 590.1L234.3 590.2L235.6 590.4L236.9 590.6L238.3 590.6L239.6 590.5L240.9 590.4L242.2 590.4L243.5 590.6L244.8 590.9L246.1 591.1L247.4 591.2L248.7 591.3L250.0 591.3L251.3 591.4L252.6 591.4L253.9 591.3L255.2 591.2L256.5 590.9L257.8 590.7L259.1 590.4L260.4 590.2L261.7 590.0L263.0 589.9L264.3 589.7L265.6 589.7L266.9 589.8L268.2 590.0L269.6 590.2L270.9 590.5L272.2 590.6L273.5 590.6L274.8 590.5L276.1 590.3L277.4 590.2L278.7 590.1L280.0 590.1L281.3 590.0L282.6 590.0L283.9 589.9L285.2 589.7L286.5 589.6L287.8 589.4L289.1 589.3L290.4 589.4L291.7 589.6L293.0 589.9L294.3 590.2L295.6 590.3L296.9 590.3L298.2 590.1L299.6 589.9L300.9 589.8L302.2 589.6L303.5 589.4L304.8 589.4L306.1 589.4L307.4 589.5L308.7 589.7L310.0 589.8L311.3 589.7L312.6 589.5L313.9 589.3L315.2 589.2L316.5 589.3L317.8 589.4L319.1 589.6L320.4 589.8L321.7 589.9L323.0 590.0L324.3 590.1L325.6 590.2L326.9 590.2L328.2 590.2L329.5 590.1L330.9 590.0L332.2 589.8L333.5 589.7L334.8 589.5L336.1 589.4L337.4 589.2L338.7 589.2L340.0 589.2L341.3 589.2L342.6 589.2L343.9 589.1L345.2 589.0L346.5 588.9L346.5 603.6L345.2 603.4L343.9 603.4L342.6 603.3L341.3 603.2L340.0 603.2L338.7 603.3L337.4 603.2L336.1 603.1L334.8 602.9L333.5 602.8L332.2 602.6L330.9 602.4L329.5 602.3L328.2 602.3L326.9 602.2L325.6 602.2L324.3 602.3L323.0 602.5L321.7 602.6L320.4 602.7L319.1 602.8L317.8 603.0L316.5 603.2L315.2 603.3L313.9 603.2L312.6 603.0L311.3 602.8L310.0 602.7L308.7 602.8L307.4 602.9L306.1 603.0L304.8 603.1L303.5 603.0L302.2 602.9L300.9 602.7L299.6 602.5L298.2 602.3L296.9 602.2L295.6 602.2L294.3 602.3L293.0 602.6L291.7 602.8L290.4 603.0L289.1 603.1L287.8 603.0L286.5 602.9L285.2 602.7L283.9 602.6L282.6 602.5L281.3 602.4L280.0 602.4L278.7 602.3L277.4 602.3L276.1 602.1L274.8 602.0L273.5 601.8L272.2 601.8L270.9 602.0L269.6 602.2L268.2 602.5L266.9 602.7L265.6 602.7L264.3 602.7L263.0 602.6L261.7 602.4L260.4 602.2L259.1 602.0L257.8 601.8L256.5 601.5L255.2 601.3L253.9 601.1L252.6 601.1L251.3 601.1L250.0 601.1L248.7 601.1L247.4 601.2L246.1 601.4L244.8 601.6L243.5 601.8L242.2 602.0L240.9 602.1L239.6 602.0L238.3 601.9L236.9 601.9L235.6 602.0L234.3 602.2L233.0 602.4L231.7 602.4L230.4 602.2L229.1 601.9L227.8 601.6L226.5 601.3L225.2 601.1L223.9 601.0L222.6 600.9L221.3 600.8L220.0 600.9L218.7 601.2L217.4 601.6L216.1 601.9L214.8 602.0L213.5 601.9L212.2 601.8L210.9 601.6L209.6 601.5L208.3 601.6L207.0 601.6L205.7 601.7L204.3 601.8L203.0 601.9L201.7 601.9L200.4 601.8L199.1 601.7L197.8 601.5L196.5 601.3L195.2 601.2L193.9 601.3L192.6 601.4L191.3 601.4L190.0 601.3Z" fill="#008000" fill-opacity="0.3"/><path d="M53.5 609.9L54.8 610.0L56.1 610.2L57.4 610.4L58.7 610.6L60.0 610.8L61.3 610.8L62.6 610.6L63.9 610.3L65.2 609.9L66.5 609.5L67.8 609.4L69.1 609.4L70.4 609.6L71.7 609.8L73.0 609.8L74.3 609.7L75.6 609.6L76.9 609.5L78.2 609.3L79.5 609.1L80.8 609.0L82.1 609.1L83.4 609.3L84.7 609.5L86.0 609.8L87.3 609.9L88.6 609.9L89.9 609.8L91.2 609.8L92.5 609.8L93.8 609.8L95.1 609.8L96.4 609.7L97.7 609.7L99.0 609.7L100.3 609.8L101.6 609.9L102.9 609.9L104.2 609.8L105.5 609.7L106.8 609.7L108.1 609.7L109.4 609.7L110.7 609.8L112.0 609.8L113.3 609.9L114.6 610.1L115.9 610.2L117.2 610.3L118.5 610.2L119.8 609.8L121.1 609.3L122.4 608.8L123.7 608.6L125.0 608.6L126.3 608.9L127.6 609.2L128.9 609.6L130.2 609.7L131.5 609.8L132.8 609.8L134.1 609.9L135.4 609.9L136.7 609.9L138.0 609.8L139.3 609.9L140.6 610.1L141.9 610.5L143.2 610.9L144.5 611.1L144.5 622.4L143.2 622.6L141.9 623.0L140.6 623.4L139.3 623.7L138.0 623.7L136.7 623.7L135.4 623.6L134.1 623.7L132.8 623.7L131.5 623.7L130.2 623.8L128.9 624.0L127.6 624.3L126.3 624.6L125.0 624.9L123.7 624.9L122.4 624.7L121.1 624.2L119.8 623.7L118.5 623.4L117.2 623.2L115.9 623.3L114.6 623.5L113.3 623.6L112.0 623.7L110.7 623.7L109.4 623.8L108.1 623.8L106.8 623.8L105.5 623.8L104.2 623.7L102.9 623.6L101.6 623.6L100.3 623.7L99.0 623.8L97.7 623.9L96.4 623.8L95.1 623.8L93.8 623.7L92.5 623.7L91.2 623.7L89.9 623.7L88.6 623.7L87.3 623.6L86.0 623.8L84.7 624.0L83.4 624.2L82.1 624.4L80.8 624.5L79.5 624.4L78.2 624.2L76.9 624.0L75.6 623.9L74.3 623.8L73.0 623.7L71.7 623.8L70.4 623.9L69.1 624.1L67.8 624.1L66.5 624.0L65.2 623.7L63.9 623.2L62.6 622.9L61.3 622.8L60.0 622.8L58.7 622.9L57.4 623.1L56.1 623.3L54.8 623.5L53.5 623.6Z" fill="#1e90ff" fill-opacity="0.3"/><path d="M179.8 609.8L181.1 609.9L182.4 610.0L183.7 610.1L185.0 610.1L186.3 610.1L187.6 609.9L188.9 609.8L190.2 609.8L191.5 609.9L192.8 610.0L194.1 610.2L195.4 610.4L196.7 610.5L198.0 610.5L199.3 610.6L200.6 610.6L201.9 610.6L203.2 610.4L204.5 610.1L205.8 609.8L207.1 609.5L208.5 609.3L209.8 609.2L211.1 609.3L212.4 609.6L213.7 610.0L215.0 610.4L216.3 610.7L217.6 610.8L218.9 610.6L220.2 610.2L221.5 609.8L222.8 609.6L224.1 609.4L225.4 609.5L226.7 609.6L228.0 609.7L229.3 609.7L230.6 609.6L231.9 609.4L233.2 609.4L234.5 609.4L235.8 609.5L237.1 609.6L238.4 609.6L239.7 609.3L241.0 609.1L242.3 609.1L243.6 609.3L244.9 609.6L246.2 609.9L247.5 610.0L248.8 610.0L250.1 610.0L251.4 610.2L252.7 610.6L254.0 611.0L255.3 611.4L256.6 611.5L257.9 611.4L259.2 611.0L260.5 610.6L261.8 610.2L263.1 610.0L264.5 609.9L265.8 609.9L267.1 609.9L268.4 610.0L269.7 610.0L271.0 610.1L272.3 610.2L273.6 610.3L274.9 610.3L276.2 610.3L277.5 610.3L278.8 610.2L280.1 610.1L281.4 609.9L282.7 609.9L284.0 609.9L285.3 610.1L286.6 610.2L287.9 610.1L289.2 609.9L290.5 609.6L291.8 609.4L293.1 609.4L294.4 609.4L295.7 609.5L297.0 609.5L298.3 609.5L299.6 609.5L300.9 609.5L302.2 609.6L303.5 609.7L304.8 609.9L306.1 610.1L307.4 610.4L308.7 610.7L310.0 610.7L311.3 610.4L312.6 609.9L313.9 609.5L315.2 609.2L316.5 609.3L317.8 609.6L319.2 609.8L320.5 609.6L321.8 608.8L323.1 608.0L324.4 607.4L326.0 607.1L327.0 607.3L328.5 607.2L329.6 606.8L330.6 605.9L332.0 604.7L334.0 603.7L334.8 603.1L336.0 602.9L338.0 602.6L338.7 602.6L340.0 602.4L341.3 602.1L342.0 602.1L344.0 602.0L345.2 602.4L346.5 603.0L346.5 630.5L345.2 631.2L344.0 631.5L342.0 631.4L341.3 631.4L340.0 631.2L338.7 630.9L338.0 630.9L336.0 630.7L334.8 630.4L334.0 629.9L332.0 628.8L330.6 627.6L329.6 626.8L328.5 626.3L327.0 626.2L326.0 626.4L324.4 626.1L323.1 625.5L321.8 624.7L320.5 623.9L319.2 623.7L317.8 624.0L316.5 624.2L315.2 624.3L313.9 624.1L312.6 623.6L311.3 623.1L310.0 622.8L308.7 622.8L307.4 623.1L306.1 623.4L304.8 623.6L303.5 623.8L302.2 623.9L300.9 624.0L299.6 624.1L298.3 624.1L297.0 624.0L295.7 624.0L294.4 624.1L293.1 624.1L291.8 624.1L290.5 623.9L289.2 623.6L287.9 623.4L286.6 623.4L285.3 623.5L284.0 623.6L282.7 623.6L281.4 623.6L280.1 623.4L278.8 623.3L277.5 623.2L276.2 623.2L274.9 623.2L273.6 623.3L272.3 623.3L271.0 623.4L269.7 623.5L268.4 623.6L267.1 623.6L265.8 623.6L264.5 623.7L263.1 623.6L261.8 623.3L260.5 623.0L259.2 622.5L257.9 622.2L256.6 622.0L255.3 622.1L254.0 622.5L252.7 623.0L251.4 623.3L250.1 623.5L248.8 623.5L247.5 623.5L246.2 623.7L244.9 623.9L243.6 624.2L242.3 624.5L241.0 624.4L239.7 624.2L238.4 624.0L237.1 623.9L235.8 624.0L234.5 624.1L233.2 624.1L231.9 624.1L230.6 624.0L229.3 623.8L228.0 623.8L226.7 623.9L225.4 624.0L224.1 624.1L222.8 624.0L221.5 623.7L220.2 623.3L218.9 622.9L217.6 622.8L216.3 622.8L215.0 623.1L213.7 623.5L212.4 623.9L211.1 624.2L209.8 624.3L208.5 624.3L207.1 624.0L205.8 623.7L204.5 623.4L203.2 623.1L201.9 622.9L200.6 622.9L199.3 622.9L198.0 623.0L196.7 623.1L195.4 623.2L194.1 623.3L192.8 623.5L191.5 623.7L190.2 623.8L188.9 623.7L187.6 623.6L186.3 623.5L185.0 623.4L183.7 623.4L182.4 623.5L181.1 623.6L179.8 623.7Z" fill="#1e90ff" fill-opacity="0.3"/><path d="M53.5 572.4L54.8 571.6L56.1 577.3L57.4 578.6L58.7 574.1L60.1 572.8L61.4 577.8L62.7 575.9L64.0 577.2L65.3 578.3L66.6 578.4L67.9 574.2L69.2 575.2L70.5 575.7L71.8 580.6L73.2 569.0L74.5 576.2L75.8 574.3L77.1 577.3L78.4 573.6L79.7 579.1L81.0 575.2L82.3 576.2L83.6 573.3L85.0 578.7L86.3 577.3L87.6 576.1L88.9 569.8L90.2 579.5L91.5 574.8L92.8 577.5L94.1 575.2L95.4 574.5L96.7 576.2L98.1 576.1L99.4 576.2L100.7 578.5L102.0 577.4L103.3 581.2L104.6 577.5L105.9 578.4L107.2 576.8L108.5 574.0L109.8 574.8L111.2 574.4L112.5 572.7L113.8 582.2L115.1 574.5L116.4 576.0L117.7 576.4L119.0 580.0L120.3 575.2L121.6 573.9L123.0 574.5L124.3 577.7L125.6 575.5L126.9 574.4L128.2 571.3L129.5 572.3L130.8 574.7L132.1 574.3L133.4 573.9L134.7 573.7L136.1 576.1L137.4 573.1L138.7 577.8L140.0 578.8L141.3 576.0" stroke="#ff0000" stroke-width="1.75" fill="none" stroke-linejoin="round"/><path d="M182.5 575.5L183.8 575.2L185.1 567.3L186.4 568.4L187.7 575.4L189.0 575.4L190.3 573.6L191.6 573.2L192.9 577.3L194.2 578.5L195.5 570.1L196.8 572.9L198.1 580.8L199.4 581.5L200.7 578.7L202.0 575.5L203.3 574.5L204.6 577.2L205.9 581.1L207.2 575.7L208.5 574.6L209.8 576.6L211.1 578.2L212.4 575.1L213.7 577.1L215.0 580.4L216.3 576.9L217.6 581.3L218.9 574.6L220.2 576.3L221.5 580.9L222.8 577.2L224.2 574.0L225.5 584.3L226.8 577.9L228.1 572.1L229.4 581.6L230.7 577.1L232.0 580.7L233.3 576.3L234.6 583.5L235.9 581.2L237.2 578.0L238.5 576.1L239.8 575.5L241.1 575.6L242.4 573.5L243.7 575.1L245.0 575.2L246.3 580.6L247.6 578.1L248.9 567.5L250.2 570.0L251.5 574.1L252.8 574.0L254.1 572.7L255.4 576.7L256.7 568.9L258.0 576.0L259.3 574.9L260.6 567.7L261.9 581.1L263.2 573.3L264.5 580.0L265.8 576.7L267.1 575.0L268.4 576.1L269.7 574.7L271.0 578.0L272.3 576.2L273.6 579.9L274.9 577.4L276.2 580.4L277.5 573.6L278.8 579.5L280.1 572.9L281.4 576.2L282.7 575.9L284.0 571.3L285.3 575.0L286.6 581.9L287.9 574.6L289.2 586.1L290.5 576.1L291.8 578.5L293.1 581.9L294.4 577.1L295.7 578.1L297.0 570.2L298.3 577.7L299.6 569.4L300.9 570.8L302.2 576.9L303.5 577.2L304.8 570.0L306.2 574.6L307.5 573.6L308.8 575.1L310.1 578.3L311.4 575.6L312.7 577.6L314.0 579.5L315.3 575.5L316.6 568.8L317.9 569.7L319.2 575.7L320.5 575.5L321.8 574.7L323.1 572.2L324.4 575.9L325.7 578.7L327.0 578.4L328.3 573.2L329.6 568.1L330.9 578.6L332.2 583.1L333.5 573.0L334.8 575.5L336.1 574.3L337.4 570.2L338.7 573.9L340.0 578.5L341.3 580.7L342.6 574.5L343.9 578.7L345.2 574.4L346.5 580.3" stroke="#ff0000" stroke-width="1.75" fill="none" stroke-linejoin="round"/><path d="M53.5 589.5L54.8 601.6L56.1 592.3L57.4 595.2L58.7 596.3L60.0 598.2L61.3 597.3L62.6 600.3L63.9 601.0L65.2 597.2L66.5 602.4L67.8 595.2L69.1 595.0L70.4 609.8L71.7 604.3L73.0 598.6L74.3 598.6L75.6 598.6L76.9 597.2L78.2 595.7L79.5 595.1L80.8 592.1L82.1 597.8L83.4 595.3L84.7 603.2L86.0 598.5L87.3 601.8L88.6 593.2L89.9 589.7L91.2 594.9L92.5 600.3L93.8 596.1L95.1 595.4L96.4 594.7L97.7 591.8L99.0 592.3L100.3 604.0L101.5 591.4L102.8 597.7L104.1 598.3L105.4 592.3L106.7 598.1L108.0 602.0L109.3 602.1L110.6 597.9L111.9 595.1L113.2 593.1L114.5 598.2L115.8 598.8L117.1 591.6L118.4 598.1L119.7 591.6L121.0 595.5L122.3 595.5L123.6 597.1L124.9 595.5L126.2 598.3L127.5 599.3L128.8 597.9L130.1 599.9L131.4 596.9L132.7 597.8L134.0 599.0L135.3 598.6L136.6 598.4L137.9 591.5L139.2 596.8L140.5 598.3L141.8 596.8L143.1 593.2L144.4 595.9L145.7 595.6L147.0 596.0L148.3 594.6" stroke="#008000" stroke-width="1.75" fill="none" stroke-linejoin="round"/><path d="M190.0 594.2L191.3 600.3L192.6 603.0L193.9 594.4L195.2 592.1L196.5 597.4L197.8 594.9L199.1 599.3L200.4 595.7L201.7 588.9L203.0 590.1L204.3 593.2L205.7 595.3L207.0 602.2L208.3 592.6L209.6 592.3L210.9 589.8L212.2 585.3L213.5 594.1L214.8 591.6L216.1 602.5L217.4 591.0L218.7 592.9L220.0 590.4L221.3 593.7L222.6 594.6L223.9 589.0L225.2 599.6L226.5 592.7L227.8 590.2L229.1 599.6L230.4 601.5L231.7 593.6L233.0 595.6L234.3 593.5L235.6 593.7L236.9 601.3L238.3 596.0L239.6 592.2L240.9 600.1L242.2 599.9L243.5 604.5L244.8 594.9L246.1 589.5L247.4 606.8L248.7 595.9L250.0 595.0L251.3 602.0L252.6 600.3L253.9 603.0L255.2 600.8L256.5 594.9L257.8 591.5L259.1 593.7L260.4 589.6L261.7 593.1L263.0 600.7L264.3 587.9L265.6 590.0L266.9 600.4L268.2 588.1L269.6 595.1L270.9 596.9L272.2 587.6L273.5 610.0L274.8 604.6L276.1 591.8L277.4 596.0L278.7 599.0L280.0 585.8L281.3 590.9L282.6 600.1L283.9 597.3L285.2 590.0L286.5 585.6L287.8 605.9L289.1 594.6L290.4 598.1L291.7 605.3L293.0 596.9L294.3 604.2L295.6 598.4L296.9 586.9L298.2 592.3L299.6 590.5L300.9 591.2L302.2 592.1L303.5 588.4L304.8 599.1L306.1 594.3L307.4 587.4L308.7 595.2L310.0 593.3L311.3 584.5L312.6 582.9L313.9 594.8L315.2 596.7L316.5 590.3L317.8 593.0L319.1 599.0L320.4 593.3L321.7 594.2L323.0 597.0L324.3 581.8L325.6 589.8L326.9 592.2L328.2 590.5L329.5 579.6L330.9 589.1L332.2 598.5L333.5 592.8L334.8 594.0L336.1 597.2L337.4 592.8L338.7 592.9L340.0 594.6L341.3 597.2L342.6 590.5L343.9 603.9L345.2 591.5L346.5 596.3" stroke="#008000" stroke-width="1.75" fill="none" stroke-linejoin="round"/><path d="M53.5 613.9L54.8 611.4L56.1 612.6L57.4 607.9L58.7 617.9L60.0 614.0L61.3 618.2L62.6 609.3L63.9 607.6L65.2 616.6L66.5 614.1L67.8 610.3L69.1 617.9L70.4 620.3L71.7 610.6L73.0 612.2L74.3 614.8L75.6 606.5L76.9 611.8L78.2 621.1L79.5 611.4L80.8 613.7L82.1 605.1L83.4 614.5L84.7 615.8L86.0 613.1L87.3 614.2L88.6 622.0L89.9 614.7L91.2 616.7L92.5 608.5L93.8 603.9L95.1 621.2L96.4 621.0L97.7 621.0L99.0 620.7L100.3 621.3L101.6 618.2L102.9 613.4L104.2 625.0L105.5 625.9L106.8 626.9L108.1 611.8L109.4 609.8L110.7 623.0L112.0 622.7L113.3 613.4L114.6 608.2L115.9 608.3L117.2 612.5L118.5 610.5L119.8 612.9L121.1 618.2L122.4 606.6L123.7 616.8L125.0 622.9L126.3 620.1L127.6 625.7L128.9 617.7L130.2 611.8L131.5 623.2L132.8 610.3L134.1 604.7L135.4 612.9L136.7 620.5L138.0 619.0L139.3 616.7L140.6 622.2L141.9 622.8L143.2 618.5L144.5 618.7" stroke="#1e90ff" stroke-width="1.75" fill="none" stroke-linejoin="round"/><path d="M179.8 616.0L181.1 629.2L182.4 615.5L183.7 619.3L185.0 609.8L186.3 609.0L187.6 604.5L188.9 613.7L190.2 613.8L191.5 624.6L192.8 618.7L194.1 626.1L195.4 613.8L196.7 625.0L198.0 618.8L199.3 621.4L200.6 618.7L201.9 613.0L203.2 618.6L204.5 614.3L205.8 621.6L207.1 608.7L208.5 620.8L209.8 611.9L211.1 605.8L212.4 631.7L213.7 623.3L215.0 618.4L216.3 610.0L217.6 618.9L218.9 613.9L220.2 620.7L221.5 614.2L222.8 625.5L224.1 615.0L225.4 633.9L226.7 632.4L228.0 611.6L229.3 621.0L230.6 626.9L231.9 608.7L233.2 614.7L234.5 613.7L235.8 622.2L237.1 615.9L238.4 616.1L239.7 628.0L241.0 614.3L242.3 617.9L243.6 608.7L244.9 608.1L246.2 619.2L247.5 619.2L248.8 614.9L250.1 612.3L251.4 618.4L252.7 616.6L254.0 612.2L255.3 612.9L256.6 608.1L257.9 613.2L259.2 619.8L260.5 625.2L261.8 610.6L263.1 617.8L264.5 618.2L265.8 617.9L267.1 625.2L268.4 617.9L269.7 630.3L271.0 617.0L272.3 619.5L273.6 603.2L274.9 611.2L276.2 615.1L277.5 613.0L278.8 609.8L280.1 618.5L281.4 615.3L282.7 615.8L284.0 598.9L285.3 613.1L286.6 625.4L287.9 609.4L289.2 599.2L290.5 620.7L291.8 594.8L293.1 615.9L294.4 609.4L295.7 618.3L297.0 616.0L298.3 621.2L299.6 619.7L300.9 625.9L302.2 606.1L303.5 620.3L304.8 611.7L306.1 612.8L307.4 619.8L308.7 616.4L310.0 617.9L311.3 620.8L312.6 617.5L313.9 617.4L315.2 624.0L316.5 625.6L317.8 622.3L319.2 615.6L320.5 607.0L321.8 606.0L323.1 613.3L324.4 609.1L326.0 614.5L327.0 604.0L328.5 603.9L329.6 595.0L330.6 592.8L332.0 614.9L334.0 612.6L334.8 623.5L336.0 599.2L338.0 627.9L338.7 608.4L340.0 584.9L341.3 619.7L342.0 633.9L344.0 599.8L345.2 605.9L346.5 628.9" stroke="#1e90ff" stroke-width="1.75" fill="none" stroke-linejoin="round"/></g><path d="M53.50 562.00L53.50 557.20M53.50 442.60L53.50 447.40M118.61 562.00L118.61 557.20M118.61 442.60L118.61 447.40M183.72 562.00L183.72 557.20M183.72 442.60L183.72 447.40M248.83 562.00L248.83 557.20M248.83 442.60L248.83 447.40M313.94 562.00L313.94 557.20M313.94 442.60L313.94 447.40M53.50 554.80L58.30 554.80M346.50 554.80L341.70 554.80M53.50 520.80L58.30 520.80M346.50 520.80L341.70 520.80M53.50 486.80L58.30 486.80M346.50 486.80L341.70 486.80M53.50 452.80L58.30 452.80M346.50 452.80L341.70 452.80M60.01 562.00L60.01 559.50M60.01 442.60L60.01 445.10M66.52 562.00L66.52 559.50M66.52 442.60L66.52 445.10M73.03 562.00L73.03 559.50M73.03 442.60L73.03 445.10M79.54 562.00L79.54 559.50M79.54 442.60L79.54 445.10M86.06 562.00L86.06 559.50M86.06 442.60L86.06 445.10M92.57 562.00L92.57 559.50M92.57 442.60L92.57 445.10M99.08 562.00L99.08 559.50M99.08 442.60L99.08 445.10M105.59 562.00L105.59 559.50M105.59 442.60L105.59 445.10M112.10 562.00L112.10 559.50M112.10 442.60L112.10 445.10M125.12 562.00L125.12 559.50M125.12 442.60L125.12 445.10M131.63 562.00L131.63 559.50M131.63 442.60L131.63 445.10M138.14 562.00L138.14 559.50M138.14 442.60L138.14 445.10M144.66 562.00L144.66 559.50M144.66 442.60L144.66 445.10M151.17 562.00L151.17 559.50M151.17 442.60L151.17 445.10M157.68 562.00L157.68 559.50M157.68 442.60L157.68 445.10M164.19 562.00L164.19 559.50M164.19 442.60L164.19 445.10M170.70 562.00L170.70 559.50M170.70 442.60L170.70 445.10M177.21 562.00L177.21 559.50M177.21 442.60L177.21 445.10M190.23 562.00L190.23 559.50M190.23 442.60L190.23 445.10M196.74 562.00L196.74 559.50M196.74 442.60L196.74 445.10M203.26 562.00L203.26 559.50M203.26 442.60L203.26 445.10M209.77 562.00L209.77 559.50M209.77 442.60L209.77 445.10M216.28 562.00L216.28 559.50M216.28 442.60L216.28 445.10M222.79 562.00L222.79 559.50M222.79 442.60L222.79 445.10M229.30 562.00L229.30 559.50M229.30 442.60L229.30 445.10M235.81 562.00L235.81 559.50M235.81 442.60L235.81 445.10M242.32 562.00L242.32 559.50M242.32 442.60L242.32 445.10M255.34 562.00L255.34 559.50M255.34 442.60L255.34 445.10M261.86 562.00L261.86 559.50M261.86 442.60L261.86 445.10M268.37 562.00L268.37 559.50M268.37 442.60L268.37 445.10M274.88 562.00L274.88 559.50M274.88 442.60L274.88 445.10M281.39 562.00L281.39 559.50M281.39 442.60L281.39 445.10M287.90 562.00L287.90 559.50M287.90 442.60L287.90 445.10M294.41 562.00L294.41 559.50M294.41 442.60L294.41 445.10M300.92 562.00L300.92 559.50M300.92 442.60L300.92 445.10M307.43 562.00L307.43 559.50M307.43 442.60L307.43 445.10M320.46 562.00L320.46 559.50M320.46 442.60L320.46 445.10M326.97 562.00L326.97 559.50M326.97 442.60L326.97 445.10M333.48 562.00L333.48 559.50M333.48 442.60L333.48 445.10M339.99 562.00L339.99 559.50M339.99 442.60L339.99 445.10M346.50 562.00L346.50 559.50M346.50 442.60L346.50 445.10M53.50 537.80L56.00 537.80M346.50 537.80L344.00 537.80M53.50 503.80L56.00 503.80M346.50 503.80L344.00 503.80M53.50 469.80L56.00 469.80M346.50 469.80L344.00 469.80" stroke="#000" stroke-width="0.7" fill="none"/><rect x="53.5" y="442.6" width="293.00" height="119.40" fill="none" stroke="#000" stroke-width="1.25"/><text transform="translate(50.90,559.70) scale(1,1.06)" text-anchor="end">0.8</text><text transform="translate(50.90,525.70) scale(1,1.06)" text-anchor="end">0.9</text><text transform="translate(50.90,491.70) scale(1,1.06)" text-anchor="end">1.0</text><text transform="translate(50.90,457.70) scale(1,1.06)" text-anchor="end">1.1</text><path d="M53.50 630.45L53.50 625.65M53.50 562.00L53.50 566.80M118.61 630.45L118.61 625.65M118.61 562.00L118.61 566.80M183.72 630.45L183.72 625.65M183.72 562.00L183.72 566.80M248.83 630.45L248.83 625.65M248.83 562.00L248.83 566.80M313.94 630.45L313.94 625.65M313.94 562.00L313.94 566.80M53.50 623.61L58.30 623.61M346.50 623.61L341.70 623.61M53.50 609.92L58.30 609.92M346.50 609.92L341.70 609.92M53.50 596.23L58.30 596.23M346.50 596.23L341.70 596.23M53.50 582.53L58.30 582.53M346.50 582.53L341.70 582.53M53.50 568.85L58.30 568.85M346.50 568.85L341.70 568.85M60.01 630.45L60.01 627.95M60.01 562.00L60.01 564.50M66.52 630.45L66.52 627.95M66.52 562.00L66.52 564.50M73.03 630.45L73.03 627.95M73.03 562.00L73.03 564.50M79.54 630.45L79.54 627.95M79.54 562.00L79.54 564.50M86.06 630.45L86.06 627.95M86.06 562.00L86.06 564.50M92.57 630.45L92.57 627.95M92.57 562.00L92.57 564.50M99.08 630.45L99.08 627.95M99.08 562.00L99.08 564.50M105.59 630.45L105.59 627.95M105.59 562.00L105.59 564.50M112.10 630.45L112.10 627.95M112.10 562.00L112.10 564.50M125.12 630.45L125.12 627.95M125.12 562.00L125.12 564.50M131.63 630.45L131.63 627.95M131.63 562.00L131.63 564.50M138.14 630.45L138.14 627.95M138.14 562.00L138.14 564.50M144.66 630.45L144.66 627.95M144.66 562.00L144.66 564.50M151.17 630.45L151.17 627.95M151.17 562.00L151.17 564.50M157.68 630.45L157.68 627.95M157.68 562.00L157.68 564.50M164.19 630.45L164.19 627.95M164.19 562.00L164.19 564.50M170.70 630.45L170.70 627.95M170.70 562.00L170.70 564.50M177.21 630.45L177.21 627.95M177.21 562.00L177.21 564.50M190.23 630.45L190.23 627.95M190.23 562.00L190.23 564.50M196.74 630.45L196.74 627.95M196.74 562.00L196.74 564.50M203.26 630.45L203.26 627.95M203.26 562.00L203.26 564.50M209.77 630.45L209.77 627.95M209.77 562.00L209.77 564.50M216.28 630.45L216.28 627.95M216.28 562.00L216.28 564.50M222.79 630.45L222.79 627.95M222.79 562.00L222.79 564.50M229.30 630.45L229.30 627.95M229.30 562.00L229.30 564.50M235.81 630.45L235.81 627.95M235.81 562.00L235.81 564.50M242.32 630.45L242.32 627.95M242.32 562.00L242.32 564.50M255.34 630.45L255.34 627.95M255.34 562.00L255.34 564.50M261.86 630.45L261.86 627.95M261.86 562.00L261.86 564.50M268.37 630.45L268.37 627.95M268.37 562.00L268.37 564.50M274.88 630.45L274.88 627.95M274.88 562.00L274.88 564.50M281.39 630.45L281.39 627.95M281.39 562.00L281.39 564.50M287.90 630.45L287.90 627.95M287.90 562.00L287.90 564.50M294.41 630.45L294.41 627.95M294.41 562.00L294.41 564.50M300.92 630.45L300.92 627.95M300.92 562.00L300.92 564.50M307.43 630.45L307.43 627.95M307.43 562.00L307.43 564.50M320.46 630.45L320.46 627.95M320.46 562.00L320.46 564.50M326.97 630.45L326.97 627.95M326.97 562.00L326.97 564.50M333.48 630.45L333.48 627.95M333.48 562.00L333.48 564.50M339.99 630.45L339.99 627.95M339.99 562.00L339.99 564.50M346.50 630.45L346.50 627.95M346.50 562.00L346.50 564.50M53.50 630.45L56.00 630.45M346.50 630.45L344.00 630.45M53.50 616.76L56.00 616.76M346.50 616.76L344.00 616.76M53.50 603.07L56.00 603.07M346.50 603.07L344.00 603.07M53.50 589.38L56.00 589.38M346.50 589.38L344.00 589.38M53.50 575.69L56.00 575.69M346.50 575.69L344.00 575.69M53.50 562.00L56.00 562.00M346.50 562.00L344.00 562.00" stroke="#000" stroke-width="0.7" fill="none"/><rect x="53.5" y="562.0" width="293.00" height="68.45" fill="none" stroke="#000" stroke-width="1.25"/><text transform="translate(50.90,573.25) scale(1,1.06)" text-anchor="end">4</text><text transform="translate(50.90,586.93) scale(1,1.06)" text-anchor="end">2</text><text transform="translate(50.90,600.62) scale(1,1.06)" text-anchor="end">0</text><text transform="translate(50.90,614.32) scale(1,1.06)" text-anchor="end">−2</text><text transform="translate(50.90,628.00) scale(1,1.06)" text-anchor="end">−4</text><text transform="translate(54.30,647.15) scale(1,1.06)" text-anchor="middle">0.80</text><text transform="translate(119.41,647.15) scale(1,1.06)" text-anchor="middle">0.82</text><text transform="translate(184.52,647.15) scale(1,1.06)" text-anchor="middle">0.84</text><text transform="translate(249.63,647.15) scale(1,1.06)" text-anchor="middle">0.86</text><text transform="translate(314.74,647.15) scale(1,1.06)" text-anchor="middle">0.88</text><clipPath id="cm5"><rect x="391.0" y="442.6" width="293.0" height="119.39999999999998"/></clipPath><clipPath id="cr5"><rect x="391.0" y="562.0" width="293.0" height="68.45000000000005"/></clipPath><g clip-path="url(#cm5)"><path d="M391.0 461.2L393.3 454.8L395.7 463.0L398.0 453.6L400.0 469.6L402.7 465.1L405.1 479.6L407.4 475.8L410.0 484.1L412.1 488.3L414.5 486.8L416.8 500.8L420.0 487.6L421.5 492.0L423.9 484.9L426.2 482.0L428.6 486.0L430.9 486.7L433.3 492.2L435.6 483.8L438.0 491.1L440.0 484.1L442.7 489.5L445.0 468.0L447.4 477.5L449.7 461.8L452.1 468.2L454.4 460.8L456.8 464.7L460.0 461.5L461.5 463.4L463.0 454.2L466.2 460.1L468.5 460.5L470.9 454.1L473.2 466.1L475.6 453.1L477.9 459.0L480.0 467.0L482.6 454.4L485.0 457.5L487.3 446.6L489.7 459.7L492.0 458.3L495.0 460.5L496.7 476.6L500.0 469.2L501.4 479.2L503.8 467.9L506.1 468.8L508.5 480.4L510.8 491.3L513.2 483.0L515.5 484.3L517.9 482.1L520.0 488.3L522.6 493.4L524.9 486.6L527.3 489.3L529.6 471.9L532.0 483.3L534.3 480.5L536.7 474.7L540.0 478.9L541.4 472.9L543.7 468.7L546.1 468.4L548.4 465.3L550.8 455.6L553.1 460.1L555.0 470.7L557.8 468.2L560.2 464.0L562.5 474.1L564.9 471.7L567.2 473.2L570.0 469.5L571.9 473.2L574.3 472.3L576.6 476.1L580.0 470.2L581.3 478.9L583.7 466.4L586.0 479.4L588.0 483.6L590.7 478.1L593.1 483.4L595.0 482.9L597.8 483.6L600.1 486.4L602.5 485.4L605.0 480.5L607.2 468.1L609.5 475.1L611.9 470.7L615.0 467.3L616.6 458.9L618.9 448.9L622.0 462.3L623.6 454.8L626.0 459.0L628.3 463.9L630.0 461.6L633.0 473.6L635.4 463.7L637.7 469.7L640.0 479.0L642.4 468.7L644.8 477.6L648.0 482.3L649.5 497.8L651.8 491.3L655.0 490.7L656.5 481.7L658.9 473.1L661.2 486.4L663.6 470.5L665.9 467.0L668.0 457.4L670.6 462.3L672.0 468.9L676.0 466.7L677.7 469.9L680.0 466.1" stroke="#ff0000" stroke-width="1.55" fill="none" stroke-linejoin="round"/><path d="M391.0 495.7L393.3 499.2L395.7 494.5L398.0 505.5L400.4 513.4L402.0 518.0L405.1 519.0L407.4 518.6L410.0 531.6L412.1 538.6L414.5 531.6L416.8 535.6L420.0 534.2L421.5 522.3L423.9 536.0L426.2 527.2L428.6 536.1L430.0 529.2L433.3 526.6L435.6 525.2L438.0 537.8L440.0 527.7L442.7 526.0L445.0 526.9L447.4 500.5L449.0 504.3L452.0 496.1L454.4 486.5L456.8 498.5L460.0 483.3L461.5 488.7L463.8 498.6L466.2 495.8L468.5 496.9L470.0 489.5L473.2 498.4L475.6 498.8L478.0 500.0L480.3 491.3L482.6 498.1L485.0 491.8L487.3 488.8L489.7 493.4L493.0 498.3L494.4 487.6L496.7 495.9L500.0 496.3L501.4 494.4L503.8 508.1L506.1 508.1L508.5 493.1L510.0 507.8L513.2 515.4L515.5 513.5L517.9 516.7L520.2 520.8L522.6 516.8L525.0 514.0L527.3 512.4L529.6 507.9L532.0 517.4L535.0 514.3L536.7 503.0L539.0 508.8L541.4 500.2L543.7 504.3L545.0 512.6L548.4 494.9L550.0 499.4L553.1 496.7L556.0 496.8L557.8 496.5L560.2 512.5L562.5 513.5L565.0 519.3L567.2 517.5L569.6 533.5L571.9 521.8L574.3 517.2L576.6 515.6L580.0 522.4L581.3 516.7L583.7 519.5L586.0 529.2L588.4 534.6L590.7 537.9L593.1 537.8L595.0 534.3L597.8 531.7L601.0 538.4L602.5 538.7L604.8 534.4L606.0 523.5L609.5 519.8L612.0 514.1L614.2 511.0L616.6 508.8L618.9 507.9L622.0 508.0L623.6 504.3L626.0 499.0L628.3 497.4L630.0 501.8L633.0 502.6L635.4 494.7L637.7 505.2L640.1 503.1L642.4 507.1L645.0 511.6L647.1 517.9L650.0 516.8L651.8 520.1L654.2 513.7L656.5 524.5L660.0 521.4L661.2 515.8L664.0 519.5L665.9 513.8L668.3 509.4L670.6 519.7L672.0 512.6L675.3 513.6L677.0 501.8L680.0 505.7" stroke="#008000" stroke-width="1.55" fill="none" stroke-linejoin="round"/><path d="M391.0 464.5L392.0 463.3L393.0 462.4L394.0 461.7L395.0 461.3L396.0 461.1L397.0 461.1L398.0 461.6L399.0 462.5L400.0 463.8L401.0 465.3L402.0 467.0L403.0 468.7L404.0 470.4L405.0 472.0L406.0 473.7L407.0 475.7L408.0 477.9L409.0 480.1L410.0 482.3L411.0 484.3L412.0 486.1L413.0 487.3L414.0 488.0L415.0 488.1L416.0 487.7L417.0 487.1L418.0 486.3L419.0 485.3L420.0 484.2L421.0 483.0L422.0 481.8L423.0 480.7L424.0 479.7L425.0 478.8L426.0 478.2L427.0 477.8L428.0 477.7L429.0 477.9L430.0 478.3L431.0 478.9L432.0 479.5L433.0 480.3L434.0 481.0L435.0 481.7L436.0 482.4L437.0 482.9L438.0 483.3L439.0 483.4L440.0 483.0L441.0 481.8L442.0 480.1L443.0 478.0L444.0 475.8L445.0 473.7L446.0 471.9L447.0 470.6L448.0 469.4L449.0 468.2L450.0 467.0L451.0 466.0L452.0 465.0L453.0 464.3L454.0 463.8L455.0 463.6L456.0 463.7L457.0 464.0L458.0 464.5L459.0 465.2L460.0 465.9L461.0 466.7L462.0 467.5L463.0 468.3L464.0 469.0L465.0 469.5L466.0 470.0L467.0 470.2L468.0 470.2L469.0 469.9L470.0 469.4L471.0 468.8L472.0 468.1L473.0 467.3L474.0 466.5L475.0 465.7L476.0 465.0L477.0 464.4L478.0 463.8L479.0 463.2L480.0 462.5L481.0 461.9L482.0 461.2L483.0 460.7L484.0 460.1L485.0 459.6L486.0 459.2L487.0 458.9L488.0 458.7L489.0 458.5L490.0 458.5L491.0 458.7L492.0 459.2L493.0 459.8L494.0 460.7L495.0 461.6L496.0 462.6L497.0 463.6L498.0 464.6L499.0 465.5L500.0 466.4L501.0 467.2L502.0 468.1L503.0 469.1L504.0 470.1L505.0 471.1L506.0 472.2L507.0 473.3L508.0 474.4L509.0 475.5L510.0 476.6L511.0 477.6L512.0 478.6L513.0 479.6L514.0 480.5L515.0 481.3L516.0 482.1L517.0 482.7L518.0 483.3L519.0 483.7L520.0 484.1L521.0 484.3L522.0 484.3L523.0 484.1L524.0 483.8L525.0 483.2L526.0 482.6L527.0 481.7L528.0 480.8L529.0 479.8L530.0 478.7L531.0 477.6L532.0 476.5L533.0 475.4L534.0 474.3L535.0 473.3L536.0 472.4L537.0 471.6L538.0 471.0L539.0 470.3L540.0 469.7L541.0 469.0L542.0 468.3L543.0 467.7L544.0 467.0L545.0 466.4L546.0 465.9L547.0 465.4L548.0 465.0L549.0 464.7L550.0 464.6L551.0 464.5L552.0 464.6L553.0 464.9L554.0 465.4L555.0 466.1L556.0 466.9L557.0 467.8L558.0 468.7L559.0 469.7L560.0 470.6L561.0 471.6L562.0 472.4L563.0 473.2L564.0 473.9L565.0 474.4L566.0 474.8L567.0 474.9L568.0 474.8L569.0 474.4L570.0 473.8L571.0 473.1L572.0 472.2L573.0 471.3L574.0 470.4L575.0 469.5L576.0 468.7L577.0 468.1L578.0 467.6L579.0 467.4L580.0 467.5L581.0 467.7L582.0 468.2L583.0 468.7L584.0 469.4L585.0 470.0L586.0 470.8L587.0 471.7L588.0 472.8L589.0 473.8L590.0 474.8L591.0 475.7L592.0 476.7L593.0 477.8L594.0 478.9L595.0 479.9L596.0 480.9L597.0 481.7L598.0 482.4L599.0 483.0L600.0 483.3L601.0 483.4L602.0 483.2L603.0 482.8L604.0 482.2L605.0 481.4L606.0 480.4L607.0 479.4L608.0 478.3L609.0 477.1L610.0 476.0L611.0 474.8L612.0 473.8L613.0 472.8L614.0 472.0L615.0 471.2L616.0 470.4L617.0 469.5L618.0 468.6L619.0 467.7L620.0 466.9L621.0 466.0L622.0 465.2L623.0 464.5L624.0 463.9L625.0 463.4L626.0 463.0L627.0 462.7L628.0 462.6L629.0 462.7L630.0 462.9L631.0 463.3L632.0 463.8L633.0 464.4L634.0 465.1L635.0 465.9L636.0 466.7L637.0 467.5L638.0 468.3L639.0 469.2L640.0 469.9L641.0 470.7L642.0 471.5L643.0 472.5L644.0 473.5L645.0 474.6L646.0 475.7L647.0 476.8L648.0 477.8L649.0 478.8L650.0 479.6L651.0 480.3L652.0 480.8L653.0 481.1L654.0 481.1L655.0 480.9L656.0 480.4L657.0 479.8L658.0 479.1L659.0 478.2L660.0 477.3L661.0 476.3L662.0 475.3L663.0 474.3L664.0 473.3L665.0 472.4L666.0 471.6L667.0 471.0L668.0 470.4L669.0 469.8L670.0 469.2L671.0 468.7L672.0 468.1L673.0 467.6L674.0 467.1L675.0 466.6L676.0 466.2L677.0 465.7L678.0 465.3L679.0 464.9L680.0 464.5" stroke="#000" stroke-width="1.5" fill="none" stroke-linejoin="round"/><path d="M391.0 500.4L392.0 501.1L393.0 501.9L394.0 502.8L395.0 503.8L396.0 504.9L397.0 506.0L398.0 507.2L399.0 508.5L400.0 509.9L401.0 511.3L402.0 512.8L403.0 514.8L404.0 517.2L405.0 519.9L406.0 522.7L407.0 525.6L408.0 528.5L409.0 531.3L410.0 533.8L411.0 536.1L412.0 537.9L413.0 539.2L414.0 539.9L415.0 540.0L416.0 539.6L417.0 539.0L418.0 538.2L419.0 537.2L420.0 536.0L421.0 534.8L422.0 533.5L423.0 532.2L424.0 530.9L425.0 529.7L426.0 528.7L427.0 527.8L428.0 527.2L429.0 526.9L430.0 526.8L431.0 526.9L432.0 526.9L433.0 527.1L434.0 527.2L435.0 527.3L436.0 527.5L437.0 527.6L438.0 527.7L439.0 527.7L440.0 527.4L441.0 526.5L442.0 525.1L443.0 523.3L444.0 521.2L445.0 518.9L446.0 516.7L447.0 514.5L448.0 512.6L449.0 510.8L450.0 508.9L451.0 506.9L452.0 504.8L453.0 502.9L454.0 501.4L455.0 500.4L456.0 500.0L457.0 500.0L458.0 500.1L459.0 500.3L460.0 500.5L461.0 500.7L462.0 500.9L463.0 501.1L464.0 501.2L465.0 501.3L466.0 501.3L467.0 501.0L468.0 500.4L469.0 499.7L470.0 498.7L471.0 497.7L472.0 496.6L473.0 495.5L474.0 494.4L475.0 493.4L476.0 492.5L477.0 491.8L478.0 491.1L479.0 490.4L480.0 489.8L481.0 489.1L482.0 488.5L483.0 487.9L484.0 487.4L485.0 486.8L486.0 486.3L487.0 485.8L488.0 485.3L489.0 484.9L490.0 484.5L491.0 484.3L492.0 484.6L493.0 485.3L494.0 486.2L495.0 487.3L496.0 488.7L497.0 490.2L498.0 491.8L499.0 493.4L500.0 495.0L501.0 496.6L502.0 498.1L503.0 499.4L504.0 500.5L505.0 501.6L506.0 502.7L507.0 503.8L508.0 505.0L509.0 506.2L510.0 507.4L511.0 508.6L512.0 509.7L513.0 510.8L514.0 511.9L515.0 512.9L516.0 513.8L517.0 514.6L518.0 515.3L519.0 515.9L520.0 516.4L521.0 516.8L522.0 517.0L523.0 517.0L524.0 516.9L525.0 516.6L526.0 516.3L527.0 515.9L528.0 515.3L529.0 514.8L530.0 514.2L531.0 513.5L532.0 512.9L533.0 512.3L534.0 511.7L535.0 511.2L536.0 510.8L537.0 510.3L538.0 509.8L539.0 509.3L540.0 508.8L541.0 508.3L542.0 507.8L543.0 507.3L544.0 506.9L545.0 506.5L546.0 506.2L547.0 505.9L548.0 505.8L549.0 505.7L550.0 505.8L551.0 506.2L552.0 506.8L553.0 507.6L554.0 508.7L555.0 509.8L556.0 511.1L557.0 512.4L558.0 513.7L559.0 515.0L560.0 516.3L561.0 517.5L562.0 518.6L563.0 519.5L564.0 520.2L565.0 520.6L566.0 520.8L567.0 520.7L568.0 520.4L569.0 519.9L570.0 519.3L571.0 518.5L572.0 517.8L573.0 517.1L574.0 516.4L575.0 515.8L576.0 515.4L577.0 515.1L578.0 515.1L579.0 515.3L580.0 515.7L581.0 516.1L582.0 516.7L583.0 517.4L584.0 518.1L585.0 518.9L586.0 520.0L587.0 521.5L588.0 523.1L589.0 524.5L590.0 525.4L591.0 526.4L592.0 527.2L593.0 528.1L594.0 528.9L595.0 529.5L596.0 530.1L597.0 530.6L598.0 530.8L599.0 530.9L600.0 530.8L601.0 530.4L602.0 529.9L603.0 529.3L604.0 528.4L605.0 527.5L606.0 526.5L607.0 525.4L608.0 524.2L609.0 523.1L610.0 521.9L611.0 520.7L612.0 519.5L613.0 518.4L614.0 517.4L615.0 516.3L616.0 515.1L617.0 513.8L618.0 512.4L619.0 510.9L620.0 509.5L621.0 508.0L622.0 506.6L623.0 505.4L624.0 504.2L625.0 503.2L626.0 502.3L627.0 501.7L628.0 501.4L629.0 501.3L630.0 501.4L631.0 501.7L632.0 502.1L633.0 502.5L634.0 503.1L635.0 503.7L636.0 504.3L637.0 504.9L638.0 505.6L639.0 506.2L640.0 506.8L641.0 507.3L642.0 508.0L643.0 508.6L644.0 509.4L645.0 510.1L646.0 510.9L647.0 511.6L648.0 512.4L649.0 513.1L650.0 513.7L651.0 514.2L652.0 514.6L653.0 514.9L654.0 515.1L655.0 515.1L656.0 515.0L657.0 514.7L658.0 514.4L659.0 514.1L660.0 513.7L661.0 513.3L662.0 512.8L663.0 512.5L664.0 512.1L665.0 511.9L666.0 511.7L667.0 511.7L668.0 511.8L669.0 511.9L670.0 512.2L671.0 512.5L672.0 513.0L673.0 513.5L674.0 514.1L675.0 514.7L676.0 515.4L677.0 516.2L678.0 517.1L679.0 518.0L680.0 518.9" stroke="#000" stroke-width="1.5" fill="none" stroke-linejoin="round"/></g><g clip-path="url(#cr5)"><path d="M391.0 605.7L393.3 605.7L395.7 605.6L398.0 605.5L400.0 605.5L402.7 605.4L405.1 605.3L407.4 605.1L410.0 604.8L412.1 604.5L414.5 604.3L416.8 604.3L420.0 604.5L421.5 604.8L423.9 605.0L426.2 605.3L428.6 605.5L430.9 605.7L433.3 605.8L435.6 605.9L438.0 605.8L440.0 605.8L442.7 605.8L445.0 605.8L447.4 606.0L449.7 606.1L452.1 606.2L454.4 606.1L456.8 606.0L460.0 606.0L461.5 606.0L463.0 606.0L466.2 606.0L468.5 605.8L470.9 605.4L473.2 604.9L475.6 604.5L477.9 604.4L480.0 604.4L482.6 604.7L485.0 605.0L487.3 605.3L489.7 605.4L492.0 605.4L495.0 605.3L496.7 605.1L500.0 604.9L501.4 604.9L503.8 604.9L506.1 605.0L508.5 605.1L510.8 605.2L513.2 605.3L515.5 605.4L517.9 605.5L520.0 605.7L522.6 605.8L524.9 605.8L527.3 605.9L529.6 606.1L532.0 606.5L534.3 606.9L536.7 607.1L540.0 607.0L541.4 606.8L543.7 606.5L546.1 606.3L548.4 606.1L550.8 605.9L553.1 605.5L555.0 605.1L557.8 604.7L560.2 604.6L562.5 604.7L564.9 605.1L567.2 605.6L570.0 606.0L571.9 606.2L574.3 606.0L576.6 605.7L580.0 605.4L581.3 605.1L583.7 604.9L586.0 604.9L588.0 604.9L590.7 605.1L593.1 605.4L595.0 605.7L597.8 605.8L600.1 605.9L602.5 605.8L605.0 605.7L607.2 605.5L609.5 605.4L611.9 605.4L615.0 605.3L616.6 605.3L618.9 605.3L622.0 605.3L623.6 605.3L626.0 605.4L628.3 605.5L630.0 605.7L633.0 605.7L635.4 605.8L637.7 605.7L640.0 605.7L642.4 605.7L644.8 605.7L648.0 605.8L649.5 605.7L651.8 605.6L655.0 605.5L656.5 605.4L658.9 605.2L661.2 605.0L663.6 604.9L665.9 604.9L668.0 605.0L670.6 605.1L672.0 605.3L676.0 605.6L677.7 605.8L680.0 606.0L680.0 620.7L677.7 620.9L676.0 621.1L672.0 621.3L670.6 621.6L668.0 621.7L665.9 621.8L663.6 621.7L661.2 621.6L658.9 621.5L656.5 621.3L655.0 621.2L651.8 621.1L649.5 621.0L648.0 620.9L644.8 620.9L642.4 621.0L640.0 621.0L637.7 620.9L635.4 620.9L633.0 620.9L630.0 621.0L628.3 621.1L626.0 621.3L623.6 621.4L622.0 621.4L618.9 621.4L616.6 621.3L615.0 621.3L611.9 621.3L609.5 621.3L607.2 621.2L605.0 621.0L602.5 620.8L600.1 620.8L597.8 620.8L595.0 621.0L593.1 621.3L590.7 621.5L588.0 621.7L586.0 621.8L583.7 621.8L581.3 621.6L580.0 621.3L576.6 620.9L574.3 620.6L571.9 620.5L570.0 620.7L567.2 621.0L564.9 621.5L562.5 621.9L560.2 622.1L557.8 621.9L555.0 621.6L553.1 621.1L550.8 620.8L548.4 620.6L546.1 620.4L543.7 620.1L541.4 619.8L540.0 619.6L536.7 619.6L534.3 619.8L532.0 620.2L529.6 620.5L527.3 620.8L524.9 620.9L522.6 620.9L520.0 621.0L517.9 621.1L515.5 621.3L513.2 621.4L510.8 621.5L508.5 621.6L506.1 621.7L503.8 621.8L501.4 621.8L500.0 621.8L496.7 621.6L495.0 621.4L492.0 621.3L489.7 621.2L487.3 621.4L485.0 621.7L482.6 622.0L480.0 622.2L477.9 622.3L475.6 622.1L473.2 621.8L470.9 621.3L468.5 620.9L466.2 620.7L463.0 620.6L461.5 620.7L460.0 620.7L456.8 620.6L454.4 620.5L452.1 620.5L449.7 620.5L447.4 620.7L445.0 620.9L442.7 620.9L440.0 620.9L438.0 620.8L435.6 620.8L433.3 620.9L430.9 621.0L428.6 621.2L426.2 621.4L423.9 621.6L421.5 621.9L420.0 622.2L416.8 622.4L414.5 622.4L412.1 622.2L410.0 621.9L407.4 621.6L405.1 621.3L402.7 621.2L400.0 621.2L398.0 621.2L395.7 621.1L393.3 621.0L391.0 620.9Z" fill="#ff0000" fill-opacity="0.3"/><path d="M391.0 571.9L393.3 572.2L395.7 572.4L398.0 572.5L400.4 572.5L402.0 572.4L405.1 572.3L407.4 572.2L410.0 572.0L412.1 571.9L414.5 571.9L416.8 572.0L420.0 572.1L421.5 572.1L423.9 572.1L426.2 572.1L428.6 572.1L430.0 572.2L433.3 572.3L435.6 572.5L438.0 572.5L440.0 572.3L442.7 572.1L445.0 571.9L447.4 571.7L449.0 571.7L452.0 571.7L454.4 571.7L456.8 571.9L460.0 571.9L461.5 571.9L463.8 571.8L466.2 571.7L468.5 571.7L470.0 571.9L473.2 572.2L475.6 572.5L478.0 572.6L480.3 572.5L482.6 572.3L485.0 572.2L487.3 572.2L489.7 572.3L493.0 572.3L494.4 572.3L496.7 572.1L500.0 572.1L501.4 572.1L503.8 572.3L506.1 572.7L508.5 573.2L510.0 573.6L513.2 573.7L515.5 573.7L517.9 573.4L520.2 572.9L522.6 572.4L525.0 572.0L527.3 571.9L529.6 571.8L532.0 571.8L535.0 572.0L536.7 572.2L539.0 572.4L541.4 572.7L543.7 572.8L545.0 572.9L548.4 573.0L550.0 573.0L553.1 572.7L556.0 572.3L557.8 571.8L560.2 571.5L562.5 571.4L565.0 571.7L567.2 572.1L569.6 572.5L571.9 572.6L574.3 572.5L576.6 572.4L580.0 572.3L581.3 572.2L583.7 572.1L586.0 572.0L588.4 572.0L590.7 572.0L593.1 572.0L595.0 572.0L597.8 571.9L601.0 571.6L602.5 571.4L604.8 571.3L606.0 571.2L609.5 571.1L612.0 571.1L614.2 571.1L616.6 571.3L618.9 571.7L622.0 572.1L623.6 572.4L626.0 572.5L628.3 572.4L630.0 572.2L633.0 571.9L635.4 571.7L637.7 571.6L640.1 571.6L642.4 571.8L645.0 572.0L647.1 572.1L650.0 572.3L651.8 572.4L654.2 572.5L656.5 572.6L660.0 572.7L661.2 572.6L664.0 572.5L665.9 572.4L668.3 572.3L670.6 572.2L672.0 572.3L675.3 572.4L677.0 572.4L680.0 572.6L680.0 585.7L677.0 585.8L675.3 585.9L672.0 586.0L670.6 586.0L668.3 586.0L665.9 585.9L664.0 585.8L661.2 585.6L660.0 585.5L656.5 585.6L654.2 585.7L651.8 585.8L650.0 586.0L647.1 586.1L645.0 586.3L642.4 586.4L640.1 586.6L637.7 586.6L635.4 586.5L633.0 586.3L630.0 586.0L628.3 585.8L626.0 585.7L623.6 585.8L622.0 586.1L618.9 586.5L616.6 586.9L614.2 587.1L612.0 587.2L609.5 587.1L606.0 587.0L604.8 586.9L602.5 586.8L601.0 586.6L597.8 586.4L595.0 586.2L593.1 586.2L590.7 586.2L588.4 586.3L586.0 586.2L583.7 586.1L581.3 586.0L580.0 585.9L576.6 585.8L574.3 585.7L571.9 585.6L569.6 585.8L567.2 586.1L565.0 586.5L562.5 586.8L560.2 586.8L557.8 586.4L556.0 585.9L553.1 585.5L550.0 585.2L548.4 585.2L545.0 585.3L543.7 585.4L541.4 585.6L539.0 585.8L536.7 586.0L535.0 586.3L532.0 586.4L529.6 586.4L527.3 586.3L525.0 586.2L522.6 585.8L520.2 585.3L517.9 584.9L515.5 584.5L513.2 584.5L510.0 584.7L508.5 585.0L506.1 585.5L503.8 585.9L501.4 586.1L500.0 586.2L496.7 586.1L494.4 586.0L493.0 585.9L489.7 585.9L487.3 586.0L485.0 586.0L482.6 585.9L480.3 585.7L478.0 585.6L475.6 585.8L473.2 586.0L470.0 586.3L468.5 586.5L466.2 586.5L463.8 586.4L461.5 586.3L460.0 586.3L456.8 586.4L454.4 586.5L452.0 586.6L449.0 586.6L447.4 586.5L445.0 586.3L442.7 586.1L440.0 585.9L438.0 585.7L435.6 585.7L433.3 585.9L430.0 586.0L428.6 586.1L426.2 586.1L423.9 586.1L421.5 586.1L420.0 586.1L416.8 586.2L414.5 586.4L412.1 586.4L410.0 586.2L407.4 586.0L405.1 585.9L402.0 585.8L400.4 585.7L398.0 585.7L395.7 585.8L393.3 586.0L391.0 586.4Z" fill="#008000" fill-opacity="0.3"/><path d="M391.0 609.7L393.3 605.1L395.7 615.4L398.0 604.3L400.0 619.9L402.7 609.7L405.1 621.8L407.4 612.4L410.0 615.4L412.1 615.7L414.5 611.8L416.8 629.0L420.0 617.3L421.5 624.3L423.9 619.2L426.2 617.8L428.6 622.7L430.9 622.3L433.3 626.8L435.6 615.2L438.0 622.4L440.0 614.6L442.7 625.7L445.0 606.9L447.4 621.7L449.7 607.1L452.1 616.9L454.4 610.1L456.8 614.2L460.0 608.4L461.5 609.1L463.0 597.4L466.2 602.1L468.5 602.5L470.9 596.6L473.2 612.1L475.6 599.6L477.9 607.9L480.0 618.4L482.6 606.0L485.0 611.0L487.3 599.6L489.7 614.7L492.0 612.3L495.0 612.1L496.7 628.3L500.0 616.5L501.4 626.5L503.8 611.1L506.1 609.3L508.5 619.6L510.8 629.1L513.2 617.0L515.5 616.3L517.9 612.1L520.0 618.2L522.6 623.9L524.9 617.2L527.3 622.3L529.6 605.0L532.0 621.1L534.3 620.7L536.7 616.6L540.0 623.8L541.4 618.0L543.7 615.0L546.1 616.3L548.4 613.8L550.8 603.4L553.1 607.8L555.0 618.5L557.8 613.0L560.2 605.6L562.5 614.8L564.9 610.3L567.2 611.4L570.0 608.4L571.9 614.3L574.3 615.8L576.6 622.1L580.0 616.5L581.3 625.8L583.7 610.3L586.0 623.1L588.0 625.7L590.7 616.4L593.1 619.7L595.0 616.8L597.8 614.8L600.1 616.9L602.5 616.1L605.0 612.4L607.2 600.6L609.5 611.7L611.9 609.6L615.0 608.8L616.6 600.8L618.9 591.9L622.0 610.0L623.6 602.9L626.0 608.9L628.3 614.8L630.0 611.9L633.0 623.7L635.4 610.6L637.7 615.1L640.0 623.7L642.4 609.7L644.8 617.1L648.0 618.4L649.5 634.7L651.8 625.5L655.0 624.6L656.5 615.1L658.9 607.3L661.2 625.1L663.6 609.7L665.9 607.9L668.0 598.6L670.6 605.8L672.0 614.1L676.0 614.0L677.7 618.4L680.0 615.1" stroke="#ff0000" stroke-width="1.75" fill="none" stroke-linejoin="round"/><path d="M391.0 573.6L393.3 575.6L395.7 567.3L398.0 577.0L400.4 582.6L402.0 585.2L405.1 577.7L407.4 569.1L410.0 576.4L412.1 579.6L414.5 568.9L416.8 574.9L420.0 576.9L421.5 564.9L423.9 585.1L426.2 577.6L428.6 590.0L430.0 582.0L433.3 578.5L435.6 576.4L438.0 591.4L440.0 579.5L442.7 581.7L445.0 588.6L447.4 563.5L449.0 571.4L452.0 568.9L454.4 562.3L456.8 577.3L460.0 559.1L461.5 565.0L463.8 576.1L466.2 572.8L468.5 575.5L470.0 568.3L473.2 582.8L475.6 586.0L478.0 589.5L480.3 581.0L482.6 590.6L485.0 584.9L487.3 582.8L489.7 589.2L493.0 594.1L494.4 580.3L496.7 586.2L500.0 580.6L501.4 575.8L503.8 588.2L506.1 585.3L508.5 564.5L510.0 579.5L513.2 584.3L515.5 579.3L517.9 580.8L520.2 584.2L522.6 578.8L525.0 576.0L527.3 575.1L529.6 571.3L532.0 584.4L535.0 582.8L536.7 570.2L539.0 578.5L541.4 569.7L543.7 575.9L545.0 586.3L548.4 566.4L550.0 571.6L553.1 566.0L556.0 562.2L557.8 559.0L560.2 574.4L562.5 572.5L565.0 577.5L567.2 575.4L569.6 595.8L571.9 583.8L574.3 580.3L576.6 579.6L580.0 587.2L581.3 579.6L583.7 581.0L586.0 590.1L588.4 592.2L590.7 593.3L593.1 590.7L595.0 584.9L597.8 580.2L601.0 588.7L602.5 590.1L604.8 587.1L606.0 575.5L609.5 575.9L612.0 572.6L614.2 571.8L616.6 572.5L618.9 575.4L622.0 580.7L623.6 578.7L626.0 575.2L628.3 574.5L630.0 579.6L633.0 579.2L635.4 568.4L637.7 578.9L640.1 574.7L642.4 577.8L645.0 580.9L647.1 586.5L650.0 582.8L651.8 585.7L654.2 577.5L656.5 590.5L660.0 588.3L661.2 582.3L664.0 587.8L665.9 581.5L668.3 576.3L670.6 587.8L672.0 578.7L675.3 577.5L677.0 562.0L680.0 563.4" stroke="#008000" stroke-width="1.75" fill="none" stroke-linejoin="round"/></g><path d="M391.00 562.00L391.00 557.20M391.00 442.60L391.00 447.40M449.60 562.00L449.60 557.20M449.60 442.60L449.60 447.40M508.20 562.00L508.20 557.20M508.20 442.60L508.20 447.40M566.80 562.00L566.80 557.20M566.80 442.60L566.80 447.40M625.40 562.00L625.40 557.20M625.40 442.60L625.40 447.40M684.00 562.00L684.00 557.20M684.00 442.60L684.00 447.40M391.00 551.40L395.80 551.40M684.00 551.40L679.20 551.40M391.00 531.72L395.80 531.72M684.00 531.72L679.20 531.72M391.00 512.04L395.80 512.04M684.00 512.04L679.20 512.04M391.00 492.36L395.80 492.36M684.00 492.36L679.20 492.36M391.00 472.68L395.80 472.68M684.00 472.68L679.20 472.68M391.00 453.00L395.80 453.00M684.00 453.00L679.20 453.00M402.72 562.00L402.72 559.50M402.72 442.60L402.72 445.10M414.44 562.00L414.44 559.50M414.44 442.60L414.44 445.10M426.16 562.00L426.16 559.50M426.16 442.60L426.16 445.10M437.88 562.00L437.88 559.50M437.88 442.60L437.88 445.10M461.32 562.00L461.32 559.50M461.32 442.60L461.32 445.10M473.04 562.00L473.04 559.50M473.04 442.60L473.04 445.10M484.76 562.00L484.76 559.50M484.76 442.60L484.76 445.10M496.48 562.00L496.48 559.50M496.48 442.60L496.48 445.10M519.92 562.00L519.92 559.50M519.92 442.60L519.92 445.10M531.64 562.00L531.64 559.50M531.64 442.60L531.64 445.10M543.36 562.00L543.36 559.50M543.36 442.60L543.36 445.10M555.08 562.00L555.08 559.50M555.08 442.60L555.08 445.10M578.52 562.00L578.52 559.50M578.52 442.60L578.52 445.10M590.24 562.00L590.24 559.50M590.24 442.60L590.24 445.10M601.96 562.00L601.96 559.50M601.96 442.60L601.96 445.10M613.68 562.00L613.68 559.50M613.68 442.60L613.68 445.10M637.12 562.00L637.12 559.50M637.12 442.60L637.12 445.10M648.84 562.00L648.84 559.50M648.84 442.60L648.84 445.10M660.56 562.00L660.56 559.50M660.56 442.60L660.56 445.10M672.28 562.00L672.28 559.50M672.28 442.60L672.28 445.10M391.00 561.24L393.50 561.24M684.00 561.24L681.50 561.24M391.00 541.56L393.50 541.56M684.00 541.56L681.50 541.56M391.00 521.88L393.50 521.88M684.00 521.88L681.50 521.88M391.00 502.20L393.50 502.20M684.00 502.20L681.50 502.20M391.00 482.52L393.50 482.52M684.00 482.52L681.50 482.52M391.00 462.84L393.50 462.84M684.00 462.84L681.50 462.84M391.00 443.16L393.50 443.16M684.00 443.16L681.50 443.16" stroke="#000" stroke-width="0.7" fill="none"/><rect x="391.0" y="442.6" width="293.00" height="119.40" fill="none" stroke="#000" stroke-width="1.25"/><text transform="translate(388.40,556.30) scale(1,1.06)" text-anchor="end">0.94</text><text transform="translate(388.40,536.62) scale(1,1.06)" text-anchor="end">0.96</text><text transform="translate(388.40,516.94) scale(1,1.06)" text-anchor="end">0.98</text><text transform="translate(388.40,497.26) scale(1,1.06)" text-anchor="end">1.00</text><text transform="translate(388.40,477.58) scale(1,1.06)" text-anchor="end">1.02</text><text transform="translate(388.40,457.90) scale(1,1.06)" text-anchor="end">1.04</text><path d="M391.00 630.45L391.00 625.65M391.00 562.00L391.00 566.80M449.60 630.45L449.60 625.65M449.60 562.00L449.60 566.80M508.20 630.45L508.20 625.65M508.20 562.00L508.20 566.80M566.80 630.45L566.80 625.65M566.80 562.00L566.80 566.80M625.40 630.45L625.40 625.65M625.40 562.00L625.40 566.80M684.00 630.45L684.00 625.65M684.00 562.00L684.00 566.80M391.00 619.04L395.80 619.04M684.00 619.04L679.20 619.04M391.00 596.23L395.80 596.23M684.00 596.23L679.20 596.23M391.00 573.41L395.80 573.41M684.00 573.41L679.20 573.41M402.72 630.45L402.72 627.95M402.72 562.00L402.72 564.50M414.44 630.45L414.44 627.95M414.44 562.00L414.44 564.50M426.16 630.45L426.16 627.95M426.16 562.00L426.16 564.50M437.88 630.45L437.88 627.95M437.88 562.00L437.88 564.50M461.32 630.45L461.32 627.95M461.32 562.00L461.32 564.50M473.04 630.45L473.04 627.95M473.04 562.00L473.04 564.50M484.76 630.45L484.76 627.95M484.76 562.00L484.76 564.50M496.48 630.45L496.48 627.95M496.48 562.00L496.48 564.50M519.92 630.45L519.92 627.95M519.92 562.00L519.92 564.50M531.64 630.45L531.64 627.95M531.64 562.00L531.64 564.50M543.36 630.45L543.36 627.95M543.36 562.00L543.36 564.50M555.08 630.45L555.08 627.95M555.08 562.00L555.08 564.50M578.52 630.45L578.52 627.95M578.52 562.00L578.52 564.50M590.24 630.45L590.24 627.95M590.24 562.00L590.24 564.50M601.96 630.45L601.96 627.95M601.96 562.00L601.96 564.50M613.68 630.45L613.68 627.95M613.68 562.00L613.68 564.50M637.12 630.45L637.12 627.95M637.12 562.00L637.12 564.50M648.84 630.45L648.84 627.95M648.84 562.00L648.84 564.50M660.56 630.45L660.56 627.95M660.56 562.00L660.56 564.50M672.28 630.45L672.28 627.95M672.28 562.00L672.28 564.50M391.00 630.45L393.50 630.45M684.00 630.45L681.50 630.45M391.00 607.63L393.50 607.63M684.00 607.63L681.50 607.63M391.00 584.82L393.50 584.82M684.00 584.82L681.50 584.82M391.00 562.00L393.50 562.00M684.00 562.00L681.50 562.00" stroke="#000" stroke-width="0.7" fill="none"/><rect x="391.0" y="562.0" width="293.00" height="68.45" fill="none" stroke="#000" stroke-width="1.25"/><text transform="translate(388.40,577.81) scale(1,1.06)" text-anchor="end">2</text><text transform="translate(388.40,600.62) scale(1,1.06)" text-anchor="end">0</text><text transform="translate(388.40,623.44) scale(1,1.06)" text-anchor="end">−2</text><text transform="translate(391.80,647.15) scale(1,1.06)" text-anchor="middle">0.97</text><text transform="translate(450.40,647.15) scale(1,1.06)" text-anchor="middle">0.98</text><text transform="translate(509.00,647.15) scale(1,1.06)" text-anchor="middle">0.99</text><text transform="translate(567.60,647.15) scale(1,1.06)" text-anchor="middle">1.00</text><text transform="translate(626.20,647.15) scale(1,1.06)" text-anchor="middle">1.01</text><text transform="translate(684.80,647.15) scale(1,1.06)" text-anchor="middle">1.02</text><text transform="translate(19.8,66.65) rotate(-90) scale(1,1.06)" text-anchor="middle">Relative flux</text><text transform="translate(11.2,160.35) rotate(-90) scale(1,1.06)" text-anchor="middle">% resid</text><text transform="translate(20.0,284.30) rotate(-90) scale(1,1.06)" text-anchor="middle">Relative flux</text><text transform="translate(21.1,378.20) rotate(-90) scale(1,1.06)" text-anchor="middle">% resid</text><text transform="translate(20.0,502.30) rotate(-90) scale(1,1.06)" text-anchor="middle">Relative flux</text><text transform="translate(21.1,596.23) rotate(-90) scale(1,1.06)" text-anchor="middle">% resid</text><text transform="translate(347.7,669.9) scale(1,1.06)" text-anchor="middle">Rest wavelength [micron]</text><text transform="translate(340.6,95.5) scale(1,1.06)" text-anchor="end" fill="#ff0000">SNL-0</text><text transform="translate(340.6,109.2) scale(1,1.06)" text-anchor="end" fill="#008000">SNL-1</text><text transform="translate(340.6,123.0) scale(1,1.06)" text-anchor="end" fill="#1e90ff">SNL-2</text></svg></body></html>
